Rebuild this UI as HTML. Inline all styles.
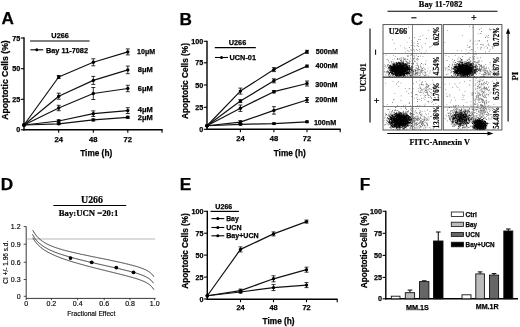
<!DOCTYPE html>
<html><head><meta charset="utf-8"><style>
html,body{margin:0;padding:0;background:#fff;}
body{width:520px;height:327px;overflow:hidden;}
svg{display:block;filter:blur(0.35px);}
.sb{stroke:#000;stroke-width:0.25px;paint-order:stroke;}
.ss{stroke:#000;stroke-width:0.2px;paint-order:stroke;}
.sr{stroke:#000;stroke-width:0.15px;paint-order:stroke;}
</style></head><body>
<svg width="520" height="327" viewBox="0 0 520 327">
<rect width="520" height="327" fill="#fff"/>
<text class="sb" x="1.5" y="24.2" font-family="Liberation Sans, sans-serif" font-size="17.2" font-weight="bold" text-anchor="start" fill="#000">A</text>
<line x1="24" y1="37.3" x2="24" y2="130.5" stroke="#000" stroke-width="1.4"/>
<line x1="23.3" y1="129.8" x2="162.7" y2="129.8" stroke="#000" stroke-width="1.4"/>
<line x1="20.8" y1="38" x2="24" y2="38" stroke="#000" stroke-width="1.1"/>
<text class="sb" x="20.3" y="40.5" font-family="Liberation Sans, sans-serif" font-size="7.2" font-weight="bold" text-anchor="end" fill="#000">75</text>
<line x1="20.8" y1="68.7" x2="24" y2="68.7" stroke="#000" stroke-width="1.1"/>
<text class="sb" x="20.3" y="71.2" font-family="Liberation Sans, sans-serif" font-size="7.2" font-weight="bold" text-anchor="end" fill="#000">50</text>
<line x1="20.8" y1="99.3" x2="24" y2="99.3" stroke="#000" stroke-width="1.1"/>
<text class="sb" x="20.3" y="101.8" font-family="Liberation Sans, sans-serif" font-size="7.2" font-weight="bold" text-anchor="end" fill="#000">25</text>
<line x1="20.8" y1="129.8" x2="24" y2="129.8" stroke="#000" stroke-width="1.1"/>
<text class="sb" x="20.3" y="132.3" font-family="Liberation Sans, sans-serif" font-size="7.2" font-weight="bold" text-anchor="end" fill="#000">0</text>
<line x1="58.7" y1="129.8" x2="58.7" y2="132.8" stroke="#000" stroke-width="1.1"/>
<text class="sb" x="58.7" y="141.6" font-family="Liberation Sans, sans-serif" font-size="7.6" font-weight="bold" text-anchor="middle" fill="#000">24</text>
<line x1="93.3" y1="129.8" x2="93.3" y2="132.8" stroke="#000" stroke-width="1.1"/>
<text class="sb" x="93.3" y="141.6" font-family="Liberation Sans, sans-serif" font-size="7.6" font-weight="bold" text-anchor="middle" fill="#000">48</text>
<line x1="127.8" y1="129.8" x2="127.8" y2="132.8" stroke="#000" stroke-width="1.1"/>
<text class="sb" x="127.8" y="141.6" font-family="Liberation Sans, sans-serif" font-size="7.6" font-weight="bold" text-anchor="middle" fill="#000">72</text>
<line x1="162" y1="129.8" x2="162" y2="132.8" stroke="#000" stroke-width="1.1"/>
<text class="sb" x="96.2" y="156" font-family="Liberation Sans, sans-serif" font-size="8.3" font-weight="bold" text-anchor="middle" fill="#000" textLength="32" lengthAdjust="spacingAndGlyphs">Time (h)</text>
<text class="sb" x="8.2" y="80.0" font-family="Liberation Sans, sans-serif" font-size="8.6" font-weight="bold" text-anchor="middle" fill="#000" transform="rotate(-90 8.2 80.0)" textLength="79.5" lengthAdjust="spacingAndGlyphs">Apoptotic Cells (%)</text>
<text class="sb" x="60.1" y="38.1" font-family="Liberation Sans, sans-serif" font-size="7.4" font-weight="bold" text-anchor="middle" fill="#000" textLength="17.5" lengthAdjust="spacingAndGlyphs">U266</text>
<line x1="30.1" y1="41" x2="89.6" y2="41" stroke="#000" stroke-width="1.2"/>
<line x1="30.4" y1="49.8" x2="43.2" y2="49.8" stroke="#000" stroke-width="1.1"/>
<circle cx="36.8" cy="49.8" r="1.5" fill="#000"/>
<text class="sb" x="46.0" y="52.9" font-family="Liberation Sans, sans-serif" font-size="7.7" font-weight="bold" text-anchor="start" fill="#000" textLength="42" lengthAdjust="spacingAndGlyphs">Bay 11-7082</text>
<polyline points="24,125 58.7,77 93.3,62.3 127.8,51.9" fill="none" stroke="#111" stroke-width="1.2" stroke-linejoin="round"/>
<circle cx="24" cy="125" r="1.7" fill="#000"/>
<line x1="58.7" y1="75.5" x2="58.7" y2="78.5" stroke="#000" stroke-width="0.8"/>
<line x1="56.7" y1="75.5" x2="60.7" y2="75.5" stroke="#000" stroke-width="0.8"/>
<line x1="56.7" y1="78.5" x2="60.7" y2="78.5" stroke="#000" stroke-width="0.8"/>
<circle cx="58.7" cy="77" r="1.7" fill="#000"/>
<line x1="93.3" y1="58.8" x2="93.3" y2="65.8" stroke="#000" stroke-width="0.8"/>
<line x1="91.3" y1="58.8" x2="95.3" y2="58.8" stroke="#000" stroke-width="0.8"/>
<line x1="91.3" y1="65.8" x2="95.3" y2="65.8" stroke="#000" stroke-width="0.8"/>
<circle cx="93.3" cy="62.3" r="1.7" fill="#000"/>
<line x1="127.8" y1="48.9" x2="127.8" y2="54.9" stroke="#000" stroke-width="0.8"/>
<line x1="125.8" y1="48.9" x2="129.8" y2="48.9" stroke="#000" stroke-width="0.8"/>
<line x1="125.8" y1="54.9" x2="129.8" y2="54.9" stroke="#000" stroke-width="0.8"/>
<circle cx="127.8" cy="51.9" r="1.7" fill="#000"/>
<polyline points="24,125 58.7,96.2 93.3,80.4 127.8,69.9" fill="none" stroke="#111" stroke-width="1.2" stroke-linejoin="round"/>
<circle cx="24" cy="125" r="1.7" fill="#000"/>
<line x1="58.7" y1="93.2" x2="58.7" y2="99.2" stroke="#000" stroke-width="0.8"/>
<line x1="56.7" y1="93.2" x2="60.7" y2="93.2" stroke="#000" stroke-width="0.8"/>
<line x1="56.7" y1="99.2" x2="60.7" y2="99.2" stroke="#000" stroke-width="0.8"/>
<circle cx="58.7" cy="96.2" r="1.7" fill="#000"/>
<line x1="93.3" y1="76.4" x2="93.3" y2="84.4" stroke="#000" stroke-width="0.8"/>
<line x1="91.3" y1="76.4" x2="95.3" y2="76.4" stroke="#000" stroke-width="0.8"/>
<line x1="91.3" y1="84.4" x2="95.3" y2="84.4" stroke="#000" stroke-width="0.8"/>
<circle cx="93.3" cy="80.4" r="1.7" fill="#000"/>
<line x1="127.8" y1="66.10000000000001" x2="127.8" y2="73.7" stroke="#000" stroke-width="0.8"/>
<line x1="125.8" y1="66.10000000000001" x2="129.8" y2="66.10000000000001" stroke="#000" stroke-width="0.8"/>
<line x1="125.8" y1="73.7" x2="129.8" y2="73.7" stroke="#000" stroke-width="0.8"/>
<circle cx="127.8" cy="69.9" r="1.7" fill="#000"/>
<polyline points="24,125 58.7,108 93.3,93.5 127.8,88.5" fill="none" stroke="#111" stroke-width="1.2" stroke-linejoin="round"/>
<circle cx="24" cy="125" r="1.7" fill="#000"/>
<line x1="58.7" y1="105.3" x2="58.7" y2="110.7" stroke="#000" stroke-width="0.8"/>
<line x1="56.7" y1="105.3" x2="60.7" y2="105.3" stroke="#000" stroke-width="0.8"/>
<line x1="56.7" y1="110.7" x2="60.7" y2="110.7" stroke="#000" stroke-width="0.8"/>
<circle cx="58.7" cy="108" r="1.7" fill="#000"/>
<line x1="93.3" y1="87.5" x2="93.3" y2="99.5" stroke="#000" stroke-width="0.8"/>
<line x1="91.3" y1="87.5" x2="95.3" y2="87.5" stroke="#000" stroke-width="0.8"/>
<line x1="91.3" y1="99.5" x2="95.3" y2="99.5" stroke="#000" stroke-width="0.8"/>
<circle cx="93.3" cy="93.5" r="1.7" fill="#000"/>
<line x1="127.8" y1="85.3" x2="127.8" y2="91.7" stroke="#000" stroke-width="0.8"/>
<line x1="125.8" y1="85.3" x2="129.8" y2="85.3" stroke="#000" stroke-width="0.8"/>
<line x1="125.8" y1="91.7" x2="129.8" y2="91.7" stroke="#000" stroke-width="0.8"/>
<circle cx="127.8" cy="88.5" r="1.7" fill="#000"/>
<polyline points="24,125 58.7,121 93.3,113.7 127.8,110.6" fill="none" stroke="#111" stroke-width="1.2" stroke-linejoin="round"/>
<circle cx="24" cy="125" r="1.7" fill="#000"/>
<line x1="58.7" y1="119.8" x2="58.7" y2="122.2" stroke="#000" stroke-width="0.8"/>
<line x1="56.7" y1="119.8" x2="60.7" y2="119.8" stroke="#000" stroke-width="0.8"/>
<line x1="56.7" y1="122.2" x2="60.7" y2="122.2" stroke="#000" stroke-width="0.8"/>
<circle cx="58.7" cy="121" r="1.7" fill="#000"/>
<line x1="93.3" y1="110.9" x2="93.3" y2="116.5" stroke="#000" stroke-width="0.8"/>
<line x1="91.3" y1="110.9" x2="95.3" y2="110.9" stroke="#000" stroke-width="0.8"/>
<line x1="91.3" y1="116.5" x2="95.3" y2="116.5" stroke="#000" stroke-width="0.8"/>
<circle cx="93.3" cy="113.7" r="1.7" fill="#000"/>
<line x1="127.8" y1="107.69999999999999" x2="127.8" y2="113.5" stroke="#000" stroke-width="0.8"/>
<line x1="125.8" y1="107.69999999999999" x2="129.8" y2="107.69999999999999" stroke="#000" stroke-width="0.8"/>
<line x1="125.8" y1="113.5" x2="129.8" y2="113.5" stroke="#000" stroke-width="0.8"/>
<circle cx="127.8" cy="110.6" r="1.7" fill="#000"/>
<polyline points="24,125 58.7,123.8 93.3,119.9 127.8,117.3" fill="none" stroke="#111" stroke-width="1.2" stroke-linejoin="round"/>
<circle cx="24" cy="125" r="1.7" fill="#000"/>
<line x1="58.7" y1="123.0" x2="58.7" y2="124.6" stroke="#000" stroke-width="0.8"/>
<line x1="56.7" y1="123.0" x2="60.7" y2="123.0" stroke="#000" stroke-width="0.8"/>
<line x1="56.7" y1="124.6" x2="60.7" y2="124.6" stroke="#000" stroke-width="0.8"/>
<circle cx="58.7" cy="123.8" r="1.7" fill="#000"/>
<line x1="93.3" y1="118.9" x2="93.3" y2="120.9" stroke="#000" stroke-width="0.8"/>
<line x1="91.3" y1="118.9" x2="95.3" y2="118.9" stroke="#000" stroke-width="0.8"/>
<line x1="91.3" y1="120.9" x2="95.3" y2="120.9" stroke="#000" stroke-width="0.8"/>
<circle cx="93.3" cy="119.9" r="1.7" fill="#000"/>
<line x1="127.8" y1="116.3" x2="127.8" y2="118.3" stroke="#000" stroke-width="0.8"/>
<line x1="125.8" y1="116.3" x2="129.8" y2="116.3" stroke="#000" stroke-width="0.8"/>
<line x1="125.8" y1="118.3" x2="129.8" y2="118.3" stroke="#000" stroke-width="0.8"/>
<circle cx="127.8" cy="117.3" r="1.7" fill="#000"/>
<text class="sb" x="137.1" y="53.6" font-family="Liberation Sans, sans-serif" font-size="7.4" font-weight="bold" text-anchor="start" fill="#000" textLength="18" lengthAdjust="spacingAndGlyphs">10&#956;M</text>
<text class="sb" x="137.8" y="71.5" font-family="Liberation Sans, sans-serif" font-size="7.4" font-weight="bold" text-anchor="start" fill="#000" textLength="15" lengthAdjust="spacingAndGlyphs">8&#956;M</text>
<text class="sb" x="137.8" y="90.8" font-family="Liberation Sans, sans-serif" font-size="7.4" font-weight="bold" text-anchor="start" fill="#000" textLength="15" lengthAdjust="spacingAndGlyphs">6&#956;M</text>
<text class="sb" x="137.8" y="112.0" font-family="Liberation Sans, sans-serif" font-size="7.4" font-weight="bold" text-anchor="start" fill="#000" textLength="15" lengthAdjust="spacingAndGlyphs">4&#956;M</text>
<text class="sb" x="137.8" y="120.39999999999999" font-family="Liberation Sans, sans-serif" font-size="7.4" font-weight="bold" text-anchor="start" fill="#000" textLength="15" lengthAdjust="spacingAndGlyphs">2&#956;M</text>
<text class="sb" x="179.5" y="24.7" font-family="Liberation Sans, sans-serif" font-size="17.2" font-weight="bold" text-anchor="start" fill="#000">B</text>
<line x1="207" y1="40.8" x2="207" y2="130.0" stroke="#000" stroke-width="1.4"/>
<line x1="206.3" y1="129.3" x2="340.7" y2="129.3" stroke="#000" stroke-width="1.4"/>
<line x1="203.8" y1="41.3" x2="207" y2="41.3" stroke="#000" stroke-width="1.1"/>
<text class="sb" x="203.3" y="43.8" font-family="Liberation Sans, sans-serif" font-size="7.2" font-weight="bold" text-anchor="end" fill="#000">100</text>
<line x1="203.8" y1="62.8" x2="207" y2="62.8" stroke="#000" stroke-width="1.1"/>
<text class="sb" x="203.3" y="65.3" font-family="Liberation Sans, sans-serif" font-size="7.2" font-weight="bold" text-anchor="end" fill="#000">75</text>
<line x1="203.8" y1="85" x2="207" y2="85" stroke="#000" stroke-width="1.1"/>
<text class="sb" x="203.3" y="87.5" font-family="Liberation Sans, sans-serif" font-size="7.2" font-weight="bold" text-anchor="end" fill="#000">50</text>
<line x1="203.8" y1="107.3" x2="207" y2="107.3" stroke="#000" stroke-width="1.1"/>
<text class="sb" x="203.3" y="109.8" font-family="Liberation Sans, sans-serif" font-size="7.2" font-weight="bold" text-anchor="end" fill="#000">25</text>
<line x1="203.8" y1="129.3" x2="207" y2="129.3" stroke="#000" stroke-width="1.1"/>
<text class="sb" x="203.3" y="131.8" font-family="Liberation Sans, sans-serif" font-size="7.2" font-weight="bold" text-anchor="end" fill="#000">0</text>
<line x1="240.4" y1="129.3" x2="240.4" y2="132.3" stroke="#000" stroke-width="1.1"/>
<text class="sb" x="240.4" y="140.8" font-family="Liberation Sans, sans-serif" font-size="7.6" font-weight="bold" text-anchor="middle" fill="#000">24</text>
<line x1="273.9" y1="129.3" x2="273.9" y2="132.3" stroke="#000" stroke-width="1.1"/>
<text class="sb" x="273.9" y="140.8" font-family="Liberation Sans, sans-serif" font-size="7.6" font-weight="bold" text-anchor="middle" fill="#000">48</text>
<line x1="307" y1="129.3" x2="307" y2="132.3" stroke="#000" stroke-width="1.1"/>
<text class="sb" x="307" y="140.8" font-family="Liberation Sans, sans-serif" font-size="7.6" font-weight="bold" text-anchor="middle" fill="#000">72</text>
<line x1="340.2" y1="129.3" x2="340.2" y2="132.3" stroke="#000" stroke-width="1.1"/>
<text class="sb" x="289.7" y="156" font-family="Liberation Sans, sans-serif" font-size="8.3" font-weight="bold" text-anchor="middle" fill="#000" textLength="32" lengthAdjust="spacingAndGlyphs">Time (h)</text>
<text class="sb" x="188.0" y="81.0" font-family="Liberation Sans, sans-serif" font-size="8.4" font-weight="bold" text-anchor="middle" fill="#000" transform="rotate(-90 188.0 81.0)" textLength="75.8" lengthAdjust="spacingAndGlyphs">Apoptotic Cells (%)</text>
<text class="sb" x="237.5" y="45.0" font-family="Liberation Sans, sans-serif" font-size="7.4" font-weight="bold" text-anchor="middle" fill="#000" textLength="17.5" lengthAdjust="spacingAndGlyphs">U266</text>
<line x1="214.8" y1="47.6" x2="255.8" y2="47.6" stroke="#000" stroke-width="1.2"/>
<line x1="215" y1="57.5" x2="228" y2="57.5" stroke="#000" stroke-width="1.1"/>
<circle cx="221.5" cy="57.5" r="1.5" fill="#000"/>
<text class="sb" x="229.5" y="60.3" font-family="Liberation Sans, sans-serif" font-size="7.7" font-weight="bold" text-anchor="start" fill="#000" textLength="26.5" lengthAdjust="spacingAndGlyphs">UCN-01</text>
<polyline points="207,125.75 240.4,91.1 273.9,69.6 307,51.8" fill="none" stroke="#111" stroke-width="1.2" stroke-linejoin="round"/>
<circle cx="207" cy="125.75" r="1.7" fill="#000"/>
<line x1="240.4" y1="88.1" x2="240.4" y2="94.1" stroke="#000" stroke-width="0.8"/>
<line x1="238.4" y1="88.1" x2="242.4" y2="88.1" stroke="#000" stroke-width="0.8"/>
<line x1="238.4" y1="94.1" x2="242.4" y2="94.1" stroke="#000" stroke-width="0.8"/>
<circle cx="240.4" cy="91.1" r="1.7" fill="#000"/>
<line x1="273.9" y1="67.6" x2="273.9" y2="71.6" stroke="#000" stroke-width="0.8"/>
<line x1="271.9" y1="67.6" x2="275.9" y2="67.6" stroke="#000" stroke-width="0.8"/>
<line x1="271.9" y1="71.6" x2="275.9" y2="71.6" stroke="#000" stroke-width="0.8"/>
<circle cx="273.9" cy="69.6" r="1.7" fill="#000"/>
<line x1="307" y1="50.3" x2="307" y2="53.3" stroke="#000" stroke-width="0.8"/>
<line x1="305" y1="50.3" x2="309" y2="50.3" stroke="#000" stroke-width="0.8"/>
<line x1="305" y1="53.3" x2="309" y2="53.3" stroke="#000" stroke-width="0.8"/>
<circle cx="307" cy="51.8" r="1.7" fill="#000"/>
<polyline points="207,125.75 240.4,101.1 273.9,80.8 307,66.1" fill="none" stroke="#111" stroke-width="1.2" stroke-linejoin="round"/>
<circle cx="207" cy="125.75" r="1.7" fill="#000"/>
<line x1="240.4" y1="99.6" x2="240.4" y2="102.6" stroke="#000" stroke-width="0.8"/>
<line x1="238.4" y1="99.6" x2="242.4" y2="99.6" stroke="#000" stroke-width="0.8"/>
<line x1="238.4" y1="102.6" x2="242.4" y2="102.6" stroke="#000" stroke-width="0.8"/>
<circle cx="240.4" cy="101.1" r="1.7" fill="#000"/>
<line x1="273.9" y1="78.8" x2="273.9" y2="82.8" stroke="#000" stroke-width="0.8"/>
<line x1="271.9" y1="78.8" x2="275.9" y2="78.8" stroke="#000" stroke-width="0.8"/>
<line x1="271.9" y1="82.8" x2="275.9" y2="82.8" stroke="#000" stroke-width="0.8"/>
<circle cx="273.9" cy="80.8" r="1.7" fill="#000"/>
<line x1="307" y1="65.1" x2="307" y2="67.1" stroke="#000" stroke-width="0.8"/>
<line x1="305" y1="65.1" x2="309" y2="65.1" stroke="#000" stroke-width="0.8"/>
<line x1="305" y1="67.1" x2="309" y2="67.1" stroke="#000" stroke-width="0.8"/>
<circle cx="307" cy="66.1" r="1.7" fill="#000"/>
<polyline points="207,125.75 240.4,108.2 273.9,91.7 307,83.5" fill="none" stroke="#111" stroke-width="1.2" stroke-linejoin="round"/>
<circle cx="207" cy="125.75" r="1.7" fill="#000"/>
<line x1="240.4" y1="105.0" x2="240.4" y2="111.4" stroke="#000" stroke-width="0.8"/>
<line x1="238.4" y1="105.0" x2="242.4" y2="105.0" stroke="#000" stroke-width="0.8"/>
<line x1="238.4" y1="111.4" x2="242.4" y2="111.4" stroke="#000" stroke-width="0.8"/>
<circle cx="240.4" cy="108.2" r="1.7" fill="#000"/>
<line x1="273.9" y1="90.5" x2="273.9" y2="92.9" stroke="#000" stroke-width="0.8"/>
<line x1="271.9" y1="90.5" x2="275.9" y2="90.5" stroke="#000" stroke-width="0.8"/>
<line x1="271.9" y1="92.9" x2="275.9" y2="92.9" stroke="#000" stroke-width="0.8"/>
<circle cx="273.9" cy="91.7" r="1.7" fill="#000"/>
<line x1="307" y1="81.0" x2="307" y2="86.0" stroke="#000" stroke-width="0.8"/>
<line x1="305" y1="81.0" x2="309" y2="81.0" stroke="#000" stroke-width="0.8"/>
<line x1="305" y1="86.0" x2="309" y2="86.0" stroke="#000" stroke-width="0.8"/>
<circle cx="307" cy="83.5" r="1.7" fill="#000"/>
<polyline points="207,125.75 240.4,122.1 273.9,110.4 307,100" fill="none" stroke="#111" stroke-width="1.2" stroke-linejoin="round"/>
<circle cx="207" cy="125.75" r="1.7" fill="#000"/>
<line x1="240.4" y1="120.6" x2="240.4" y2="123.6" stroke="#000" stroke-width="0.8"/>
<line x1="238.4" y1="120.6" x2="242.4" y2="120.6" stroke="#000" stroke-width="0.8"/>
<line x1="238.4" y1="123.6" x2="242.4" y2="123.6" stroke="#000" stroke-width="0.8"/>
<circle cx="240.4" cy="122.1" r="1.7" fill="#000"/>
<line x1="273.9" y1="106.7" x2="273.9" y2="114.10000000000001" stroke="#000" stroke-width="0.8"/>
<line x1="271.9" y1="106.7" x2="275.9" y2="106.7" stroke="#000" stroke-width="0.8"/>
<line x1="271.9" y1="114.10000000000001" x2="275.9" y2="114.10000000000001" stroke="#000" stroke-width="0.8"/>
<circle cx="273.9" cy="110.4" r="1.7" fill="#000"/>
<line x1="307" y1="97.5" x2="307" y2="102.5" stroke="#000" stroke-width="0.8"/>
<line x1="305" y1="97.5" x2="309" y2="97.5" stroke="#000" stroke-width="0.8"/>
<line x1="305" y1="102.5" x2="309" y2="102.5" stroke="#000" stroke-width="0.8"/>
<circle cx="307" cy="100" r="1.7" fill="#000"/>
<polyline points="207,125.75 240.4,124.3 273.9,123.6 307,121.8" fill="none" stroke="#111" stroke-width="1.2" stroke-linejoin="round"/>
<circle cx="207" cy="125.75" r="1.7" fill="#000"/>
<line x1="240.4" y1="123.5" x2="240.4" y2="125.1" stroke="#000" stroke-width="0.8"/>
<line x1="238.4" y1="123.5" x2="242.4" y2="123.5" stroke="#000" stroke-width="0.8"/>
<line x1="238.4" y1="125.1" x2="242.4" y2="125.1" stroke="#000" stroke-width="0.8"/>
<circle cx="240.4" cy="124.3" r="1.7" fill="#000"/>
<line x1="273.9" y1="122.8" x2="273.9" y2="124.39999999999999" stroke="#000" stroke-width="0.8"/>
<line x1="271.9" y1="122.8" x2="275.9" y2="122.8" stroke="#000" stroke-width="0.8"/>
<line x1="271.9" y1="124.39999999999999" x2="275.9" y2="124.39999999999999" stroke="#000" stroke-width="0.8"/>
<circle cx="273.9" cy="123.6" r="1.7" fill="#000"/>
<line x1="307" y1="121.0" x2="307" y2="122.6" stroke="#000" stroke-width="0.8"/>
<line x1="305" y1="121.0" x2="309" y2="121.0" stroke="#000" stroke-width="0.8"/>
<line x1="305" y1="122.6" x2="309" y2="122.6" stroke="#000" stroke-width="0.8"/>
<circle cx="307" cy="121.8" r="1.7" fill="#000"/>
<text class="sb" x="315.8" y="54.2" font-family="Liberation Sans, sans-serif" font-size="7.4" font-weight="bold" text-anchor="start" fill="#000" textLength="22.3" lengthAdjust="spacingAndGlyphs">500nM</text>
<text class="sb" x="315.5" y="67.89999999999999" font-family="Liberation Sans, sans-serif" font-size="7.4" font-weight="bold" text-anchor="start" fill="#000" textLength="22.3" lengthAdjust="spacingAndGlyphs">400nM</text>
<text class="sb" x="315.3" y="87.19999999999999" font-family="Liberation Sans, sans-serif" font-size="7.4" font-weight="bold" text-anchor="start" fill="#000" textLength="22.3" lengthAdjust="spacingAndGlyphs">300nM</text>
<text class="sb" x="315.3" y="101.8" font-family="Liberation Sans, sans-serif" font-size="7.4" font-weight="bold" text-anchor="start" fill="#000" textLength="22.3" lengthAdjust="spacingAndGlyphs">200nM</text>
<text class="sb" x="313.9" y="124.5" font-family="Liberation Sans, sans-serif" font-size="7.4" font-weight="bold" text-anchor="start" fill="#000" textLength="22.3" lengthAdjust="spacingAndGlyphs">100nM</text>
<text class="sb" x="0.8" y="190.2" font-family="Liberation Sans, sans-serif" font-size="17.2" font-weight="bold" text-anchor="start" fill="#000">D</text>
<text class="ss" x="92" y="202.8" font-family="Liberation Serif, serif" font-size="9.8" font-weight="bold" text-anchor="middle" fill="#000" textLength="22" lengthAdjust="spacingAndGlyphs">U266</text>
<line x1="53.4" y1="205.5" x2="126.2" y2="205.5" stroke="#000" stroke-width="1.1"/>
<text class="ss" x="88.5" y="216.3" font-family="Liberation Serif, serif" font-size="8.5" font-weight="bold" text-anchor="middle" fill="#000" textLength="59.5" lengthAdjust="spacingAndGlyphs">Bay:UCN =20:1</text>
<line x1="26.2" y1="226.5" x2="26.2" y2="300" stroke="#222" stroke-width="0.9"/>
<line x1="26.2" y1="298.4" x2="155.5" y2="298.4" stroke="#222" stroke-width="0.9"/>
<line x1="23.7" y1="226.5" x2="26.2" y2="226.5" stroke="#222" stroke-width="0.8"/>
<text class="sr" x="20.6" y="229.0" font-family="Liberation Sans, sans-serif" font-size="7" text-anchor="end" fill="#000">1.2</text>
<line x1="23.7" y1="244.2" x2="26.2" y2="244.2" stroke="#222" stroke-width="0.8"/>
<text class="sr" x="20.6" y="246.7" font-family="Liberation Sans, sans-serif" font-size="7" text-anchor="end" fill="#000">0.9</text>
<line x1="23.7" y1="262.3" x2="26.2" y2="262.3" stroke="#222" stroke-width="0.8"/>
<text class="sr" x="20.6" y="264.8" font-family="Liberation Sans, sans-serif" font-size="7" text-anchor="end" fill="#000">0.6</text>
<line x1="23.7" y1="279.5" x2="26.2" y2="279.5" stroke="#222" stroke-width="0.8"/>
<text class="sr" x="20.6" y="282.0" font-family="Liberation Sans, sans-serif" font-size="7" text-anchor="end" fill="#000">0.3</text>
<line x1="23.7" y1="296.3" x2="26.2" y2="296.3" stroke="#222" stroke-width="0.8"/>
<text class="sr" x="20.6" y="298.8" font-family="Liberation Sans, sans-serif" font-size="7" text-anchor="end" fill="#000">0</text>
<text class="sr" x="26.1" y="305.6" font-family="Liberation Sans, sans-serif" font-size="7" text-anchor="middle" fill="#000">0</text>
<line x1="51.4" y1="298.4" x2="51.4" y2="300.2" stroke="#222" stroke-width="0.8"/>
<text class="sr" x="51.4" y="305.6" font-family="Liberation Sans, sans-serif" font-size="7" text-anchor="middle" fill="#000">0.2</text>
<line x1="77.7" y1="298.4" x2="77.7" y2="300.2" stroke="#222" stroke-width="0.8"/>
<text class="sr" x="77.7" y="305.6" font-family="Liberation Sans, sans-serif" font-size="7" text-anchor="middle" fill="#000">0.4</text>
<line x1="104.2" y1="298.4" x2="104.2" y2="300.2" stroke="#222" stroke-width="0.8"/>
<text class="sr" x="104.2" y="305.6" font-family="Liberation Sans, sans-serif" font-size="7" text-anchor="middle" fill="#000">0.6</text>
<line x1="130" y1="298.4" x2="130" y2="300.2" stroke="#222" stroke-width="0.8"/>
<text class="sr" x="130" y="305.6" font-family="Liberation Sans, sans-serif" font-size="7" text-anchor="middle" fill="#000">0.8</text>
<line x1="154.7" y1="298.4" x2="154.7" y2="300.2" stroke="#222" stroke-width="0.8"/>
<text class="sr" x="154.7" y="305.6" font-family="Liberation Sans, sans-serif" font-size="7" text-anchor="middle" fill="#000">1.0</text>
<text class="sr" x="91.3" y="316.2" font-family="Liberation Sans, sans-serif" font-size="7" text-anchor="middle" fill="#000" textLength="48" lengthAdjust="spacingAndGlyphs">Fractional Effect</text>
<text class="sr" x="8.2" y="262.2" font-family="Liberation Sans, sans-serif" font-size="6.9" text-anchor="middle" fill="#000" transform="rotate(-90 8.2 262.2)" textLength="43" lengthAdjust="spacingAndGlyphs">CI +/- 1.96 s.d.</text>
<line x1="26.2" y1="239" x2="155" y2="239" stroke="#999" stroke-width="0.7"/>
<path d="M32.8,230.3 L33.3,231.2 L33.8,232.1 L34.3,232.9 L34.8,233.6 L35.3,234.3 L35.8,235.0 L36.3,235.6 L36.8,236.2 L37.3,236.8 L37.8,237.3 L38.3,237.8 L38.8,238.3 L39.3,238.8 L39.8,239.2 L40.3,239.6 L40.8,240.0 L41.3,240.4 L41.8,240.8 L42.3,241.2 L42.8,241.5 L43.3,241.8 L43.8,242.2 L44.3,242.5 L44.8,242.8 L45.3,243.0 L45.8,243.3 L46.3,243.6 L46.8,243.9 L47.3,244.1 L47.8,244.4 L48.3,244.6 L48.8,244.9 L49.3,245.1 L49.8,245.3 L50.3,245.5 L50.8,245.7 L51.3,245.9 L51.8,246.2 L52.3,246.4 L52.8,246.5 L53.3,246.7 L53.8,246.9 L54.3,247.1 L54.8,247.3 L55.3,247.5 L55.8,247.6 L56.3,247.8 L56.8,248.0 L57.3,248.1 L57.8,248.3 L58.3,248.5 L58.8,248.6 L59.3,248.8 L59.8,248.9 L60.3,249.1 L60.8,249.2 L61.3,249.4 L61.8,249.5 L62.3,249.7 L62.8,249.8 L63.3,250.0 L63.8,250.1 L64.3,250.2 L64.8,250.4 L65.3,250.5 L65.8,250.6 L66.3,250.8 L66.8,250.9 L67.3,251.0 L67.8,251.1 L68.3,251.3 L68.8,251.4 L69.3,251.5 L69.8,251.6 L70.3,251.8 L70.8,251.9 L71.3,252.0 L71.8,252.1 L72.3,252.2 L72.8,252.4 L73.3,252.5 L73.8,252.6 L74.3,252.7 L74.8,252.8 L75.3,252.9 L75.8,253.1 L76.3,253.2 L76.8,253.3 L77.3,253.4 L77.8,253.5 L78.3,253.6 L78.8,253.7 L79.3,253.8 L79.8,253.9 L80.3,254.1 L80.8,254.2 L81.3,254.3 L81.8,254.4 L82.3,254.5 L82.8,254.6 L83.3,254.7 L83.8,254.8 L84.3,254.9 L84.8,255.0 L85.3,255.1 L85.8,255.2 L86.3,255.3 L86.8,255.4 L87.3,255.5 L87.8,255.6 L88.3,255.7 L88.8,255.8 L89.3,255.9 L89.8,256.1 L90.3,256.2 L90.8,256.3 L91.3,256.4 L91.8,256.5 L92.3,256.6 L92.8,256.7 L93.3,256.8 L93.8,256.9 L94.3,257.0 L94.8,257.1 L95.3,257.2 L95.8,257.3 L96.3,257.4 L96.8,257.5 L97.3,257.6 L97.8,257.7 L98.3,257.8 L98.8,257.9 L99.3,258.0 L99.8,258.1 L100.3,258.2 L100.8,258.3 L101.3,258.4 L101.8,258.5 L102.3,258.6 L102.8,258.7 L103.3,258.8 L103.8,258.9 L104.3,259.0 L104.8,259.1 L105.3,259.2 L105.8,259.3 L106.3,259.4 L106.8,259.5 L107.3,259.6 L107.8,259.7 L108.3,259.8 L108.8,259.9 L109.3,260.0 L109.8,260.1 L110.3,260.3 L110.8,260.4 L111.3,260.5 L111.8,260.6 L112.3,260.7 L112.8,260.8 L113.3,260.9 L113.8,261.0 L114.3,261.1 L114.8,261.2 L115.3,261.3 L115.8,261.4 L116.3,261.5 L116.8,261.6 L117.3,261.7 L117.8,261.9 L118.3,262.0 L118.8,262.1 L119.3,262.2 L119.8,262.3 L120.3,262.4 L120.8,262.5 L121.3,262.6 L121.8,262.7 L122.3,262.9 L122.8,263.0 L123.3,263.1 L123.8,263.2 L124.3,263.3 L124.8,263.4 L125.3,263.6 L125.8,263.7 L126.3,263.8 L126.8,263.9 L127.3,264.0 L127.8,264.2 L128.3,264.3 L128.8,264.4 L129.3,264.5 L129.8,264.7 L130.3,264.8 L130.8,264.9 L131.3,265.0 L131.8,265.2 L132.3,265.3 L132.8,265.4 L133.3,265.6 L133.8,265.7 L134.3,265.9 L134.8,266.0 L135.3,266.1 L135.8,266.3 L136.3,266.4 L136.8,266.6 L137.3,266.7 L137.8,266.9 L138.3,267.0 L138.8,267.2 L139.3,267.4 L139.8,267.5 L140.3,267.7 L140.8,267.9 L141.3,268.1 L141.8,268.3 L142.3,268.4 L142.8,268.6 L143.3,268.8 L143.8,269.0 L144.3,269.3 L144.8,269.5 L145.3,269.7 L145.8,269.9 L146.3,270.2 L146.8,270.5 L147.3,270.7 L147.8,271.0 L148.3,271.3 L148.8,271.6 L149.3,272.0 L149.8,272.3 L150.3,272.7 L150.8,273.2 L151.3,273.6 L151.8,274.1 L152.3,274.7 L152.8,275.3 L153.3,275.9 L153.8,276.7" fill="none" stroke="#222" stroke-width="0.9"/>
<path d="M32.5,234.4 L33.0,235.3 L33.5,236.2 L34.0,237.0 L34.5,237.7 L35.0,238.5 L35.5,239.1 L36.0,239.7 L36.5,240.3 L37.0,240.9 L37.5,241.5 L38.0,242.0 L38.5,242.5 L39.0,242.9 L39.5,243.4 L40.0,243.8 L40.5,244.2 L41.0,244.6 L41.5,245.0 L42.0,245.4 L42.5,245.7 L43.0,246.1 L43.5,246.4 L44.0,246.7 L44.5,247.1 L45.0,247.4 L45.5,247.7 L46.0,248.0 L46.5,248.2 L47.0,248.5 L47.5,248.8 L48.0,249.0 L48.5,249.3 L49.0,249.5 L49.5,249.8 L50.0,250.0 L50.5,250.3 L51.0,250.5 L51.5,250.7 L52.0,250.9 L52.5,251.1 L53.0,251.3 L53.5,251.6 L54.0,251.8 L54.5,252.0 L55.0,252.2 L55.5,252.4 L56.0,252.5 L56.5,252.7 L57.0,252.9 L57.5,253.1 L58.0,253.3 L58.5,253.5 L59.0,253.6 L59.5,253.8 L60.0,254.0 L60.5,254.1 L61.0,254.3 L61.5,254.5 L62.0,254.6 L62.5,254.8 L63.0,255.0 L63.5,255.1 L64.0,255.3 L64.5,255.4 L65.0,255.6 L65.5,255.7 L66.0,255.9 L66.5,256.0 L67.0,256.2 L67.5,256.3 L68.0,256.5 L68.5,256.6 L69.0,256.8 L69.5,256.9 L70.0,257.0 L70.5,257.2 L71.0,257.3 L71.5,257.5 L72.0,257.6 L72.5,257.7 L73.0,257.9 L73.5,258.0 L74.0,258.1 L74.5,258.3 L75.0,258.4 L75.5,258.5 L76.0,258.7 L76.5,258.8 L77.0,258.9 L77.5,259.1 L78.0,259.2 L78.5,259.3 L79.0,259.4 L79.5,259.6 L80.0,259.7 L80.5,259.8 L81.0,259.9 L81.5,260.1 L82.0,260.2 L82.5,260.3 L83.0,260.4 L83.5,260.6 L84.0,260.7 L84.5,260.8 L85.0,260.9 L85.5,261.0 L86.0,261.2 L86.5,261.3 L87.0,261.4 L87.5,261.5 L88.0,261.6 L88.5,261.8 L89.0,261.9 L89.5,262.0 L90.0,262.1 L90.5,262.2 L91.0,262.3 L91.5,262.5 L92.0,262.6 L92.5,262.7 L93.0,262.8 L93.5,262.9 L94.0,263.0 L94.5,263.1 L95.0,263.3 L95.5,263.4 L96.0,263.5 L96.5,263.6 L97.0,263.7 L97.5,263.8 L98.0,263.9 L98.5,264.1 L99.0,264.2 L99.5,264.3 L100.0,264.4 L100.5,264.5 L101.0,264.6 L101.5,264.7 L102.0,264.9 L102.5,265.0 L103.0,265.1 L103.5,265.2 L104.0,265.3 L104.5,265.4 L105.0,265.5 L105.5,265.6 L106.0,265.8 L106.5,265.9 L107.0,266.0 L107.5,266.1 L108.0,266.2 L108.5,266.3 L109.0,266.4 L109.5,266.5 L110.0,266.7 L110.5,266.8 L111.0,266.9 L111.5,267.0 L112.0,267.1 L112.5,267.2 L113.0,267.3 L113.5,267.4 L114.0,267.6 L114.5,267.7 L115.0,267.8 L115.5,267.9 L116.0,268.0 L116.5,268.1 L117.0,268.2 L117.5,268.4 L118.0,268.5 L118.5,268.6 L119.0,268.7 L119.5,268.8 L120.0,268.9 L120.5,269.1 L121.0,269.2 L121.5,269.3 L122.0,269.4 L122.5,269.5 L123.0,269.7 L123.5,269.8 L124.0,269.9 L124.5,270.0 L125.0,270.1 L125.5,270.3 L126.0,270.4 L126.5,270.5 L127.0,270.6 L127.5,270.8 L128.0,270.9 L128.5,271.0 L129.0,271.1 L129.5,271.3 L130.0,271.4 L130.5,271.5 L131.0,271.7 L131.5,271.8 L132.0,271.9 L132.5,272.1 L133.0,272.2 L133.5,272.4 L134.0,272.5 L134.5,272.6 L135.0,272.8 L135.5,272.9 L136.0,273.1 L136.5,273.2 L137.0,273.4 L137.5,273.5 L138.0,273.7 L138.5,273.9 L139.0,274.0 L139.5,274.2 L140.0,274.4 L140.5,274.5 L141.0,274.7 L141.5,274.9 L142.0,275.1 L142.5,275.3 L143.0,275.5 L143.5,275.7 L144.0,275.9 L144.5,276.1 L145.0,276.4 L145.5,276.6 L146.0,276.8 L146.5,277.1 L147.0,277.4 L147.5,277.7 L148.0,278.0 L148.5,278.3 L149.0,278.6 L149.5,279.0 L150.0,279.4 L150.5,279.8 L151.0,280.2 L151.5,280.7 L152.0,281.3 L152.5,281.9 L153.0,282.5 L153.5,283.2" fill="none" stroke="#222" stroke-width="0.9"/>
<path d="M32.8,237.7 L33.3,238.6 L33.8,239.4 L34.3,240.2 L34.8,240.9 L35.3,241.6 L35.8,242.3 L36.3,242.9 L36.8,243.5 L37.3,244.0 L37.8,244.6 L38.3,245.1 L38.8,245.6 L39.3,246.1 L39.8,246.5 L40.3,246.9 L40.8,247.4 L41.3,247.8 L41.8,248.2 L42.3,248.6 L42.8,248.9 L43.3,249.3 L43.8,249.6 L44.3,250.0 L44.8,250.3 L45.3,250.6 L45.8,250.9 L46.3,251.2 L46.8,251.5 L47.3,251.8 L47.8,252.1 L48.3,252.4 L48.8,252.6 L49.3,252.9 L49.8,253.2 L50.3,253.4 L50.8,253.7 L51.3,253.9 L51.8,254.1 L52.3,254.4 L52.8,254.6 L53.3,254.8 L53.8,255.1 L54.3,255.3 L54.8,255.5 L55.3,255.7 L55.8,255.9 L56.3,256.1 L56.8,256.3 L57.3,256.5 L57.8,256.7 L58.3,256.9 L58.8,257.1 L59.3,257.3 L59.8,257.5 L60.3,257.7 L60.8,257.9 L61.3,258.1 L61.8,258.3 L62.3,258.4 L62.8,258.6 L63.3,258.8 L63.8,259.0 L64.3,259.2 L64.8,259.3 L65.3,259.5 L65.8,259.7 L66.3,259.8 L66.8,260.0 L67.3,260.2 L67.8,260.3 L68.3,260.5 L68.8,260.7 L69.3,260.8 L69.8,261.0 L70.3,261.1 L70.8,261.3 L71.3,261.4 L71.8,261.6 L72.3,261.7 L72.8,261.9 L73.3,262.1 L73.8,262.2 L74.3,262.4 L74.8,262.5 L75.3,262.6 L75.8,262.8 L76.3,262.9 L76.8,263.1 L77.3,263.2 L77.8,263.4 L78.3,263.5 L78.8,263.7 L79.3,263.8 L79.8,263.9 L80.3,264.1 L80.8,264.2 L81.3,264.4 L81.8,264.5 L82.3,264.6 L82.8,264.8 L83.3,264.9 L83.8,265.1 L84.3,265.2 L84.8,265.3 L85.3,265.5 L85.8,265.6 L86.3,265.7 L86.8,265.9 L87.3,266.0 L87.8,266.1 L88.3,266.3 L88.8,266.4 L89.3,266.5 L89.8,266.7 L90.3,266.8 L90.8,266.9 L91.3,267.0 L91.8,267.2 L92.3,267.3 L92.8,267.4 L93.3,267.6 L93.8,267.7 L94.3,267.8 L94.8,267.9 L95.3,268.1 L95.8,268.2 L96.3,268.3 L96.8,268.5 L97.3,268.6 L97.8,268.7 L98.3,268.8 L98.8,269.0 L99.3,269.1 L99.8,269.2 L100.3,269.3 L100.8,269.5 L101.3,269.6 L101.8,269.7 L102.3,269.8 L102.8,270.0 L103.3,270.1 L103.8,270.2 L104.3,270.3 L104.8,270.4 L105.3,270.6 L105.8,270.7 L106.3,270.8 L106.8,270.9 L107.3,271.1 L107.8,271.2 L108.3,271.3 L108.8,271.4 L109.3,271.6 L109.8,271.7 L110.3,271.8 L110.8,271.9 L111.3,272.0 L111.8,272.2 L112.3,272.3 L112.8,272.4 L113.3,272.5 L113.8,272.7 L114.3,272.8 L114.8,272.9 L115.3,273.0 L115.8,273.1 L116.3,273.3 L116.8,273.4 L117.3,273.5 L117.8,273.6 L118.3,273.8 L118.8,273.9 L119.3,274.0 L119.8,274.1 L120.3,274.3 L120.8,274.4 L121.3,274.5 L121.8,274.6 L122.3,274.8 L122.8,274.9 L123.3,275.0 L123.8,275.2 L124.3,275.3 L124.8,275.4 L125.3,275.5 L125.8,275.7 L126.3,275.8 L126.8,275.9 L127.3,276.1 L127.8,276.2 L128.3,276.3 L128.8,276.5 L129.3,276.6 L129.8,276.7 L130.3,276.9 L130.8,277.0 L131.3,277.2 L131.8,277.3 L132.3,277.4 L132.8,277.6 L133.3,277.7 L133.8,277.9 L134.3,278.0 L134.8,278.2 L135.3,278.3 L135.8,278.5 L136.3,278.6 L136.8,278.8 L137.3,279.0 L137.8,279.1 L138.3,279.3 L138.8,279.5 L139.3,279.6 L139.8,279.8 L140.3,280.0 L140.8,280.2 L141.3,280.4 L141.8,280.6 L142.3,280.8 L142.8,281.0 L143.3,281.2 L143.8,281.4 L144.3,281.6 L144.8,281.9 L145.3,282.1 L145.8,282.4 L146.3,282.6 L146.8,282.9 L147.3,283.2 L147.8,283.5 L148.3,283.8 L148.8,284.2 L149.3,284.5 L149.8,284.9 L150.3,285.3 L150.8,285.8 L151.3,286.3 L151.8,286.8 L152.3,287.4 L152.8,288.1 L153.3,288.8 L153.8,289.6" fill="none" stroke="#222" stroke-width="0.9"/>
<circle cx="70.5" cy="258.1" r="1.9" fill="#000"/>
<circle cx="91.7" cy="262.3" r="1.9" fill="#000"/>
<circle cx="116.3" cy="267.6" r="1.9" fill="#000"/>
<circle cx="133.5" cy="272.3" r="1.9" fill="#000"/>
<text class="sb" x="179.7" y="189.6" font-family="Liberation Sans, sans-serif" font-size="17.4" font-weight="bold" text-anchor="start" fill="#000">E</text>
<line x1="207.3" y1="210.8" x2="207.3" y2="299.9" stroke="#000" stroke-width="1.4"/>
<line x1="206.60000000000002" y1="299.2" x2="337.7" y2="299.2" stroke="#000" stroke-width="1.4"/>
<line x1="204.10000000000002" y1="211.3" x2="207.3" y2="211.3" stroke="#000" stroke-width="1.1"/>
<text class="sb" x="203.6" y="213.8" font-family="Liberation Sans, sans-serif" font-size="7.2" font-weight="bold" text-anchor="end" fill="#000">100</text>
<line x1="204.10000000000002" y1="233.2" x2="207.3" y2="233.2" stroke="#000" stroke-width="1.1"/>
<text class="sb" x="203.6" y="235.7" font-family="Liberation Sans, sans-serif" font-size="7.2" font-weight="bold" text-anchor="end" fill="#000">75</text>
<line x1="204.10000000000002" y1="255.1" x2="207.3" y2="255.1" stroke="#000" stroke-width="1.1"/>
<text class="sb" x="203.6" y="257.6" font-family="Liberation Sans, sans-serif" font-size="7.2" font-weight="bold" text-anchor="end" fill="#000">50</text>
<line x1="204.10000000000002" y1="277.1" x2="207.3" y2="277.1" stroke="#000" stroke-width="1.1"/>
<text class="sb" x="203.6" y="279.6" font-family="Liberation Sans, sans-serif" font-size="7.2" font-weight="bold" text-anchor="end" fill="#000">25</text>
<line x1="204.10000000000002" y1="299" x2="207.3" y2="299" stroke="#000" stroke-width="1.1"/>
<text class="sb" x="203.6" y="301.5" font-family="Liberation Sans, sans-serif" font-size="7.2" font-weight="bold" text-anchor="end" fill="#000">0</text>
<line x1="240.5" y1="299.2" x2="240.5" y2="302.2" stroke="#000" stroke-width="1.1"/>
<text class="sb" x="240.5" y="310.4" font-family="Liberation Sans, sans-serif" font-size="7.4" font-weight="bold" text-anchor="middle" fill="#000">24</text>
<line x1="273.5" y1="299.2" x2="273.5" y2="302.2" stroke="#000" stroke-width="1.1"/>
<text class="sb" x="273.5" y="310.4" font-family="Liberation Sans, sans-serif" font-size="7.4" font-weight="bold" text-anchor="middle" fill="#000">48</text>
<line x1="306.5" y1="299.2" x2="306.5" y2="302.2" stroke="#000" stroke-width="1.1"/>
<text class="sb" x="306.5" y="310.4" font-family="Liberation Sans, sans-serif" font-size="7.4" font-weight="bold" text-anchor="middle" fill="#000">72</text>
<line x1="337.2" y1="299.2" x2="337.2" y2="302.2" stroke="#000" stroke-width="1.1"/>
<text class="sb" x="278.6" y="324.0" font-family="Liberation Sans, sans-serif" font-size="8.3" font-weight="bold" text-anchor="middle" fill="#000" textLength="32" lengthAdjust="spacingAndGlyphs">Time (h)</text>
<text class="sb" x="188.0" y="250.9" font-family="Liberation Sans, sans-serif" font-size="8.4" font-weight="bold" text-anchor="middle" fill="#000" transform="rotate(-90 188.0 250.9)" textLength="75.5" lengthAdjust="spacingAndGlyphs">Apoptotic Cells (%)</text>
<text class="sb" x="223.8" y="209.3" font-family="Liberation Sans, sans-serif" font-size="7.4" font-weight="bold" text-anchor="middle" fill="#000" textLength="17" lengthAdjust="spacingAndGlyphs">U266</text>
<line x1="210.5" y1="211.4" x2="238.9" y2="211.4" stroke="#000" stroke-width="1.2"/>
<line x1="211.4" y1="218.6" x2="224.3" y2="218.6" stroke="#000" stroke-width="1.1"/>
<circle cx="217.8" cy="218.6" r="1.5" fill="#000"/>
<text class="sb" x="226.2" y="221.2" font-family="Liberation Sans, sans-serif" font-size="7.6" font-weight="bold" text-anchor="start" fill="#000" textLength="12.5" lengthAdjust="spacingAndGlyphs">Bay</text>
<line x1="211.4" y1="227.5" x2="224.3" y2="227.5" stroke="#000" stroke-width="1.1"/>
<circle cx="217.8" cy="227.5" r="1.5" fill="#000"/>
<text class="sb" x="226.2" y="230.1" font-family="Liberation Sans, sans-serif" font-size="7.6" font-weight="bold" text-anchor="start" fill="#000" textLength="15.3" lengthAdjust="spacingAndGlyphs">UCN</text>
<line x1="211.4" y1="235.8" x2="224.3" y2="235.8" stroke="#000" stroke-width="1.1"/>
<circle cx="217.8" cy="235.8" r="1.5" fill="#000"/>
<text class="sb" x="226.2" y="238.4" font-family="Liberation Sans, sans-serif" font-size="7.6" font-weight="bold" text-anchor="start" fill="#000" textLength="32.5" lengthAdjust="spacingAndGlyphs">Bay+UCN</text>
<polyline points="207.3,295.75 240.5,249.4 273.5,233.9 306.5,221.6" fill="none" stroke="#111" stroke-width="1.2" stroke-linejoin="round"/>
<circle cx="207.3" cy="295.75" r="1.7" fill="#000"/>
<line x1="240.5" y1="246.9" x2="240.5" y2="251.9" stroke="#000" stroke-width="0.8"/>
<line x1="238.5" y1="246.9" x2="242.5" y2="246.9" stroke="#000" stroke-width="0.8"/>
<line x1="238.5" y1="251.9" x2="242.5" y2="251.9" stroke="#000" stroke-width="0.8"/>
<circle cx="240.5" cy="249.4" r="1.7" fill="#000"/>
<line x1="273.5" y1="231.9" x2="273.5" y2="235.9" stroke="#000" stroke-width="0.8"/>
<line x1="271.5" y1="231.9" x2="275.5" y2="231.9" stroke="#000" stroke-width="0.8"/>
<line x1="271.5" y1="235.9" x2="275.5" y2="235.9" stroke="#000" stroke-width="0.8"/>
<circle cx="273.5" cy="233.9" r="1.7" fill="#000"/>
<line x1="306.5" y1="220.1" x2="306.5" y2="223.1" stroke="#000" stroke-width="0.8"/>
<line x1="304.5" y1="220.1" x2="308.5" y2="220.1" stroke="#000" stroke-width="0.8"/>
<line x1="304.5" y1="223.1" x2="308.5" y2="223.1" stroke="#000" stroke-width="0.8"/>
<circle cx="306.5" cy="221.6" r="1.7" fill="#000"/>
<polyline points="207.3,295.75 240.5,290.6 273.5,278.8 306.5,269.7" fill="none" stroke="#111" stroke-width="1.2" stroke-linejoin="round"/>
<circle cx="207.3" cy="295.75" r="1.7" fill="#000"/>
<line x1="240.5" y1="289.1" x2="240.5" y2="292.1" stroke="#000" stroke-width="0.8"/>
<line x1="238.5" y1="289.1" x2="242.5" y2="289.1" stroke="#000" stroke-width="0.8"/>
<line x1="238.5" y1="292.1" x2="242.5" y2="292.1" stroke="#000" stroke-width="0.8"/>
<circle cx="240.5" cy="290.6" r="1.7" fill="#000"/>
<line x1="273.5" y1="275.8" x2="273.5" y2="281.8" stroke="#000" stroke-width="0.8"/>
<line x1="271.5" y1="275.8" x2="275.5" y2="275.8" stroke="#000" stroke-width="0.8"/>
<line x1="271.5" y1="281.8" x2="275.5" y2="281.8" stroke="#000" stroke-width="0.8"/>
<circle cx="273.5" cy="278.8" r="1.7" fill="#000"/>
<line x1="306.5" y1="267.2" x2="306.5" y2="272.2" stroke="#000" stroke-width="0.8"/>
<line x1="304.5" y1="267.2" x2="308.5" y2="267.2" stroke="#000" stroke-width="0.8"/>
<line x1="304.5" y1="272.2" x2="308.5" y2="272.2" stroke="#000" stroke-width="0.8"/>
<circle cx="306.5" cy="269.7" r="1.7" fill="#000"/>
<polyline points="207.3,295.75 240.5,292 273.5,287.6 306.5,285.1" fill="none" stroke="#111" stroke-width="1.2" stroke-linejoin="round"/>
<circle cx="207.3" cy="295.75" r="1.7" fill="#000"/>
<line x1="240.5" y1="291" x2="240.5" y2="293" stroke="#000" stroke-width="0.8"/>
<line x1="238.5" y1="291" x2="242.5" y2="291" stroke="#000" stroke-width="0.8"/>
<line x1="238.5" y1="293" x2="242.5" y2="293" stroke="#000" stroke-width="0.8"/>
<circle cx="240.5" cy="292" r="1.7" fill="#000"/>
<line x1="273.5" y1="284.6" x2="273.5" y2="290.6" stroke="#000" stroke-width="0.8"/>
<line x1="271.5" y1="284.6" x2="275.5" y2="284.6" stroke="#000" stroke-width="0.8"/>
<line x1="271.5" y1="290.6" x2="275.5" y2="290.6" stroke="#000" stroke-width="0.8"/>
<circle cx="273.5" cy="287.6" r="1.7" fill="#000"/>
<line x1="306.5" y1="282.6" x2="306.5" y2="287.6" stroke="#000" stroke-width="0.8"/>
<line x1="304.5" y1="282.6" x2="308.5" y2="282.6" stroke="#000" stroke-width="0.8"/>
<line x1="304.5" y1="287.6" x2="308.5" y2="287.6" stroke="#000" stroke-width="0.8"/>
<circle cx="306.5" cy="285.1" r="1.7" fill="#000"/>
<text class="sb" x="359.7" y="190.2" font-family="Liberation Sans, sans-serif" font-size="17.2" font-weight="bold" text-anchor="start" fill="#000">F</text>
<line x1="385.8" y1="210.8" x2="385.8" y2="299.5" stroke="#000" stroke-width="1.4"/>
<line x1="385.1" y1="298.8" x2="518" y2="298.8" stroke="#000" stroke-width="1.4"/>
<line x1="382.6" y1="211.3" x2="385.8" y2="211.3" stroke="#000" stroke-width="1.1"/>
<text class="sb" x="382" y="213.8" font-family="Liberation Sans, sans-serif" font-size="7.2" font-weight="bold" text-anchor="end" fill="#000">100</text>
<line x1="382.6" y1="233.3" x2="385.8" y2="233.3" stroke="#000" stroke-width="1.1"/>
<text class="sb" x="382" y="235.8" font-family="Liberation Sans, sans-serif" font-size="7.2" font-weight="bold" text-anchor="end" fill="#000">75</text>
<line x1="382.6" y1="255.4" x2="385.8" y2="255.4" stroke="#000" stroke-width="1.1"/>
<text class="sb" x="382" y="257.9" font-family="Liberation Sans, sans-serif" font-size="7.2" font-weight="bold" text-anchor="end" fill="#000">50</text>
<line x1="382.6" y1="277.4" x2="385.8" y2="277.4" stroke="#000" stroke-width="1.1"/>
<text class="sb" x="382" y="279.9" font-family="Liberation Sans, sans-serif" font-size="7.2" font-weight="bold" text-anchor="end" fill="#000">25</text>
<line x1="382.6" y1="298.8" x2="385.8" y2="298.8" stroke="#000" stroke-width="1.1"/>
<text class="sb" x="382" y="301.3" font-family="Liberation Sans, sans-serif" font-size="7.2" font-weight="bold" text-anchor="end" fill="#000">0</text>
<text class="sb" x="367.2" y="250.6" font-family="Liberation Sans, sans-serif" font-size="8.4" font-weight="bold" text-anchor="middle" fill="#000" transform="rotate(-90 367.2 250.6)" textLength="75.2" lengthAdjust="spacingAndGlyphs">Apoptotic Cells (%)</text>
<rect x="391.3" y="296.2" width="8.699999999999989" height="2.6000000000000227" fill="#fff" stroke="#111" stroke-width="0.9"/>
<line x1="409.95000000000005" y1="290.09999999999997" x2="409.95000000000005" y2="292.7" stroke="#000" stroke-width="1"/>
<line x1="407.65000000000003" y1="290.09999999999997" x2="412.25000000000006" y2="290.09999999999997" stroke="#000" stroke-width="1"/>
<rect x="405.3" y="292.7" width="9.300000000000011" height="6.100000000000023" fill="#bbb" stroke="#111" stroke-width="0.9"/>
<line x1="424.2" y1="280.8" x2="424.2" y2="281.6" stroke="#000" stroke-width="1"/>
<line x1="421.9" y1="280.8" x2="426.5" y2="280.8" stroke="#000" stroke-width="1"/>
<rect x="419.5" y="281.6" width="9.399999999999977" height="17.19999999999999" fill="#666" stroke="#111" stroke-width="0.9"/>
<line x1="438.25" y1="232" x2="438.25" y2="241" stroke="#000" stroke-width="1"/>
<line x1="435.95" y1="232" x2="440.55" y2="232" stroke="#000" stroke-width="1"/>
<rect x="433.5" y="241" width="9.5" height="57.80000000000001" fill="#000" stroke="#111" stroke-width="0.9"/>
<rect x="462" y="294.8" width="9" height="4.0" fill="#fff" stroke="#111" stroke-width="0.9"/>
<line x1="480.1" y1="271.9" x2="480.1" y2="273.9" stroke="#000" stroke-width="1"/>
<line x1="477.8" y1="271.9" x2="482.40000000000003" y2="271.9" stroke="#000" stroke-width="1"/>
<rect x="475.8" y="273.9" width="8.599999999999966" height="24.900000000000034" fill="#bbb" stroke="#111" stroke-width="0.9"/>
<line x1="494.05" y1="273.6" x2="494.05" y2="275.1" stroke="#000" stroke-width="1"/>
<line x1="491.75" y1="273.6" x2="496.35" y2="273.6" stroke="#000" stroke-width="1"/>
<rect x="489.5" y="275.1" width="9.100000000000023" height="23.69999999999999" fill="#666" stroke="#111" stroke-width="0.9"/>
<line x1="508.29999999999995" y1="229" x2="508.29999999999995" y2="231" stroke="#000" stroke-width="1"/>
<line x1="505.99999999999994" y1="229" x2="510.59999999999997" y2="229" stroke="#000" stroke-width="1"/>
<rect x="503.8" y="231" width="8.999999999999943" height="67.80000000000001" fill="#000" stroke="#111" stroke-width="0.9"/>
<text class="sb" x="417.4" y="309.5" font-family="Liberation Sans, sans-serif" font-size="7.6" font-weight="bold" text-anchor="middle" fill="#000" textLength="23" lengthAdjust="spacingAndGlyphs">MM.1S</text>
<text class="sb" x="487.2" y="309" font-family="Liberation Sans, sans-serif" font-size="7.6" font-weight="bold" text-anchor="middle" fill="#000" textLength="23" lengthAdjust="spacingAndGlyphs">MM.1R</text>
<rect x="451.3" y="212" width="12.3" height="4.5" fill="#fff" stroke="#111" stroke-width="0.8"/>
<text class="sb" x="465.6" y="216.85" font-family="Liberation Sans, sans-serif" font-size="7.3" font-weight="bold" text-anchor="start" fill="#000" textLength="11.3" lengthAdjust="spacingAndGlyphs">Ctrl</text>
<rect x="451.3" y="222.2" width="12.3" height="4.300000000000011" fill="#bbb" stroke="#111" stroke-width="0.8"/>
<text class="sb" x="465.6" y="226.95" font-family="Liberation Sans, sans-serif" font-size="7.3" font-weight="bold" text-anchor="start" fill="#000" textLength="11.5" lengthAdjust="spacingAndGlyphs">Bay</text>
<rect x="451.3" y="232.4" width="12.3" height="4.099999999999994" fill="#666" stroke="#111" stroke-width="0.8"/>
<text class="sb" x="465.6" y="237.04999999999998" font-family="Liberation Sans, sans-serif" font-size="7.3" font-weight="bold" text-anchor="start" fill="#000" textLength="14" lengthAdjust="spacingAndGlyphs">UCN</text>
<rect x="451.3" y="242.2" width="12.3" height="4.600000000000023" fill="#000" stroke="#111" stroke-width="0.8"/>
<text class="sb" x="465.6" y="247.1" font-family="Liberation Sans, sans-serif" font-size="7.3" font-weight="bold" text-anchor="start" fill="#000" textLength="29" lengthAdjust="spacingAndGlyphs">Bay+UCN</text>
<text class="sb" x="350.7" y="25" font-family="Liberation Sans, sans-serif" font-size="17.2" font-weight="bold" text-anchor="start" fill="#000">C</text>
<text class="ss" x="440.6" y="7.2" font-family="Liberation Serif, serif" font-size="8.8" font-weight="bold" text-anchor="middle" fill="#000" textLength="43.5" lengthAdjust="spacingAndGlyphs">Bay 11-7082</text>
<line x1="387.5" y1="11.3" x2="497.5" y2="11.3" stroke="#000" stroke-width="1.1"/>
<line x1="411.3" y1="17.8" x2="416.5" y2="17.8" stroke="#000" stroke-width="1.1"/>
<text class="ss" x="473.8" y="20.8" font-family="Liberation Serif, serif" font-size="10" font-weight="bold" text-anchor="middle" fill="#000">+</text>
<line x1="370" y1="28.4" x2="370" y2="122.6" stroke="#000" stroke-width="1.1"/>
<line x1="375.6" y1="49.6" x2="375.6" y2="54.8" stroke="#000" stroke-width="1.0"/>
<text class="ss" x="380.5" y="100.6" font-family="Liberation Serif, serif" font-size="10" font-weight="bold" text-anchor="middle" fill="#000" transform="rotate(-90 380.5 100.6)">+</text>
<text class="ss" x="366" y="77.3" font-family="Liberation Serif, serif" font-size="8.8" font-weight="bold" text-anchor="middle" fill="#000" transform="rotate(-90 366 77.3)" textLength="28.5" lengthAdjust="spacingAndGlyphs">UCN-01</text>
<line x1="387.2" y1="133.5" x2="489" y2="133.5" stroke="#000" stroke-width="1.1"/>
<polygon points="493.4,133.5 487.5,131.4 487.5,135.6" fill="#000"/>
<text class="ss" x="439.8" y="144.5" font-family="Liberation Serif, serif" font-size="8.8" font-weight="bold" text-anchor="middle" fill="#000" textLength="60.5" lengthAdjust="spacingAndGlyphs">FITC-Annexin V</text>
<line x1="508.1" y1="32" x2="508.1" y2="121.5" stroke="#000" stroke-width="1.1"/>
<polygon points="508.1,28 506,33.8 510.2,33.8" fill="#000"/>
<text class="ss" x="518.1" y="76.2" font-family="Liberation Serif, serif" font-size="8.8" font-weight="bold" text-anchor="middle" fill="#000" transform="rotate(-90 518.1 76.2)">PI</text>
<path d="M416.1 72.8h.8v.8h-.8zM405.8 74.1h.8v.8h-.8zM409.7 61.0h.8v.8h-.8zM406.5 64.5h.8v.8h-.8zM423.3 74.5h.8v.8h-.8zM393.3 71.3h.8v.8h-.8zM390.7 66.9h.8v.8h-.8zM403.1 62.2h.8v.8h-.8zM406.2 73.6h.8v.8h-.8zM414.8 73.8h.8v.8h-.8zM404.6 72.6h.8v.8h-.8zM394.4 66.1h.8v.8h-.8zM412.9 63.3h.8v.8h-.8zM396.5 72.9h.8v.8h-.8zM400.2 62.8h.8v.8h-.8zM396.0 65.2h.8v.8h-.8zM390.7 65.8h.8v.8h-.8zM407.4 65.9h.8v.8h-.8zM402.8 65.3h.8v.8h-.8zM399.4 71.9h.8v.8h-.8zM404.4 67.6h.8v.8h-.8zM398.8 73.7h.8v.8h-.8zM397.9 61.7h.8v.8h-.8zM407.1 71.8h.8v.8h-.8zM400.1 65.9h.8v.8h-.8zM412.4 74.7h.8v.8h-.8zM404.5 68.5h.8v.8h-.8zM395.8 72.6h.8v.8h-.8zM383.7 65.9h.8v.8h-.8zM406.4 69.3h.8v.8h-.8zM391.1 72.5h.8v.8h-.8zM407.1 72.3h.8v.8h-.8zM398.2 67.8h.8v.8h-.8zM399.5 70.0h.8v.8h-.8zM402.1 68.1h.8v.8h-.8zM407.3 74.1h.8v.8h-.8zM402.4 74.7h.8v.8h-.8zM393.8 66.6h.8v.8h-.8zM405.1 73.5h.8v.8h-.8zM403.0 61.0h.8v.8h-.8zM398.2 62.9h.8v.8h-.8zM408.9 66.6h.8v.8h-.8zM403.4 63.2h.8v.8h-.8zM405.1 60.6h.8v.8h-.8zM398.7 73.2h.8v.8h-.8zM401.4 63.9h.8v.8h-.8zM394.8 73.3h.8v.8h-.8zM406.9 70.2h.8v.8h-.8zM407.4 68.2h.8v.8h-.8zM401.3 68.0h.8v.8h-.8zM397.4 73.9h.8v.8h-.8zM407.9 67.4h.8v.8h-.8zM403.9 62.9h.8v.8h-.8zM402.1 68.7h.8v.8h-.8zM396.1 61.7h.8v.8h-.8zM393.5 69.4h.8v.8h-.8zM399.7 73.1h.8v.8h-.8zM390.8 71.7h.8v.8h-.8zM394.4 70.7h.8v.8h-.8zM403.0 75.5h.8v.8h-.8zM406.0 67.3h.8v.8h-.8zM402.7 61.6h.8v.8h-.8zM401.5 71.1h.8v.8h-.8zM403.5 66.2h.8v.8h-.8zM403.7 69.9h.8v.8h-.8zM404.3 64.2h.8v.8h-.8zM407.9 68.5h.8v.8h-.8zM391.4 67.9h.8v.8h-.8zM410.9 76.0h.8v.8h-.8zM398.7 64.9h.8v.8h-.8zM398.3 71.8h.8v.8h-.8zM412.6 69.4h.8v.8h-.8zM399.1 75.5h.8v.8h-.8zM404.9 64.9h.8v.8h-.8zM399.2 73.0h.8v.8h-.8zM398.4 68.7h.8v.8h-.8zM395.3 71.2h.8v.8h-.8zM413.3 74.3h.8v.8h-.8zM397.7 63.3h.8v.8h-.8zM413.3 71.9h.8v.8h-.8zM388.2 75.3h.8v.8h-.8zM397.2 65.7h.8v.8h-.8zM401.1 62.1h.8v.8h-.8zM391.8 75.3h.8v.8h-.8zM398.7 70.8h.8v.8h-.8zM412.3 70.3h.8v.8h-.8zM400.3 71.3h.8v.8h-.8zM415.0 70.9h.8v.8h-.8zM413.3 63.0h.8v.8h-.8zM389.2 62.0h.8v.8h-.8zM407.2 66.2h.8v.8h-.8zM388.2 75.7h.8v.8h-.8zM400.0 70.6h.8v.8h-.8zM411.5 69.9h.8v.8h-.8zM409.5 68.8h.8v.8h-.8zM398.2 62.1h.8v.8h-.8zM407.2 62.5h.8v.8h-.8zM416.5 59.5h.8v.8h-.8zM408.5 63.5h.8v.8h-.8zM392.6 72.0h.8v.8h-.8zM402.2 72.1h.8v.8h-.8zM391.9 67.9h.8v.8h-.8zM398.3 69.8h.8v.8h-.8zM408.6 68.0h.8v.8h-.8zM393.2 69.1h.8v.8h-.8zM387.1 65.6h.8v.8h-.8zM411.7 66.0h.8v.8h-.8zM408.5 66.7h.8v.8h-.8zM393.4 69.2h.8v.8h-.8zM405.4 68.0h.8v.8h-.8zM401.2 70.3h.8v.8h-.8zM394.6 72.4h.8v.8h-.8zM395.1 69.5h.8v.8h-.8zM397.0 71.7h.8v.8h-.8zM405.6 73.6h.8v.8h-.8zM401.8 71.6h.8v.8h-.8zM417.0 64.2h.8v.8h-.8zM393.4 72.5h.8v.8h-.8zM402.4 69.0h.8v.8h-.8zM409.2 71.0h.8v.8h-.8zM401.3 67.8h.8v.8h-.8zM395.3 66.6h.8v.8h-.8zM401.4 59.6h.8v.8h-.8zM412.0 62.9h.8v.8h-.8zM411.6 72.2h.8v.8h-.8zM394.3 67.0h.8v.8h-.8zM403.9 73.7h.8v.8h-.8zM393.3 70.8h.8v.8h-.8zM406.9 67.5h.8v.8h-.8zM403.9 66.4h.8v.8h-.8zM397.6 63.7h.8v.8h-.8zM393.4 71.9h.8v.8h-.8zM405.0 71.0h.8v.8h-.8zM396.3 70.1h.8v.8h-.8zM408.3 62.4h.8v.8h-.8zM392.0 63.1h.8v.8h-.8zM401.6 69.1h.8v.8h-.8zM416.5 73.3h.8v.8h-.8zM397.2 72.7h.8v.8h-.8zM391.2 61.0h.8v.8h-.8zM392.2 70.9h.8v.8h-.8zM397.1 71.3h.8v.8h-.8zM416.3 62.7h.8v.8h-.8zM396.7 69.5h.8v.8h-.8zM407.5 64.6h.8v.8h-.8zM400.8 63.5h.8v.8h-.8zM413.3 72.3h.8v.8h-.8zM416.7 75.5h.8v.8h-.8zM404.8 72.3h.8v.8h-.8zM407.0 68.6h.8v.8h-.8zM398.8 66.8h.8v.8h-.8zM403.3 69.6h.8v.8h-.8zM411.2 69.0h.8v.8h-.8zM403.2 76.4h.8v.8h-.8zM396.6 63.4h.8v.8h-.8zM421.3 63.0h.8v.8h-.8zM395.8 76.3h.8v.8h-.8zM399.1 65.6h.8v.8h-.8zM401.5 67.2h.8v.8h-.8zM392.4 59.3h.8v.8h-.8zM393.4 62.5h.8v.8h-.8zM396.3 64.3h.8v.8h-.8zM407.4 71.5h.8v.8h-.8zM417.3 59.8h.8v.8h-.8zM402.4 67.9h.8v.8h-.8zM397.4 67.9h.8v.8h-.8zM409.1 71.0h.8v.8h-.8zM399.5 65.6h.8v.8h-.8zM396.8 73.5h.8v.8h-.8zM396.8 67.8h.8v.8h-.8zM401.7 69.2h.8v.8h-.8zM406.6 75.9h.8v.8h-.8zM391.0 60.9h.8v.8h-.8zM402.0 66.9h.8v.8h-.8zM393.3 76.5h.8v.8h-.8zM390.8 61.0h.8v.8h-.8zM416.9 70.3h.8v.8h-.8zM389.1 73.6h.8v.8h-.8zM394.1 66.3h.8v.8h-.8zM399.1 68.3h.8v.8h-.8zM416.9 64.7h.8v.8h-.8zM393.7 62.9h.8v.8h-.8zM400.2 63.4h.8v.8h-.8zM401.5 75.4h.8v.8h-.8zM418.0 67.5h.8v.8h-.8zM402.5 65.8h.8v.8h-.8zM398.4 72.1h.8v.8h-.8zM384.2 64.4h.8v.8h-.8zM392.8 64.1h.8v.8h-.8zM396.3 69.8h.8v.8h-.8zM411.3 64.7h.8v.8h-.8zM398.6 65.3h.8v.8h-.8zM402.9 68.7h.8v.8h-.8zM406.7 68.9h.8v.8h-.8zM412.1 67.8h.8v.8h-.8zM401.7 70.6h.8v.8h-.8zM402.4 68.6h.8v.8h-.8zM406.1 71.8h.8v.8h-.8zM404.4 71.4h.8v.8h-.8zM397.9 66.7h.8v.8h-.8zM410.6 74.7h.8v.8h-.8zM398.7 75.1h.8v.8h-.8zM398.1 75.7h.8v.8h-.8zM407.7 68.7h.8v.8h-.8zM405.7 65.5h.8v.8h-.8zM397.2 66.0h.8v.8h-.8zM408.0 71.6h.8v.8h-.8zM398.8 68.8h.8v.8h-.8zM392.2 67.6h.8v.8h-.8zM391.9 74.8h.8v.8h-.8zM407.6 65.3h.8v.8h-.8zM396.1 76.3h.8v.8h-.8zM401.5 62.8h.8v.8h-.8zM395.1 65.6h.8v.8h-.8zM399.2 62.3h.8v.8h-.8zM405.5 65.4h.8v.8h-.8zM416.6 72.4h.8v.8h-.8zM387.9 64.1h.8v.8h-.8zM400.7 60.3h.8v.8h-.8zM390.1 75.9h.8v.8h-.8zM394.6 65.2h.8v.8h-.8zM402.9 70.4h.8v.8h-.8zM401.9 72.7h.8v.8h-.8zM395.2 74.3h.8v.8h-.8zM411.6 67.0h.8v.8h-.8zM400.4 67.9h.8v.8h-.8zM397.5 62.9h.8v.8h-.8zM402.4 64.1h.8v.8h-.8zM394.7 64.0h.8v.8h-.8zM402.8 63.5h.8v.8h-.8zM408.8 59.9h.8v.8h-.8zM391.1 67.5h.8v.8h-.8zM398.2 62.9h.8v.8h-.8zM420.5 66.4h.8v.8h-.8zM388.0 68.6h.8v.8h-.8zM415.5 74.9h.8v.8h-.8zM399.6 67.8h.8v.8h-.8zM417.4 69.1h.8v.8h-.8zM403.3 62.0h.8v.8h-.8zM395.8 70.5h.8v.8h-.8zM399.3 67.4h.8v.8h-.8zM402.0 70.4h.8v.8h-.8zM411.9 61.5h.8v.8h-.8zM409.1 66.2h.8v.8h-.8zM399.8 70.1h.8v.8h-.8zM400.8 72.9h.8v.8h-.8zM395.1 71.3h.8v.8h-.8zM398.7 59.1h.8v.8h-.8zM389.6 74.6h.8v.8h-.8zM399.2 72.1h.8v.8h-.8zM402.1 66.5h.8v.8h-.8zM424.7 75.4h.8v.8h-.8zM392.4 69.4h.8v.8h-.8zM403.5 58.5h.8v.8h-.8zM390.4 74.8h.8v.8h-.8zM413.3 75.8h.8v.8h-.8zM393.8 70.9h.8v.8h-.8zM404.2 68.7h.8v.8h-.8zM397.8 70.0h.8v.8h-.8zM385.7 54.8h.8v.8h-.8zM397.5 76.3h.8v.8h-.8zM390.8 65.1h.8v.8h-.8zM402.7 63.1h.8v.8h-.8zM403.4 66.0h.8v.8h-.8zM396.7 63.1h.8v.8h-.8zM403.0 71.8h.8v.8h-.8zM412.5 66.3h.8v.8h-.8zM391.0 68.6h.8v.8h-.8zM408.0 63.0h.8v.8h-.8zM409.6 61.7h.8v.8h-.8zM397.8 61.6h.8v.8h-.8zM399.8 65.7h.8v.8h-.8zM404.3 63.8h.8v.8h-.8zM417.3 72.2h.8v.8h-.8zM402.4 73.5h.8v.8h-.8zM409.6 71.8h.8v.8h-.8zM385.7 66.4h.8v.8h-.8zM418.0 65.6h.8v.8h-.8zM396.8 64.3h.8v.8h-.8zM406.7 67.2h.8v.8h-.8zM396.6 74.2h.8v.8h-.8zM393.6 73.1h.8v.8h-.8zM405.7 70.9h.8v.8h-.8zM409.9 69.2h.8v.8h-.8zM400.8 71.6h.8v.8h-.8zM399.8 65.4h.8v.8h-.8zM406.5 63.5h.8v.8h-.8zM409.2 74.4h.8v.8h-.8zM408.3 68.4h.8v.8h-.8zM390.9 66.5h.8v.8h-.8zM425.0 64.1h.8v.8h-.8zM408.7 70.3h.8v.8h-.8zM404.1 63.8h.8v.8h-.8zM390.0 68.1h.8v.8h-.8zM403.4 68.6h.8v.8h-.8zM407.8 65.6h.8v.8h-.8zM390.8 70.6h.8v.8h-.8zM401.2 58.4h.8v.8h-.8zM411.4 71.9h.8v.8h-.8zM411.7 68.6h.8v.8h-.8zM404.9 63.5h.8v.8h-.8zM389.6 75.4h.8v.8h-.8zM394.4 58.5h.8v.8h-.8zM393.9 67.4h.8v.8h-.8zM397.6 63.3h.8v.8h-.8zM405.5 68.5h.8v.8h-.8zM412.8 66.7h.8v.8h-.8zM414.9 70.1h.8v.8h-.8zM401.1 67.0h.8v.8h-.8zM406.2 68.3h.8v.8h-.8zM387.6 68.2h.8v.8h-.8zM393.2 68.8h.8v.8h-.8zM389.1 69.4h.8v.8h-.8zM417.8 65.6h.8v.8h-.8zM416.3 67.9h.8v.8h-.8zM393.1 69.1h.8v.8h-.8zM417.2 62.7h.8v.8h-.8zM396.3 76.5h.8v.8h-.8zM399.3 69.8h.8v.8h-.8zM385.7 66.6h.8v.8h-.8zM409.3 61.3h.8v.8h-.8zM409.7 71.4h.8v.8h-.8zM408.2 70.9h.8v.8h-.8zM412.7 62.7h.8v.8h-.8zM411.9 68.2h.8v.8h-.8zM395.9 68.1h.8v.8h-.8zM392.1 76.5h.8v.8h-.8zM403.6 69.8h.8v.8h-.8zM387.8 64.8h.8v.8h-.8zM398.9 63.8h.8v.8h-.8zM399.7 65.3h.8v.8h-.8zM397.7 72.0h.8v.8h-.8zM401.4 69.9h.8v.8h-.8zM403.4 74.3h.8v.8h-.8zM395.0 65.8h.8v.8h-.8zM395.2 65.7h.8v.8h-.8zM401.5 67.8h.8v.8h-.8zM403.5 58.3h.8v.8h-.8zM390.4 65.2h.8v.8h-.8zM405.7 68.2h.8v.8h-.8zM409.4 71.7h.8v.8h-.8zM399.2 62.6h.8v.8h-.8zM392.0 69.0h.8v.8h-.8zM384.2 70.9h.8v.8h-.8zM412.3 71.4h.8v.8h-.8zM414.7 73.6h.8v.8h-.8zM395.9 74.7h.8v.8h-.8zM391.0 69.5h.8v.8h-.8zM394.5 68.5h.8v.8h-.8zM408.3 66.9h.8v.8h-.8zM404.4 71.2h.8v.8h-.8zM397.5 58.3h.8v.8h-.8zM401.7 65.2h.8v.8h-.8zM408.5 71.3h.8v.8h-.8zM392.4 71.2h.8v.8h-.8zM399.9 65.1h.8v.8h-.8zM400.8 72.8h.8v.8h-.8zM405.9 72.9h.8v.8h-.8zM395.5 66.3h.8v.8h-.8zM410.0 74.4h.8v.8h-.8zM415.4 73.4h.8v.8h-.8zM396.4 66.2h.8v.8h-.8zM417.4 69.0h.8v.8h-.8zM415.1 69.6h.8v.8h-.8zM388.3 66.9h.8v.8h-.8zM405.2 75.9h.8v.8h-.8zM400.6 74.9h.8v.8h-.8zM412.2 67.1h.8v.8h-.8zM404.4 71.5h.8v.8h-.8zM387.6 73.4h.8v.8h-.8zM403.5 63.9h.8v.8h-.8zM394.2 66.2h.8v.8h-.8zM393.6 68.7h.8v.8h-.8zM408.7 66.9h.8v.8h-.8zM396.2 74.6h.8v.8h-.8zM401.8 70.8h.8v.8h-.8zM386.0 71.5h.8v.8h-.8zM396.4 71.4h.8v.8h-.8zM398.1 74.8h.8v.8h-.8zM399.7 74.4h.8v.8h-.8zM398.6 68.4h.8v.8h-.8zM404.5 76.3h.8v.8h-.8zM409.8 71.0h.8v.8h-.8zM390.1 71.8h.8v.8h-.8zM405.3 68.6h.8v.8h-.8zM385.4 74.6h.8v.8h-.8zM384.1 68.4h.8v.8h-.8zM416.1 73.0h.8v.8h-.8zM400.8 71.9h.8v.8h-.8zM412.8 70.4h.8v.8h-.8zM433.0 70.8h.8v.8h-.8zM418.3 68.4h.8v.8h-.8zM419.7 74.8h.8v.8h-.8zM417.2 73.2h.8v.8h-.8zM420.3 73.6h.8v.8h-.8zM418.1 72.6h.8v.8h-.8zM423.3 66.9h.8v.8h-.8zM432.7 68.8h.8v.8h-.8zM420.6 71.6h.8v.8h-.8zM415.3 74.7h.8v.8h-.8zM420.4 71.0h.8v.8h-.8zM415.7 65.1h.8v.8h-.8zM420.8 69.9h.8v.8h-.8zM415.3 67.7h.8v.8h-.8zM419.5 69.0h.8v.8h-.8zM418.5 70.5h.8v.8h-.8zM425.2 71.8h.8v.8h-.8zM415.4 74.1h.8v.8h-.8zM412.9 73.1h.8v.8h-.8zM411.7 73.1h.8v.8h-.8zM412.0 64.7h.8v.8h-.8zM429.8 70.6h.8v.8h-.8zM427.8 74.8h.8v.8h-.8zM421.9 70.1h.8v.8h-.8zM429.6 72.6h.8v.8h-.8zM413.7 75.3h.8v.8h-.8zM425.0 63.4h.8v.8h-.8zM407.5 70.2h.8v.8h-.8zM427.7 67.8h.8v.8h-.8zM407.7 74.6h.8v.8h-.8zM413.9 73.7h.8v.8h-.8zM421.8 71.4h.8v.8h-.8zM425.0 69.3h.8v.8h-.8zM418.1 67.1h.8v.8h-.8zM417.9 66.8h.8v.8h-.8zM422.2 73.4h.8v.8h-.8zM416.7 69.5h.8v.8h-.8zM421.0 70.6h.8v.8h-.8zM407.8 68.2h.8v.8h-.8zM418.6 69.1h.8v.8h-.8zM426.4 74.4h.8v.8h-.8zM416.7 71.9h.8v.8h-.8zM425.3 74.7h.8v.8h-.8zM423.9 71.5h.8v.8h-.8zM423.3 70.0h.8v.8h-.8zM419.8 70.4h.8v.8h-.8zM419.6 72.1h.8v.8h-.8zM418.1 66.5h.8v.8h-.8zM420.2 64.6h.8v.8h-.8zM418.5 69.4h.8v.8h-.8zM417.5 71.2h.8v.8h-.8zM420.7 67.8h.8v.8h-.8zM406.7 72.7h.8v.8h-.8zM427.2 70.7h.8v.8h-.8zM409.8 75.6h.8v.8h-.8zM421.3 69.0h.8v.8h-.8zM405.0 73.4h.8v.8h-.8zM432.2 70.2h.8v.8h-.8zM415.4 71.2h.8v.8h-.8zM422.2 69.5h.8v.8h-.8zM414.2 68.9h.8v.8h-.8zM422.3 68.3h.8v.8h-.8zM410.6 75.7h.8v.8h-.8zM415.8 58.6h.8v.8h-.8zM421.3 72.3h.8v.8h-.8zM415.9 67.3h.8v.8h-.8zM424.3 68.6h.8v.8h-.8zM425.5 72.2h.8v.8h-.8zM423.3 64.5h.8v.8h-.8zM425.0 73.8h.8v.8h-.8zM424.1 75.1h.8v.8h-.8zM418.2 68.7h.8v.8h-.8zM416.4 70.1h.8v.8h-.8zM423.6 71.9h.8v.8h-.8zM424.7 72.8h.8v.8h-.8zM413.1 63.8h.8v.8h-.8zM418.5 75.0h.8v.8h-.8zM417.1 68.2h.8v.8h-.8zM416.9 74.1h.8v.8h-.8zM421.9 68.1h.8v.8h-.8zM419.4 69.0h.8v.8h-.8zM417.2 73.7h.8v.8h-.8zM419.5 73.0h.8v.8h-.8zM410.3 74.9h.8v.8h-.8zM408.9 61.8h.8v.8h-.8zM416.9 73.7h.8v.8h-.8zM419.4 75.1h.8v.8h-.8zM421.0 63.1h.8v.8h-.8zM410.2 58.5h.8v.8h-.8zM404.6 57.8h.8v.8h-.8zM414.1 61.2h.8v.8h-.8zM399.9 45.4h.8v.8h-.8zM407.7 56.1h.8v.8h-.8zM418.1 58.7h.8v.8h-.8zM412.5 62.2h.8v.8h-.8zM406.6 59.0h.8v.8h-.8zM420.3 65.9h.8v.8h-.8zM422.6 55.9h.8v.8h-.8zM420.2 55.7h.8v.8h-.8zM411.6 53.7h.8v.8h-.8zM404.9 51.4h.8v.8h-.8zM408.6 51.1h.8v.8h-.8zM407.1 55.6h.8v.8h-.8zM416.8 49.9h.8v.8h-.8zM412.4 60.4h.8v.8h-.8zM417.2 58.1h.8v.8h-.8zM414.0 60.4h.8v.8h-.8zM415.1 61.0h.8v.8h-.8zM420.7 66.9h.8v.8h-.8zM413.0 58.3h.8v.8h-.8zM418.1 56.1h.8v.8h-.8zM411.9 54.5h.8v.8h-.8zM413.9 58.1h.8v.8h-.8zM414.0 57.4h.8v.8h-.8zM406.9 59.1h.8v.8h-.8zM407.8 54.9h.8v.8h-.8zM413.7 55.4h.8v.8h-.8zM393.0 55.3h.8v.8h-.8zM395.0 56.0h.8v.8h-.8zM425.7 60.5h.8v.8h-.8zM393.6 66.6h.8v.8h-.8zM410.4 55.1h.8v.8h-.8zM412.5 55.6h.8v.8h-.8zM400.7 56.9h.8v.8h-.8zM413.2 59.2h.8v.8h-.8zM414.4 55.8h.8v.8h-.8zM412.5 53.5h.8v.8h-.8zM417.4 56.3h.8v.8h-.8zM411.3 49.8h.8v.8h-.8zM426.0 38.1h.8v.8h-.8zM407.4 58.8h.8v.8h-.8zM420.9 52.6h.8v.8h-.8zM410.8 45.1h.8v.8h-.8zM410.5 49.6h.8v.8h-.8zM411.6 42.3h.8v.8h-.8zM407.3 50.2h.8v.8h-.8zM412.8 48.7h.8v.8h-.8zM404.0 47.4h.8v.8h-.8zM414.3 51.0h.8v.8h-.8zM416.6 45.5h.8v.8h-.8zM418.1 45.9h.8v.8h-.8zM416.0 54.7h.8v.8h-.8zM418.3 43.4h.8v.8h-.8zM413.7 49.6h.8v.8h-.8zM421.8 47.4h.8v.8h-.8zM413.7 42.7h.8v.8h-.8zM405.6 48.4h.8v.8h-.8zM411.5 39.9h.8v.8h-.8zM417.2 45.2h.8v.8h-.8zM420.9 45.8h.8v.8h-.8zM410.8 53.9h.8v.8h-.8zM412.3 51.8h.8v.8h-.8zM418.0 38.9h.8v.8h-.8zM406.6 41.8h.8v.8h-.8zM417.3 43.3h.8v.8h-.8zM424.6 52.4h.8v.8h-.8zM419.0 49.0h.8v.8h-.8zM419.0 50.7h.8v.8h-.8zM414.3 45.7h.8v.8h-.8zM408.9 47.1h.8v.8h-.8zM408.8 37.6h.8v.8h-.8zM413.2 45.4h.8v.8h-.8zM419.7 39.1h.8v.8h-.8zM416.1 49.3h.8v.8h-.8zM419.8 36.3h.8v.8h-.8zM417.1 41.0h.8v.8h-.8zM428.3 29.9h.8v.8h-.8zM422.5 34.7h.8v.8h-.8zM414.2 37.3h.8v.8h-.8zM425.1 43.0h.8v.8h-.8zM431.9 45.3h.8v.8h-.8zM430.7 45.9h.8v.8h-.8zM426.0 50.4h.8v.8h-.8zM429.4 46.6h.8v.8h-.8zM393.2 33.6h.8v.8h-.8zM408.2 26.7h.8v.8h-.8zM394.9 48.6h.8v.8h-.8zM392.2 39.4h.8v.8h-.8zM393.7 43.3h.8v.8h-.8zM460.9 76.0h.8v.8h-.8zM472.7 65.6h.8v.8h-.8zM481.3 68.1h.8v.8h-.8zM459.6 75.5h.8v.8h-.8zM453.8 75.8h.8v.8h-.8zM459.0 62.7h.8v.8h-.8zM458.6 66.4h.8v.8h-.8zM453.1 61.5h.8v.8h-.8zM470.1 75.8h.8v.8h-.8zM462.0 63.0h.8v.8h-.8zM460.0 71.8h.8v.8h-.8zM469.1 70.5h.8v.8h-.8zM459.7 60.4h.8v.8h-.8zM472.8 69.9h.8v.8h-.8zM481.3 60.7h.8v.8h-.8zM461.4 63.7h.8v.8h-.8zM450.4 70.1h.8v.8h-.8zM476.4 67.5h.8v.8h-.8zM459.8 60.4h.8v.8h-.8zM470.2 63.8h.8v.8h-.8zM487.0 72.2h.8v.8h-.8zM454.3 71.6h.8v.8h-.8zM463.2 66.9h.8v.8h-.8zM475.5 69.8h.8v.8h-.8zM475.8 65.7h.8v.8h-.8zM469.7 64.7h.8v.8h-.8zM451.7 65.5h.8v.8h-.8zM463.6 73.1h.8v.8h-.8zM471.5 66.9h.8v.8h-.8zM471.1 72.7h.8v.8h-.8zM460.5 75.2h.8v.8h-.8zM455.8 72.5h.8v.8h-.8zM470.3 76.2h.8v.8h-.8zM472.0 66.5h.8v.8h-.8zM445.6 68.3h.8v.8h-.8zM470.2 69.4h.8v.8h-.8zM463.4 73.4h.8v.8h-.8zM464.9 68.9h.8v.8h-.8zM465.4 69.6h.8v.8h-.8zM460.4 71.3h.8v.8h-.8zM456.1 71.8h.8v.8h-.8zM479.8 68.8h.8v.8h-.8zM463.6 67.4h.8v.8h-.8zM445.1 69.4h.8v.8h-.8zM483.6 65.3h.8v.8h-.8zM453.0 66.5h.8v.8h-.8zM458.3 61.4h.8v.8h-.8zM461.0 69.2h.8v.8h-.8zM467.3 66.9h.8v.8h-.8zM462.0 73.4h.8v.8h-.8zM481.3 65.7h.8v.8h-.8zM456.0 63.2h.8v.8h-.8zM461.3 74.7h.8v.8h-.8zM469.0 66.2h.8v.8h-.8zM458.5 72.4h.8v.8h-.8zM467.5 67.3h.8v.8h-.8zM456.5 70.3h.8v.8h-.8zM481.6 69.5h.8v.8h-.8zM460.9 70.3h.8v.8h-.8zM464.2 71.1h.8v.8h-.8zM446.6 60.1h.8v.8h-.8zM463.2 69.0h.8v.8h-.8zM475.0 61.5h.8v.8h-.8zM453.9 71.0h.8v.8h-.8zM471.3 68.3h.8v.8h-.8zM459.8 70.9h.8v.8h-.8zM468.8 70.1h.8v.8h-.8zM465.3 69.0h.8v.8h-.8zM461.0 67.1h.8v.8h-.8zM446.5 67.4h.8v.8h-.8zM467.4 65.4h.8v.8h-.8zM477.2 71.1h.8v.8h-.8zM475.5 68.8h.8v.8h-.8zM474.9 72.5h.8v.8h-.8zM456.0 69.7h.8v.8h-.8zM464.5 64.1h.8v.8h-.8zM461.3 71.9h.8v.8h-.8zM470.4 70.3h.8v.8h-.8zM466.5 73.5h.8v.8h-.8zM482.8 69.9h.8v.8h-.8zM474.1 56.4h.8v.8h-.8zM467.0 67.7h.8v.8h-.8zM461.7 59.4h.8v.8h-.8zM477.6 63.3h.8v.8h-.8zM476.0 65.3h.8v.8h-.8zM461.2 72.7h.8v.8h-.8zM459.8 63.0h.8v.8h-.8zM465.2 66.8h.8v.8h-.8zM457.4 75.4h.8v.8h-.8zM461.5 64.2h.8v.8h-.8zM460.5 68.4h.8v.8h-.8zM461.5 60.6h.8v.8h-.8zM465.7 72.6h.8v.8h-.8zM453.8 72.8h.8v.8h-.8zM485.9 70.2h.8v.8h-.8zM481.4 67.6h.8v.8h-.8zM460.2 65.0h.8v.8h-.8zM466.8 67.8h.8v.8h-.8zM475.2 72.9h.8v.8h-.8zM466.0 72.0h.8v.8h-.8zM478.6 72.7h.8v.8h-.8zM472.5 63.6h.8v.8h-.8zM479.4 70.5h.8v.8h-.8zM465.0 64.1h.8v.8h-.8zM469.7 72.3h.8v.8h-.8zM465.3 71.3h.8v.8h-.8zM479.7 66.1h.8v.8h-.8zM458.4 68.8h.8v.8h-.8zM474.2 72.6h.8v.8h-.8zM457.7 74.9h.8v.8h-.8zM471.6 72.6h.8v.8h-.8zM454.7 67.3h.8v.8h-.8zM463.2 72.3h.8v.8h-.8zM469.9 61.5h.8v.8h-.8zM456.1 66.5h.8v.8h-.8zM474.7 71.3h.8v.8h-.8zM468.2 68.9h.8v.8h-.8zM467.5 62.4h.8v.8h-.8zM455.6 75.1h.8v.8h-.8zM473.8 69.2h.8v.8h-.8zM481.3 66.8h.8v.8h-.8zM451.9 68.2h.8v.8h-.8zM473.6 66.5h.8v.8h-.8zM479.4 73.4h.8v.8h-.8zM448.9 66.8h.8v.8h-.8zM462.5 65.4h.8v.8h-.8zM477.1 69.4h.8v.8h-.8zM458.4 69.8h.8v.8h-.8zM463.1 64.1h.8v.8h-.8zM467.2 66.9h.8v.8h-.8zM474.1 69.1h.8v.8h-.8zM452.0 59.0h.8v.8h-.8zM482.9 67.2h.8v.8h-.8zM466.4 66.0h.8v.8h-.8zM469.0 67.2h.8v.8h-.8zM462.8 70.9h.8v.8h-.8zM452.8 61.7h.8v.8h-.8zM460.2 71.9h.8v.8h-.8zM476.7 57.4h.8v.8h-.8zM467.9 58.8h.8v.8h-.8zM474.4 61.9h.8v.8h-.8zM478.3 64.1h.8v.8h-.8zM471.5 68.6h.8v.8h-.8zM462.7 71.5h.8v.8h-.8zM482.7 66.3h.8v.8h-.8zM459.9 67.6h.8v.8h-.8zM468.2 69.4h.8v.8h-.8zM468.5 71.9h.8v.8h-.8zM470.5 65.2h.8v.8h-.8zM454.5 68.9h.8v.8h-.8zM479.1 67.4h.8v.8h-.8zM464.7 73.8h.8v.8h-.8zM463.0 71.5h.8v.8h-.8zM466.7 62.3h.8v.8h-.8zM458.8 74.0h.8v.8h-.8zM474.3 73.0h.8v.8h-.8zM473.7 58.5h.8v.8h-.8zM459.8 67.7h.8v.8h-.8zM465.4 53.6h.8v.8h-.8zM462.3 72.2h.8v.8h-.8zM469.5 72.4h.8v.8h-.8zM467.1 62.4h.8v.8h-.8zM468.1 71.6h.8v.8h-.8zM471.7 74.5h.8v.8h-.8zM470.5 70.8h.8v.8h-.8zM454.4 73.9h.8v.8h-.8zM472.8 65.4h.8v.8h-.8zM468.0 65.5h.8v.8h-.8zM466.3 73.2h.8v.8h-.8zM455.5 64.2h.8v.8h-.8zM465.4 65.1h.8v.8h-.8zM470.3 70.4h.8v.8h-.8zM472.8 73.6h.8v.8h-.8zM480.8 64.6h.8v.8h-.8zM467.3 62.4h.8v.8h-.8zM448.5 56.2h.8v.8h-.8zM461.4 67.0h.8v.8h-.8zM471.3 72.8h.8v.8h-.8zM458.5 70.0h.8v.8h-.8zM483.8 66.3h.8v.8h-.8zM461.6 67.6h.8v.8h-.8zM471.1 64.9h.8v.8h-.8zM459.8 69.5h.8v.8h-.8zM459.1 68.2h.8v.8h-.8zM470.1 68.1h.8v.8h-.8zM459.7 72.1h.8v.8h-.8zM470.6 63.5h.8v.8h-.8zM464.4 65.3h.8v.8h-.8zM466.1 62.3h.8v.8h-.8zM479.0 61.5h.8v.8h-.8zM457.4 72.6h.8v.8h-.8zM460.2 58.1h.8v.8h-.8zM471.7 73.3h.8v.8h-.8zM468.2 66.1h.8v.8h-.8zM477.5 68.1h.8v.8h-.8zM464.7 67.5h.8v.8h-.8zM456.5 70.2h.8v.8h-.8zM458.2 66.6h.8v.8h-.8zM474.3 58.8h.8v.8h-.8zM465.6 69.6h.8v.8h-.8zM463.8 71.9h.8v.8h-.8zM473.7 70.8h.8v.8h-.8zM473.1 70.4h.8v.8h-.8zM471.6 63.3h.8v.8h-.8zM470.7 65.6h.8v.8h-.8zM463.5 66.4h.8v.8h-.8zM462.1 68.3h.8v.8h-.8zM463.5 63.2h.8v.8h-.8zM454.8 65.8h.8v.8h-.8zM462.4 68.3h.8v.8h-.8zM450.0 72.5h.8v.8h-.8zM459.7 63.2h.8v.8h-.8zM475.6 64.2h.8v.8h-.8zM465.9 75.6h.8v.8h-.8zM468.9 65.5h.8v.8h-.8zM466.4 71.8h.8v.8h-.8zM472.8 67.5h.8v.8h-.8zM466.3 66.8h.8v.8h-.8zM479.4 70.2h.8v.8h-.8zM469.2 73.6h.8v.8h-.8zM461.4 65.7h.8v.8h-.8zM463.0 67.1h.8v.8h-.8zM468.2 69.5h.8v.8h-.8zM459.5 61.9h.8v.8h-.8zM457.8 69.2h.8v.8h-.8zM473.2 67.7h.8v.8h-.8zM477.6 57.8h.8v.8h-.8zM469.2 58.4h.8v.8h-.8zM455.2 71.7h.8v.8h-.8zM470.0 67.1h.8v.8h-.8zM453.5 66.3h.8v.8h-.8zM468.7 62.4h.8v.8h-.8zM481.3 66.6h.8v.8h-.8zM485.0 68.2h.8v.8h-.8zM462.7 67.1h.8v.8h-.8zM457.8 63.8h.8v.8h-.8zM459.7 57.7h.8v.8h-.8zM455.9 69.7h.8v.8h-.8zM454.1 63.9h.8v.8h-.8zM465.3 66.7h.8v.8h-.8zM466.7 65.8h.8v.8h-.8zM464.8 70.7h.8v.8h-.8zM466.0 67.5h.8v.8h-.8zM473.0 66.9h.8v.8h-.8zM470.2 75.0h.8v.8h-.8zM479.0 66.4h.8v.8h-.8zM459.6 71.1h.8v.8h-.8zM462.2 65.5h.8v.8h-.8zM464.4 75.5h.8v.8h-.8zM475.1 72.8h.8v.8h-.8zM468.4 58.8h.8v.8h-.8zM456.3 72.6h.8v.8h-.8zM455.3 71.2h.8v.8h-.8zM459.2 71.6h.8v.8h-.8zM468.1 64.8h.8v.8h-.8zM475.7 66.9h.8v.8h-.8zM467.0 72.7h.8v.8h-.8zM472.1 75.5h.8v.8h-.8zM464.1 70.0h.8v.8h-.8zM453.3 73.6h.8v.8h-.8zM465.3 68.8h.8v.8h-.8zM457.4 71.8h.8v.8h-.8zM464.4 65.2h.8v.8h-.8zM465.6 74.0h.8v.8h-.8zM454.9 55.2h.8v.8h-.8zM461.4 68.5h.8v.8h-.8zM463.0 69.0h.8v.8h-.8zM453.2 67.5h.8v.8h-.8zM469.1 72.4h.8v.8h-.8zM463.0 67.3h.8v.8h-.8zM460.9 72.5h.8v.8h-.8zM468.7 61.7h.8v.8h-.8zM474.6 68.9h.8v.8h-.8zM457.2 66.5h.8v.8h-.8zM462.3 73.2h.8v.8h-.8zM476.0 67.5h.8v.8h-.8zM471.2 65.4h.8v.8h-.8zM452.6 71.1h.8v.8h-.8zM447.7 73.5h.8v.8h-.8zM454.9 75.0h.8v.8h-.8zM469.0 67.5h.8v.8h-.8zM463.3 71.6h.8v.8h-.8zM444.6 67.4h.8v.8h-.8zM458.9 64.2h.8v.8h-.8zM465.8 72.9h.8v.8h-.8zM482.9 68.9h.8v.8h-.8zM478.8 70.1h.8v.8h-.8zM474.7 71.9h.8v.8h-.8zM471.1 63.1h.8v.8h-.8zM470.5 67.0h.8v.8h-.8zM489.7 63.8h.8v.8h-.8zM473.5 68.0h.8v.8h-.8zM458.2 62.7h.8v.8h-.8zM472.3 69.4h.8v.8h-.8zM467.6 72.0h.8v.8h-.8zM462.3 65.9h.8v.8h-.8zM456.8 50.2h.8v.8h-.8zM462.5 68.6h.8v.8h-.8zM458.4 56.7h.8v.8h-.8zM474.9 65.9h.8v.8h-.8zM461.6 73.9h.8v.8h-.8zM462.0 65.7h.8v.8h-.8zM477.3 65.7h.8v.8h-.8zM445.5 55.3h.8v.8h-.8zM467.0 73.7h.8v.8h-.8zM455.3 73.6h.8v.8h-.8zM469.2 68.5h.8v.8h-.8zM470.9 70.5h.8v.8h-.8zM452.3 64.6h.8v.8h-.8zM477.3 66.5h.8v.8h-.8zM456.7 72.9h.8v.8h-.8zM464.3 69.3h.8v.8h-.8zM470.1 73.2h.8v.8h-.8zM456.1 63.5h.8v.8h-.8zM465.9 66.9h.8v.8h-.8zM466.7 71.2h.8v.8h-.8zM451.4 70.9h.8v.8h-.8zM462.6 62.9h.8v.8h-.8zM473.7 70.8h.8v.8h-.8zM463.5 66.0h.8v.8h-.8zM457.7 70.3h.8v.8h-.8zM464.3 73.4h.8v.8h-.8zM447.9 66.4h.8v.8h-.8zM471.2 63.7h.8v.8h-.8zM476.2 65.2h.8v.8h-.8zM461.2 62.5h.8v.8h-.8zM475.5 66.1h.8v.8h-.8zM455.1 74.1h.8v.8h-.8zM458.1 68.7h.8v.8h-.8zM473.1 62.5h.8v.8h-.8zM475.7 70.7h.8v.8h-.8zM458.8 66.2h.8v.8h-.8zM468.9 68.4h.8v.8h-.8zM450.8 71.4h.8v.8h-.8zM457.2 69.9h.8v.8h-.8zM475.4 63.7h.8v.8h-.8zM460.3 60.8h.8v.8h-.8zM471.0 75.0h.8v.8h-.8zM471.1 69.1h.8v.8h-.8zM466.4 59.5h.8v.8h-.8zM471.0 67.2h.8v.8h-.8zM461.9 68.5h.8v.8h-.8zM476.7 71.8h.8v.8h-.8zM467.9 68.6h.8v.8h-.8zM465.5 64.3h.8v.8h-.8zM458.6 69.9h.8v.8h-.8zM464.4 74.1h.8v.8h-.8zM479.5 64.7h.8v.8h-.8zM473.1 70.4h.8v.8h-.8zM458.7 74.6h.8v.8h-.8zM489.7 61.9h.8v.8h-.8zM471.8 69.5h.8v.8h-.8zM479.9 65.4h.8v.8h-.8zM470.1 65.1h.8v.8h-.8zM478.2 70.0h.8v.8h-.8zM472.0 68.6h.8v.8h-.8zM466.3 71.6h.8v.8h-.8zM460.2 75.4h.8v.8h-.8zM457.0 75.5h.8v.8h-.8zM458.5 70.3h.8v.8h-.8zM455.6 70.9h.8v.8h-.8zM471.2 66.7h.8v.8h-.8zM486.2 68.3h.8v.8h-.8zM473.5 72.2h.8v.8h-.8zM473.2 69.7h.8v.8h-.8zM467.3 72.1h.8v.8h-.8zM471.1 70.3h.8v.8h-.8zM478.8 68.1h.8v.8h-.8zM463.7 65.1h.8v.8h-.8zM474.6 65.9h.8v.8h-.8zM474.2 71.7h.8v.8h-.8zM459.3 61.4h.8v.8h-.8zM474.4 56.2h.8v.8h-.8zM480.3 75.9h.8v.8h-.8zM455.1 69.7h.8v.8h-.8zM455.2 66.3h.8v.8h-.8zM451.4 71.9h.8v.8h-.8zM462.1 71.3h.8v.8h-.8zM466.0 72.6h.8v.8h-.8zM458.7 69.3h.8v.8h-.8zM455.7 71.3h.8v.8h-.8zM461.3 72.1h.8v.8h-.8zM460.1 62.0h.8v.8h-.8zM461.8 60.9h.8v.8h-.8zM461.2 70.7h.8v.8h-.8zM462.4 67.4h.8v.8h-.8zM460.9 59.2h.8v.8h-.8zM465.5 66.3h.8v.8h-.8zM464.1 64.2h.8v.8h-.8zM483.8 74.8h.8v.8h-.8zM463.1 69.6h.8v.8h-.8zM455.1 71.3h.8v.8h-.8zM469.5 67.9h.8v.8h-.8zM467.9 66.1h.8v.8h-.8zM468.8 70.2h.8v.8h-.8zM460.6 61.0h.8v.8h-.8zM466.5 65.3h.8v.8h-.8zM459.9 64.2h.8v.8h-.8zM459.0 72.2h.8v.8h-.8zM489.9 70.7h.8v.8h-.8zM487.2 73.8h.8v.8h-.8zM486.0 71.5h.8v.8h-.8zM479.6 70.7h.8v.8h-.8zM485.4 72.4h.8v.8h-.8zM481.6 76.0h.8v.8h-.8zM482.9 67.0h.8v.8h-.8zM493.6 72.0h.8v.8h-.8zM486.1 73.5h.8v.8h-.8zM479.9 71.5h.8v.8h-.8zM483.7 70.6h.8v.8h-.8zM483.3 76.2h.8v.8h-.8zM487.2 71.1h.8v.8h-.8zM486.7 75.7h.8v.8h-.8zM491.9 69.2h.8v.8h-.8zM481.4 74.1h.8v.8h-.8zM484.2 73.7h.8v.8h-.8zM487.8 73.7h.8v.8h-.8zM490.5 71.7h.8v.8h-.8zM480.5 70.5h.8v.8h-.8zM488.8 73.9h.8v.8h-.8zM492.3 74.2h.8v.8h-.8zM491.6 76.4h.8v.8h-.8zM487.9 71.7h.8v.8h-.8zM493.1 68.2h.8v.8h-.8zM490.7 75.9h.8v.8h-.8zM484.3 74.2h.8v.8h-.8zM482.7 74.3h.8v.8h-.8zM485.4 74.5h.8v.8h-.8zM490.1 74.6h.8v.8h-.8zM484.0 70.0h.8v.8h-.8zM480.2 64.9h.8v.8h-.8zM476.7 70.8h.8v.8h-.8zM488.0 73.4h.8v.8h-.8zM489.9 70.7h.8v.8h-.8zM489.5 70.5h.8v.8h-.8zM493.5 66.9h.8v.8h-.8zM478.4 70.2h.8v.8h-.8zM483.8 72.3h.8v.8h-.8zM483.2 73.6h.8v.8h-.8zM483.1 67.7h.8v.8h-.8zM483.3 73.5h.8v.8h-.8zM485.7 70.3h.8v.8h-.8zM484.5 75.9h.8v.8h-.8zM490.5 71.3h.8v.8h-.8zM493.6 73.7h.8v.8h-.8zM482.2 67.0h.8v.8h-.8zM493.5 71.5h.8v.8h-.8zM484.0 66.8h.8v.8h-.8zM499.0 73.8h.8v.8h-.8zM489.4 73.9h.8v.8h-.8zM493.0 70.4h.8v.8h-.8zM488.9 72.6h.8v.8h-.8zM489.3 74.0h.8v.8h-.8zM484.3 72.0h.8v.8h-.8zM491.6 71.9h.8v.8h-.8zM488.4 72.5h.8v.8h-.8zM482.6 75.8h.8v.8h-.8zM488.0 67.6h.8v.8h-.8zM494.5 70.6h.8v.8h-.8zM491.7 69.8h.8v.8h-.8zM485.1 73.8h.8v.8h-.8zM487.0 70.3h.8v.8h-.8zM483.2 74.3h.8v.8h-.8zM483.9 76.3h.8v.8h-.8zM485.2 73.1h.8v.8h-.8zM485.7 73.1h.8v.8h-.8zM484.8 71.5h.8v.8h-.8zM486.6 75.8h.8v.8h-.8zM489.9 72.9h.8v.8h-.8zM483.4 73.9h.8v.8h-.8zM481.7 70.7h.8v.8h-.8zM485.0 70.3h.8v.8h-.8zM485.1 71.4h.8v.8h-.8zM489.8 71.1h.8v.8h-.8zM485.0 72.1h.8v.8h-.8zM488.4 73.7h.8v.8h-.8zM483.5 71.0h.8v.8h-.8zM476.6 69.1h.8v.8h-.8zM489.1 69.4h.8v.8h-.8zM480.7 68.9h.8v.8h-.8zM493.6 68.6h.8v.8h-.8zM498.3 72.0h.8v.8h-.8zM484.2 68.9h.8v.8h-.8zM491.8 66.3h.8v.8h-.8zM481.1 76.0h.8v.8h-.8zM492.2 69.2h.8v.8h-.8zM485.4 73.4h.8v.8h-.8zM485.5 69.4h.8v.8h-.8zM487.5 73.5h.8v.8h-.8zM491.8 66.5h.8v.8h-.8zM488.1 74.6h.8v.8h-.8zM483.1 75.6h.8v.8h-.8zM489.5 72.9h.8v.8h-.8zM485.3 64.0h.8v.8h-.8zM492.7 72.9h.8v.8h-.8zM487.2 36.8h.8v.8h-.8zM490.7 29.1h.8v.8h-.8zM487.9 35.0h.8v.8h-.8zM487.7 44.4h.8v.8h-.8zM493.9 46.1h.8v.8h-.8zM481.1 31.1h.8v.8h-.8zM489.9 49.3h.8v.8h-.8zM485.1 37.1h.8v.8h-.8zM485.8 35.6h.8v.8h-.8zM492.2 46.8h.8v.8h-.8zM479.2 29.0h.8v.8h-.8zM478.7 40.6h.8v.8h-.8zM487.0 47.2h.8v.8h-.8zM486.9 40.1h.8v.8h-.8zM481.0 47.3h.8v.8h-.8zM489.8 29.6h.8v.8h-.8zM493.4 38.5h.8v.8h-.8zM479.8 33.3h.8v.8h-.8zM488.1 43.4h.8v.8h-.8zM492.4 32.5h.8v.8h-.8zM483.8 47.4h.8v.8h-.8zM480.7 44.2h.8v.8h-.8zM493.7 32.2h.8v.8h-.8zM488.7 50.9h.8v.8h-.8zM485.7 45.8h.8v.8h-.8zM480.0 48.7h.8v.8h-.8zM480.8 28.3h.8v.8h-.8zM492.7 46.3h.8v.8h-.8zM493.8 32.0h.8v.8h-.8zM485.0 51.6h.8v.8h-.8zM483.0 44.4h.8v.8h-.8zM488.9 50.8h.8v.8h-.8zM493.6 30.4h.8v.8h-.8zM480.2 44.3h.8v.8h-.8zM488.6 45.1h.8v.8h-.8zM491.9 46.4h.8v.8h-.8zM488.4 37.0h.8v.8h-.8zM481.8 43.7h.8v.8h-.8zM482.7 45.0h.8v.8h-.8zM477.6 40.5h.8v.8h-.8zM480.4 46.7h.8v.8h-.8zM489.0 28.6h.8v.8h-.8zM487.3 47.9h.8v.8h-.8zM494.0 39.4h.8v.8h-.8zM488.2 34.7h.8v.8h-.8zM477.7 33.5h.8v.8h-.8zM492.4 48.0h.8v.8h-.8zM479.2 40.2h.8v.8h-.8zM480.6 32.9h.8v.8h-.8zM486.9 41.5h.8v.8h-.8zM469.2 26.3h.8v.8h-.8zM444.4 42.3h.8v.8h-.8zM462.3 35.3h.8v.8h-.8zM465.7 49.4h.8v.8h-.8zM472.4 27.3h.8v.8h-.8zM446.9 30.0h.8v.8h-.8zM472.0 56.4h.8v.8h-.8zM480.5 48.5h.8v.8h-.8zM472.4 49.4h.8v.8h-.8zM475.2 53.2h.8v.8h-.8zM477.0 43.4h.8v.8h-.8zM475.7 44.4h.8v.8h-.8zM461.3 50.4h.8v.8h-.8zM467.1 45.3h.8v.8h-.8zM467.6 46.9h.8v.8h-.8zM480.1 57.3h.8v.8h-.8zM469.0 47.0h.8v.8h-.8zM469.6 50.2h.8v.8h-.8zM462.2 56.1h.8v.8h-.8zM473.7 53.9h.8v.8h-.8zM473.2 57.5h.8v.8h-.8zM475.1 53.4h.8v.8h-.8zM469.5 46.0h.8v.8h-.8zM470.2 39.7h.8v.8h-.8zM475.7 54.3h.8v.8h-.8zM469.5 40.8h.8v.8h-.8zM474.6 40.8h.8v.8h-.8zM472.5 58.8h.8v.8h-.8zM468.1 52.5h.8v.8h-.8zM469.5 46.8h.8v.8h-.8zM472.6 43.3h.8v.8h-.8zM471.3 49.1h.8v.8h-.8zM477.3 47.5h.8v.8h-.8zM475.3 51.0h.8v.8h-.8zM469.3 52.7h.8v.8h-.8zM477.5 61.3h.8v.8h-.8zM394.7 123.1h.8v.8h-.8zM406.8 126.2h.8v.8h-.8zM393.9 110.2h.8v.8h-.8zM393.0 126.7h.8v.8h-.8zM399.4 112.6h.8v.8h-.8zM390.7 125.7h.8v.8h-.8zM413.2 128.8h.8v.8h-.8zM398.3 112.0h.8v.8h-.8zM400.1 114.4h.8v.8h-.8zM402.7 114.8h.8v.8h-.8zM394.6 124.8h.8v.8h-.8zM397.4 122.4h.8v.8h-.8zM395.0 115.9h.8v.8h-.8zM410.4 112.5h.8v.8h-.8zM393.5 121.0h.8v.8h-.8zM418.9 124.8h.8v.8h-.8zM412.7 109.7h.8v.8h-.8zM409.6 121.4h.8v.8h-.8zM406.3 117.5h.8v.8h-.8zM404.7 114.3h.8v.8h-.8zM410.2 121.7h.8v.8h-.8zM399.6 119.7h.8v.8h-.8zM413.4 121.5h.8v.8h-.8zM403.7 117.6h.8v.8h-.8zM410.3 113.2h.8v.8h-.8zM413.9 121.8h.8v.8h-.8zM391.9 118.6h.8v.8h-.8zM406.4 120.7h.8v.8h-.8zM409.3 124.4h.8v.8h-.8zM397.1 123.1h.8v.8h-.8zM411.6 123.8h.8v.8h-.8zM411.8 110.9h.8v.8h-.8zM386.9 120.9h.8v.8h-.8zM413.9 117.0h.8v.8h-.8zM392.3 111.3h.8v.8h-.8zM413.7 123.6h.8v.8h-.8zM394.0 114.7h.8v.8h-.8zM388.6 121.8h.8v.8h-.8zM410.9 115.7h.8v.8h-.8zM401.2 122.7h.8v.8h-.8zM406.2 123.6h.8v.8h-.8zM400.6 126.6h.8v.8h-.8zM392.0 110.1h.8v.8h-.8zM397.4 126.0h.8v.8h-.8zM412.0 113.0h.8v.8h-.8zM410.1 105.6h.8v.8h-.8zM399.2 115.3h.8v.8h-.8zM402.0 119.8h.8v.8h-.8zM404.2 129.1h.8v.8h-.8zM407.8 111.5h.8v.8h-.8zM424.5 110.8h.8v.8h-.8zM408.2 115.0h.8v.8h-.8zM418.8 113.5h.8v.8h-.8zM398.9 128.6h.8v.8h-.8zM422.9 122.9h.8v.8h-.8zM402.8 118.0h.8v.8h-.8zM392.3 115.2h.8v.8h-.8zM390.2 119.0h.8v.8h-.8zM405.6 117.3h.8v.8h-.8zM390.9 110.9h.8v.8h-.8zM413.7 113.9h.8v.8h-.8zM390.9 123.9h.8v.8h-.8zM412.5 113.4h.8v.8h-.8zM393.6 113.8h.8v.8h-.8zM405.5 121.2h.8v.8h-.8zM412.2 112.5h.8v.8h-.8zM394.1 124.6h.8v.8h-.8zM404.9 118.8h.8v.8h-.8zM408.3 123.1h.8v.8h-.8zM410.8 115.9h.8v.8h-.8zM395.7 116.1h.8v.8h-.8zM401.6 113.9h.8v.8h-.8zM395.4 123.8h.8v.8h-.8zM401.1 117.5h.8v.8h-.8zM403.0 121.1h.8v.8h-.8zM402.8 128.6h.8v.8h-.8zM414.6 120.8h.8v.8h-.8zM394.3 123.1h.8v.8h-.8zM394.6 120.7h.8v.8h-.8zM405.7 127.6h.8v.8h-.8zM403.4 120.6h.8v.8h-.8zM422.1 121.8h.8v.8h-.8zM413.8 126.9h.8v.8h-.8zM415.9 119.8h.8v.8h-.8zM410.1 124.6h.8v.8h-.8zM389.0 122.5h.8v.8h-.8zM406.0 109.1h.8v.8h-.8zM396.3 126.1h.8v.8h-.8zM402.2 127.4h.8v.8h-.8zM407.0 113.7h.8v.8h-.8zM405.7 119.3h.8v.8h-.8zM404.8 113.8h.8v.8h-.8zM405.7 116.2h.8v.8h-.8zM400.8 122.9h.8v.8h-.8zM409.4 122.5h.8v.8h-.8zM397.9 120.0h.8v.8h-.8zM404.0 115.1h.8v.8h-.8zM394.5 125.4h.8v.8h-.8zM413.0 107.9h.8v.8h-.8zM396.0 125.2h.8v.8h-.8zM394.7 116.7h.8v.8h-.8zM399.3 111.0h.8v.8h-.8zM407.7 116.8h.8v.8h-.8zM411.1 110.5h.8v.8h-.8zM397.8 113.7h.8v.8h-.8zM404.9 115.8h.8v.8h-.8zM400.7 117.8h.8v.8h-.8zM391.5 113.5h.8v.8h-.8zM399.3 123.8h.8v.8h-.8zM405.0 114.8h.8v.8h-.8zM405.7 121.6h.8v.8h-.8zM409.6 115.6h.8v.8h-.8zM391.8 126.7h.8v.8h-.8zM417.7 115.7h.8v.8h-.8zM402.5 119.2h.8v.8h-.8zM396.0 124.8h.8v.8h-.8zM392.1 119.7h.8v.8h-.8zM428.1 119.7h.8v.8h-.8zM392.0 115.0h.8v.8h-.8zM396.8 117.6h.8v.8h-.8zM400.3 116.0h.8v.8h-.8zM394.4 123.4h.8v.8h-.8zM404.0 113.8h.8v.8h-.8zM404.3 124.6h.8v.8h-.8zM393.4 119.2h.8v.8h-.8zM394.6 119.8h.8v.8h-.8zM416.4 112.1h.8v.8h-.8zM398.8 129.5h.8v.8h-.8zM408.1 122.1h.8v.8h-.8zM394.4 127.5h.8v.8h-.8zM402.6 111.7h.8v.8h-.8zM403.8 119.5h.8v.8h-.8zM405.1 116.1h.8v.8h-.8zM388.3 118.6h.8v.8h-.8zM401.2 120.1h.8v.8h-.8zM396.8 121.7h.8v.8h-.8zM400.9 119.5h.8v.8h-.8zM398.8 122.8h.8v.8h-.8zM395.1 125.0h.8v.8h-.8zM412.6 121.1h.8v.8h-.8zM402.6 115.1h.8v.8h-.8zM397.2 105.0h.8v.8h-.8zM400.9 116.8h.8v.8h-.8zM402.9 117.0h.8v.8h-.8zM410.6 128.0h.8v.8h-.8zM390.1 123.0h.8v.8h-.8zM402.7 113.6h.8v.8h-.8zM399.3 120.5h.8v.8h-.8zM401.2 123.9h.8v.8h-.8zM407.9 118.8h.8v.8h-.8zM392.5 120.4h.8v.8h-.8zM393.8 121.0h.8v.8h-.8zM402.0 114.6h.8v.8h-.8zM406.6 113.5h.8v.8h-.8zM410.1 118.3h.8v.8h-.8zM413.1 126.3h.8v.8h-.8zM406.2 122.8h.8v.8h-.8zM388.4 114.8h.8v.8h-.8zM414.5 129.0h.8v.8h-.8zM393.6 124.9h.8v.8h-.8zM394.2 118.5h.8v.8h-.8zM402.0 125.8h.8v.8h-.8zM396.0 117.3h.8v.8h-.8zM407.3 120.5h.8v.8h-.8zM403.5 119.7h.8v.8h-.8zM403.9 125.8h.8v.8h-.8zM403.6 118.5h.8v.8h-.8zM410.4 126.7h.8v.8h-.8zM411.0 116.4h.8v.8h-.8zM424.7 117.1h.8v.8h-.8zM414.0 124.1h.8v.8h-.8zM400.7 107.9h.8v.8h-.8zM400.8 120.0h.8v.8h-.8zM424.4 119.1h.8v.8h-.8zM391.0 115.0h.8v.8h-.8zM396.3 111.8h.8v.8h-.8zM390.8 116.7h.8v.8h-.8zM411.9 108.3h.8v.8h-.8zM410.2 120.6h.8v.8h-.8zM413.5 111.4h.8v.8h-.8zM415.1 119.7h.8v.8h-.8zM402.3 116.4h.8v.8h-.8zM416.1 125.4h.8v.8h-.8zM409.3 113.5h.8v.8h-.8zM394.4 124.0h.8v.8h-.8zM392.7 122.1h.8v.8h-.8zM407.6 120.0h.8v.8h-.8zM386.6 123.0h.8v.8h-.8zM415.9 123.6h.8v.8h-.8zM397.3 115.6h.8v.8h-.8zM406.6 128.8h.8v.8h-.8zM383.7 120.2h.8v.8h-.8zM409.3 123.3h.8v.8h-.8zM410.1 122.1h.8v.8h-.8zM414.3 126.8h.8v.8h-.8zM400.3 113.6h.8v.8h-.8zM395.4 118.8h.8v.8h-.8zM397.0 114.2h.8v.8h-.8zM413.0 116.3h.8v.8h-.8zM406.2 122.6h.8v.8h-.8zM409.9 124.4h.8v.8h-.8zM412.7 118.4h.8v.8h-.8zM408.8 120.3h.8v.8h-.8zM403.9 123.5h.8v.8h-.8zM386.5 118.8h.8v.8h-.8zM409.1 123.2h.8v.8h-.8zM394.2 119.7h.8v.8h-.8zM394.2 116.7h.8v.8h-.8zM392.8 112.5h.8v.8h-.8zM414.4 128.2h.8v.8h-.8zM402.4 116.2h.8v.8h-.8zM393.8 119.5h.8v.8h-.8zM407.5 119.6h.8v.8h-.8zM404.4 118.4h.8v.8h-.8zM388.5 119.8h.8v.8h-.8zM399.0 115.1h.8v.8h-.8zM402.8 129.1h.8v.8h-.8zM401.2 115.1h.8v.8h-.8zM406.7 123.6h.8v.8h-.8zM410.4 117.8h.8v.8h-.8zM403.6 128.2h.8v.8h-.8zM389.2 120.9h.8v.8h-.8zM400.9 116.7h.8v.8h-.8zM408.4 122.2h.8v.8h-.8zM408.2 117.7h.8v.8h-.8zM398.0 119.5h.8v.8h-.8zM405.7 115.4h.8v.8h-.8zM405.9 122.9h.8v.8h-.8zM390.4 124.2h.8v.8h-.8zM395.7 128.5h.8v.8h-.8zM384.7 116.7h.8v.8h-.8zM401.8 114.7h.8v.8h-.8zM397.1 122.4h.8v.8h-.8zM398.5 111.9h.8v.8h-.8zM389.4 118.8h.8v.8h-.8zM412.9 116.7h.8v.8h-.8zM407.5 118.4h.8v.8h-.8zM387.7 123.8h.8v.8h-.8zM417.6 117.7h.8v.8h-.8zM404.9 125.0h.8v.8h-.8zM408.8 116.4h.8v.8h-.8zM384.3 124.6h.8v.8h-.8zM401.9 120.1h.8v.8h-.8zM401.7 120.6h.8v.8h-.8zM415.7 123.7h.8v.8h-.8zM410.6 116.9h.8v.8h-.8zM393.1 121.4h.8v.8h-.8zM397.5 121.8h.8v.8h-.8zM419.9 116.4h.8v.8h-.8zM400.9 117.1h.8v.8h-.8zM422.7 116.2h.8v.8h-.8zM401.7 120.2h.8v.8h-.8zM407.3 114.9h.8v.8h-.8zM391.2 115.4h.8v.8h-.8zM390.6 127.7h.8v.8h-.8zM391.7 118.5h.8v.8h-.8zM412.0 118.8h.8v.8h-.8zM400.5 120.4h.8v.8h-.8zM413.4 119.6h.8v.8h-.8zM402.6 117.2h.8v.8h-.8zM403.5 117.2h.8v.8h-.8zM396.1 113.4h.8v.8h-.8zM399.7 119.6h.8v.8h-.8zM407.2 120.6h.8v.8h-.8zM395.5 120.6h.8v.8h-.8zM408.8 118.8h.8v.8h-.8zM402.3 114.2h.8v.8h-.8zM407.9 115.7h.8v.8h-.8zM390.3 116.7h.8v.8h-.8zM405.0 122.2h.8v.8h-.8zM402.4 121.0h.8v.8h-.8zM396.9 105.9h.8v.8h-.8zM389.7 108.8h.8v.8h-.8zM416.1 123.0h.8v.8h-.8zM393.7 122.1h.8v.8h-.8zM403.9 119.0h.8v.8h-.8zM407.1 115.2h.8v.8h-.8zM420.3 120.5h.8v.8h-.8zM406.0 113.6h.8v.8h-.8zM403.7 118.8h.8v.8h-.8zM390.9 112.2h.8v.8h-.8zM407.7 122.7h.8v.8h-.8zM402.8 118.1h.8v.8h-.8zM390.8 121.0h.8v.8h-.8zM401.2 120.4h.8v.8h-.8zM391.9 121.2h.8v.8h-.8zM393.1 129.1h.8v.8h-.8zM402.9 115.5h.8v.8h-.8zM395.9 112.3h.8v.8h-.8zM400.0 119.6h.8v.8h-.8zM403.5 125.6h.8v.8h-.8zM413.6 124.6h.8v.8h-.8zM412.7 129.0h.8v.8h-.8zM393.9 125.9h.8v.8h-.8zM399.8 127.1h.8v.8h-.8zM394.7 114.7h.8v.8h-.8zM388.6 118.1h.8v.8h-.8zM400.7 117.6h.8v.8h-.8zM392.2 120.5h.8v.8h-.8zM394.1 126.8h.8v.8h-.8zM406.2 122.9h.8v.8h-.8zM397.9 129.5h.8v.8h-.8zM406.3 124.4h.8v.8h-.8zM415.5 106.1h.8v.8h-.8zM401.9 116.0h.8v.8h-.8zM400.8 115.2h.8v.8h-.8zM401.2 122.7h.8v.8h-.8zM403.9 118.0h.8v.8h-.8zM389.5 121.2h.8v.8h-.8zM406.5 121.1h.8v.8h-.8zM394.5 119.3h.8v.8h-.8zM405.0 118.8h.8v.8h-.8zM420.7 117.9h.8v.8h-.8zM391.2 120.3h.8v.8h-.8zM405.1 112.3h.8v.8h-.8zM398.6 117.9h.8v.8h-.8zM408.3 124.9h.8v.8h-.8zM398.1 116.9h.8v.8h-.8zM414.2 121.7h.8v.8h-.8zM412.6 122.2h.8v.8h-.8zM407.9 123.7h.8v.8h-.8zM391.5 115.0h.8v.8h-.8zM398.4 111.3h.8v.8h-.8zM399.3 113.6h.8v.8h-.8zM404.1 120.9h.8v.8h-.8zM405.0 113.1h.8v.8h-.8zM402.2 119.0h.8v.8h-.8zM403.8 119.6h.8v.8h-.8zM389.0 115.3h.8v.8h-.8zM404.4 119.8h.8v.8h-.8zM405.2 116.8h.8v.8h-.8zM405.3 107.1h.8v.8h-.8zM389.5 117.1h.8v.8h-.8zM427.8 116.6h.8v.8h-.8zM398.2 126.3h.8v.8h-.8zM402.8 115.9h.8v.8h-.8zM404.2 119.7h.8v.8h-.8zM388.8 122.1h.8v.8h-.8zM390.9 119.9h.8v.8h-.8zM384.0 117.7h.8v.8h-.8zM389.3 111.6h.8v.8h-.8zM408.5 116.0h.8v.8h-.8zM413.0 105.9h.8v.8h-.8zM402.3 128.0h.8v.8h-.8zM403.8 117.0h.8v.8h-.8zM401.3 118.3h.8v.8h-.8zM403.4 122.2h.8v.8h-.8zM398.1 110.8h.8v.8h-.8zM385.3 124.1h.8v.8h-.8zM402.4 123.2h.8v.8h-.8zM400.7 106.3h.8v.8h-.8zM403.6 115.9h.8v.8h-.8zM403.1 110.8h.8v.8h-.8zM413.8 118.0h.8v.8h-.8zM394.0 111.6h.8v.8h-.8zM395.3 110.3h.8v.8h-.8zM398.6 112.7h.8v.8h-.8zM399.4 126.1h.8v.8h-.8zM405.0 118.7h.8v.8h-.8zM409.9 116.8h.8v.8h-.8zM395.3 116.6h.8v.8h-.8zM403.0 121.6h.8v.8h-.8zM405.2 124.3h.8v.8h-.8zM414.7 116.5h.8v.8h-.8zM400.9 124.6h.8v.8h-.8zM403.1 121.0h.8v.8h-.8zM413.1 121.4h.8v.8h-.8zM416.1 123.9h.8v.8h-.8zM390.3 116.9h.8v.8h-.8zM392.2 102.1h.8v.8h-.8zM407.6 124.4h.8v.8h-.8zM407.5 118.9h.8v.8h-.8zM403.0 119.1h.8v.8h-.8zM405.3 104.8h.8v.8h-.8zM406.4 118.1h.8v.8h-.8zM400.3 116.3h.8v.8h-.8zM386.8 119.9h.8v.8h-.8zM409.5 124.7h.8v.8h-.8zM403.6 112.5h.8v.8h-.8zM415.3 116.5h.8v.8h-.8zM404.0 120.8h.8v.8h-.8zM403.8 121.8h.8v.8h-.8zM403.0 119.1h.8v.8h-.8zM410.9 115.3h.8v.8h-.8zM401.8 116.6h.8v.8h-.8zM405.3 110.8h.8v.8h-.8zM391.4 127.6h.8v.8h-.8zM409.8 127.4h.8v.8h-.8zM394.8 118.0h.8v.8h-.8zM387.4 114.9h.8v.8h-.8zM413.0 120.3h.8v.8h-.8zM400.7 117.4h.8v.8h-.8zM405.5 115.7h.8v.8h-.8zM413.9 118.1h.8v.8h-.8zM415.7 116.2h.8v.8h-.8zM394.0 126.5h.8v.8h-.8zM399.5 119.2h.8v.8h-.8zM393.7 123.9h.8v.8h-.8zM408.6 119.6h.8v.8h-.8zM407.9 110.0h.8v.8h-.8zM410.6 108.3h.8v.8h-.8zM407.6 119.0h.8v.8h-.8zM412.2 113.4h.8v.8h-.8zM416.7 123.8h.8v.8h-.8zM394.9 119.6h.8v.8h-.8zM408.5 117.0h.8v.8h-.8zM416.9 120.5h.8v.8h-.8zM423.1 122.8h.8v.8h-.8zM421.0 124.1h.8v.8h-.8zM423.8 120.0h.8v.8h-.8zM407.7 119.5h.8v.8h-.8zM428.2 113.5h.8v.8h-.8zM426.7 118.4h.8v.8h-.8zM414.8 125.4h.8v.8h-.8zM424.7 121.8h.8v.8h-.8zM418.1 117.6h.8v.8h-.8zM416.8 124.4h.8v.8h-.8zM424.5 125.1h.8v.8h-.8zM414.8 123.1h.8v.8h-.8zM422.0 122.2h.8v.8h-.8zM411.6 116.5h.8v.8h-.8zM410.1 122.3h.8v.8h-.8zM422.0 118.9h.8v.8h-.8zM417.8 120.0h.8v.8h-.8zM429.9 116.2h.8v.8h-.8zM419.8 117.2h.8v.8h-.8zM426.0 122.7h.8v.8h-.8zM413.4 119.4h.8v.8h-.8zM422.2 123.6h.8v.8h-.8zM413.9 119.6h.8v.8h-.8zM414.2 117.3h.8v.8h-.8zM426.7 124.7h.8v.8h-.8zM426.6 119.6h.8v.8h-.8zM420.2 122.1h.8v.8h-.8zM426.2 114.5h.8v.8h-.8zM417.5 128.7h.8v.8h-.8zM419.9 114.1h.8v.8h-.8zM420.3 126.2h.8v.8h-.8zM428.8 118.4h.8v.8h-.8zM419.2 127.7h.8v.8h-.8zM414.9 118.1h.8v.8h-.8zM420.3 111.7h.8v.8h-.8zM420.4 122.4h.8v.8h-.8zM411.6 122.9h.8v.8h-.8zM420.9 121.5h.8v.8h-.8zM423.2 121.2h.8v.8h-.8zM424.8 128.5h.8v.8h-.8zM419.1 119.1h.8v.8h-.8zM421.6 125.7h.8v.8h-.8zM420.8 120.1h.8v.8h-.8zM427.2 124.1h.8v.8h-.8zM427.0 122.7h.8v.8h-.8zM417.0 122.2h.8v.8h-.8zM417.1 124.2h.8v.8h-.8zM424.7 126.5h.8v.8h-.8zM432.9 128.1h.8v.8h-.8zM414.6 127.8h.8v.8h-.8zM420.6 115.2h.8v.8h-.8zM421.7 118.9h.8v.8h-.8zM414.8 123.4h.8v.8h-.8zM423.2 122.8h.8v.8h-.8zM417.5 119.1h.8v.8h-.8zM414.2 124.5h.8v.8h-.8zM418.9 121.8h.8v.8h-.8zM419.5 127.1h.8v.8h-.8zM422.2 123.3h.8v.8h-.8zM420.8 122.6h.8v.8h-.8zM425.0 126.9h.8v.8h-.8zM421.2 123.3h.8v.8h-.8zM413.7 116.9h.8v.8h-.8zM410.4 121.6h.8v.8h-.8zM422.9 127.7h.8v.8h-.8zM410.5 121.5h.8v.8h-.8zM415.8 122.8h.8v.8h-.8zM419.1 122.0h.8v.8h-.8zM415.7 127.2h.8v.8h-.8zM410.7 116.4h.8v.8h-.8zM423.1 123.9h.8v.8h-.8zM424.4 119.4h.8v.8h-.8zM416.5 128.5h.8v.8h-.8zM427.0 119.3h.8v.8h-.8zM413.0 125.9h.8v.8h-.8zM417.5 128.7h.8v.8h-.8zM414.7 122.7h.8v.8h-.8zM417.2 101.1h.8v.8h-.8zM415.9 107.9h.8v.8h-.8zM424.8 103.7h.8v.8h-.8zM409.5 88.3h.8v.8h-.8zM425.8 83.6h.8v.8h-.8zM428.3 85.4h.8v.8h-.8zM427.2 92.7h.8v.8h-.8zM421.6 84.1h.8v.8h-.8zM432.0 79.7h.8v.8h-.8zM421.0 100.0h.8v.8h-.8zM428.1 94.4h.8v.8h-.8zM424.9 95.0h.8v.8h-.8zM422.6 91.8h.8v.8h-.8zM430.4 83.8h.8v.8h-.8zM418.0 90.7h.8v.8h-.8zM422.6 84.2h.8v.8h-.8zM426.8 92.5h.8v.8h-.8zM429.5 88.6h.8v.8h-.8zM426.4 87.3h.8v.8h-.8zM425.1 92.2h.8v.8h-.8zM428.7 88.0h.8v.8h-.8zM431.5 94.8h.8v.8h-.8zM423.6 94.8h.8v.8h-.8zM434.7 97.0h.8v.8h-.8zM426.7 89.0h.8v.8h-.8zM416.9 115.9h.8v.8h-.8zM433.9 88.4h.8v.8h-.8zM427.8 101.1h.8v.8h-.8zM433.2 104.2h.8v.8h-.8zM425.1 81.2h.8v.8h-.8zM419.8 87.0h.8v.8h-.8zM421.5 89.5h.8v.8h-.8zM431.4 92.7h.8v.8h-.8zM427.9 97.1h.8v.8h-.8zM423.7 88.3h.8v.8h-.8zM424.4 99.3h.8v.8h-.8zM420.9 83.2h.8v.8h-.8zM415.9 81.6h.8v.8h-.8zM433.3 94.4h.8v.8h-.8zM427.2 93.7h.8v.8h-.8zM430.0 96.2h.8v.8h-.8zM420.2 90.5h.8v.8h-.8zM422.7 97.7h.8v.8h-.8zM419.0 84.5h.8v.8h-.8zM428.2 95.3h.8v.8h-.8zM427.1 87.3h.8v.8h-.8zM419.9 90.8h.8v.8h-.8zM428.2 86.4h.8v.8h-.8zM425.6 90.5h.8v.8h-.8zM426.0 86.2h.8v.8h-.8zM424.8 90.2h.8v.8h-.8zM420.4 88.1h.8v.8h-.8zM431.0 97.9h.8v.8h-.8zM428.6 85.0h.8v.8h-.8zM419.5 85.8h.8v.8h-.8zM426.1 85.9h.8v.8h-.8zM425.2 95.3h.8v.8h-.8zM411.6 91.7h.8v.8h-.8zM433.1 93.0h.8v.8h-.8zM406.3 90.9h.8v.8h-.8zM426.4 83.3h.8v.8h-.8zM425.6 83.4h.8v.8h-.8zM426.3 90.0h.8v.8h-.8zM425.9 91.9h.8v.8h-.8zM417.1 99.1h.8v.8h-.8zM416.3 97.4h.8v.8h-.8zM434.0 96.9h.8v.8h-.8zM419.5 105.0h.8v.8h-.8zM431.1 97.2h.8v.8h-.8zM422.1 81.3h.8v.8h-.8zM411.3 92.5h.8v.8h-.8zM428.7 95.3h.8v.8h-.8zM418.7 99.0h.8v.8h-.8zM424.8 87.3h.8v.8h-.8zM431.9 101.3h.8v.8h-.8zM420.0 92.0h.8v.8h-.8zM429.1 90.9h.8v.8h-.8zM424.3 91.2h.8v.8h-.8zM417.4 95.5h.8v.8h-.8zM433.2 87.9h.8v.8h-.8zM422.8 92.7h.8v.8h-.8zM428.4 101.6h.8v.8h-.8zM420.9 92.2h.8v.8h-.8zM416.4 94.1h.8v.8h-.8zM420.4 95.3h.8v.8h-.8zM427.5 101.0h.8v.8h-.8zM413.1 83.2h.8v.8h-.8zM421.5 82.1h.8v.8h-.8zM428.1 85.1h.8v.8h-.8zM427.8 86.2h.8v.8h-.8zM439.7 87.0h.8v.8h-.8zM430.9 92.8h.8v.8h-.8zM422.7 89.3h.8v.8h-.8zM426.7 84.1h.8v.8h-.8zM425.7 87.8h.8v.8h-.8zM419.0 92.2h.8v.8h-.8zM432.8 82.6h.8v.8h-.8zM436.8 86.5h.8v.8h-.8zM427.3 85.9h.8v.8h-.8zM419.3 79.7h.8v.8h-.8zM425.7 85.4h.8v.8h-.8zM424.2 96.4h.8v.8h-.8zM434.0 84.3h.8v.8h-.8zM428.0 89.5h.8v.8h-.8zM434.5 88.5h.8v.8h-.8zM436.9 91.6h.8v.8h-.8zM430.1 92.1h.8v.8h-.8zM427.3 92.2h.8v.8h-.8zM421.7 89.9h.8v.8h-.8zM420.5 90.5h.8v.8h-.8zM425.9 88.5h.8v.8h-.8zM421.0 98.3h.8v.8h-.8zM422.8 84.8h.8v.8h-.8zM424.8 89.0h.8v.8h-.8zM432.0 87.3h.8v.8h-.8zM427.4 94.5h.8v.8h-.8zM426.9 90.8h.8v.8h-.8zM431.1 88.9h.8v.8h-.8zM417.9 88.3h.8v.8h-.8zM420.5 126.6h.8v.8h-.8zM417.3 126.8h.8v.8h-.8zM408.1 121.2h.8v.8h-.8zM421.4 124.2h.8v.8h-.8zM411.8 127.3h.8v.8h-.8zM414.3 120.2h.8v.8h-.8zM423.7 125.5h.8v.8h-.8zM420.8 115.1h.8v.8h-.8zM409.7 117.4h.8v.8h-.8zM414.4 117.6h.8v.8h-.8zM425.9 120.0h.8v.8h-.8zM420.1 121.5h.8v.8h-.8zM419.8 120.2h.8v.8h-.8zM414.3 121.6h.8v.8h-.8zM415.3 110.6h.8v.8h-.8zM417.8 119.9h.8v.8h-.8zM420.2 129.1h.8v.8h-.8zM423.2 119.7h.8v.8h-.8zM423.9 117.4h.8v.8h-.8zM415.0 122.9h.8v.8h-.8zM426.7 126.7h.8v.8h-.8zM416.4 118.2h.8v.8h-.8zM416.0 106.0h.8v.8h-.8zM405.7 111.8h.8v.8h-.8zM424.2 115.9h.8v.8h-.8zM411.1 120.6h.8v.8h-.8zM426.9 125.1h.8v.8h-.8zM426.1 123.1h.8v.8h-.8zM412.7 113.4h.8v.8h-.8zM419.8 121.5h.8v.8h-.8zM410.9 126.1h.8v.8h-.8zM416.7 118.7h.8v.8h-.8zM413.9 120.6h.8v.8h-.8zM422.0 120.9h.8v.8h-.8zM420.0 117.0h.8v.8h-.8zM411.6 107.0h.8v.8h-.8zM412.8 109.7h.8v.8h-.8zM415.8 119.1h.8v.8h-.8zM421.9 121.9h.8v.8h-.8zM414.1 126.7h.8v.8h-.8zM426.0 119.9h.8v.8h-.8zM417.4 120.2h.8v.8h-.8zM422.4 121.1h.8v.8h-.8zM423.9 124.6h.8v.8h-.8zM415.5 118.5h.8v.8h-.8zM409.1 124.7h.8v.8h-.8zM416.6 113.3h.8v.8h-.8zM417.8 118.2h.8v.8h-.8zM416.5 119.4h.8v.8h-.8zM413.7 118.6h.8v.8h-.8zM414.3 124.8h.8v.8h-.8zM424.8 121.4h.8v.8h-.8zM419.7 110.2h.8v.8h-.8zM417.9 108.0h.8v.8h-.8zM416.6 114.7h.8v.8h-.8zM420.9 126.4h.8v.8h-.8zM418.3 125.9h.8v.8h-.8zM425.5 118.4h.8v.8h-.8zM421.6 114.6h.8v.8h-.8zM419.2 112.6h.8v.8h-.8zM420.8 113.5h.8v.8h-.8zM412.4 118.0h.8v.8h-.8zM404.2 123.3h.8v.8h-.8zM417.3 123.9h.8v.8h-.8zM421.7 111.2h.8v.8h-.8zM416.4 122.2h.8v.8h-.8zM410.8 125.3h.8v.8h-.8zM420.7 120.6h.8v.8h-.8zM423.7 119.3h.8v.8h-.8zM408.7 120.1h.8v.8h-.8zM419.5 125.2h.8v.8h-.8zM419.9 125.7h.8v.8h-.8zM417.1 118.6h.8v.8h-.8zM420.8 114.7h.8v.8h-.8zM418.1 123.0h.8v.8h-.8zM416.2 125.3h.8v.8h-.8zM423.9 120.3h.8v.8h-.8zM423.6 118.6h.8v.8h-.8zM408.9 122.8h.8v.8h-.8zM416.8 117.4h.8v.8h-.8zM418.6 118.6h.8v.8h-.8zM414.3 128.8h.8v.8h-.8zM419.6 125.1h.8v.8h-.8zM414.7 112.4h.8v.8h-.8zM420.8 117.7h.8v.8h-.8zM419.4 111.9h.8v.8h-.8zM410.9 110.2h.8v.8h-.8zM422.7 122.6h.8v.8h-.8zM408.4 116.2h.8v.8h-.8zM424.1 105.3h.8v.8h-.8zM413.3 88.4h.8v.8h-.8zM419.8 118.0h.8v.8h-.8zM433.8 121.6h.8v.8h-.8zM391.3 118.7h.8v.8h-.8zM407.2 124.7h.8v.8h-.8zM431.9 126.3h.8v.8h-.8zM425.9 117.9h.8v.8h-.8zM385.4 82.7h.8v.8h-.8zM435.4 102.9h.8v.8h-.8zM400.8 95.5h.8v.8h-.8zM397.5 82.3h.8v.8h-.8zM389.8 116.3h.8v.8h-.8zM434.8 97.8h.8v.8h-.8zM403.0 105.2h.8v.8h-.8zM394.4 93.0h.8v.8h-.8zM410.4 117.8h.8v.8h-.8zM427.1 84.4h.8v.8h-.8zM396.2 83.6h.8v.8h-.8zM432.9 88.2h.8v.8h-.8zM420.8 84.1h.8v.8h-.8zM426.4 91.6h.8v.8h-.8zM421.8 122.8h.8v.8h-.8zM398.3 81.2h.8v.8h-.8zM415.9 93.9h.8v.8h-.8zM425.1 97.0h.8v.8h-.8zM385.1 115.0h.8v.8h-.8zM430.5 128.5h.8v.8h-.8zM427.2 109.6h.8v.8h-.8zM392.6 81.2h.8v.8h-.8zM408.9 103.1h.8v.8h-.8zM404.8 88.0h.8v.8h-.8zM424.6 122.2h.8v.8h-.8zM389.7 121.9h.8v.8h-.8zM393.7 98.7h.8v.8h-.8zM419.7 111.5h.8v.8h-.8zM425.2 90.0h.8v.8h-.8zM404.7 113.6h.8v.8h-.8zM417.3 105.1h.8v.8h-.8zM437.3 90.1h.8v.8h-.8zM429.4 126.9h.8v.8h-.8zM385.9 122.2h.8v.8h-.8zM429.6 97.0h.8v.8h-.8zM403.1 106.5h.8v.8h-.8zM436.3 86.8h.8v.8h-.8zM429.5 110.9h.8v.8h-.8zM390.1 127.5h.8v.8h-.8zM398.4 86.3h.8v.8h-.8zM431.4 101.9h.8v.8h-.8zM408.0 93.3h.8v.8h-.8zM386.9 103.9h.8v.8h-.8zM400.5 100.3h.8v.8h-.8zM426.8 119.6h.8v.8h-.8zM413.9 97.7h.8v.8h-.8zM400.5 82.7h.8v.8h-.8zM389.9 125.8h.8v.8h-.8zM406.9 120.4h.8v.8h-.8zM408.6 88.4h.8v.8h-.8zM430.8 116.1h.8v.8h-.8zM408.9 101.9h.8v.8h-.8zM438.1 105.3h.8v.8h-.8zM411.4 96.1h.8v.8h-.8zM430.8 89.3h.8v.8h-.8zM393.0 99.4h.8v.8h-.8zM422.2 125.1h.8v.8h-.8zM425.2 113.4h.8v.8h-.8zM425.4 95.3h.8v.8h-.8zM421.3 88.7h.8v.8h-.8zM419.8 87.8h.8v.8h-.8zM415.2 94.5h.8v.8h-.8zM464.5 116.0h.8v.8h-.8zM457.2 116.2h.8v.8h-.8zM453.7 119.9h.8v.8h-.8zM460.2 112.6h.8v.8h-.8zM452.3 110.3h.8v.8h-.8zM455.0 115.6h.8v.8h-.8zM467.8 116.5h.8v.8h-.8zM464.3 123.7h.8v.8h-.8zM464.1 118.3h.8v.8h-.8zM460.6 117.4h.8v.8h-.8zM470.5 115.5h.8v.8h-.8zM465.9 119.7h.8v.8h-.8zM456.6 111.8h.8v.8h-.8zM469.2 115.1h.8v.8h-.8zM455.3 109.5h.8v.8h-.8zM466.6 110.6h.8v.8h-.8zM469.9 115.0h.8v.8h-.8zM464.0 111.7h.8v.8h-.8zM457.0 113.6h.8v.8h-.8zM455.5 120.3h.8v.8h-.8zM463.8 127.6h.8v.8h-.8zM452.4 117.8h.8v.8h-.8zM468.2 116.8h.8v.8h-.8zM473.0 119.3h.8v.8h-.8zM458.0 121.4h.8v.8h-.8zM456.4 124.6h.8v.8h-.8zM463.7 114.9h.8v.8h-.8zM451.3 106.8h.8v.8h-.8zM452.0 117.2h.8v.8h-.8zM467.6 121.0h.8v.8h-.8zM459.8 124.9h.8v.8h-.8zM476.3 116.3h.8v.8h-.8zM452.4 114.7h.8v.8h-.8zM465.1 117.1h.8v.8h-.8zM462.8 115.0h.8v.8h-.8zM464.3 121.0h.8v.8h-.8zM456.5 122.6h.8v.8h-.8zM456.0 118.1h.8v.8h-.8zM459.6 110.8h.8v.8h-.8zM456.2 110.7h.8v.8h-.8zM460.3 122.1h.8v.8h-.8zM465.4 122.6h.8v.8h-.8zM463.6 99.4h.8v.8h-.8zM452.0 121.3h.8v.8h-.8zM465.2 120.9h.8v.8h-.8zM460.6 123.2h.8v.8h-.8zM461.6 119.7h.8v.8h-.8zM462.7 118.0h.8v.8h-.8zM461.6 122.0h.8v.8h-.8zM463.0 107.7h.8v.8h-.8zM463.0 117.3h.8v.8h-.8zM462.2 123.5h.8v.8h-.8zM464.7 113.4h.8v.8h-.8zM447.1 120.4h.8v.8h-.8zM459.0 118.5h.8v.8h-.8zM459.2 121.4h.8v.8h-.8zM472.3 118.0h.8v.8h-.8zM464.5 124.2h.8v.8h-.8zM455.1 122.8h.8v.8h-.8zM464.0 119.2h.8v.8h-.8zM447.6 112.6h.8v.8h-.8zM462.4 115.2h.8v.8h-.8zM466.7 106.0h.8v.8h-.8zM455.1 115.1h.8v.8h-.8zM467.1 117.3h.8v.8h-.8zM462.9 123.1h.8v.8h-.8zM460.0 114.8h.8v.8h-.8zM459.3 109.0h.8v.8h-.8zM459.2 119.5h.8v.8h-.8zM471.2 113.6h.8v.8h-.8zM461.5 123.8h.8v.8h-.8zM454.9 106.7h.8v.8h-.8zM453.1 105.3h.8v.8h-.8zM465.3 115.4h.8v.8h-.8zM459.8 119.5h.8v.8h-.8zM454.8 121.7h.8v.8h-.8zM456.6 109.4h.8v.8h-.8zM461.2 108.0h.8v.8h-.8zM472.2 113.2h.8v.8h-.8zM449.6 112.3h.8v.8h-.8zM456.7 117.3h.8v.8h-.8zM473.1 121.2h.8v.8h-.8zM461.4 122.1h.8v.8h-.8zM470.7 112.1h.8v.8h-.8zM453.5 106.2h.8v.8h-.8zM464.5 108.9h.8v.8h-.8zM460.1 126.3h.8v.8h-.8zM467.0 126.6h.8v.8h-.8zM464.9 116.0h.8v.8h-.8zM458.8 125.6h.8v.8h-.8zM463.5 111.5h.8v.8h-.8zM455.8 123.0h.8v.8h-.8zM464.7 119.3h.8v.8h-.8zM456.0 115.2h.8v.8h-.8zM449.6 113.4h.8v.8h-.8zM448.7 116.9h.8v.8h-.8zM463.8 110.4h.8v.8h-.8zM468.5 115.7h.8v.8h-.8zM453.4 105.7h.8v.8h-.8zM459.6 123.8h.8v.8h-.8zM457.9 123.0h.8v.8h-.8zM460.0 124.1h.8v.8h-.8zM478.8 118.2h.8v.8h-.8zM468.9 108.0h.8v.8h-.8zM464.1 117.8h.8v.8h-.8zM451.2 117.0h.8v.8h-.8zM455.3 122.7h.8v.8h-.8zM468.6 117.3h.8v.8h-.8zM458.8 115.4h.8v.8h-.8zM458.4 124.1h.8v.8h-.8zM445.7 114.5h.8v.8h-.8zM466.1 121.0h.8v.8h-.8zM453.7 121.2h.8v.8h-.8zM467.5 112.0h.8v.8h-.8zM450.3 114.4h.8v.8h-.8zM463.8 117.1h.8v.8h-.8zM458.8 121.5h.8v.8h-.8zM450.6 123.7h.8v.8h-.8zM451.9 114.5h.8v.8h-.8zM458.7 116.2h.8v.8h-.8zM454.2 124.8h.8v.8h-.8zM451.9 119.0h.8v.8h-.8zM470.7 106.0h.8v.8h-.8zM460.5 120.6h.8v.8h-.8zM468.7 126.8h.8v.8h-.8zM462.0 120.3h.8v.8h-.8zM458.3 127.6h.8v.8h-.8zM466.6 118.6h.8v.8h-.8zM450.0 119.1h.8v.8h-.8zM464.4 116.1h.8v.8h-.8zM462.1 124.7h.8v.8h-.8zM464.1 122.2h.8v.8h-.8zM456.4 120.4h.8v.8h-.8zM466.6 115.8h.8v.8h-.8zM459.1 115.5h.8v.8h-.8zM451.2 113.2h.8v.8h-.8zM460.3 112.3h.8v.8h-.8zM464.2 126.6h.8v.8h-.8zM459.5 114.5h.8v.8h-.8zM469.1 111.9h.8v.8h-.8zM460.3 118.3h.8v.8h-.8zM464.4 112.4h.8v.8h-.8zM456.3 105.0h.8v.8h-.8zM458.0 112.2h.8v.8h-.8zM450.7 120.9h.8v.8h-.8zM456.2 122.7h.8v.8h-.8zM459.2 115.4h.8v.8h-.8zM455.2 117.6h.8v.8h-.8zM466.8 119.2h.8v.8h-.8zM465.1 116.2h.8v.8h-.8zM468.0 119.6h.8v.8h-.8zM467.7 117.0h.8v.8h-.8zM467.6 123.2h.8v.8h-.8zM454.4 115.5h.8v.8h-.8zM471.5 117.3h.8v.8h-.8zM471.2 117.2h.8v.8h-.8zM460.8 118.5h.8v.8h-.8zM463.5 127.2h.8v.8h-.8zM459.0 112.5h.8v.8h-.8zM471.6 108.0h.8v.8h-.8zM464.2 113.7h.8v.8h-.8zM469.4 111.8h.8v.8h-.8zM460.6 109.8h.8v.8h-.8zM459.6 129.2h.8v.8h-.8zM454.8 112.8h.8v.8h-.8zM467.9 114.8h.8v.8h-.8zM459.4 114.7h.8v.8h-.8zM455.5 115.6h.8v.8h-.8zM458.7 114.2h.8v.8h-.8zM458.5 120.2h.8v.8h-.8zM458.3 117.0h.8v.8h-.8zM467.3 108.8h.8v.8h-.8zM465.9 118.3h.8v.8h-.8zM455.0 122.8h.8v.8h-.8zM465.7 113.2h.8v.8h-.8zM453.5 109.6h.8v.8h-.8zM463.9 117.7h.8v.8h-.8zM453.5 123.9h.8v.8h-.8zM455.2 121.6h.8v.8h-.8zM444.7 118.5h.8v.8h-.8zM465.1 121.6h.8v.8h-.8zM454.2 124.8h.8v.8h-.8zM456.6 124.3h.8v.8h-.8zM462.6 118.7h.8v.8h-.8zM456.4 114.8h.8v.8h-.8zM474.9 118.5h.8v.8h-.8zM464.1 119.8h.8v.8h-.8zM458.9 120.8h.8v.8h-.8zM462.2 119.8h.8v.8h-.8zM462.0 117.0h.8v.8h-.8zM468.3 121.7h.8v.8h-.8zM460.5 128.4h.8v.8h-.8zM450.5 116.2h.8v.8h-.8zM467.4 117.9h.8v.8h-.8zM454.9 122.6h.8v.8h-.8zM466.5 114.8h.8v.8h-.8zM465.2 121.6h.8v.8h-.8zM453.0 119.4h.8v.8h-.8zM465.3 119.8h.8v.8h-.8zM460.9 122.6h.8v.8h-.8zM465.2 122.4h.8v.8h-.8zM467.1 123.2h.8v.8h-.8zM462.4 114.9h.8v.8h-.8zM457.5 113.6h.8v.8h-.8zM462.8 126.4h.8v.8h-.8zM466.4 125.7h.8v.8h-.8zM454.1 117.0h.8v.8h-.8zM456.4 111.1h.8v.8h-.8zM448.8 114.9h.8v.8h-.8zM464.7 123.0h.8v.8h-.8zM461.8 123.7h.8v.8h-.8zM463.2 105.1h.8v.8h-.8zM465.2 115.8h.8v.8h-.8zM462.1 122.5h.8v.8h-.8zM472.1 112.4h.8v.8h-.8zM465.4 112.2h.8v.8h-.8zM461.6 118.9h.8v.8h-.8zM459.0 113.8h.8v.8h-.8zM460.8 117.6h.8v.8h-.8zM461.1 117.4h.8v.8h-.8zM454.6 111.6h.8v.8h-.8zM461.4 113.3h.8v.8h-.8zM461.4 115.8h.8v.8h-.8zM456.0 120.6h.8v.8h-.8zM465.4 122.2h.8v.8h-.8zM466.5 112.6h.8v.8h-.8zM456.1 122.2h.8v.8h-.8zM464.1 116.0h.8v.8h-.8zM464.6 114.1h.8v.8h-.8zM458.1 117.8h.8v.8h-.8zM467.6 112.4h.8v.8h-.8zM462.8 115.2h.8v.8h-.8zM457.0 120.0h.8v.8h-.8zM451.7 119.6h.8v.8h-.8zM468.2 115.6h.8v.8h-.8zM466.0 121.4h.8v.8h-.8zM460.6 114.8h.8v.8h-.8zM451.1 116.6h.8v.8h-.8zM462.2 117.6h.8v.8h-.8zM464.1 110.5h.8v.8h-.8zM455.2 106.0h.8v.8h-.8zM462.4 111.1h.8v.8h-.8zM474.9 108.6h.8v.8h-.8zM473.3 109.7h.8v.8h-.8zM463.2 122.3h.8v.8h-.8zM465.5 117.9h.8v.8h-.8zM461.7 118.8h.8v.8h-.8zM463.9 121.9h.8v.8h-.8zM470.3 120.5h.8v.8h-.8zM456.1 110.6h.8v.8h-.8zM458.5 126.4h.8v.8h-.8zM452.5 120.4h.8v.8h-.8zM473.4 109.7h.8v.8h-.8zM461.9 113.8h.8v.8h-.8zM458.1 117.1h.8v.8h-.8zM450.9 115.5h.8v.8h-.8zM465.0 116.1h.8v.8h-.8zM462.3 113.1h.8v.8h-.8zM463.7 123.2h.8v.8h-.8zM454.3 115.0h.8v.8h-.8zM471.7 109.2h.8v.8h-.8zM466.5 128.6h.8v.8h-.8zM469.4 108.3h.8v.8h-.8zM458.9 111.7h.8v.8h-.8zM453.7 119.7h.8v.8h-.8zM464.5 110.2h.8v.8h-.8zM448.2 115.8h.8v.8h-.8zM462.2 113.8h.8v.8h-.8zM474.4 115.6h.8v.8h-.8zM459.4 109.8h.8v.8h-.8zM454.8 108.7h.8v.8h-.8zM460.3 120.2h.8v.8h-.8zM468.0 120.3h.8v.8h-.8zM460.3 122.3h.8v.8h-.8zM460.4 119.5h.8v.8h-.8zM472.9 118.0h.8v.8h-.8zM471.3 118.3h.8v.8h-.8zM451.8 122.2h.8v.8h-.8zM468.0 109.6h.8v.8h-.8zM461.4 111.3h.8v.8h-.8zM456.7 116.3h.8v.8h-.8zM463.4 119.1h.8v.8h-.8zM459.9 121.7h.8v.8h-.8zM460.9 113.7h.8v.8h-.8zM459.4 120.5h.8v.8h-.8zM460.4 119.1h.8v.8h-.8zM457.4 122.0h.8v.8h-.8zM466.8 116.5h.8v.8h-.8zM463.9 123.1h.8v.8h-.8zM464.9 111.7h.8v.8h-.8zM455.3 122.4h.8v.8h-.8zM465.9 116.4h.8v.8h-.8zM456.1 118.3h.8v.8h-.8zM459.8 111.1h.8v.8h-.8zM458.9 124.0h.8v.8h-.8zM453.1 121.5h.8v.8h-.8zM463.4 118.2h.8v.8h-.8zM461.7 119.1h.8v.8h-.8zM460.2 115.5h.8v.8h-.8zM465.8 109.8h.8v.8h-.8zM455.9 112.4h.8v.8h-.8zM460.3 111.2h.8v.8h-.8zM454.5 119.0h.8v.8h-.8zM460.0 115.8h.8v.8h-.8zM460.0 118.2h.8v.8h-.8zM463.8 116.8h.8v.8h-.8zM453.5 120.3h.8v.8h-.8zM457.1 119.8h.8v.8h-.8zM456.0 117.8h.8v.8h-.8zM471.0 118.3h.8v.8h-.8zM460.3 122.8h.8v.8h-.8zM457.5 108.6h.8v.8h-.8zM451.2 110.3h.8v.8h-.8zM461.3 122.7h.8v.8h-.8zM463.5 116.1h.8v.8h-.8zM460.5 124.9h.8v.8h-.8zM461.6 119.9h.8v.8h-.8zM474.2 118.0h.8v.8h-.8zM458.6 114.1h.8v.8h-.8zM468.6 115.1h.8v.8h-.8zM462.2 115.2h.8v.8h-.8zM460.3 113.6h.8v.8h-.8zM463.3 117.0h.8v.8h-.8zM460.5 121.5h.8v.8h-.8zM458.9 111.5h.8v.8h-.8zM466.7 113.7h.8v.8h-.8zM458.0 123.9h.8v.8h-.8zM450.3 111.1h.8v.8h-.8zM467.1 114.9h.8v.8h-.8zM456.0 117.8h.8v.8h-.8zM450.0 116.9h.8v.8h-.8zM456.8 116.8h.8v.8h-.8zM450.5 109.9h.8v.8h-.8zM469.9 118.1h.8v.8h-.8zM455.4 112.3h.8v.8h-.8zM456.6 122.9h.8v.8h-.8zM460.2 122.0h.8v.8h-.8zM458.5 110.9h.8v.8h-.8zM457.7 124.2h.8v.8h-.8zM449.0 107.1h.8v.8h-.8zM459.6 123.1h.8v.8h-.8zM455.1 120.1h.8v.8h-.8zM470.6 116.9h.8v.8h-.8zM468.9 115.6h.8v.8h-.8zM468.2 111.5h.8v.8h-.8zM465.5 111.1h.8v.8h-.8zM460.3 120.7h.8v.8h-.8zM449.3 118.8h.8v.8h-.8zM461.1 123.5h.8v.8h-.8zM459.7 122.9h.8v.8h-.8zM461.6 120.1h.8v.8h-.8zM453.0 119.4h.8v.8h-.8zM465.3 117.0h.8v.8h-.8zM467.0 119.8h.8v.8h-.8zM460.7 122.0h.8v.8h-.8zM459.8 115.7h.8v.8h-.8zM447.1 108.7h.8v.8h-.8zM451.5 120.8h.8v.8h-.8zM466.3 121.7h.8v.8h-.8zM461.9 118.8h.8v.8h-.8zM469.1 120.9h.8v.8h-.8zM475.0 120.4h.8v.8h-.8zM455.8 109.0h.8v.8h-.8zM461.2 115.9h.8v.8h-.8zM455.3 115.3h.8v.8h-.8zM460.5 119.4h.8v.8h-.8zM465.6 120.1h.8v.8h-.8zM457.0 111.5h.8v.8h-.8zM461.9 113.9h.8v.8h-.8zM453.0 115.5h.8v.8h-.8zM458.5 117.9h.8v.8h-.8zM465.8 119.6h.8v.8h-.8zM453.8 117.6h.8v.8h-.8zM466.1 116.5h.8v.8h-.8zM467.0 112.7h.8v.8h-.8zM464.0 118.1h.8v.8h-.8zM465.5 126.2h.8v.8h-.8zM467.4 118.2h.8v.8h-.8zM467.5 122.7h.8v.8h-.8zM462.8 111.0h.8v.8h-.8zM466.5 126.6h.8v.8h-.8zM465.6 113.1h.8v.8h-.8zM465.2 113.6h.8v.8h-.8zM459.0 125.0h.8v.8h-.8zM458.2 117.9h.8v.8h-.8zM459.9 120.6h.8v.8h-.8zM465.1 119.3h.8v.8h-.8zM470.8 115.1h.8v.8h-.8zM456.5 111.4h.8v.8h-.8zM466.8 115.9h.8v.8h-.8zM465.5 119.3h.8v.8h-.8zM460.4 119.8h.8v.8h-.8zM460.0 117.6h.8v.8h-.8zM469.2 109.2h.8v.8h-.8zM477.3 120.8h.8v.8h-.8zM455.3 116.7h.8v.8h-.8zM453.1 113.0h.8v.8h-.8zM446.9 109.9h.8v.8h-.8zM461.7 116.8h.8v.8h-.8zM460.2 114.1h.8v.8h-.8zM455.9 113.6h.8v.8h-.8zM465.6 126.2h.8v.8h-.8zM458.7 120.0h.8v.8h-.8zM455.0 114.2h.8v.8h-.8zM458.5 111.7h.8v.8h-.8zM446.2 115.8h.8v.8h-.8zM461.7 119.1h.8v.8h-.8zM457.1 114.6h.8v.8h-.8zM470.6 115.8h.8v.8h-.8zM463.5 121.8h.8v.8h-.8zM453.6 126.0h.8v.8h-.8zM469.7 117.7h.8v.8h-.8zM452.3 115.4h.8v.8h-.8zM464.5 121.5h.8v.8h-.8zM453.7 123.5h.8v.8h-.8zM461.5 117.8h.8v.8h-.8zM452.7 115.4h.8v.8h-.8zM460.5 124.0h.8v.8h-.8zM466.3 119.8h.8v.8h-.8zM460.3 110.3h.8v.8h-.8zM452.6 120.7h.8v.8h-.8zM470.3 115.6h.8v.8h-.8zM463.0 115.5h.8v.8h-.8zM455.4 119.2h.8v.8h-.8zM462.8 117.1h.8v.8h-.8zM467.4 116.1h.8v.8h-.8zM470.4 124.9h.8v.8h-.8zM465.4 122.1h.8v.8h-.8zM460.3 119.6h.8v.8h-.8zM452.5 118.4h.8v.8h-.8zM453.3 108.7h.8v.8h-.8zM463.5 116.7h.8v.8h-.8zM457.3 121.7h.8v.8h-.8zM461.0 119.4h.8v.8h-.8zM452.9 114.1h.8v.8h-.8zM458.9 115.1h.8v.8h-.8zM465.1 114.3h.8v.8h-.8zM461.5 114.1h.8v.8h-.8zM452.5 119.4h.8v.8h-.8zM455.1 104.9h.8v.8h-.8zM456.5 121.4h.8v.8h-.8zM465.5 116.6h.8v.8h-.8zM467.0 123.3h.8v.8h-.8zM460.6 120.2h.8v.8h-.8zM454.4 114.4h.8v.8h-.8zM459.9 120.2h.8v.8h-.8zM459.1 114.7h.8v.8h-.8zM444.6 118.3h.8v.8h-.8zM460.1 111.8h.8v.8h-.8zM478.4 117.0h.8v.8h-.8zM457.7 109.5h.8v.8h-.8zM458.4 117.1h.8v.8h-.8zM465.7 117.4h.8v.8h-.8zM455.1 119.9h.8v.8h-.8zM456.7 113.8h.8v.8h-.8zM458.9 114.9h.8v.8h-.8zM457.9 116.8h.8v.8h-.8zM459.8 125.8h.8v.8h-.8zM471.0 117.2h.8v.8h-.8zM471.5 111.3h.8v.8h-.8zM460.4 123.8h.8v.8h-.8zM449.9 114.6h.8v.8h-.8zM478.3 117.5h.8v.8h-.8zM463.6 122.8h.8v.8h-.8zM455.6 124.0h.8v.8h-.8zM467.5 112.2h.8v.8h-.8zM468.1 114.3h.8v.8h-.8zM462.0 117.4h.8v.8h-.8zM459.0 120.0h.8v.8h-.8zM462.5 117.3h.8v.8h-.8zM460.1 120.6h.8v.8h-.8zM464.4 120.6h.8v.8h-.8zM463.4 122.1h.8v.8h-.8zM463.0 121.4h.8v.8h-.8zM464.0 116.1h.8v.8h-.8zM452.0 121.1h.8v.8h-.8zM457.0 119.4h.8v.8h-.8zM467.3 124.4h.8v.8h-.8zM459.3 123.6h.8v.8h-.8zM447.9 115.0h.8v.8h-.8zM456.8 116.7h.8v.8h-.8zM461.2 120.6h.8v.8h-.8zM474.7 115.6h.8v.8h-.8zM452.7 112.1h.8v.8h-.8zM463.5 115.3h.8v.8h-.8zM473.2 115.6h.8v.8h-.8zM460.8 117.1h.8v.8h-.8zM465.7 123.4h.8v.8h-.8zM456.8 113.5h.8v.8h-.8zM463.4 112.0h.8v.8h-.8zM461.6 117.5h.8v.8h-.8zM457.3 112.5h.8v.8h-.8zM455.9 123.7h.8v.8h-.8zM465.7 116.3h.8v.8h-.8zM481.6 84.0h.8v.8h-.8zM482.3 99.4h.8v.8h-.8zM478.7 81.0h.8v.8h-.8zM481.2 110.7h.8v.8h-.8zM485.9 97.8h.8v.8h-.8zM484.0 81.8h.8v.8h-.8zM481.9 100.2h.8v.8h-.8zM479.1 82.5h.8v.8h-.8zM484.2 86.2h.8v.8h-.8zM488.6 86.0h.8v.8h-.8zM486.4 81.1h.8v.8h-.8zM485.9 101.7h.8v.8h-.8zM480.1 97.8h.8v.8h-.8zM478.0 101.7h.8v.8h-.8zM487.6 90.0h.8v.8h-.8zM479.4 78.7h.8v.8h-.8zM476.6 98.6h.8v.8h-.8zM483.3 88.5h.8v.8h-.8zM481.3 107.0h.8v.8h-.8zM482.4 95.2h.8v.8h-.8zM482.3 98.7h.8v.8h-.8zM479.1 111.7h.8v.8h-.8zM474.7 92.3h.8v.8h-.8zM482.8 91.4h.8v.8h-.8zM480.0 104.5h.8v.8h-.8zM481.3 99.8h.8v.8h-.8zM486.5 88.1h.8v.8h-.8zM474.7 85.0h.8v.8h-.8zM482.0 102.2h.8v.8h-.8zM475.1 87.7h.8v.8h-.8zM482.1 93.4h.8v.8h-.8zM485.2 95.9h.8v.8h-.8zM476.4 96.6h.8v.8h-.8zM483.9 114.0h.8v.8h-.8zM480.1 101.7h.8v.8h-.8zM478.5 98.3h.8v.8h-.8zM481.8 91.1h.8v.8h-.8zM487.2 84.1h.8v.8h-.8zM479.5 81.1h.8v.8h-.8zM477.8 107.6h.8v.8h-.8zM486.8 88.6h.8v.8h-.8zM477.4 80.4h.8v.8h-.8zM484.5 107.7h.8v.8h-.8zM488.4 119.4h.8v.8h-.8zM483.6 93.7h.8v.8h-.8zM473.3 98.7h.8v.8h-.8zM474.5 100.1h.8v.8h-.8zM475.3 89.0h.8v.8h-.8zM479.1 83.7h.8v.8h-.8zM480.2 94.9h.8v.8h-.8zM484.4 101.2h.8v.8h-.8zM483.0 101.5h.8v.8h-.8zM480.8 85.8h.8v.8h-.8zM486.2 100.2h.8v.8h-.8zM486.2 94.0h.8v.8h-.8zM479.3 90.0h.8v.8h-.8zM484.1 103.5h.8v.8h-.8zM479.2 98.9h.8v.8h-.8zM480.6 108.9h.8v.8h-.8zM485.7 83.2h.8v.8h-.8zM482.5 80.2h.8v.8h-.8zM484.9 89.8h.8v.8h-.8zM479.3 87.3h.8v.8h-.8zM484.6 87.3h.8v.8h-.8zM484.4 86.4h.8v.8h-.8zM480.5 79.4h.8v.8h-.8zM482.6 99.0h.8v.8h-.8zM489.6 93.5h.8v.8h-.8zM483.5 91.4h.8v.8h-.8zM477.5 92.7h.8v.8h-.8zM493.1 91.4h.8v.8h-.8zM481.6 105.7h.8v.8h-.8zM475.7 96.0h.8v.8h-.8zM482.2 99.4h.8v.8h-.8zM477.4 105.1h.8v.8h-.8zM477.2 92.6h.8v.8h-.8zM475.5 103.6h.8v.8h-.8zM478.2 97.5h.8v.8h-.8zM488.2 95.5h.8v.8h-.8zM475.2 83.8h.8v.8h-.8zM482.5 93.3h.8v.8h-.8zM483.9 83.8h.8v.8h-.8zM481.5 95.8h.8v.8h-.8zM484.5 105.5h.8v.8h-.8zM481.1 99.1h.8v.8h-.8zM479.1 87.6h.8v.8h-.8zM481.8 80.4h.8v.8h-.8zM483.5 92.1h.8v.8h-.8zM479.3 92.9h.8v.8h-.8zM477.7 99.6h.8v.8h-.8zM479.8 94.0h.8v.8h-.8zM479.1 98.4h.8v.8h-.8zM482.8 83.4h.8v.8h-.8zM478.1 99.7h.8v.8h-.8zM479.0 81.0h.8v.8h-.8zM484.1 88.7h.8v.8h-.8zM481.1 91.8h.8v.8h-.8zM483.6 92.2h.8v.8h-.8zM472.4 92.2h.8v.8h-.8zM478.1 95.5h.8v.8h-.8zM475.8 78.3h.8v.8h-.8zM484.0 102.1h.8v.8h-.8zM482.3 91.4h.8v.8h-.8zM477.8 92.7h.8v.8h-.8zM484.4 95.1h.8v.8h-.8zM482.3 89.7h.8v.8h-.8zM483.9 97.1h.8v.8h-.8zM484.7 88.0h.8v.8h-.8zM479.1 94.8h.8v.8h-.8zM471.6 94.6h.8v.8h-.8zM475.2 98.6h.8v.8h-.8zM478.1 92.8h.8v.8h-.8zM478.3 99.4h.8v.8h-.8zM483.8 82.2h.8v.8h-.8zM481.4 98.2h.8v.8h-.8zM481.6 88.1h.8v.8h-.8zM480.3 97.8h.8v.8h-.8zM480.8 91.4h.8v.8h-.8zM475.3 79.7h.8v.8h-.8zM477.8 97.0h.8v.8h-.8zM484.2 102.6h.8v.8h-.8zM487.1 89.3h.8v.8h-.8zM483.1 96.0h.8v.8h-.8zM483.1 92.2h.8v.8h-.8zM479.1 80.5h.8v.8h-.8zM485.4 97.0h.8v.8h-.8zM475.2 101.3h.8v.8h-.8zM486.4 102.3h.8v.8h-.8zM480.3 98.8h.8v.8h-.8zM472.3 93.2h.8v.8h-.8zM479.0 86.9h.8v.8h-.8zM480.2 104.6h.8v.8h-.8zM480.8 104.8h.8v.8h-.8zM481.2 110.1h.8v.8h-.8zM476.8 88.2h.8v.8h-.8zM486.6 94.4h.8v.8h-.8zM481.5 105.2h.8v.8h-.8zM477.5 96.8h.8v.8h-.8zM483.8 93.5h.8v.8h-.8zM477.6 94.8h.8v.8h-.8zM483.7 86.9h.8v.8h-.8zM485.3 88.2h.8v.8h-.8zM481.4 84.7h.8v.8h-.8zM478.1 85.8h.8v.8h-.8zM480.4 87.3h.8v.8h-.8zM481.0 99.3h.8v.8h-.8zM477.9 85.8h.8v.8h-.8zM484.8 100.4h.8v.8h-.8zM482.1 94.5h.8v.8h-.8zM479.7 97.5h.8v.8h-.8zM484.1 88.3h.8v.8h-.8zM473.2 93.6h.8v.8h-.8zM477.1 86.1h.8v.8h-.8zM488.3 89.9h.8v.8h-.8zM472.3 94.7h.8v.8h-.8zM475.4 99.1h.8v.8h-.8zM472.9 97.7h.8v.8h-.8zM485.6 92.7h.8v.8h-.8zM476.8 86.2h.8v.8h-.8zM484.9 94.7h.8v.8h-.8zM480.5 93.9h.8v.8h-.8zM483.4 82.7h.8v.8h-.8zM488.6 91.8h.8v.8h-.8zM487.9 94.1h.8v.8h-.8zM480.6 83.7h.8v.8h-.8zM479.6 86.2h.8v.8h-.8zM485.9 103.4h.8v.8h-.8zM481.1 83.1h.8v.8h-.8zM486.0 87.7h.8v.8h-.8zM482.8 87.8h.8v.8h-.8zM480.2 89.6h.8v.8h-.8zM478.5 81.1h.8v.8h-.8zM476.9 90.8h.8v.8h-.8zM482.0 99.0h.8v.8h-.8zM478.8 100.3h.8v.8h-.8zM486.0 100.2h.8v.8h-.8zM478.0 93.0h.8v.8h-.8zM481.3 89.8h.8v.8h-.8zM476.9 94.4h.8v.8h-.8zM482.7 110.2h.8v.8h-.8zM483.6 102.2h.8v.8h-.8zM483.2 84.8h.8v.8h-.8zM484.1 90.7h.8v.8h-.8zM485.9 97.2h.8v.8h-.8zM483.6 96.2h.8v.8h-.8zM477.8 84.8h.8v.8h-.8zM482.5 104.9h.8v.8h-.8zM485.9 89.0h.8v.8h-.8zM483.6 106.9h.8v.8h-.8zM481.6 104.6h.8v.8h-.8zM478.3 94.9h.8v.8h-.8zM493.3 86.0h.8v.8h-.8zM476.2 97.4h.8v.8h-.8zM475.5 83.5h.8v.8h-.8zM483.2 100.1h.8v.8h-.8zM483.6 97.1h.8v.8h-.8zM476.2 95.0h.8v.8h-.8zM476.5 90.6h.8v.8h-.8zM488.5 100.9h.8v.8h-.8zM491.8 80.7h.8v.8h-.8zM481.8 83.8h.8v.8h-.8zM479.9 105.3h.8v.8h-.8zM477.6 85.7h.8v.8h-.8zM479.1 94.0h.8v.8h-.8zM485.2 82.9h.8v.8h-.8zM471.6 121.5h.8v.8h-.8zM490.5 91.8h.8v.8h-.8zM486.3 101.4h.8v.8h-.8zM482.8 108.2h.8v.8h-.8zM477.0 103.4h.8v.8h-.8zM488.5 105.0h.8v.8h-.8zM477.1 87.8h.8v.8h-.8zM476.8 120.1h.8v.8h-.8zM485.0 108.1h.8v.8h-.8zM486.6 114.1h.8v.8h-.8zM479.9 115.2h.8v.8h-.8zM485.6 110.6h.8v.8h-.8zM485.7 103.1h.8v.8h-.8zM482.1 101.5h.8v.8h-.8zM488.5 117.9h.8v.8h-.8zM485.6 110.7h.8v.8h-.8zM485.7 108.8h.8v.8h-.8zM481.1 105.5h.8v.8h-.8zM474.1 103.3h.8v.8h-.8zM486.8 114.4h.8v.8h-.8zM483.6 107.7h.8v.8h-.8zM473.7 112.0h.8v.8h-.8zM484.1 112.6h.8v.8h-.8zM480.8 107.0h.8v.8h-.8zM486.8 111.6h.8v.8h-.8zM487.2 112.3h.8v.8h-.8zM479.7 109.9h.8v.8h-.8zM487.8 114.9h.8v.8h-.8zM483.4 110.4h.8v.8h-.8zM480.6 112.1h.8v.8h-.8zM478.9 111.7h.8v.8h-.8zM479.7 108.8h.8v.8h-.8zM483.1 115.3h.8v.8h-.8zM483.2 109.4h.8v.8h-.8zM484.2 112.2h.8v.8h-.8zM476.1 110.8h.8v.8h-.8zM489.9 106.5h.8v.8h-.8zM486.6 109.4h.8v.8h-.8zM483.9 109.6h.8v.8h-.8zM476.3 119.3h.8v.8h-.8zM488.5 117.4h.8v.8h-.8zM492.1 116.8h.8v.8h-.8zM468.9 110.4h.8v.8h-.8zM483.3 119.7h.8v.8h-.8zM484.8 111.2h.8v.8h-.8zM483.1 106.0h.8v.8h-.8zM482.9 121.2h.8v.8h-.8zM477.9 104.5h.8v.8h-.8zM492.2 107.8h.8v.8h-.8zM486.2 108.8h.8v.8h-.8zM480.0 116.7h.8v.8h-.8zM489.5 114.4h.8v.8h-.8zM487.5 105.6h.8v.8h-.8zM480.3 112.8h.8v.8h-.8zM482.7 111.4h.8v.8h-.8zM481.7 100.9h.8v.8h-.8zM492.1 110.1h.8v.8h-.8zM482.0 115.5h.8v.8h-.8zM482.9 118.1h.8v.8h-.8zM485.8 113.9h.8v.8h-.8zM480.6 112.6h.8v.8h-.8zM480.4 110.1h.8v.8h-.8zM481.9 110.3h.8v.8h-.8zM472.4 109.2h.8v.8h-.8zM484.6 104.6h.8v.8h-.8zM483.7 116.6h.8v.8h-.8zM473.6 107.8h.8v.8h-.8zM479.5 108.1h.8v.8h-.8zM486.0 116.3h.8v.8h-.8zM476.1 106.8h.8v.8h-.8zM479.4 114.6h.8v.8h-.8zM478.2 117.3h.8v.8h-.8zM483.0 111.8h.8v.8h-.8zM480.6 104.1h.8v.8h-.8zM482.6 112.7h.8v.8h-.8zM484.4 105.2h.8v.8h-.8zM482.7 113.8h.8v.8h-.8zM487.3 112.0h.8v.8h-.8zM476.8 117.1h.8v.8h-.8zM485.4 106.3h.8v.8h-.8zM488.0 113.7h.8v.8h-.8zM482.3 117.0h.8v.8h-.8zM484.5 106.6h.8v.8h-.8zM476.9 106.9h.8v.8h-.8zM482.4 111.0h.8v.8h-.8zM482.7 111.6h.8v.8h-.8zM490.7 108.4h.8v.8h-.8zM476.5 109.4h.8v.8h-.8zM488.5 108.9h.8v.8h-.8zM482.7 112.2h.8v.8h-.8zM478.4 111.8h.8v.8h-.8zM484.5 111.5h.8v.8h-.8zM482.9 107.7h.8v.8h-.8zM480.6 104.7h.8v.8h-.8zM482.3 108.5h.8v.8h-.8zM474.3 104.1h.8v.8h-.8zM474.9 122.1h.8v.8h-.8zM474.2 116.8h.8v.8h-.8zM480.8 104.6h.8v.8h-.8zM488.3 107.8h.8v.8h-.8zM475.5 109.3h.8v.8h-.8zM474.4 110.1h.8v.8h-.8zM486.1 113.7h.8v.8h-.8zM481.0 106.6h.8v.8h-.8zM476.6 112.9h.8v.8h-.8zM489.9 110.0h.8v.8h-.8zM482.7 115.7h.8v.8h-.8zM476.3 109.0h.8v.8h-.8zM476.5 113.1h.8v.8h-.8zM480.7 110.7h.8v.8h-.8zM478.3 111.1h.8v.8h-.8zM482.1 106.4h.8v.8h-.8zM471.6 119.5h.8v.8h-.8zM473.6 106.1h.8v.8h-.8zM485.1 112.3h.8v.8h-.8zM481.4 115.9h.8v.8h-.8zM481.3 114.5h.8v.8h-.8zM478.9 116.3h.8v.8h-.8zM480.7 109.9h.8v.8h-.8zM483.5 109.4h.8v.8h-.8zM480.6 119.3h.8v.8h-.8zM485.6 108.0h.8v.8h-.8zM481.2 119.6h.8v.8h-.8zM480.9 116.0h.8v.8h-.8zM478.9 114.7h.8v.8h-.8zM478.1 111.3h.8v.8h-.8zM470.7 104.8h.8v.8h-.8zM479.9 112.4h.8v.8h-.8zM473.3 108.9h.8v.8h-.8zM488.6 117.8h.8v.8h-.8zM489.4 108.8h.8v.8h-.8zM482.3 118.9h.8v.8h-.8zM484.8 111.2h.8v.8h-.8zM483.0 110.3h.8v.8h-.8zM482.4 108.1h.8v.8h-.8zM480.7 109.7h.8v.8h-.8zM482.8 110.7h.8v.8h-.8zM474.7 111.9h.8v.8h-.8zM473.9 112.5h.8v.8h-.8zM488.2 112.9h.8v.8h-.8zM490.2 114.2h.8v.8h-.8zM478.5 114.5h.8v.8h-.8zM477.2 106.8h.8v.8h-.8zM482.4 112.0h.8v.8h-.8zM484.3 108.9h.8v.8h-.8zM473.4 119.5h.8v.8h-.8zM482.2 105.3h.8v.8h-.8zM487.0 114.8h.8v.8h-.8zM477.2 109.3h.8v.8h-.8zM482.1 108.4h.8v.8h-.8zM477.0 106.4h.8v.8h-.8zM479.9 113.8h.8v.8h-.8zM480.2 117.5h.8v.8h-.8zM479.2 102.0h.8v.8h-.8zM482.7 108.0h.8v.8h-.8zM480.9 113.2h.8v.8h-.8zM482.6 108.6h.8v.8h-.8zM469.3 84.6h.8v.8h-.8zM453.9 97.5h.8v.8h-.8zM466.4 101.9h.8v.8h-.8zM462.0 99.0h.8v.8h-.8zM449.4 94.0h.8v.8h-.8zM463.7 95.3h.8v.8h-.8zM450.8 99.6h.8v.8h-.8zM456.3 85.8h.8v.8h-.8zM447.4 95.8h.8v.8h-.8zM464.6 91.0h.8v.8h-.8zM455.0 99.7h.8v.8h-.8zM448.9 83.4h.8v.8h-.8zM459.2 89.4h.8v.8h-.8zM469.6 80.1h.8v.8h-.8zM462.3 94.6h.8v.8h-.8zM470.4 101.5h.8v.8h-.8zM452.3 87.3h.8v.8h-.8zM444.7 83.8h.8v.8h-.8zM449.6 95.6h.8v.8h-.8zM450.3 101.8h.8v.8h-.8zM454.6 83.6h.8v.8h-.8zM459.4 82.4h.8v.8h-.8zM470.7 92.8h.8v.8h-.8zM457.4 87.2h.8v.8h-.8zM462.8 96.8h.8v.8h-.8zM464.3 80.9h.8v.8h-.8zM446.0 93.4h.8v.8h-.8zM446.5 104.4h.8v.8h-.8zM445.3 89.2h.8v.8h-.8zM446.6 96.3h.8v.8h-.8zM475.2 101.8h.8v.8h-.8zM485.9 82.0h.8v.8h-.8zM481.1 88.8h.8v.8h-.8zM477.2 82.3h.8v.8h-.8zM480.6 111.2h.8v.8h-.8zM480.3 79.6h.8v.8h-.8zM479.5 111.4h.8v.8h-.8zM486.7 88.4h.8v.8h-.8zM482.8 95.9h.8v.8h-.8zM491.4 116.6h.8v.8h-.8zM488.0 82.5h.8v.8h-.8zM478.9 84.0h.8v.8h-.8zM480.5 108.1h.8v.8h-.8zM493.7 122.8h.8v.8h-.8zM483.9 103.7h.8v.8h-.8zM482.9 79.0h.8v.8h-.8zM478.8 84.2h.8v.8h-.8zM478.1 121.6h.8v.8h-.8zM478.5 87.6h.8v.8h-.8zM480.6 125.0h.8v.8h-.8zM482.2 114.0h.8v.8h-.8zM478.3 109.7h.8v.8h-.8zM483.8 120.7h.8v.8h-.8zM495.9 79.6h.8v.8h-.8zM493.5 104.0h.8v.8h-.8zM494.3 91.5h.8v.8h-.8zM477.7 96.5h.8v.8h-.8zM478.5 92.2h.8v.8h-.8zM489.1 110.9h.8v.8h-.8zM486.0 86.9h.8v.8h-.8zM475.0 93.3h.8v.8h-.8zM488.1 114.7h.8v.8h-.8zM476.3 115.7h.8v.8h-.8zM479.4 118.6h.8v.8h-.8zM475.0 104.3h.8v.8h-.8zM488.1 87.2h.8v.8h-.8zM482.1 113.1h.8v.8h-.8zM484.5 88.1h.8v.8h-.8zM484.2 110.5h.8v.8h-.8zM483.9 87.1h.8v.8h-.8zM495.5 110.6h.8v.8h-.8zM489.1 89.6h.8v.8h-.8zM477.9 96.1h.8v.8h-.8zM492.8 112.0h.8v.8h-.8zM488.3 102.2h.8v.8h-.8zM496.9 85.8h.8v.8h-.8zM491.9 122.5h.8v.8h-.8zM482.6 122.9h.8v.8h-.8zM479.6 81.2h.8v.8h-.8zM491.3 114.1h.8v.8h-.8z" fill="#777"/>
<path d="M405.4 65.3h.8v.8h-.8zM404.1 71.1h.8v.8h-.8zM405.4 67.5h.8v.8h-.8zM387.0 70.5h.8v.8h-.8zM395.5 62.5h.8v.8h-.8zM392.4 69.9h.8v.8h-.8zM403.8 70.2h.8v.8h-.8zM404.4 73.2h.8v.8h-.8zM397.5 68.7h.8v.8h-.8zM398.0 67.6h.8v.8h-.8zM398.9 69.6h.8v.8h-.8zM396.4 69.3h.8v.8h-.8zM405.7 67.6h.8v.8h-.8zM403.4 65.2h.8v.8h-.8zM394.2 75.8h.8v.8h-.8zM398.8 73.8h.8v.8h-.8zM386.7 59.2h.8v.8h-.8zM399.4 67.8h.8v.8h-.8zM384.6 71.7h.8v.8h-.8zM403.8 66.0h.8v.8h-.8zM403.6 71.3h.8v.8h-.8zM400.2 66.5h.8v.8h-.8zM404.0 67.0h.8v.8h-.8zM396.3 63.3h.8v.8h-.8zM400.4 73.8h.8v.8h-.8zM396.4 66.7h.8v.8h-.8zM391.0 67.9h.8v.8h-.8zM405.1 68.1h.8v.8h-.8zM403.6 73.2h.8v.8h-.8zM393.8 66.4h.8v.8h-.8zM403.7 67.6h.8v.8h-.8zM392.7 68.8h.8v.8h-.8zM402.3 73.2h.8v.8h-.8zM394.0 70.1h.8v.8h-.8zM402.8 57.4h.8v.8h-.8zM404.5 68.5h.8v.8h-.8zM389.0 76.0h.8v.8h-.8zM402.4 69.9h.8v.8h-.8zM415.1 73.0h.8v.8h-.8zM393.1 68.9h.8v.8h-.8zM411.0 73.8h.8v.8h-.8zM409.9 68.7h.8v.8h-.8zM407.2 66.3h.8v.8h-.8zM398.5 71.3h.8v.8h-.8zM398.8 71.2h.8v.8h-.8zM398.6 69.9h.8v.8h-.8zM413.4 71.2h.8v.8h-.8zM406.9 63.0h.8v.8h-.8zM395.8 72.5h.8v.8h-.8zM389.0 67.1h.8v.8h-.8zM397.4 73.5h.8v.8h-.8zM388.1 66.7h.8v.8h-.8zM399.7 69.3h.8v.8h-.8zM388.9 73.7h.8v.8h-.8zM404.1 74.0h.8v.8h-.8zM403.5 71.4h.8v.8h-.8zM397.9 67.7h.8v.8h-.8zM391.7 70.5h.8v.8h-.8zM391.7 73.3h.8v.8h-.8zM403.0 66.3h.8v.8h-.8zM400.7 62.3h.8v.8h-.8zM392.8 66.0h.8v.8h-.8zM390.3 66.3h.8v.8h-.8zM398.1 66.0h.8v.8h-.8zM394.0 63.9h.8v.8h-.8zM386.6 71.0h.8v.8h-.8zM396.8 73.7h.8v.8h-.8zM392.0 66.7h.8v.8h-.8zM403.9 74.4h.8v.8h-.8zM406.0 72.3h.8v.8h-.8zM390.4 70.9h.8v.8h-.8zM411.7 60.0h.8v.8h-.8zM392.4 69.8h.8v.8h-.8zM412.5 71.0h.8v.8h-.8zM400.7 72.2h.8v.8h-.8zM398.4 71.7h.8v.8h-.8zM398.7 72.2h.8v.8h-.8zM394.0 68.2h.8v.8h-.8zM400.6 59.7h.8v.8h-.8zM405.7 67.4h.8v.8h-.8zM395.7 63.1h.8v.8h-.8zM399.0 65.0h.8v.8h-.8zM403.9 75.3h.8v.8h-.8zM396.6 65.9h.8v.8h-.8zM398.8 67.7h.8v.8h-.8zM402.9 60.6h.8v.8h-.8zM403.1 68.6h.8v.8h-.8zM395.9 62.5h.8v.8h-.8zM405.6 73.3h.8v.8h-.8zM401.7 71.6h.8v.8h-.8zM405.2 69.6h.8v.8h-.8zM405.1 64.7h.8v.8h-.8zM405.0 58.8h.8v.8h-.8zM407.3 75.3h.8v.8h-.8zM407.5 65.5h.8v.8h-.8zM398.0 71.1h.8v.8h-.8zM394.2 70.4h.8v.8h-.8zM399.4 75.0h.8v.8h-.8zM396.7 66.7h.8v.8h-.8zM403.6 73.2h.8v.8h-.8zM397.7 63.3h.8v.8h-.8zM391.2 62.4h.8v.8h-.8zM400.3 64.7h.8v.8h-.8zM399.7 63.1h.8v.8h-.8zM397.9 71.0h.8v.8h-.8zM392.6 73.4h.8v.8h-.8zM400.0 65.6h.8v.8h-.8zM397.5 68.6h.8v.8h-.8zM394.2 66.5h.8v.8h-.8zM401.4 61.1h.8v.8h-.8zM415.9 72.4h.8v.8h-.8zM404.6 68.7h.8v.8h-.8zM399.1 71.2h.8v.8h-.8zM409.2 65.4h.8v.8h-.8zM411.5 67.5h.8v.8h-.8zM392.9 74.3h.8v.8h-.8zM396.4 71.8h.8v.8h-.8zM391.0 71.8h.8v.8h-.8zM396.6 73.7h.8v.8h-.8zM389.5 66.1h.8v.8h-.8zM393.3 69.8h.8v.8h-.8zM393.2 67.5h.8v.8h-.8zM399.6 67.1h.8v.8h-.8zM400.8 70.0h.8v.8h-.8zM389.2 73.0h.8v.8h-.8zM392.5 65.7h.8v.8h-.8zM411.1 66.1h.8v.8h-.8zM398.8 71.7h.8v.8h-.8zM395.4 68.3h.8v.8h-.8zM397.8 68.1h.8v.8h-.8zM392.0 73.1h.8v.8h-.8zM399.9 71.3h.8v.8h-.8zM400.0 66.4h.8v.8h-.8zM407.3 65.8h.8v.8h-.8zM406.1 65.8h.8v.8h-.8zM395.0 69.2h.8v.8h-.8zM415.0 72.5h.8v.8h-.8zM400.5 70.6h.8v.8h-.8zM407.4 67.0h.8v.8h-.8zM387.3 64.6h.8v.8h-.8zM399.4 65.9h.8v.8h-.8zM398.0 74.7h.8v.8h-.8zM398.0 66.4h.8v.8h-.8zM400.0 73.8h.8v.8h-.8zM410.9 71.6h.8v.8h-.8zM398.0 67.1h.8v.8h-.8zM392.4 66.4h.8v.8h-.8zM405.8 71.2h.8v.8h-.8zM401.9 64.7h.8v.8h-.8zM399.3 66.1h.8v.8h-.8zM409.7 68.9h.8v.8h-.8zM399.1 68.8h.8v.8h-.8zM399.7 69.2h.8v.8h-.8zM396.2 69.9h.8v.8h-.8zM400.2 72.4h.8v.8h-.8zM403.3 71.6h.8v.8h-.8zM396.5 68.9h.8v.8h-.8zM385.3 65.4h.8v.8h-.8zM397.1 59.2h.8v.8h-.8zM407.4 72.7h.8v.8h-.8zM389.6 69.2h.8v.8h-.8zM400.6 66.9h.8v.8h-.8zM409.6 73.3h.8v.8h-.8zM402.9 65.1h.8v.8h-.8zM401.4 69.1h.8v.8h-.8zM403.2 63.1h.8v.8h-.8zM393.1 73.3h.8v.8h-.8zM400.3 68.6h.8v.8h-.8zM399.5 57.9h.8v.8h-.8zM409.2 62.9h.8v.8h-.8zM391.7 71.0h.8v.8h-.8zM408.7 73.7h.8v.8h-.8zM396.4 65.6h.8v.8h-.8zM403.9 69.8h.8v.8h-.8zM388.1 74.2h.8v.8h-.8zM387.2 70.4h.8v.8h-.8zM401.9 71.8h.8v.8h-.8zM400.5 72.3h.8v.8h-.8zM401.7 65.3h.8v.8h-.8zM395.8 74.5h.8v.8h-.8zM387.4 71.7h.8v.8h-.8zM395.9 61.9h.8v.8h-.8zM394.2 70.8h.8v.8h-.8zM407.9 67.2h.8v.8h-.8zM397.5 69.1h.8v.8h-.8zM405.6 64.7h.8v.8h-.8zM396.6 70.3h.8v.8h-.8zM390.0 70.1h.8v.8h-.8zM399.4 72.1h.8v.8h-.8zM392.4 68.7h.8v.8h-.8zM402.3 69.1h.8v.8h-.8zM392.8 73.5h.8v.8h-.8zM399.1 69.5h.8v.8h-.8zM400.2 71.6h.8v.8h-.8zM400.4 66.1h.8v.8h-.8zM405.3 68.6h.8v.8h-.8zM400.5 69.7h.8v.8h-.8zM392.2 69.3h.8v.8h-.8zM401.9 63.2h.8v.8h-.8zM397.9 68.6h.8v.8h-.8zM404.4 67.7h.8v.8h-.8zM400.4 71.5h.8v.8h-.8zM391.9 65.9h.8v.8h-.8zM398.0 71.8h.8v.8h-.8zM408.7 69.4h.8v.8h-.8zM399.2 67.0h.8v.8h-.8zM400.6 75.7h.8v.8h-.8zM399.1 66.9h.8v.8h-.8zM410.3 68.5h.8v.8h-.8zM398.8 65.6h.8v.8h-.8zM406.9 68.1h.8v.8h-.8zM387.9 60.4h.8v.8h-.8zM402.1 66.9h.8v.8h-.8zM403.0 71.0h.8v.8h-.8zM409.9 74.7h.8v.8h-.8zM392.9 67.8h.8v.8h-.8zM394.8 72.4h.8v.8h-.8zM390.4 71.5h.8v.8h-.8zM388.7 73.1h.8v.8h-.8zM407.4 62.4h.8v.8h-.8zM400.0 66.5h.8v.8h-.8zM389.0 72.6h.8v.8h-.8zM394.7 73.1h.8v.8h-.8zM402.9 76.2h.8v.8h-.8zM396.9 72.3h.8v.8h-.8zM401.2 67.4h.8v.8h-.8zM406.8 69.2h.8v.8h-.8zM397.0 69.7h.8v.8h-.8zM391.3 73.3h.8v.8h-.8zM410.9 63.0h.8v.8h-.8zM400.7 67.5h.8v.8h-.8zM395.3 72.3h.8v.8h-.8zM411.1 70.2h.8v.8h-.8zM398.0 75.9h.8v.8h-.8zM397.7 66.2h.8v.8h-.8zM396.1 72.7h.8v.8h-.8zM400.3 69.6h.8v.8h-.8zM395.9 70.4h.8v.8h-.8zM399.7 76.0h.8v.8h-.8zM399.7 64.9h.8v.8h-.8zM410.9 70.1h.8v.8h-.8zM399.8 70.8h.8v.8h-.8zM400.2 60.3h.8v.8h-.8zM399.7 74.0h.8v.8h-.8zM406.0 65.9h.8v.8h-.8zM397.8 70.9h.8v.8h-.8zM413.5 70.5h.8v.8h-.8zM401.6 66.7h.8v.8h-.8zM397.4 66.9h.8v.8h-.8zM399.9 65.1h.8v.8h-.8zM397.3 64.3h.8v.8h-.8zM407.3 71.6h.8v.8h-.8zM398.9 68.0h.8v.8h-.8zM405.0 69.7h.8v.8h-.8zM396.9 58.2h.8v.8h-.8zM387.8 71.6h.8v.8h-.8zM398.7 65.9h.8v.8h-.8zM388.2 71.6h.8v.8h-.8zM392.3 69.5h.8v.8h-.8zM399.4 66.8h.8v.8h-.8zM392.4 70.2h.8v.8h-.8zM390.9 66.5h.8v.8h-.8zM399.0 73.5h.8v.8h-.8zM397.1 69.5h.8v.8h-.8zM403.8 59.1h.8v.8h-.8zM393.8 67.5h.8v.8h-.8zM395.1 72.2h.8v.8h-.8zM396.5 71.3h.8v.8h-.8zM405.9 67.8h.8v.8h-.8zM402.2 74.7h.8v.8h-.8zM406.1 69.1h.8v.8h-.8zM388.8 66.2h.8v.8h-.8zM399.3 70.2h.8v.8h-.8zM401.0 68.9h.8v.8h-.8zM393.2 71.3h.8v.8h-.8zM406.1 68.7h.8v.8h-.8zM400.3 72.3h.8v.8h-.8zM397.4 70.6h.8v.8h-.8zM406.3 66.2h.8v.8h-.8zM399.5 65.8h.8v.8h-.8zM392.8 61.4h.8v.8h-.8zM397.8 75.2h.8v.8h-.8zM406.8 67.4h.8v.8h-.8zM405.9 67.3h.8v.8h-.8zM386.4 72.5h.8v.8h-.8zM398.3 68.2h.8v.8h-.8zM404.7 73.0h.8v.8h-.8zM398.8 70.2h.8v.8h-.8zM402.3 65.7h.8v.8h-.8zM405.1 66.8h.8v.8h-.8zM402.8 72.8h.8v.8h-.8zM406.5 61.3h.8v.8h-.8zM395.4 67.8h.8v.8h-.8zM395.0 68.5h.8v.8h-.8zM399.5 69.4h.8v.8h-.8zM415.0 70.1h.8v.8h-.8zM400.5 66.0h.8v.8h-.8zM398.6 68.2h.8v.8h-.8zM404.2 64.1h.8v.8h-.8zM398.7 64.8h.8v.8h-.8zM389.0 71.9h.8v.8h-.8zM398.9 70.5h.8v.8h-.8zM410.9 74.9h.8v.8h-.8zM399.6 70.4h.8v.8h-.8zM396.9 68.2h.8v.8h-.8zM390.0 72.1h.8v.8h-.8zM400.7 73.2h.8v.8h-.8zM411.9 65.7h.8v.8h-.8zM401.2 68.2h.8v.8h-.8zM408.2 68.1h.8v.8h-.8zM402.6 69.3h.8v.8h-.8zM391.2 69.9h.8v.8h-.8zM389.7 65.2h.8v.8h-.8zM408.1 73.0h.8v.8h-.8zM393.0 64.6h.8v.8h-.8zM409.7 75.5h.8v.8h-.8zM398.9 71.7h.8v.8h-.8zM390.0 72.3h.8v.8h-.8zM396.8 73.1h.8v.8h-.8zM396.1 67.2h.8v.8h-.8zM404.9 71.8h.8v.8h-.8zM397.7 63.1h.8v.8h-.8zM402.2 74.7h.8v.8h-.8zM405.2 63.7h.8v.8h-.8zM400.8 70.1h.8v.8h-.8zM410.2 68.4h.8v.8h-.8zM398.4 75.5h.8v.8h-.8zM392.0 66.3h.8v.8h-.8zM393.9 73.6h.8v.8h-.8zM395.3 71.7h.8v.8h-.8zM395.2 74.8h.8v.8h-.8zM403.4 66.4h.8v.8h-.8zM404.4 70.4h.8v.8h-.8zM400.2 65.2h.8v.8h-.8zM412.5 69.5h.8v.8h-.8zM397.8 69.6h.8v.8h-.8zM399.9 64.2h.8v.8h-.8zM407.1 62.8h.8v.8h-.8zM406.0 61.6h.8v.8h-.8zM391.2 73.8h.8v.8h-.8zM390.6 69.2h.8v.8h-.8zM401.9 74.5h.8v.8h-.8zM475.5 73.2h.8v.8h-.8zM469.6 61.4h.8v.8h-.8zM461.6 66.8h.8v.8h-.8zM464.5 76.3h.8v.8h-.8zM466.8 71.6h.8v.8h-.8zM469.7 61.7h.8v.8h-.8zM465.2 71.8h.8v.8h-.8zM469.6 68.5h.8v.8h-.8zM457.3 60.9h.8v.8h-.8zM468.4 70.2h.8v.8h-.8zM460.9 68.1h.8v.8h-.8zM472.6 68.7h.8v.8h-.8zM473.9 66.2h.8v.8h-.8zM464.4 71.9h.8v.8h-.8zM457.9 68.3h.8v.8h-.8zM469.7 67.8h.8v.8h-.8zM462.9 72.3h.8v.8h-.8zM465.4 62.8h.8v.8h-.8zM461.5 67.6h.8v.8h-.8zM459.1 65.4h.8v.8h-.8zM467.0 65.5h.8v.8h-.8zM460.3 76.0h.8v.8h-.8zM479.6 69.5h.8v.8h-.8zM466.5 62.1h.8v.8h-.8zM460.0 70.1h.8v.8h-.8zM461.7 74.0h.8v.8h-.8zM474.0 76.4h.8v.8h-.8zM469.5 66.3h.8v.8h-.8zM469.8 61.7h.8v.8h-.8zM476.7 62.1h.8v.8h-.8zM477.3 69.2h.8v.8h-.8zM473.8 61.1h.8v.8h-.8zM463.5 66.6h.8v.8h-.8zM459.0 65.2h.8v.8h-.8zM465.3 71.4h.8v.8h-.8zM468.6 63.5h.8v.8h-.8zM468.7 72.5h.8v.8h-.8zM462.1 66.4h.8v.8h-.8zM457.3 66.9h.8v.8h-.8zM460.8 68.4h.8v.8h-.8zM472.8 69.7h.8v.8h-.8zM458.9 69.5h.8v.8h-.8zM473.4 66.3h.8v.8h-.8zM468.6 62.6h.8v.8h-.8zM461.1 62.2h.8v.8h-.8zM459.7 72.7h.8v.8h-.8zM459.5 71.1h.8v.8h-.8zM464.1 67.9h.8v.8h-.8zM478.2 70.2h.8v.8h-.8zM469.3 73.7h.8v.8h-.8zM459.2 71.7h.8v.8h-.8zM465.6 74.7h.8v.8h-.8zM469.6 69.7h.8v.8h-.8zM468.7 63.0h.8v.8h-.8zM460.3 67.8h.8v.8h-.8zM468.4 69.1h.8v.8h-.8zM481.2 65.6h.8v.8h-.8zM458.8 73.5h.8v.8h-.8zM453.8 72.0h.8v.8h-.8zM453.4 72.6h.8v.8h-.8zM476.2 70.4h.8v.8h-.8zM451.6 76.3h.8v.8h-.8zM465.9 71.0h.8v.8h-.8zM459.0 66.3h.8v.8h-.8zM466.6 71.1h.8v.8h-.8zM456.0 73.2h.8v.8h-.8zM456.0 66.6h.8v.8h-.8zM468.3 74.0h.8v.8h-.8zM465.5 69.0h.8v.8h-.8zM468.0 69.6h.8v.8h-.8zM475.6 62.4h.8v.8h-.8zM459.6 68.1h.8v.8h-.8zM456.6 73.5h.8v.8h-.8zM459.3 66.1h.8v.8h-.8zM460.2 65.1h.8v.8h-.8zM468.9 68.2h.8v.8h-.8zM465.1 67.6h.8v.8h-.8zM475.5 65.3h.8v.8h-.8zM468.6 67.9h.8v.8h-.8zM463.6 65.7h.8v.8h-.8zM455.5 70.9h.8v.8h-.8zM451.2 75.2h.8v.8h-.8zM470.3 71.0h.8v.8h-.8zM474.0 76.1h.8v.8h-.8zM457.6 65.5h.8v.8h-.8zM459.4 69.6h.8v.8h-.8zM471.6 69.2h.8v.8h-.8zM460.2 72.1h.8v.8h-.8zM462.5 66.5h.8v.8h-.8zM465.9 71.0h.8v.8h-.8zM469.6 57.0h.8v.8h-.8zM467.1 71.8h.8v.8h-.8zM467.7 72.6h.8v.8h-.8zM451.3 66.9h.8v.8h-.8zM467.0 72.0h.8v.8h-.8zM467.8 67.8h.8v.8h-.8zM479.1 64.0h.8v.8h-.8zM466.2 66.5h.8v.8h-.8zM454.1 67.1h.8v.8h-.8zM460.0 68.9h.8v.8h-.8zM457.6 64.2h.8v.8h-.8zM462.9 66.8h.8v.8h-.8zM470.1 70.5h.8v.8h-.8zM463.2 64.5h.8v.8h-.8zM470.2 68.7h.8v.8h-.8zM466.0 67.9h.8v.8h-.8zM465.4 70.4h.8v.8h-.8zM460.8 59.6h.8v.8h-.8zM461.7 71.6h.8v.8h-.8zM468.5 70.8h.8v.8h-.8zM463.0 70.8h.8v.8h-.8zM459.1 67.0h.8v.8h-.8zM474.3 71.6h.8v.8h-.8zM459.1 70.8h.8v.8h-.8zM468.8 66.5h.8v.8h-.8zM466.3 66.9h.8v.8h-.8zM467.8 68.4h.8v.8h-.8zM478.6 60.2h.8v.8h-.8zM460.1 73.3h.8v.8h-.8zM457.2 63.0h.8v.8h-.8zM463.0 75.1h.8v.8h-.8zM463.9 69.3h.8v.8h-.8zM458.9 61.0h.8v.8h-.8zM458.7 70.3h.8v.8h-.8zM448.2 66.0h.8v.8h-.8zM457.2 63.5h.8v.8h-.8zM465.2 68.2h.8v.8h-.8zM454.1 60.0h.8v.8h-.8zM462.1 66.9h.8v.8h-.8zM449.1 64.4h.8v.8h-.8zM460.6 70.7h.8v.8h-.8zM475.0 67.1h.8v.8h-.8zM460.9 72.2h.8v.8h-.8zM467.8 69.7h.8v.8h-.8zM470.5 63.0h.8v.8h-.8zM457.5 58.8h.8v.8h-.8zM464.7 68.3h.8v.8h-.8zM454.2 69.7h.8v.8h-.8zM459.7 68.4h.8v.8h-.8zM472.0 68.0h.8v.8h-.8zM460.0 73.0h.8v.8h-.8zM462.9 72.4h.8v.8h-.8zM464.4 68.3h.8v.8h-.8zM467.6 71.0h.8v.8h-.8zM462.2 73.1h.8v.8h-.8zM475.8 74.2h.8v.8h-.8zM467.4 69.9h.8v.8h-.8zM464.0 65.3h.8v.8h-.8zM464.9 74.2h.8v.8h-.8zM469.7 69.2h.8v.8h-.8zM447.6 69.8h.8v.8h-.8zM455.9 72.3h.8v.8h-.8zM463.4 67.9h.8v.8h-.8zM455.7 64.6h.8v.8h-.8zM472.5 66.4h.8v.8h-.8zM455.9 68.0h.8v.8h-.8zM472.9 63.2h.8v.8h-.8zM478.3 61.7h.8v.8h-.8zM453.5 74.7h.8v.8h-.8zM454.9 62.1h.8v.8h-.8zM461.2 63.6h.8v.8h-.8zM464.8 64.5h.8v.8h-.8zM461.3 59.8h.8v.8h-.8zM469.0 73.9h.8v.8h-.8zM457.7 65.3h.8v.8h-.8zM467.0 65.4h.8v.8h-.8zM470.1 70.3h.8v.8h-.8zM475.0 66.1h.8v.8h-.8zM473.3 67.6h.8v.8h-.8zM470.7 67.3h.8v.8h-.8zM455.0 66.4h.8v.8h-.8zM462.5 70.8h.8v.8h-.8zM469.8 73.1h.8v.8h-.8zM463.6 72.9h.8v.8h-.8zM473.6 64.2h.8v.8h-.8zM472.7 71.0h.8v.8h-.8zM460.1 68.9h.8v.8h-.8zM466.0 71.2h.8v.8h-.8zM467.1 60.2h.8v.8h-.8zM453.4 72.5h.8v.8h-.8zM463.9 70.3h.8v.8h-.8zM468.6 65.7h.8v.8h-.8zM460.9 72.2h.8v.8h-.8zM468.9 68.7h.8v.8h-.8zM471.7 71.8h.8v.8h-.8zM465.3 68.3h.8v.8h-.8zM448.7 69.0h.8v.8h-.8zM461.0 69.2h.8v.8h-.8zM459.7 75.2h.8v.8h-.8zM458.4 71.7h.8v.8h-.8zM454.9 66.9h.8v.8h-.8zM463.6 74.1h.8v.8h-.8zM473.5 69.5h.8v.8h-.8zM459.9 69.2h.8v.8h-.8zM469.5 74.1h.8v.8h-.8zM459.9 61.5h.8v.8h-.8zM461.4 58.9h.8v.8h-.8zM464.5 69.3h.8v.8h-.8zM459.2 68.6h.8v.8h-.8zM458.7 66.1h.8v.8h-.8zM485.9 66.7h.8v.8h-.8zM464.5 65.4h.8v.8h-.8zM462.8 71.6h.8v.8h-.8zM468.7 73.1h.8v.8h-.8zM462.1 65.0h.8v.8h-.8zM459.1 69.2h.8v.8h-.8zM456.0 76.1h.8v.8h-.8zM464.0 69.6h.8v.8h-.8zM458.4 65.8h.8v.8h-.8zM472.1 71.0h.8v.8h-.8zM466.4 66.0h.8v.8h-.8zM460.0 73.9h.8v.8h-.8zM454.0 63.7h.8v.8h-.8zM464.1 73.2h.8v.8h-.8zM456.9 74.1h.8v.8h-.8zM462.2 68.5h.8v.8h-.8zM468.8 67.3h.8v.8h-.8zM480.2 70.4h.8v.8h-.8zM464.7 70.3h.8v.8h-.8zM471.7 73.3h.8v.8h-.8zM463.0 64.6h.8v.8h-.8zM459.9 69.7h.8v.8h-.8zM467.3 68.0h.8v.8h-.8zM475.5 73.2h.8v.8h-.8zM472.4 64.3h.8v.8h-.8zM479.2 68.8h.8v.8h-.8zM463.1 70.8h.8v.8h-.8zM463.3 68.2h.8v.8h-.8zM462.6 69.4h.8v.8h-.8zM465.5 68.0h.8v.8h-.8zM470.4 60.6h.8v.8h-.8zM470.3 72.2h.8v.8h-.8zM469.4 70.4h.8v.8h-.8zM470.9 71.1h.8v.8h-.8zM469.4 72.8h.8v.8h-.8zM467.1 64.1h.8v.8h-.8zM476.8 68.2h.8v.8h-.8zM469.8 67.2h.8v.8h-.8zM463.7 61.3h.8v.8h-.8zM478.4 68.9h.8v.8h-.8zM452.4 76.4h.8v.8h-.8zM452.3 68.5h.8v.8h-.8zM473.1 70.9h.8v.8h-.8zM460.6 60.0h.8v.8h-.8zM463.9 65.4h.8v.8h-.8zM456.2 70.3h.8v.8h-.8zM468.9 71.6h.8v.8h-.8zM469.7 69.0h.8v.8h-.8zM464.7 67.7h.8v.8h-.8zM465.3 70.7h.8v.8h-.8zM461.5 70.4h.8v.8h-.8zM480.5 69.3h.8v.8h-.8zM462.1 71.1h.8v.8h-.8zM467.3 70.8h.8v.8h-.8zM461.6 73.0h.8v.8h-.8zM472.6 71.9h.8v.8h-.8zM471.7 73.6h.8v.8h-.8zM466.3 74.3h.8v.8h-.8zM463.6 66.5h.8v.8h-.8zM471.7 65.0h.8v.8h-.8zM462.2 72.6h.8v.8h-.8zM446.4 73.9h.8v.8h-.8zM465.4 67.8h.8v.8h-.8zM469.3 64.8h.8v.8h-.8zM466.5 66.9h.8v.8h-.8zM471.0 64.9h.8v.8h-.8zM460.1 68.9h.8v.8h-.8zM459.7 72.5h.8v.8h-.8zM458.0 70.7h.8v.8h-.8zM458.6 61.0h.8v.8h-.8zM460.8 62.2h.8v.8h-.8zM470.5 72.7h.8v.8h-.8zM462.8 70.6h.8v.8h-.8zM472.0 69.0h.8v.8h-.8zM471.9 71.7h.8v.8h-.8zM468.9 72.5h.8v.8h-.8zM471.8 72.4h.8v.8h-.8zM463.7 72.3h.8v.8h-.8zM466.1 72.0h.8v.8h-.8zM465.6 61.1h.8v.8h-.8zM465.6 70.9h.8v.8h-.8zM459.9 67.7h.8v.8h-.8zM472.5 73.7h.8v.8h-.8zM460.4 66.3h.8v.8h-.8zM471.8 66.6h.8v.8h-.8zM458.8 65.8h.8v.8h-.8zM468.9 59.4h.8v.8h-.8zM468.7 73.4h.8v.8h-.8zM460.7 61.9h.8v.8h-.8zM465.8 67.8h.8v.8h-.8zM472.2 74.8h.8v.8h-.8zM457.1 68.4h.8v.8h-.8zM464.0 69.9h.8v.8h-.8zM456.9 71.6h.8v.8h-.8zM467.0 71.8h.8v.8h-.8zM457.1 66.9h.8v.8h-.8zM462.4 67.5h.8v.8h-.8zM466.8 64.8h.8v.8h-.8zM468.7 68.7h.8v.8h-.8zM476.6 71.3h.8v.8h-.8zM469.5 67.6h.8v.8h-.8zM456.7 71.4h.8v.8h-.8zM457.8 65.2h.8v.8h-.8zM484.4 68.2h.8v.8h-.8zM467.8 69.1h.8v.8h-.8zM459.2 68.3h.8v.8h-.8zM468.6 73.4h.8v.8h-.8zM479.4 68.3h.8v.8h-.8zM455.0 73.8h.8v.8h-.8zM463.4 69.1h.8v.8h-.8zM462.5 62.1h.8v.8h-.8zM468.4 74.4h.8v.8h-.8zM465.7 66.1h.8v.8h-.8zM457.1 74.9h.8v.8h-.8zM468.8 68.0h.8v.8h-.8zM459.2 69.1h.8v.8h-.8zM472.1 62.6h.8v.8h-.8zM464.0 73.8h.8v.8h-.8zM460.4 71.4h.8v.8h-.8zM465.7 67.1h.8v.8h-.8zM467.0 75.1h.8v.8h-.8zM457.8 68.9h.8v.8h-.8zM465.6 72.7h.8v.8h-.8zM451.3 68.7h.8v.8h-.8zM472.6 64.3h.8v.8h-.8zM455.7 67.4h.8v.8h-.8zM452.3 63.7h.8v.8h-.8zM468.0 61.6h.8v.8h-.8zM465.8 63.9h.8v.8h-.8zM458.5 70.8h.8v.8h-.8zM475.8 64.8h.8v.8h-.8zM469.8 71.8h.8v.8h-.8zM466.4 69.3h.8v.8h-.8zM453.5 71.3h.8v.8h-.8zM466.0 71.2h.8v.8h-.8zM468.1 62.2h.8v.8h-.8zM476.6 66.6h.8v.8h-.8zM464.5 72.0h.8v.8h-.8zM389.8 122.1h.8v.8h-.8zM401.1 116.4h.8v.8h-.8zM399.0 114.9h.8v.8h-.8zM404.1 127.6h.8v.8h-.8zM405.0 122.0h.8v.8h-.8zM402.8 115.9h.8v.8h-.8zM406.2 119.1h.8v.8h-.8zM410.0 111.9h.8v.8h-.8zM418.8 123.2h.8v.8h-.8zM403.1 118.6h.8v.8h-.8zM407.7 117.1h.8v.8h-.8zM403.7 115.3h.8v.8h-.8zM398.2 123.5h.8v.8h-.8zM409.1 118.7h.8v.8h-.8zM398.8 124.2h.8v.8h-.8zM399.6 115.2h.8v.8h-.8zM404.7 114.9h.8v.8h-.8zM410.7 120.1h.8v.8h-.8zM394.3 126.5h.8v.8h-.8zM393.2 117.7h.8v.8h-.8zM403.6 120.7h.8v.8h-.8zM410.3 116.9h.8v.8h-.8zM411.2 118.1h.8v.8h-.8zM394.8 109.6h.8v.8h-.8zM390.5 122.9h.8v.8h-.8zM398.4 121.4h.8v.8h-.8zM396.3 113.3h.8v.8h-.8zM389.7 127.0h.8v.8h-.8zM403.2 124.0h.8v.8h-.8zM393.7 118.6h.8v.8h-.8zM390.2 113.4h.8v.8h-.8zM397.5 113.6h.8v.8h-.8zM386.9 117.7h.8v.8h-.8zM395.9 120.5h.8v.8h-.8zM407.7 121.9h.8v.8h-.8zM402.1 122.0h.8v.8h-.8zM387.2 116.9h.8v.8h-.8zM392.9 117.9h.8v.8h-.8zM401.1 120.6h.8v.8h-.8zM402.8 121.2h.8v.8h-.8zM403.5 116.9h.8v.8h-.8zM399.4 117.7h.8v.8h-.8zM399.8 116.1h.8v.8h-.8zM398.3 113.8h.8v.8h-.8zM402.4 119.8h.8v.8h-.8zM402.8 118.6h.8v.8h-.8zM408.0 118.7h.8v.8h-.8zM392.6 117.6h.8v.8h-.8zM407.5 118.1h.8v.8h-.8zM398.6 116.9h.8v.8h-.8zM394.4 117.1h.8v.8h-.8zM400.9 114.4h.8v.8h-.8zM403.2 122.3h.8v.8h-.8zM395.3 116.5h.8v.8h-.8zM401.6 122.4h.8v.8h-.8zM396.6 116.3h.8v.8h-.8zM403.4 118.9h.8v.8h-.8zM412.3 115.4h.8v.8h-.8zM390.9 114.6h.8v.8h-.8zM404.8 119.9h.8v.8h-.8zM405.1 118.7h.8v.8h-.8zM404.0 115.0h.8v.8h-.8zM400.0 120.8h.8v.8h-.8zM401.0 124.6h.8v.8h-.8zM413.0 114.4h.8v.8h-.8zM405.5 116.3h.8v.8h-.8zM403.5 113.6h.8v.8h-.8zM412.3 113.9h.8v.8h-.8zM398.1 121.4h.8v.8h-.8zM397.6 122.3h.8v.8h-.8zM397.7 114.8h.8v.8h-.8zM402.5 119.4h.8v.8h-.8zM394.8 123.6h.8v.8h-.8zM398.1 120.7h.8v.8h-.8zM398.1 116.8h.8v.8h-.8zM401.7 121.3h.8v.8h-.8zM398.7 120.3h.8v.8h-.8zM398.4 120.0h.8v.8h-.8zM405.6 123.0h.8v.8h-.8zM405.4 124.3h.8v.8h-.8zM408.9 118.4h.8v.8h-.8zM402.6 124.3h.8v.8h-.8zM388.6 122.4h.8v.8h-.8zM403.9 122.2h.8v.8h-.8zM399.5 113.2h.8v.8h-.8zM406.2 119.2h.8v.8h-.8zM395.8 119.0h.8v.8h-.8zM407.0 124.3h.8v.8h-.8zM392.1 119.3h.8v.8h-.8zM406.4 122.0h.8v.8h-.8zM411.5 121.7h.8v.8h-.8zM404.7 119.7h.8v.8h-.8zM410.8 121.4h.8v.8h-.8zM402.1 115.6h.8v.8h-.8zM407.3 117.0h.8v.8h-.8zM401.0 120.2h.8v.8h-.8zM408.5 121.2h.8v.8h-.8zM397.3 117.2h.8v.8h-.8zM394.0 121.5h.8v.8h-.8zM409.4 119.0h.8v.8h-.8zM403.1 114.9h.8v.8h-.8zM406.0 119.5h.8v.8h-.8zM405.7 113.5h.8v.8h-.8zM393.1 120.0h.8v.8h-.8zM400.8 126.7h.8v.8h-.8zM404.6 114.3h.8v.8h-.8zM398.8 122.1h.8v.8h-.8zM403.1 122.1h.8v.8h-.8zM400.3 119.6h.8v.8h-.8zM395.4 107.1h.8v.8h-.8zM391.0 118.7h.8v.8h-.8zM399.5 121.6h.8v.8h-.8zM404.8 122.6h.8v.8h-.8zM398.9 112.7h.8v.8h-.8zM389.8 115.9h.8v.8h-.8zM391.2 117.5h.8v.8h-.8zM398.8 121.7h.8v.8h-.8zM396.9 128.7h.8v.8h-.8zM396.8 124.2h.8v.8h-.8zM393.3 119.5h.8v.8h-.8zM392.6 123.4h.8v.8h-.8zM395.2 122.3h.8v.8h-.8zM400.7 114.7h.8v.8h-.8zM399.2 122.8h.8v.8h-.8zM405.0 122.2h.8v.8h-.8zM399.5 128.1h.8v.8h-.8zM389.8 114.6h.8v.8h-.8zM395.3 125.1h.8v.8h-.8zM402.8 117.4h.8v.8h-.8zM400.1 126.7h.8v.8h-.8zM409.2 119.4h.8v.8h-.8zM393.5 120.1h.8v.8h-.8zM391.2 117.9h.8v.8h-.8zM400.7 116.0h.8v.8h-.8zM394.4 118.6h.8v.8h-.8zM399.5 129.1h.8v.8h-.8zM396.7 126.5h.8v.8h-.8zM405.4 115.3h.8v.8h-.8zM392.1 120.4h.8v.8h-.8zM405.9 124.0h.8v.8h-.8zM394.1 117.6h.8v.8h-.8zM402.6 115.9h.8v.8h-.8zM396.1 116.4h.8v.8h-.8zM396.7 110.1h.8v.8h-.8zM398.9 124.4h.8v.8h-.8zM410.4 122.9h.8v.8h-.8zM408.9 122.7h.8v.8h-.8zM387.6 121.3h.8v.8h-.8zM396.8 120.2h.8v.8h-.8zM400.7 114.1h.8v.8h-.8zM402.0 121.4h.8v.8h-.8zM403.9 117.4h.8v.8h-.8zM389.2 121.7h.8v.8h-.8zM411.3 121.7h.8v.8h-.8zM404.0 117.5h.8v.8h-.8zM403.6 124.9h.8v.8h-.8zM400.0 125.1h.8v.8h-.8zM399.5 121.2h.8v.8h-.8zM402.7 128.3h.8v.8h-.8zM402.5 118.8h.8v.8h-.8zM405.3 126.5h.8v.8h-.8zM396.0 119.1h.8v.8h-.8zM405.0 126.8h.8v.8h-.8zM406.6 118.1h.8v.8h-.8zM400.6 118.5h.8v.8h-.8zM405.7 117.0h.8v.8h-.8zM393.4 118.6h.8v.8h-.8zM410.1 113.7h.8v.8h-.8zM404.9 123.1h.8v.8h-.8zM392.3 118.6h.8v.8h-.8zM390.5 117.2h.8v.8h-.8zM398.5 122.7h.8v.8h-.8zM402.2 117.4h.8v.8h-.8zM408.1 118.7h.8v.8h-.8zM403.0 111.6h.8v.8h-.8zM409.2 119.1h.8v.8h-.8zM398.3 114.6h.8v.8h-.8zM398.6 121.6h.8v.8h-.8zM402.9 120.9h.8v.8h-.8zM405.1 117.6h.8v.8h-.8zM398.7 122.8h.8v.8h-.8zM405.0 118.4h.8v.8h-.8zM390.2 116.9h.8v.8h-.8zM407.4 119.2h.8v.8h-.8zM411.2 122.9h.8v.8h-.8zM403.2 119.4h.8v.8h-.8zM399.0 121.2h.8v.8h-.8zM396.2 117.1h.8v.8h-.8zM390.8 119.2h.8v.8h-.8zM397.0 116.5h.8v.8h-.8zM398.4 120.6h.8v.8h-.8zM385.2 113.5h.8v.8h-.8zM403.7 115.5h.8v.8h-.8zM399.9 118.3h.8v.8h-.8zM402.9 124.5h.8v.8h-.8zM403.8 117.9h.8v.8h-.8zM396.0 126.3h.8v.8h-.8zM399.7 118.8h.8v.8h-.8zM410.7 114.0h.8v.8h-.8zM398.6 122.2h.8v.8h-.8zM403.1 123.2h.8v.8h-.8zM400.8 120.6h.8v.8h-.8zM399.0 123.5h.8v.8h-.8zM394.5 115.0h.8v.8h-.8zM403.1 121.2h.8v.8h-.8zM406.1 124.1h.8v.8h-.8zM396.9 119.6h.8v.8h-.8zM403.5 126.5h.8v.8h-.8zM397.7 124.4h.8v.8h-.8zM408.5 117.7h.8v.8h-.8zM395.3 125.6h.8v.8h-.8zM407.0 122.3h.8v.8h-.8zM398.4 121.7h.8v.8h-.8zM392.2 115.8h.8v.8h-.8zM398.7 115.1h.8v.8h-.8zM407.8 124.5h.8v.8h-.8zM412.4 121.8h.8v.8h-.8zM399.8 113.6h.8v.8h-.8zM407.5 119.3h.8v.8h-.8zM399.7 116.5h.8v.8h-.8zM396.4 113.0h.8v.8h-.8zM407.2 121.0h.8v.8h-.8zM391.2 121.6h.8v.8h-.8zM408.2 116.4h.8v.8h-.8zM404.9 118.0h.8v.8h-.8zM405.5 117.8h.8v.8h-.8zM396.3 119.4h.8v.8h-.8zM401.0 112.6h.8v.8h-.8zM395.9 118.2h.8v.8h-.8zM398.6 118.7h.8v.8h-.8zM404.9 118.1h.8v.8h-.8zM401.2 119.0h.8v.8h-.8zM402.3 116.5h.8v.8h-.8zM397.0 129.4h.8v.8h-.8zM400.1 120.3h.8v.8h-.8zM404.8 117.5h.8v.8h-.8zM395.9 121.1h.8v.8h-.8zM388.3 115.8h.8v.8h-.8zM388.5 118.0h.8v.8h-.8zM405.7 112.7h.8v.8h-.8zM411.2 123.1h.8v.8h-.8zM397.8 123.1h.8v.8h-.8zM397.6 126.5h.8v.8h-.8zM395.2 113.1h.8v.8h-.8zM405.5 126.9h.8v.8h-.8zM396.5 116.4h.8v.8h-.8zM406.7 111.6h.8v.8h-.8zM400.9 113.5h.8v.8h-.8zM400.2 113.2h.8v.8h-.8zM399.9 123.3h.8v.8h-.8zM407.4 123.1h.8v.8h-.8zM410.4 116.5h.8v.8h-.8zM411.1 125.1h.8v.8h-.8zM397.0 124.7h.8v.8h-.8zM405.2 125.2h.8v.8h-.8zM405.5 112.8h.8v.8h-.8zM400.2 120.9h.8v.8h-.8zM403.7 118.1h.8v.8h-.8zM395.1 122.3h.8v.8h-.8zM406.4 121.0h.8v.8h-.8zM400.1 117.5h.8v.8h-.8zM387.7 118.0h.8v.8h-.8zM403.6 119.0h.8v.8h-.8zM392.2 126.1h.8v.8h-.8zM407.8 116.7h.8v.8h-.8zM402.4 123.9h.8v.8h-.8zM395.0 121.2h.8v.8h-.8zM398.6 121.1h.8v.8h-.8zM411.2 113.1h.8v.8h-.8zM406.4 120.3h.8v.8h-.8zM406.8 125.1h.8v.8h-.8zM400.3 115.5h.8v.8h-.8zM409.0 120.3h.8v.8h-.8zM400.5 120.5h.8v.8h-.8zM398.2 124.0h.8v.8h-.8zM388.1 118.8h.8v.8h-.8zM401.8 122.3h.8v.8h-.8zM388.5 113.7h.8v.8h-.8zM394.3 121.8h.8v.8h-.8zM402.4 122.6h.8v.8h-.8zM394.3 117.4h.8v.8h-.8zM406.3 117.3h.8v.8h-.8zM401.5 122.3h.8v.8h-.8zM396.4 111.9h.8v.8h-.8zM405.7 125.2h.8v.8h-.8zM386.5 120.2h.8v.8h-.8zM402.8 125.2h.8v.8h-.8zM405.4 121.5h.8v.8h-.8zM399.0 120.2h.8v.8h-.8zM389.1 122.8h.8v.8h-.8zM399.7 117.4h.8v.8h-.8zM398.2 122.7h.8v.8h-.8zM398.9 120.1h.8v.8h-.8zM410.5 109.3h.8v.8h-.8zM406.8 124.7h.8v.8h-.8zM393.7 112.2h.8v.8h-.8zM408.4 120.4h.8v.8h-.8zM405.5 120.4h.8v.8h-.8zM398.7 114.1h.8v.8h-.8zM387.9 121.3h.8v.8h-.8zM409.6 127.8h.8v.8h-.8zM404.7 116.9h.8v.8h-.8zM410.4 121.8h.8v.8h-.8zM401.1 125.0h.8v.8h-.8zM389.6 127.3h.8v.8h-.8zM411.1 119.1h.8v.8h-.8zM394.2 125.8h.8v.8h-.8zM405.3 107.9h.8v.8h-.8zM386.2 114.1h.8v.8h-.8zM398.4 125.1h.8v.8h-.8zM395.8 124.9h.8v.8h-.8zM403.7 124.5h.8v.8h-.8zM390.0 116.2h.8v.8h-.8zM402.2 117.2h.8v.8h-.8zM394.3 123.9h.8v.8h-.8zM407.6 111.3h.8v.8h-.8zM408.8 117.6h.8v.8h-.8zM407.0 116.8h.8v.8h-.8zM392.8 114.6h.8v.8h-.8zM398.2 112.6h.8v.8h-.8zM396.5 121.0h.8v.8h-.8zM398.5 121.1h.8v.8h-.8zM391.5 118.4h.8v.8h-.8zM402.3 112.6h.8v.8h-.8zM387.7 118.0h.8v.8h-.8zM398.4 116.9h.8v.8h-.8zM391.8 122.8h.8v.8h-.8zM410.6 125.9h.8v.8h-.8zM410.5 114.2h.8v.8h-.8zM404.0 116.2h.8v.8h-.8zM387.8 124.5h.8v.8h-.8zM399.7 118.4h.8v.8h-.8zM403.5 117.4h.8v.8h-.8zM394.2 116.9h.8v.8h-.8zM396.8 126.2h.8v.8h-.8zM403.3 121.3h.8v.8h-.8zM387.7 109.1h.8v.8h-.8zM399.2 120.9h.8v.8h-.8zM407.4 116.3h.8v.8h-.8zM392.6 116.2h.8v.8h-.8zM389.0 121.2h.8v.8h-.8zM402.5 114.2h.8v.8h-.8zM406.3 120.9h.8v.8h-.8zM413.0 117.9h.8v.8h-.8zM390.6 116.4h.8v.8h-.8zM452.2 119.2h.8v.8h-.8zM461.3 112.7h.8v.8h-.8zM452.7 122.1h.8v.8h-.8zM453.6 118.2h.8v.8h-.8zM452.4 126.0h.8v.8h-.8zM460.3 113.4h.8v.8h-.8zM458.2 113.4h.8v.8h-.8zM464.1 113.8h.8v.8h-.8zM456.5 119.0h.8v.8h-.8zM458.6 115.8h.8v.8h-.8zM458.5 116.0h.8v.8h-.8zM459.7 114.3h.8v.8h-.8zM472.2 117.1h.8v.8h-.8zM461.2 111.6h.8v.8h-.8zM459.0 121.6h.8v.8h-.8zM452.5 111.6h.8v.8h-.8zM466.8 119.0h.8v.8h-.8zM463.1 116.3h.8v.8h-.8zM459.8 115.9h.8v.8h-.8zM458.8 123.4h.8v.8h-.8zM460.6 121.2h.8v.8h-.8zM464.1 115.3h.8v.8h-.8zM457.8 128.1h.8v.8h-.8zM456.6 118.2h.8v.8h-.8zM451.7 121.7h.8v.8h-.8zM458.0 116.3h.8v.8h-.8zM458.4 117.8h.8v.8h-.8zM467.8 118.4h.8v.8h-.8zM457.7 116.3h.8v.8h-.8zM451.6 118.3h.8v.8h-.8zM470.4 126.0h.8v.8h-.8zM458.4 123.8h.8v.8h-.8zM471.7 113.8h.8v.8h-.8zM469.7 113.0h.8v.8h-.8zM469.5 118.5h.8v.8h-.8zM460.8 114.5h.8v.8h-.8zM462.8 126.7h.8v.8h-.8zM462.4 112.5h.8v.8h-.8zM451.4 123.7h.8v.8h-.8zM466.7 110.2h.8v.8h-.8zM461.2 109.2h.8v.8h-.8zM469.2 110.9h.8v.8h-.8zM453.7 125.8h.8v.8h-.8zM475.1 119.3h.8v.8h-.8zM458.4 116.0h.8v.8h-.8zM457.6 121.5h.8v.8h-.8zM456.7 119.1h.8v.8h-.8zM459.1 119.2h.8v.8h-.8zM461.5 109.4h.8v.8h-.8zM454.9 116.4h.8v.8h-.8zM460.8 112.6h.8v.8h-.8zM460.4 115.5h.8v.8h-.8zM464.6 112.4h.8v.8h-.8zM463.4 109.7h.8v.8h-.8zM453.2 119.3h.8v.8h-.8zM449.3 118.3h.8v.8h-.8zM454.8 114.8h.8v.8h-.8zM463.5 119.6h.8v.8h-.8zM464.9 120.9h.8v.8h-.8zM468.9 119.5h.8v.8h-.8zM458.7 110.5h.8v.8h-.8zM467.0 116.2h.8v.8h-.8zM460.2 113.4h.8v.8h-.8zM454.1 114.1h.8v.8h-.8zM448.9 107.1h.8v.8h-.8zM464.0 112.2h.8v.8h-.8zM471.8 126.0h.8v.8h-.8zM458.5 121.6h.8v.8h-.8zM467.4 122.1h.8v.8h-.8zM457.9 105.0h.8v.8h-.8zM458.7 115.2h.8v.8h-.8zM465.2 110.3h.8v.8h-.8zM464.6 115.9h.8v.8h-.8zM454.6 121.4h.8v.8h-.8zM462.1 127.3h.8v.8h-.8zM458.3 114.7h.8v.8h-.8zM464.7 108.7h.8v.8h-.8zM452.7 124.8h.8v.8h-.8zM454.2 116.8h.8v.8h-.8zM458.4 116.8h.8v.8h-.8zM463.1 115.7h.8v.8h-.8zM465.0 114.9h.8v.8h-.8zM465.8 119.7h.8v.8h-.8zM458.1 113.9h.8v.8h-.8zM466.2 122.0h.8v.8h-.8zM454.9 125.0h.8v.8h-.8zM454.9 111.3h.8v.8h-.8zM456.2 111.1h.8v.8h-.8zM456.6 116.8h.8v.8h-.8zM460.7 120.1h.8v.8h-.8zM455.6 113.7h.8v.8h-.8zM460.0 123.5h.8v.8h-.8zM468.3 127.0h.8v.8h-.8zM449.9 119.9h.8v.8h-.8zM466.2 121.5h.8v.8h-.8zM449.1 116.5h.8v.8h-.8zM467.5 122.9h.8v.8h-.8zM456.6 114.3h.8v.8h-.8zM465.3 118.8h.8v.8h-.8zM462.2 127.8h.8v.8h-.8zM458.1 119.2h.8v.8h-.8zM459.2 126.8h.8v.8h-.8zM458.9 114.2h.8v.8h-.8zM461.1 109.6h.8v.8h-.8zM463.5 121.1h.8v.8h-.8zM476.6 115.2h.8v.8h-.8zM468.4 118.2h.8v.8h-.8zM462.6 114.5h.8v.8h-.8zM468.4 111.0h.8v.8h-.8zM466.3 121.9h.8v.8h-.8zM462.4 119.1h.8v.8h-.8zM466.2 116.8h.8v.8h-.8zM468.2 118.0h.8v.8h-.8zM462.8 119.8h.8v.8h-.8zM464.2 117.1h.8v.8h-.8zM465.5 116.1h.8v.8h-.8zM460.8 117.9h.8v.8h-.8zM459.0 119.2h.8v.8h-.8zM468.1 118.5h.8v.8h-.8zM453.0 121.7h.8v.8h-.8zM463.4 109.8h.8v.8h-.8zM467.1 110.8h.8v.8h-.8zM464.6 124.0h.8v.8h-.8zM451.4 115.8h.8v.8h-.8zM463.5 115.5h.8v.8h-.8zM459.7 117.6h.8v.8h-.8zM448.3 113.2h.8v.8h-.8zM470.6 115.4h.8v.8h-.8zM454.7 118.4h.8v.8h-.8zM463.8 117.2h.8v.8h-.8zM462.8 123.2h.8v.8h-.8zM460.9 115.8h.8v.8h-.8zM465.5 121.4h.8v.8h-.8zM460.2 124.8h.8v.8h-.8zM455.7 120.1h.8v.8h-.8zM462.9 125.4h.8v.8h-.8zM454.6 114.6h.8v.8h-.8zM449.8 113.0h.8v.8h-.8zM459.7 116.8h.8v.8h-.8zM458.9 120.1h.8v.8h-.8zM458.7 112.5h.8v.8h-.8zM467.2 112.6h.8v.8h-.8zM450.2 118.4h.8v.8h-.8zM452.8 118.1h.8v.8h-.8zM457.0 116.4h.8v.8h-.8zM466.4 120.9h.8v.8h-.8zM459.0 116.2h.8v.8h-.8zM454.3 124.1h.8v.8h-.8zM459.7 118.2h.8v.8h-.8zM468.5 122.7h.8v.8h-.8zM457.1 119.5h.8v.8h-.8zM449.0 118.8h.8v.8h-.8zM463.2 119.6h.8v.8h-.8zM459.2 115.7h.8v.8h-.8zM457.4 112.6h.8v.8h-.8zM465.6 117.7h.8v.8h-.8zM458.2 120.5h.8v.8h-.8zM457.6 115.0h.8v.8h-.8zM458.7 115.9h.8v.8h-.8zM466.5 111.2h.8v.8h-.8zM464.8 127.3h.8v.8h-.8zM462.7 119.0h.8v.8h-.8zM458.8 117.1h.8v.8h-.8zM457.6 118.5h.8v.8h-.8zM454.0 117.7h.8v.8h-.8zM465.8 113.9h.8v.8h-.8zM459.9 120.2h.8v.8h-.8zM464.8 123.0h.8v.8h-.8zM462.9 117.3h.8v.8h-.8zM453.9 114.5h.8v.8h-.8zM454.9 117.0h.8v.8h-.8zM456.5 120.8h.8v.8h-.8zM451.8 121.1h.8v.8h-.8zM463.6 119.0h.8v.8h-.8zM458.5 123.6h.8v.8h-.8zM467.9 110.3h.8v.8h-.8zM452.2 122.2h.8v.8h-.8zM459.9 117.3h.8v.8h-.8zM456.5 123.1h.8v.8h-.8zM454.4 107.4h.8v.8h-.8zM474.2 123.3h.8v.8h-.8zM455.0 120.5h.8v.8h-.8zM468.2 115.7h.8v.8h-.8zM460.7 123.0h.8v.8h-.8zM466.1 114.9h.8v.8h-.8zM453.8 110.5h.8v.8h-.8zM458.3 123.3h.8v.8h-.8zM466.2 115.6h.8v.8h-.8zM461.9 120.4h.8v.8h-.8zM465.9 119.6h.8v.8h-.8zM472.8 119.2h.8v.8h-.8zM456.0 114.9h.8v.8h-.8zM467.2 118.5h.8v.8h-.8zM456.5 118.1h.8v.8h-.8zM463.7 111.7h.8v.8h-.8zM459.9 118.2h.8v.8h-.8zM460.0 117.0h.8v.8h-.8zM453.1 120.9h.8v.8h-.8zM467.2 122.1h.8v.8h-.8zM459.2 117.0h.8v.8h-.8zM462.9 117.6h.8v.8h-.8zM466.0 124.0h.8v.8h-.8zM452.8 115.0h.8v.8h-.8zM466.3 123.4h.8v.8h-.8zM465.9 114.9h.8v.8h-.8zM471.3 117.9h.8v.8h-.8zM463.5 116.4h.8v.8h-.8zM456.0 115.0h.8v.8h-.8zM455.4 113.1h.8v.8h-.8zM475.1 117.7h.8v.8h-.8zM458.0 119.7h.8v.8h-.8zM461.3 120.7h.8v.8h-.8zM461.2 115.7h.8v.8h-.8zM460.5 110.3h.8v.8h-.8zM460.9 121.3h.8v.8h-.8zM462.9 118.0h.8v.8h-.8zM454.7 120.0h.8v.8h-.8zM467.3 117.0h.8v.8h-.8zM466.0 114.6h.8v.8h-.8zM459.7 125.2h.8v.8h-.8zM456.7 117.5h.8v.8h-.8zM460.3 118.3h.8v.8h-.8zM458.3 125.8h.8v.8h-.8zM463.2 123.6h.8v.8h-.8zM455.3 115.5h.8v.8h-.8zM459.5 117.1h.8v.8h-.8zM464.9 117.9h.8v.8h-.8zM460.4 122.7h.8v.8h-.8zM461.0 112.1h.8v.8h-.8zM462.6 115.4h.8v.8h-.8zM454.5 115.8h.8v.8h-.8zM464.2 119.7h.8v.8h-.8zM455.2 119.9h.8v.8h-.8zM462.0 119.7h.8v.8h-.8zM472.7 121.5h.8v.8h-.8zM456.3 108.2h.8v.8h-.8zM466.0 121.5h.8v.8h-.8zM472.5 114.5h.8v.8h-.8zM456.1 118.1h.8v.8h-.8zM451.2 116.3h.8v.8h-.8zM461.9 121.0h.8v.8h-.8zM457.5 119.7h.8v.8h-.8zM454.7 117.6h.8v.8h-.8zM468.7 118.7h.8v.8h-.8zM455.8 114.4h.8v.8h-.8zM457.0 118.4h.8v.8h-.8zM459.1 123.9h.8v.8h-.8zM468.0 119.3h.8v.8h-.8zM465.1 111.2h.8v.8h-.8zM480.8 127.1h.8v.8h-.8zM479.6 126.9h.8v.8h-.8zM472.1 120.9h.8v.8h-.8zM482.1 123.4h.8v.8h-.8zM482.4 125.8h.8v.8h-.8zM476.8 126.1h.8v.8h-.8zM473.9 122.8h.8v.8h-.8zM484.2 122.4h.8v.8h-.8zM486.6 122.3h.8v.8h-.8zM473.8 122.1h.8v.8h-.8zM479.9 120.1h.8v.8h-.8zM483.7 128.8h.8v.8h-.8zM479.3 127.9h.8v.8h-.8zM479.3 128.3h.8v.8h-.8zM478.4 118.6h.8v.8h-.8zM478.3 127.7h.8v.8h-.8zM478.4 120.4h.8v.8h-.8zM484.5 123.3h.8v.8h-.8zM483.3 122.8h.8v.8h-.8zM483.4 129.0h.8v.8h-.8zM477.3 120.6h.8v.8h-.8zM482.9 126.6h.8v.8h-.8zM476.8 122.7h.8v.8h-.8zM478.0 123.8h.8v.8h-.8zM481.2 122.5h.8v.8h-.8zM482.1 119.7h.8v.8h-.8zM483.4 118.1h.8v.8h-.8zM478.6 120.4h.8v.8h-.8zM476.7 120.8h.8v.8h-.8zM482.1 125.4h.8v.8h-.8zM475.7 118.6h.8v.8h-.8zM485.0 127.5h.8v.8h-.8zM473.9 124.3h.8v.8h-.8zM478.8 122.5h.8v.8h-.8zM481.6 126.1h.8v.8h-.8zM484.6 117.6h.8v.8h-.8zM471.1 121.7h.8v.8h-.8zM476.5 128.9h.8v.8h-.8zM481.5 124.5h.8v.8h-.8zM483.8 122.4h.8v.8h-.8zM481.2 124.1h.8v.8h-.8zM483.6 126.6h.8v.8h-.8zM478.1 123.9h.8v.8h-.8zM475.7 124.3h.8v.8h-.8zM479.7 120.9h.8v.8h-.8zM477.5 128.4h.8v.8h-.8zM482.0 128.8h.8v.8h-.8zM485.9 119.1h.8v.8h-.8zM478.8 124.2h.8v.8h-.8zM492.5 128.9h.8v.8h-.8zM481.2 117.0h.8v.8h-.8zM483.2 124.8h.8v.8h-.8zM479.9 126.6h.8v.8h-.8zM478.1 118.1h.8v.8h-.8zM472.3 126.4h.8v.8h-.8zM484.9 117.8h.8v.8h-.8zM476.9 124.6h.8v.8h-.8zM479.8 123.4h.8v.8h-.8zM474.3 125.5h.8v.8h-.8zM476.8 117.4h.8v.8h-.8zM476.4 120.8h.8v.8h-.8zM474.6 125.8h.8v.8h-.8zM484.9 125.9h.8v.8h-.8zM473.4 126.9h.8v.8h-.8zM474.0 123.2h.8v.8h-.8zM478.0 126.4h.8v.8h-.8zM479.0 119.9h.8v.8h-.8zM476.3 123.2h.8v.8h-.8zM484.7 122.9h.8v.8h-.8zM480.3 121.4h.8v.8h-.8zM475.8 124.8h.8v.8h-.8zM484.5 122.7h.8v.8h-.8zM484.7 123.9h.8v.8h-.8zM476.0 128.7h.8v.8h-.8zM480.4 122.2h.8v.8h-.8zM482.0 126.6h.8v.8h-.8zM472.2 120.8h.8v.8h-.8zM474.5 126.8h.8v.8h-.8zM478.0 122.3h.8v.8h-.8zM483.8 126.3h.8v.8h-.8zM479.1 128.9h.8v.8h-.8zM476.3 126.6h.8v.8h-.8zM485.0 121.1h.8v.8h-.8zM476.6 124.4h.8v.8h-.8zM470.7 119.4h.8v.8h-.8zM479.6 121.5h.8v.8h-.8zM472.3 122.9h.8v.8h-.8zM477.8 127.4h.8v.8h-.8zM476.2 122.1h.8v.8h-.8zM483.0 128.4h.8v.8h-.8zM475.7 120.9h.8v.8h-.8zM477.9 125.7h.8v.8h-.8zM479.2 118.2h.8v.8h-.8zM490.6 118.8h.8v.8h-.8zM475.8 122.1h.8v.8h-.8zM473.9 119.6h.8v.8h-.8zM477.5 120.9h.8v.8h-.8zM478.1 122.1h.8v.8h-.8zM474.9 124.8h.8v.8h-.8zM476.2 122.9h.8v.8h-.8zM482.8 123.2h.8v.8h-.8zM474.3 128.5h.8v.8h-.8zM479.8 120.8h.8v.8h-.8zM481.2 122.2h.8v.8h-.8zM481.7 127.2h.8v.8h-.8zM481.2 128.5h.8v.8h-.8zM478.0 121.7h.8v.8h-.8zM473.2 119.9h.8v.8h-.8zM479.7 125.2h.8v.8h-.8zM479.8 123.6h.8v.8h-.8zM483.6 123.6h.8v.8h-.8zM484.6 124.6h.8v.8h-.8zM488.5 123.1h.8v.8h-.8zM474.4 128.3h.8v.8h-.8zM485.0 124.5h.8v.8h-.8zM475.9 127.2h.8v.8h-.8zM479.3 120.9h.8v.8h-.8zM483.7 122.8h.8v.8h-.8zM480.9 123.1h.8v.8h-.8zM484.2 125.2h.8v.8h-.8zM478.8 121.3h.8v.8h-.8zM479.3 128.4h.8v.8h-.8zM483.9 124.8h.8v.8h-.8zM477.5 122.0h.8v.8h-.8zM479.0 123.0h.8v.8h-.8zM480.6 127.9h.8v.8h-.8zM480.8 120.8h.8v.8h-.8zM481.1 116.8h.8v.8h-.8zM479.3 121.7h.8v.8h-.8zM467.3 122.9h.8v.8h-.8zM478.4 120.4h.8v.8h-.8zM472.7 122.0h.8v.8h-.8zM475.7 121.6h.8v.8h-.8zM478.0 124.7h.8v.8h-.8zM477.9 120.5h.8v.8h-.8zM485.0 128.4h.8v.8h-.8zM475.9 127.5h.8v.8h-.8zM476.4 124.2h.8v.8h-.8zM476.6 124.5h.8v.8h-.8z" fill="#333"/>
<path d="M399.8 73.1h.8v.8h-.8zM394.6 72.3h.8v.8h-.8zM398.0 68.4h.8v.8h-.8zM408.8 69.7h.8v.8h-.8zM399.1 71.5h.8v.8h-.8zM404.9 69.1h.8v.8h-.8zM402.2 66.2h.8v.8h-.8zM397.5 67.8h.8v.8h-.8zM392.6 64.5h.8v.8h-.8zM391.2 68.5h.8v.8h-.8zM398.4 68.2h.8v.8h-.8zM399.6 65.1h.8v.8h-.8zM398.9 69.9h.8v.8h-.8zM403.1 66.6h.8v.8h-.8zM397.3 63.0h.8v.8h-.8zM396.8 62.4h.8v.8h-.8zM392.2 72.6h.8v.8h-.8zM388.3 71.7h.8v.8h-.8zM400.9 68.2h.8v.8h-.8zM401.6 70.8h.8v.8h-.8zM404.5 68.5h.8v.8h-.8zM396.3 67.3h.8v.8h-.8zM394.4 69.1h.8v.8h-.8zM395.4 72.5h.8v.8h-.8zM390.0 65.8h.8v.8h-.8zM394.5 62.7h.8v.8h-.8zM397.9 67.6h.8v.8h-.8zM404.7 66.9h.8v.8h-.8zM398.5 67.1h.8v.8h-.8zM402.5 65.7h.8v.8h-.8zM398.9 70.3h.8v.8h-.8zM406.9 72.1h.8v.8h-.8zM396.9 70.1h.8v.8h-.8zM397.0 74.3h.8v.8h-.8zM400.3 68.5h.8v.8h-.8zM398.2 68.6h.8v.8h-.8zM398.4 66.5h.8v.8h-.8zM398.6 70.4h.8v.8h-.8zM398.3 68.7h.8v.8h-.8zM401.0 72.2h.8v.8h-.8zM397.1 68.0h.8v.8h-.8zM409.0 70.8h.8v.8h-.8zM403.2 67.4h.8v.8h-.8zM393.4 70.1h.8v.8h-.8zM395.1 65.9h.8v.8h-.8zM392.8 67.6h.8v.8h-.8zM404.8 67.9h.8v.8h-.8zM392.1 71.3h.8v.8h-.8zM399.6 71.8h.8v.8h-.8zM405.3 68.7h.8v.8h-.8zM398.6 69.1h.8v.8h-.8zM393.6 71.3h.8v.8h-.8zM406.2 69.7h.8v.8h-.8zM398.1 68.4h.8v.8h-.8zM395.4 66.7h.8v.8h-.8zM397.3 66.6h.8v.8h-.8zM397.1 64.3h.8v.8h-.8zM401.1 69.4h.8v.8h-.8zM399.3 72.6h.8v.8h-.8zM395.6 67.7h.8v.8h-.8zM396.5 71.2h.8v.8h-.8zM394.7 72.3h.8v.8h-.8zM397.8 72.1h.8v.8h-.8zM399.5 68.5h.8v.8h-.8zM391.9 67.1h.8v.8h-.8zM398.0 71.2h.8v.8h-.8zM400.5 67.0h.8v.8h-.8zM401.3 72.3h.8v.8h-.8zM398.6 67.8h.8v.8h-.8zM397.3 71.7h.8v.8h-.8zM402.0 66.3h.8v.8h-.8zM401.2 67.7h.8v.8h-.8zM395.5 73.0h.8v.8h-.8zM403.4 67.0h.8v.8h-.8zM399.7 70.8h.8v.8h-.8zM396.1 68.8h.8v.8h-.8zM402.6 63.7h.8v.8h-.8zM400.9 71.5h.8v.8h-.8zM401.8 65.0h.8v.8h-.8zM400.9 66.5h.8v.8h-.8zM402.1 71.1h.8v.8h-.8zM400.4 66.8h.8v.8h-.8zM396.3 71.8h.8v.8h-.8zM394.8 70.7h.8v.8h-.8zM401.9 68.3h.8v.8h-.8zM411.3 69.4h.8v.8h-.8zM402.5 68.2h.8v.8h-.8zM399.0 63.3h.8v.8h-.8zM396.2 66.0h.8v.8h-.8zM398.2 71.9h.8v.8h-.8zM399.6 70.4h.8v.8h-.8zM395.8 67.9h.8v.8h-.8zM399.9 68.3h.8v.8h-.8zM405.6 66.5h.8v.8h-.8zM408.8 66.2h.8v.8h-.8zM404.6 66.8h.8v.8h-.8zM407.5 69.6h.8v.8h-.8zM401.3 71.5h.8v.8h-.8zM396.1 66.0h.8v.8h-.8zM389.2 73.0h.8v.8h-.8zM395.8 67.4h.8v.8h-.8zM399.1 75.4h.8v.8h-.8zM390.7 70.0h.8v.8h-.8zM397.3 70.8h.8v.8h-.8zM390.3 68.0h.8v.8h-.8zM403.5 74.0h.8v.8h-.8zM407.3 66.5h.8v.8h-.8zM399.6 68.9h.8v.8h-.8zM392.4 64.7h.8v.8h-.8zM403.1 70.0h.8v.8h-.8zM398.6 73.0h.8v.8h-.8zM394.3 70.8h.8v.8h-.8zM399.3 69.0h.8v.8h-.8zM401.8 69.7h.8v.8h-.8zM400.6 70.0h.8v.8h-.8zM409.0 68.2h.8v.8h-.8zM404.4 71.1h.8v.8h-.8zM397.6 71.7h.8v.8h-.8zM395.0 72.8h.8v.8h-.8zM395.3 67.7h.8v.8h-.8zM400.9 71.8h.8v.8h-.8zM403.8 72.0h.8v.8h-.8zM398.3 66.2h.8v.8h-.8zM402.0 70.1h.8v.8h-.8zM394.5 72.2h.8v.8h-.8zM400.3 66.2h.8v.8h-.8zM401.5 65.1h.8v.8h-.8zM394.9 70.4h.8v.8h-.8zM391.5 69.3h.8v.8h-.8zM392.5 71.5h.8v.8h-.8zM395.7 69.8h.8v.8h-.8zM391.8 68.1h.8v.8h-.8zM404.0 70.6h.8v.8h-.8zM390.1 72.1h.8v.8h-.8zM403.8 68.0h.8v.8h-.8zM406.4 65.9h.8v.8h-.8zM398.9 72.7h.8v.8h-.8zM405.9 73.2h.8v.8h-.8zM393.8 63.7h.8v.8h-.8zM401.3 64.8h.8v.8h-.8zM398.6 65.2h.8v.8h-.8zM404.6 71.7h.8v.8h-.8zM402.1 69.3h.8v.8h-.8zM399.5 68.3h.8v.8h-.8zM401.2 70.0h.8v.8h-.8zM401.6 67.9h.8v.8h-.8zM408.8 70.1h.8v.8h-.8zM406.3 73.3h.8v.8h-.8zM394.9 64.0h.8v.8h-.8zM405.6 68.0h.8v.8h-.8zM399.7 68.4h.8v.8h-.8zM400.0 65.5h.8v.8h-.8zM398.8 67.8h.8v.8h-.8zM399.2 62.0h.8v.8h-.8zM403.4 70.2h.8v.8h-.8zM390.7 66.9h.8v.8h-.8zM399.5 71.1h.8v.8h-.8zM399.3 73.5h.8v.8h-.8zM399.4 66.1h.8v.8h-.8zM395.9 71.5h.8v.8h-.8zM396.2 71.8h.8v.8h-.8zM404.4 71.0h.8v.8h-.8zM404.4 68.7h.8v.8h-.8zM399.3 67.4h.8v.8h-.8zM396.2 64.3h.8v.8h-.8zM396.5 65.9h.8v.8h-.8zM392.2 69.7h.8v.8h-.8zM401.6 68.1h.8v.8h-.8zM406.1 72.1h.8v.8h-.8zM404.5 67.3h.8v.8h-.8zM391.8 70.9h.8v.8h-.8zM400.8 71.5h.8v.8h-.8zM401.4 73.1h.8v.8h-.8zM397.9 71.3h.8v.8h-.8zM397.1 73.8h.8v.8h-.8zM390.9 72.4h.8v.8h-.8zM395.9 68.0h.8v.8h-.8zM399.5 69.9h.8v.8h-.8zM394.4 69.6h.8v.8h-.8zM401.5 71.8h.8v.8h-.8zM395.5 74.0h.8v.8h-.8zM392.6 69.7h.8v.8h-.8zM390.0 70.4h.8v.8h-.8zM402.1 65.6h.8v.8h-.8zM391.4 69.8h.8v.8h-.8zM402.4 66.7h.8v.8h-.8zM395.8 69.7h.8v.8h-.8zM400.1 74.1h.8v.8h-.8zM401.6 67.4h.8v.8h-.8zM400.7 71.4h.8v.8h-.8zM402.3 73.7h.8v.8h-.8zM406.1 64.0h.8v.8h-.8zM399.0 75.4h.8v.8h-.8zM397.3 72.2h.8v.8h-.8zM399.0 67.9h.8v.8h-.8zM407.2 72.4h.8v.8h-.8zM398.1 72.0h.8v.8h-.8zM392.7 67.0h.8v.8h-.8zM403.8 69.3h.8v.8h-.8zM394.0 70.6h.8v.8h-.8zM400.9 73.2h.8v.8h-.8zM404.1 68.3h.8v.8h-.8zM396.9 68.8h.8v.8h-.8zM398.2 73.7h.8v.8h-.8zM407.2 73.4h.8v.8h-.8zM401.2 68.4h.8v.8h-.8zM403.8 68.1h.8v.8h-.8zM400.5 64.0h.8v.8h-.8zM397.2 73.7h.8v.8h-.8zM394.2 64.6h.8v.8h-.8zM398.5 74.4h.8v.8h-.8zM406.6 68.1h.8v.8h-.8zM396.9 68.9h.8v.8h-.8zM394.6 69.3h.8v.8h-.8zM397.8 64.6h.8v.8h-.8zM396.4 68.4h.8v.8h-.8zM395.0 65.7h.8v.8h-.8zM403.8 75.1h.8v.8h-.8zM397.9 67.9h.8v.8h-.8zM401.8 68.5h.8v.8h-.8zM395.4 73.5h.8v.8h-.8zM394.1 66.9h.8v.8h-.8zM396.0 66.5h.8v.8h-.8zM398.1 71.0h.8v.8h-.8zM406.5 71.3h.8v.8h-.8zM399.5 65.3h.8v.8h-.8zM399.0 66.3h.8v.8h-.8zM398.8 72.2h.8v.8h-.8zM400.3 68.5h.8v.8h-.8zM395.5 69.1h.8v.8h-.8zM399.9 66.3h.8v.8h-.8zM396.8 71.9h.8v.8h-.8zM391.0 67.8h.8v.8h-.8zM393.5 74.0h.8v.8h-.8zM402.3 70.8h.8v.8h-.8zM401.3 70.1h.8v.8h-.8zM400.8 64.3h.8v.8h-.8zM400.6 71.0h.8v.8h-.8zM392.2 71.8h.8v.8h-.8zM402.6 64.5h.8v.8h-.8zM396.9 68.2h.8v.8h-.8zM396.7 70.4h.8v.8h-.8zM392.9 68.5h.8v.8h-.8zM400.4 71.4h.8v.8h-.8zM399.5 68.4h.8v.8h-.8zM402.8 63.0h.8v.8h-.8zM404.0 68.2h.8v.8h-.8zM393.0 67.9h.8v.8h-.8zM397.7 66.8h.8v.8h-.8zM403.0 66.5h.8v.8h-.8zM392.8 66.2h.8v.8h-.8zM407.9 69.3h.8v.8h-.8zM396.2 66.1h.8v.8h-.8zM393.8 68.7h.8v.8h-.8zM401.4 72.8h.8v.8h-.8zM405.0 70.0h.8v.8h-.8zM396.0 66.5h.8v.8h-.8zM401.4 68.1h.8v.8h-.8zM401.1 65.0h.8v.8h-.8zM403.8 70.1h.8v.8h-.8zM399.5 70.4h.8v.8h-.8zM388.1 67.5h.8v.8h-.8zM394.8 74.8h.8v.8h-.8zM398.4 67.6h.8v.8h-.8zM403.6 65.9h.8v.8h-.8zM406.4 67.0h.8v.8h-.8zM399.0 66.4h.8v.8h-.8zM403.3 62.5h.8v.8h-.8zM402.8 66.7h.8v.8h-.8zM399.5 65.6h.8v.8h-.8zM400.4 69.8h.8v.8h-.8zM402.3 70.2h.8v.8h-.8zM402.4 72.3h.8v.8h-.8zM397.4 65.5h.8v.8h-.8zM392.9 71.3h.8v.8h-.8zM397.4 72.5h.8v.8h-.8zM399.5 66.1h.8v.8h-.8zM403.8 75.2h.8v.8h-.8zM398.4 66.3h.8v.8h-.8zM395.1 72.0h.8v.8h-.8zM396.4 67.9h.8v.8h-.8zM402.7 69.2h.8v.8h-.8zM399.9 67.5h.8v.8h-.8zM396.1 69.7h.8v.8h-.8zM400.1 71.0h.8v.8h-.8zM396.8 70.3h.8v.8h-.8zM401.7 69.5h.8v.8h-.8zM402.2 72.3h.8v.8h-.8zM400.3 69.4h.8v.8h-.8zM394.5 70.2h.8v.8h-.8zM398.8 68.2h.8v.8h-.8zM395.2 71.0h.8v.8h-.8zM399.7 70.6h.8v.8h-.8zM396.3 69.5h.8v.8h-.8zM396.0 67.2h.8v.8h-.8zM400.5 69.9h.8v.8h-.8zM398.7 66.7h.8v.8h-.8zM400.6 65.8h.8v.8h-.8zM403.2 68.1h.8v.8h-.8zM399.3 71.6h.8v.8h-.8zM402.1 65.2h.8v.8h-.8zM398.1 70.3h.8v.8h-.8zM398.9 69.1h.8v.8h-.8zM401.4 69.5h.8v.8h-.8zM400.0 69.9h.8v.8h-.8zM406.2 70.7h.8v.8h-.8zM402.0 68.0h.8v.8h-.8zM404.9 68.6h.8v.8h-.8zM403.0 62.7h.8v.8h-.8zM400.5 68.9h.8v.8h-.8zM397.0 73.2h.8v.8h-.8zM401.3 68.8h.8v.8h-.8zM396.7 75.0h.8v.8h-.8zM403.0 71.2h.8v.8h-.8zM395.5 73.2h.8v.8h-.8zM402.1 68.4h.8v.8h-.8zM398.8 64.2h.8v.8h-.8zM402.6 65.8h.8v.8h-.8zM403.5 67.8h.8v.8h-.8zM396.2 70.3h.8v.8h-.8zM400.4 65.7h.8v.8h-.8zM398.9 71.1h.8v.8h-.8zM398.0 65.0h.8v.8h-.8zM398.1 66.2h.8v.8h-.8zM396.4 69.3h.8v.8h-.8zM399.0 68.6h.8v.8h-.8zM391.1 70.3h.8v.8h-.8zM398.3 67.9h.8v.8h-.8zM400.1 75.2h.8v.8h-.8zM392.9 64.2h.8v.8h-.8zM403.1 66.8h.8v.8h-.8zM405.8 66.2h.8v.8h-.8zM396.9 71.8h.8v.8h-.8zM403.8 70.6h.8v.8h-.8zM401.6 68.8h.8v.8h-.8zM397.1 68.6h.8v.8h-.8zM405.6 71.4h.8v.8h-.8zM399.4 70.2h.8v.8h-.8zM403.4 72.9h.8v.8h-.8zM398.6 69.0h.8v.8h-.8zM400.5 73.1h.8v.8h-.8zM391.7 71.8h.8v.8h-.8zM392.3 65.9h.8v.8h-.8zM396.2 68.8h.8v.8h-.8zM400.2 70.3h.8v.8h-.8zM400.4 67.9h.8v.8h-.8zM402.6 75.4h.8v.8h-.8zM404.1 71.0h.8v.8h-.8zM400.9 74.9h.8v.8h-.8zM393.9 66.3h.8v.8h-.8zM400.0 62.9h.8v.8h-.8zM395.4 72.7h.8v.8h-.8zM397.0 69.7h.8v.8h-.8zM402.7 65.6h.8v.8h-.8zM400.6 67.3h.8v.8h-.8zM393.9 68.4h.8v.8h-.8zM399.0 68.0h.8v.8h-.8zM396.0 72.1h.8v.8h-.8zM405.0 70.9h.8v.8h-.8zM398.8 66.0h.8v.8h-.8zM395.2 65.8h.8v.8h-.8zM400.3 72.0h.8v.8h-.8zM403.8 69.1h.8v.8h-.8zM397.4 69.7h.8v.8h-.8zM399.9 71.0h.8v.8h-.8zM406.6 67.1h.8v.8h-.8zM390.5 64.6h.8v.8h-.8zM394.2 68.5h.8v.8h-.8zM409.5 67.1h.8v.8h-.8zM404.8 68.1h.8v.8h-.8zM400.1 66.1h.8v.8h-.8zM410.5 69.1h.8v.8h-.8zM396.3 76.2h.8v.8h-.8zM400.2 70.5h.8v.8h-.8zM398.6 66.7h.8v.8h-.8zM392.2 68.7h.8v.8h-.8zM407.3 70.5h.8v.8h-.8zM398.4 72.5h.8v.8h-.8zM394.7 73.4h.8v.8h-.8zM399.2 66.6h.8v.8h-.8zM402.7 70.8h.8v.8h-.8zM397.6 69.9h.8v.8h-.8zM404.1 73.5h.8v.8h-.8zM409.4 68.4h.8v.8h-.8zM397.2 70.5h.8v.8h-.8zM397.2 72.4h.8v.8h-.8zM393.1 68.6h.8v.8h-.8zM393.1 73.9h.8v.8h-.8zM398.1 72.6h.8v.8h-.8zM406.2 65.5h.8v.8h-.8zM398.2 71.4h.8v.8h-.8zM399.5 68.8h.8v.8h-.8zM403.5 72.0h.8v.8h-.8zM396.4 68.8h.8v.8h-.8zM402.5 69.9h.8v.8h-.8zM400.0 65.8h.8v.8h-.8zM408.0 68.5h.8v.8h-.8zM400.6 69.1h.8v.8h-.8zM399.6 69.7h.8v.8h-.8zM395.2 70.4h.8v.8h-.8zM405.3 70.4h.8v.8h-.8zM402.9 70.7h.8v.8h-.8zM399.5 74.8h.8v.8h-.8zM395.9 70.4h.8v.8h-.8zM404.4 70.1h.8v.8h-.8zM394.1 65.9h.8v.8h-.8zM407.1 66.3h.8v.8h-.8zM399.3 70.9h.8v.8h-.8zM399.8 63.7h.8v.8h-.8zM389.9 68.9h.8v.8h-.8zM395.5 68.4h.8v.8h-.8zM399.8 69.7h.8v.8h-.8zM392.7 64.0h.8v.8h-.8zM404.0 67.3h.8v.8h-.8zM393.5 63.1h.8v.8h-.8zM402.0 65.3h.8v.8h-.8zM394.1 71.1h.8v.8h-.8zM400.8 70.9h.8v.8h-.8zM394.4 68.3h.8v.8h-.8zM396.0 71.9h.8v.8h-.8zM401.1 66.0h.8v.8h-.8zM402.1 68.7h.8v.8h-.8zM396.9 72.7h.8v.8h-.8zM391.0 72.4h.8v.8h-.8zM404.7 62.9h.8v.8h-.8zM398.4 68.7h.8v.8h-.8zM393.7 67.4h.8v.8h-.8zM395.3 69.4h.8v.8h-.8zM396.5 62.6h.8v.8h-.8zM405.2 72.0h.8v.8h-.8zM395.1 71.9h.8v.8h-.8zM397.3 67.6h.8v.8h-.8zM402.1 68.3h.8v.8h-.8zM392.3 73.1h.8v.8h-.8zM397.7 71.5h.8v.8h-.8zM410.7 66.9h.8v.8h-.8zM397.2 72.0h.8v.8h-.8zM398.8 70.8h.8v.8h-.8zM402.5 70.3h.8v.8h-.8zM399.9 70.4h.8v.8h-.8zM391.2 68.4h.8v.8h-.8zM403.0 65.5h.8v.8h-.8zM399.5 68.9h.8v.8h-.8zM402.9 70.2h.8v.8h-.8zM395.4 69.5h.8v.8h-.8zM397.8 68.9h.8v.8h-.8zM406.0 74.5h.8v.8h-.8zM396.0 65.2h.8v.8h-.8zM400.3 70.0h.8v.8h-.8zM399.5 67.3h.8v.8h-.8zM402.7 74.6h.8v.8h-.8zM400.4 68.5h.8v.8h-.8zM405.3 68.3h.8v.8h-.8zM397.5 70.2h.8v.8h-.8zM398.8 70.8h.8v.8h-.8zM400.9 70.5h.8v.8h-.8zM392.6 74.7h.8v.8h-.8zM402.2 70.1h.8v.8h-.8zM403.0 68.9h.8v.8h-.8zM391.5 69.7h.8v.8h-.8zM398.9 69.8h.8v.8h-.8zM394.6 73.5h.8v.8h-.8zM400.6 65.3h.8v.8h-.8zM393.2 70.1h.8v.8h-.8zM393.5 70.6h.8v.8h-.8zM401.0 67.4h.8v.8h-.8zM389.7 65.2h.8v.8h-.8zM401.1 67.6h.8v.8h-.8zM408.6 67.8h.8v.8h-.8zM401.2 71.3h.8v.8h-.8zM399.8 70.2h.8v.8h-.8zM404.4 68.8h.8v.8h-.8zM401.0 68.1h.8v.8h-.8zM409.4 69.7h.8v.8h-.8zM396.9 65.7h.8v.8h-.8zM399.5 67.8h.8v.8h-.8zM394.1 68.4h.8v.8h-.8zM403.4 72.5h.8v.8h-.8zM396.7 72.5h.8v.8h-.8zM396.2 71.1h.8v.8h-.8zM395.0 72.5h.8v.8h-.8zM410.9 68.3h.8v.8h-.8zM405.5 64.7h.8v.8h-.8zM399.0 70.8h.8v.8h-.8zM391.2 69.2h.8v.8h-.8zM395.4 73.0h.8v.8h-.8zM393.8 70.2h.8v.8h-.8zM389.3 68.0h.8v.8h-.8zM405.4 68.9h.8v.8h-.8zM392.8 70.7h.8v.8h-.8zM404.1 70.6h.8v.8h-.8zM404.3 64.8h.8v.8h-.8zM408.4 71.4h.8v.8h-.8zM397.0 70.8h.8v.8h-.8zM389.4 67.3h.8v.8h-.8zM390.2 71.8h.8v.8h-.8zM398.2 66.3h.8v.8h-.8zM397.4 72.7h.8v.8h-.8zM395.4 71.0h.8v.8h-.8zM393.4 64.0h.8v.8h-.8zM396.9 68.3h.8v.8h-.8zM400.2 72.1h.8v.8h-.8zM397.2 68.1h.8v.8h-.8zM403.1 70.5h.8v.8h-.8zM399.0 69.9h.8v.8h-.8zM388.4 67.5h.8v.8h-.8zM391.3 68.1h.8v.8h-.8zM403.8 64.0h.8v.8h-.8zM403.9 67.5h.8v.8h-.8zM398.3 67.8h.8v.8h-.8zM402.9 67.1h.8v.8h-.8zM388.9 70.2h.8v.8h-.8zM398.6 71.2h.8v.8h-.8zM402.3 65.4h.8v.8h-.8zM400.3 69.6h.8v.8h-.8zM398.9 69.5h.8v.8h-.8zM400.9 67.5h.8v.8h-.8zM398.5 72.2h.8v.8h-.8zM394.0 69.0h.8v.8h-.8zM394.2 65.9h.8v.8h-.8zM397.2 69.7h.8v.8h-.8zM406.9 68.6h.8v.8h-.8zM404.0 70.9h.8v.8h-.8zM399.9 69.4h.8v.8h-.8zM394.1 69.6h.8v.8h-.8zM406.7 65.6h.8v.8h-.8zM396.7 72.0h.8v.8h-.8zM390.3 66.0h.8v.8h-.8zM400.8 72.2h.8v.8h-.8zM405.4 71.5h.8v.8h-.8zM410.8 70.4h.8v.8h-.8zM392.8 68.6h.8v.8h-.8zM402.4 70.4h.8v.8h-.8zM389.6 70.4h.8v.8h-.8zM395.3 68.6h.8v.8h-.8zM406.6 68.7h.8v.8h-.8zM396.0 68.8h.8v.8h-.8zM396.1 75.5h.8v.8h-.8zM403.4 72.0h.8v.8h-.8zM395.9 67.2h.8v.8h-.8zM400.6 62.4h.8v.8h-.8zM404.4 65.2h.8v.8h-.8zM399.8 70.2h.8v.8h-.8zM395.4 70.3h.8v.8h-.8zM402.8 75.1h.8v.8h-.8zM401.3 74.8h.8v.8h-.8zM401.6 68.6h.8v.8h-.8zM403.6 67.6h.8v.8h-.8zM400.1 71.1h.8v.8h-.8zM405.0 70.1h.8v.8h-.8zM392.0 73.2h.8v.8h-.8zM400.2 68.3h.8v.8h-.8zM395.3 71.0h.8v.8h-.8zM401.0 71.3h.8v.8h-.8zM398.7 74.0h.8v.8h-.8zM398.0 70.5h.8v.8h-.8zM400.3 72.5h.8v.8h-.8zM395.9 68.3h.8v.8h-.8zM398.2 67.1h.8v.8h-.8zM396.0 65.5h.8v.8h-.8zM403.0 73.8h.8v.8h-.8zM394.4 71.6h.8v.8h-.8zM393.6 66.7h.8v.8h-.8zM397.7 69.6h.8v.8h-.8zM401.6 63.2h.8v.8h-.8zM392.7 69.5h.8v.8h-.8zM398.1 75.8h.8v.8h-.8zM397.9 67.2h.8v.8h-.8zM396.2 69.4h.8v.8h-.8zM398.4 66.4h.8v.8h-.8zM398.6 65.1h.8v.8h-.8zM404.1 71.6h.8v.8h-.8zM402.7 66.4h.8v.8h-.8zM389.6 67.7h.8v.8h-.8zM393.8 70.4h.8v.8h-.8zM391.2 66.3h.8v.8h-.8zM399.9 70.5h.8v.8h-.8zM399.7 65.3h.8v.8h-.8zM395.9 75.4h.8v.8h-.8zM404.0 66.6h.8v.8h-.8zM408.8 68.8h.8v.8h-.8zM399.2 66.6h.8v.8h-.8zM406.8 69.5h.8v.8h-.8zM398.9 66.3h.8v.8h-.8zM392.9 69.7h.8v.8h-.8zM399.3 74.0h.8v.8h-.8zM394.7 68.0h.8v.8h-.8zM404.2 71.7h.8v.8h-.8zM395.9 73.7h.8v.8h-.8zM401.6 71.9h.8v.8h-.8zM401.0 72.2h.8v.8h-.8zM397.2 68.5h.8v.8h-.8zM404.7 70.4h.8v.8h-.8zM401.1 72.7h.8v.8h-.8zM400.4 70.4h.8v.8h-.8zM388.3 67.6h.8v.8h-.8zM403.4 66.5h.8v.8h-.8zM397.8 69.9h.8v.8h-.8zM398.6 71.9h.8v.8h-.8zM401.6 68.6h.8v.8h-.8zM404.7 68.1h.8v.8h-.8zM395.7 70.2h.8v.8h-.8zM402.4 68.7h.8v.8h-.8zM393.9 67.6h.8v.8h-.8zM400.4 71.3h.8v.8h-.8zM408.1 68.7h.8v.8h-.8zM398.2 62.5h.8v.8h-.8zM405.6 72.0h.8v.8h-.8zM399.3 67.0h.8v.8h-.8zM395.4 73.9h.8v.8h-.8zM403.1 73.2h.8v.8h-.8zM398.6 72.9h.8v.8h-.8zM392.3 73.7h.8v.8h-.8zM399.1 65.5h.8v.8h-.8zM397.3 66.2h.8v.8h-.8zM400.6 66.9h.8v.8h-.8zM392.9 68.1h.8v.8h-.8zM398.1 69.8h.8v.8h-.8zM402.7 73.1h.8v.8h-.8zM401.3 74.3h.8v.8h-.8zM403.9 65.1h.8v.8h-.8zM398.3 69.9h.8v.8h-.8zM391.5 67.4h.8v.8h-.8zM402.3 68.2h.8v.8h-.8zM398.9 65.6h.8v.8h-.8zM399.1 67.4h.8v.8h-.8zM392.2 67.9h.8v.8h-.8zM396.9 68.1h.8v.8h-.8zM403.9 72.5h.8v.8h-.8zM401.3 68.1h.8v.8h-.8zM401.4 69.3h.8v.8h-.8zM400.4 66.2h.8v.8h-.8zM396.3 67.6h.8v.8h-.8zM399.2 69.0h.8v.8h-.8zM397.8 73.9h.8v.8h-.8zM399.9 69.9h.8v.8h-.8zM394.9 68.9h.8v.8h-.8zM401.6 68.9h.8v.8h-.8zM400.9 66.3h.8v.8h-.8zM401.2 66.0h.8v.8h-.8zM397.1 66.8h.8v.8h-.8zM400.2 72.6h.8v.8h-.8zM400.7 66.5h.8v.8h-.8zM400.0 72.4h.8v.8h-.8zM402.9 70.7h.8v.8h-.8zM393.7 67.5h.8v.8h-.8zM395.9 67.7h.8v.8h-.8zM400.4 69.3h.8v.8h-.8zM397.5 70.9h.8v.8h-.8zM395.7 68.2h.8v.8h-.8zM399.8 65.0h.8v.8h-.8zM395.0 64.9h.8v.8h-.8zM394.1 68.8h.8v.8h-.8zM398.7 70.2h.8v.8h-.8zM400.9 65.7h.8v.8h-.8zM408.6 73.4h.8v.8h-.8zM393.2 67.1h.8v.8h-.8zM396.9 69.8h.8v.8h-.8zM402.3 69.2h.8v.8h-.8zM403.5 71.7h.8v.8h-.8zM395.6 69.5h.8v.8h-.8zM403.9 67.7h.8v.8h-.8zM404.9 69.5h.8v.8h-.8zM407.1 69.3h.8v.8h-.8zM406.7 64.3h.8v.8h-.8zM406.5 70.6h.8v.8h-.8zM397.4 72.5h.8v.8h-.8zM398.0 71.7h.8v.8h-.8zM404.0 72.4h.8v.8h-.8zM400.0 70.4h.8v.8h-.8zM399.1 65.4h.8v.8h-.8zM400.0 65.5h.8v.8h-.8zM397.9 68.3h.8v.8h-.8zM396.5 65.9h.8v.8h-.8zM399.8 69.1h.8v.8h-.8zM406.1 71.1h.8v.8h-.8zM404.0 67.7h.8v.8h-.8zM397.7 65.3h.8v.8h-.8zM395.0 71.4h.8v.8h-.8zM398.3 68.8h.8v.8h-.8zM396.5 74.0h.8v.8h-.8zM399.0 72.7h.8v.8h-.8zM399.1 72.1h.8v.8h-.8zM394.5 65.1h.8v.8h-.8zM404.8 68.3h.8v.8h-.8zM400.6 71.9h.8v.8h-.8zM402.8 70.0h.8v.8h-.8zM393.4 67.0h.8v.8h-.8zM399.5 71.2h.8v.8h-.8zM401.9 70.3h.8v.8h-.8zM395.5 69.2h.8v.8h-.8zM404.1 66.5h.8v.8h-.8zM396.4 72.0h.8v.8h-.8zM407.2 70.5h.8v.8h-.8zM399.3 66.3h.8v.8h-.8zM398.7 66.8h.8v.8h-.8zM400.0 71.4h.8v.8h-.8zM401.5 73.2h.8v.8h-.8zM394.2 65.3h.8v.8h-.8zM406.1 72.4h.8v.8h-.8zM394.5 69.6h.8v.8h-.8zM394.0 69.1h.8v.8h-.8zM400.8 72.2h.8v.8h-.8zM394.5 65.3h.8v.8h-.8zM402.1 68.2h.8v.8h-.8zM406.3 65.7h.8v.8h-.8zM404.9 73.3h.8v.8h-.8zM401.4 68.3h.8v.8h-.8zM396.7 75.1h.8v.8h-.8zM403.7 67.4h.8v.8h-.8zM401.4 70.9h.8v.8h-.8zM401.8 66.4h.8v.8h-.8zM397.1 72.3h.8v.8h-.8zM402.7 68.2h.8v.8h-.8zM397.3 72.0h.8v.8h-.8zM403.3 68.8h.8v.8h-.8zM408.3 72.5h.8v.8h-.8zM399.4 71.4h.8v.8h-.8zM402.6 68.3h.8v.8h-.8zM403.0 67.6h.8v.8h-.8zM398.2 71.2h.8v.8h-.8zM393.1 68.2h.8v.8h-.8zM394.5 71.4h.8v.8h-.8zM396.5 74.8h.8v.8h-.8zM407.0 67.1h.8v.8h-.8zM400.1 68.1h.8v.8h-.8zM399.3 71.3h.8v.8h-.8zM408.5 65.3h.8v.8h-.8zM397.0 68.7h.8v.8h-.8zM397.8 69.7h.8v.8h-.8zM402.5 67.8h.8v.8h-.8zM402.8 75.9h.8v.8h-.8zM396.5 73.4h.8v.8h-.8zM407.7 73.3h.8v.8h-.8zM395.6 70.9h.8v.8h-.8zM395.5 65.8h.8v.8h-.8zM399.3 70.8h.8v.8h-.8zM398.3 68.9h.8v.8h-.8zM402.5 67.1h.8v.8h-.8zM401.5 71.6h.8v.8h-.8zM402.6 71.0h.8v.8h-.8zM394.4 68.4h.8v.8h-.8zM397.2 71.4h.8v.8h-.8zM390.6 69.7h.8v.8h-.8zM391.4 71.2h.8v.8h-.8zM396.8 69.4h.8v.8h-.8zM404.0 74.5h.8v.8h-.8zM394.4 69.6h.8v.8h-.8zM389.7 68.6h.8v.8h-.8zM395.9 71.3h.8v.8h-.8zM398.8 69.5h.8v.8h-.8zM393.8 68.2h.8v.8h-.8zM393.8 69.3h.8v.8h-.8zM391.5 70.0h.8v.8h-.8zM406.8 73.3h.8v.8h-.8zM403.3 74.1h.8v.8h-.8zM399.2 70.4h.8v.8h-.8zM390.1 67.7h.8v.8h-.8zM405.1 64.0h.8v.8h-.8zM400.9 69.1h.8v.8h-.8zM397.6 70.2h.8v.8h-.8zM399.5 65.8h.8v.8h-.8zM399.0 63.7h.8v.8h-.8zM406.8 69.2h.8v.8h-.8zM403.8 66.4h.8v.8h-.8zM408.5 72.4h.8v.8h-.8zM401.1 69.9h.8v.8h-.8zM401.3 67.0h.8v.8h-.8zM398.7 68.6h.8v.8h-.8zM401.2 74.0h.8v.8h-.8zM405.1 70.1h.8v.8h-.8zM402.5 68.4h.8v.8h-.8zM397.0 64.3h.8v.8h-.8zM393.1 65.6h.8v.8h-.8zM399.0 68.7h.8v.8h-.8zM401.5 72.8h.8v.8h-.8zM402.7 68.8h.8v.8h-.8zM397.1 68.4h.8v.8h-.8zM402.4 66.4h.8v.8h-.8zM391.9 68.6h.8v.8h-.8zM404.6 73.0h.8v.8h-.8zM402.4 63.4h.8v.8h-.8zM398.6 71.4h.8v.8h-.8zM404.8 74.9h.8v.8h-.8zM394.7 70.4h.8v.8h-.8zM391.6 68.6h.8v.8h-.8zM397.4 71.8h.8v.8h-.8zM400.2 63.9h.8v.8h-.8zM398.7 70.4h.8v.8h-.8zM406.6 67.0h.8v.8h-.8zM395.1 67.4h.8v.8h-.8zM404.4 68.4h.8v.8h-.8zM399.8 70.6h.8v.8h-.8zM395.3 72.6h.8v.8h-.8zM396.0 66.4h.8v.8h-.8zM395.7 65.6h.8v.8h-.8zM395.0 66.8h.8v.8h-.8zM393.5 68.7h.8v.8h-.8zM400.9 67.4h.8v.8h-.8zM400.2 66.7h.8v.8h-.8zM400.4 68.2h.8v.8h-.8zM393.9 69.5h.8v.8h-.8zM398.5 67.2h.8v.8h-.8zM399.1 70.9h.8v.8h-.8zM393.2 67.7h.8v.8h-.8zM402.4 69.2h.8v.8h-.8zM393.1 70.3h.8v.8h-.8zM397.5 73.6h.8v.8h-.8zM402.2 64.9h.8v.8h-.8zM404.7 69.2h.8v.8h-.8zM397.8 69.3h.8v.8h-.8zM400.4 66.6h.8v.8h-.8zM397.4 73.4h.8v.8h-.8zM394.3 67.4h.8v.8h-.8zM403.1 66.3h.8v.8h-.8zM398.3 70.1h.8v.8h-.8zM394.8 68.2h.8v.8h-.8zM394.8 68.5h.8v.8h-.8zM400.7 69.2h.8v.8h-.8zM400.5 70.4h.8v.8h-.8zM403.2 65.9h.8v.8h-.8zM399.9 74.1h.8v.8h-.8zM398.1 68.4h.8v.8h-.8zM399.3 67.0h.8v.8h-.8zM402.1 69.2h.8v.8h-.8zM398.5 71.5h.8v.8h-.8zM405.3 64.8h.8v.8h-.8zM396.8 68.4h.8v.8h-.8zM392.3 71.3h.8v.8h-.8zM409.8 71.7h.8v.8h-.8zM405.6 63.2h.8v.8h-.8zM397.1 65.1h.8v.8h-.8zM403.2 68.8h.8v.8h-.8zM398.4 70.7h.8v.8h-.8zM403.1 74.2h.8v.8h-.8zM406.1 72.1h.8v.8h-.8zM391.2 73.1h.8v.8h-.8zM399.8 64.5h.8v.8h-.8zM400.1 68.4h.8v.8h-.8zM398.8 72.2h.8v.8h-.8zM392.6 71.2h.8v.8h-.8zM405.3 65.7h.8v.8h-.8zM406.3 67.1h.8v.8h-.8zM395.6 72.1h.8v.8h-.8zM399.2 63.5h.8v.8h-.8zM396.1 71.3h.8v.8h-.8zM396.6 67.7h.8v.8h-.8zM399.3 69.2h.8v.8h-.8zM395.9 66.3h.8v.8h-.8zM401.5 73.0h.8v.8h-.8zM404.3 66.5h.8v.8h-.8zM406.5 64.6h.8v.8h-.8zM404.1 74.2h.8v.8h-.8zM399.6 66.1h.8v.8h-.8zM401.3 73.5h.8v.8h-.8zM401.4 74.3h.8v.8h-.8zM391.0 66.6h.8v.8h-.8zM396.7 71.3h.8v.8h-.8zM405.4 66.6h.8v.8h-.8zM394.7 72.0h.8v.8h-.8zM392.7 71.0h.8v.8h-.8zM395.2 68.9h.8v.8h-.8zM409.6 68.4h.8v.8h-.8zM399.5 66.7h.8v.8h-.8zM402.1 73.9h.8v.8h-.8zM402.5 65.1h.8v.8h-.8zM401.1 74.0h.8v.8h-.8zM394.5 68.8h.8v.8h-.8zM394.7 67.4h.8v.8h-.8zM394.3 65.0h.8v.8h-.8zM401.7 69.0h.8v.8h-.8zM395.7 65.8h.8v.8h-.8zM400.1 68.6h.8v.8h-.8zM401.2 65.0h.8v.8h-.8zM395.6 67.8h.8v.8h-.8zM397.4 68.1h.8v.8h-.8zM395.5 68.8h.8v.8h-.8zM407.5 66.9h.8v.8h-.8zM391.0 70.1h.8v.8h-.8zM394.7 71.7h.8v.8h-.8zM404.5 74.4h.8v.8h-.8zM400.0 64.0h.8v.8h-.8zM407.3 72.1h.8v.8h-.8zM405.7 69.5h.8v.8h-.8zM397.6 69.3h.8v.8h-.8zM390.1 72.3h.8v.8h-.8zM396.2 67.3h.8v.8h-.8zM401.1 66.5h.8v.8h-.8zM403.3 67.3h.8v.8h-.8zM402.7 70.2h.8v.8h-.8zM399.6 67.7h.8v.8h-.8zM389.8 67.5h.8v.8h-.8zM395.4 67.7h.8v.8h-.8zM399.8 63.4h.8v.8h-.8zM393.1 67.1h.8v.8h-.8zM397.1 72.0h.8v.8h-.8zM402.6 69.2h.8v.8h-.8zM400.7 74.6h.8v.8h-.8zM400.2 71.0h.8v.8h-.8zM399.6 67.3h.8v.8h-.8zM404.8 68.7h.8v.8h-.8zM406.7 65.8h.8v.8h-.8zM401.6 74.4h.8v.8h-.8zM396.3 70.3h.8v.8h-.8zM406.8 70.6h.8v.8h-.8zM395.4 68.2h.8v.8h-.8zM400.9 67.4h.8v.8h-.8zM397.3 69.7h.8v.8h-.8zM393.2 74.4h.8v.8h-.8zM396.4 69.2h.8v.8h-.8zM399.9 73.6h.8v.8h-.8zM397.5 75.6h.8v.8h-.8zM408.7 71.5h.8v.8h-.8zM392.6 65.2h.8v.8h-.8zM398.1 70.1h.8v.8h-.8zM402.6 73.0h.8v.8h-.8zM401.7 69.4h.8v.8h-.8zM401.4 63.0h.8v.8h-.8zM405.2 64.6h.8v.8h-.8zM389.7 67.1h.8v.8h-.8zM397.2 65.5h.8v.8h-.8zM398.3 69.5h.8v.8h-.8zM402.5 70.5h.8v.8h-.8zM396.8 69.6h.8v.8h-.8zM405.7 68.5h.8v.8h-.8zM398.7 62.7h.8v.8h-.8zM400.9 75.6h.8v.8h-.8zM403.1 68.6h.8v.8h-.8zM405.6 73.1h.8v.8h-.8zM406.2 65.7h.8v.8h-.8zM393.6 71.5h.8v.8h-.8zM402.1 70.7h.8v.8h-.8zM392.1 71.7h.8v.8h-.8zM409.0 73.0h.8v.8h-.8zM400.1 74.9h.8v.8h-.8zM391.7 70.1h.8v.8h-.8zM396.8 74.9h.8v.8h-.8zM407.3 73.3h.8v.8h-.8zM397.8 68.6h.8v.8h-.8zM403.4 68.2h.8v.8h-.8zM402.8 70.2h.8v.8h-.8zM403.3 69.6h.8v.8h-.8zM392.6 64.7h.8v.8h-.8zM402.8 64.8h.8v.8h-.8zM396.5 70.8h.8v.8h-.8zM402.8 72.4h.8v.8h-.8zM401.6 74.1h.8v.8h-.8zM396.5 72.9h.8v.8h-.8zM392.6 67.9h.8v.8h-.8zM401.5 71.2h.8v.8h-.8zM398.0 67.2h.8v.8h-.8zM391.1 68.3h.8v.8h-.8zM397.9 67.3h.8v.8h-.8zM392.7 68.7h.8v.8h-.8zM392.1 70.2h.8v.8h-.8zM406.8 66.2h.8v.8h-.8zM400.4 67.6h.8v.8h-.8zM397.3 65.0h.8v.8h-.8zM399.6 69.1h.8v.8h-.8zM393.9 72.7h.8v.8h-.8zM395.1 67.5h.8v.8h-.8zM393.3 70.7h.8v.8h-.8zM405.4 68.8h.8v.8h-.8zM400.4 66.6h.8v.8h-.8zM397.7 65.1h.8v.8h-.8zM398.9 62.8h.8v.8h-.8zM396.3 67.7h.8v.8h-.8zM397.1 69.5h.8v.8h-.8zM400.4 75.1h.8v.8h-.8zM396.9 63.2h.8v.8h-.8zM400.6 70.5h.8v.8h-.8zM395.1 71.7h.8v.8h-.8zM398.3 66.7h.8v.8h-.8zM398.8 65.1h.8v.8h-.8zM397.2 74.5h.8v.8h-.8zM405.3 71.1h.8v.8h-.8zM399.9 70.0h.8v.8h-.8zM393.3 69.7h.8v.8h-.8zM395.6 67.2h.8v.8h-.8zM407.2 66.9h.8v.8h-.8zM399.6 69.4h.8v.8h-.8zM404.3 68.4h.8v.8h-.8zM401.8 70.4h.8v.8h-.8zM398.3 67.4h.8v.8h-.8zM394.1 72.5h.8v.8h-.8zM394.9 72.8h.8v.8h-.8zM407.7 67.4h.8v.8h-.8zM394.4 66.1h.8v.8h-.8zM396.7 73.3h.8v.8h-.8zM395.4 65.9h.8v.8h-.8zM391.0 69.5h.8v.8h-.8zM401.5 73.9h.8v.8h-.8zM400.6 69.1h.8v.8h-.8zM407.3 72.0h.8v.8h-.8zM397.6 68.6h.8v.8h-.8zM398.9 68.9h.8v.8h-.8zM401.8 67.1h.8v.8h-.8zM408.8 66.2h.8v.8h-.8zM402.6 71.6h.8v.8h-.8zM404.1 73.5h.8v.8h-.8zM400.9 69.9h.8v.8h-.8zM406.7 73.3h.8v.8h-.8zM399.4 71.9h.8v.8h-.8zM393.3 70.5h.8v.8h-.8zM396.2 72.2h.8v.8h-.8zM401.7 67.4h.8v.8h-.8zM403.7 74.4h.8v.8h-.8zM395.1 75.2h.8v.8h-.8zM401.4 66.5h.8v.8h-.8zM398.1 70.4h.8v.8h-.8zM403.1 66.8h.8v.8h-.8zM397.6 70.8h.8v.8h-.8zM400.8 75.4h.8v.8h-.8zM403.6 72.1h.8v.8h-.8zM395.0 66.5h.8v.8h-.8zM394.3 69.2h.8v.8h-.8zM402.6 74.6h.8v.8h-.8zM404.4 66.8h.8v.8h-.8zM399.2 76.0h.8v.8h-.8zM400.2 71.0h.8v.8h-.8zM392.7 65.0h.8v.8h-.8zM397.1 68.5h.8v.8h-.8zM402.2 69.0h.8v.8h-.8zM401.5 64.2h.8v.8h-.8zM408.0 72.0h.8v.8h-.8zM398.7 69.5h.8v.8h-.8zM402.1 62.3h.8v.8h-.8zM404.6 70.2h.8v.8h-.8zM403.0 67.6h.8v.8h-.8zM396.5 74.3h.8v.8h-.8zM405.4 64.4h.8v.8h-.8zM398.4 67.2h.8v.8h-.8zM396.8 65.4h.8v.8h-.8zM392.9 69.6h.8v.8h-.8zM398.2 71.1h.8v.8h-.8zM403.4 67.6h.8v.8h-.8zM391.8 68.9h.8v.8h-.8zM397.8 70.7h.8v.8h-.8zM394.6 74.3h.8v.8h-.8zM397.7 76.0h.8v.8h-.8zM395.7 75.4h.8v.8h-.8zM401.6 72.2h.8v.8h-.8zM401.3 70.5h.8v.8h-.8zM394.6 68.8h.8v.8h-.8zM395.9 68.7h.8v.8h-.8zM397.7 71.7h.8v.8h-.8zM400.9 68.4h.8v.8h-.8zM390.8 72.3h.8v.8h-.8zM395.8 68.2h.8v.8h-.8zM401.7 69.2h.8v.8h-.8zM399.9 69.6h.8v.8h-.8zM390.1 71.5h.8v.8h-.8zM398.5 71.7h.8v.8h-.8zM399.9 68.0h.8v.8h-.8zM406.6 69.7h.8v.8h-.8zM404.5 71.2h.8v.8h-.8zM403.5 72.5h.8v.8h-.8zM402.6 66.5h.8v.8h-.8zM398.3 73.5h.8v.8h-.8zM398.8 68.2h.8v.8h-.8zM399.6 72.2h.8v.8h-.8zM395.3 69.1h.8v.8h-.8zM397.2 67.2h.8v.8h-.8zM403.1 67.6h.8v.8h-.8zM399.7 70.4h.8v.8h-.8zM401.7 70.7h.8v.8h-.8zM403.1 67.0h.8v.8h-.8zM407.6 68.1h.8v.8h-.8zM399.6 72.0h.8v.8h-.8zM395.4 69.1h.8v.8h-.8zM397.3 71.0h.8v.8h-.8zM399.8 74.3h.8v.8h-.8zM395.0 67.2h.8v.8h-.8zM392.5 70.0h.8v.8h-.8zM398.9 68.6h.8v.8h-.8zM402.4 66.3h.8v.8h-.8zM399.5 66.3h.8v.8h-.8zM404.6 69.7h.8v.8h-.8zM394.8 70.3h.8v.8h-.8zM404.7 71.5h.8v.8h-.8zM399.0 74.4h.8v.8h-.8zM395.2 68.7h.8v.8h-.8zM401.8 66.2h.8v.8h-.8zM402.8 70.5h.8v.8h-.8zM404.3 70.3h.8v.8h-.8zM409.3 65.2h.8v.8h-.8zM397.6 67.7h.8v.8h-.8zM399.5 71.3h.8v.8h-.8zM394.3 72.4h.8v.8h-.8zM405.0 69.7h.8v.8h-.8zM392.7 71.3h.8v.8h-.8zM401.6 66.4h.8v.8h-.8zM396.1 67.7h.8v.8h-.8zM392.5 70.4h.8v.8h-.8zM405.0 70.4h.8v.8h-.8zM396.1 69.2h.8v.8h-.8zM399.4 75.0h.8v.8h-.8zM397.4 70.8h.8v.8h-.8zM398.0 72.9h.8v.8h-.8zM395.6 70.9h.8v.8h-.8zM397.8 71.1h.8v.8h-.8zM392.5 69.1h.8v.8h-.8zM405.0 71.4h.8v.8h-.8zM401.8 68.6h.8v.8h-.8zM397.8 66.5h.8v.8h-.8zM407.1 73.3h.8v.8h-.8zM406.7 66.2h.8v.8h-.8zM392.2 67.6h.8v.8h-.8zM393.6 64.2h.8v.8h-.8zM401.9 67.1h.8v.8h-.8zM400.9 73.0h.8v.8h-.8zM395.4 67.7h.8v.8h-.8zM405.5 64.6h.8v.8h-.8zM396.9 65.7h.8v.8h-.8zM398.2 67.3h.8v.8h-.8zM400.2 67.7h.8v.8h-.8zM405.1 66.7h.8v.8h-.8zM398.7 71.2h.8v.8h-.8zM394.8 67.2h.8v.8h-.8zM398.6 67.9h.8v.8h-.8zM403.0 66.9h.8v.8h-.8zM391.7 71.1h.8v.8h-.8zM395.0 67.1h.8v.8h-.8zM397.8 72.5h.8v.8h-.8zM403.1 69.7h.8v.8h-.8zM400.5 67.8h.8v.8h-.8zM407.6 72.3h.8v.8h-.8zM395.0 71.9h.8v.8h-.8zM392.5 66.6h.8v.8h-.8zM395.7 74.0h.8v.8h-.8zM409.0 69.2h.8v.8h-.8zM396.7 73.2h.8v.8h-.8zM396.5 74.1h.8v.8h-.8zM394.5 72.2h.8v.8h-.8zM395.2 74.5h.8v.8h-.8zM399.9 67.2h.8v.8h-.8zM399.8 61.8h.8v.8h-.8zM399.6 71.2h.8v.8h-.8zM405.2 73.1h.8v.8h-.8zM402.8 68.2h.8v.8h-.8zM400.1 66.6h.8v.8h-.8zM400.7 65.6h.8v.8h-.8zM396.8 69.5h.8v.8h-.8zM394.8 65.3h.8v.8h-.8zM398.9 70.1h.8v.8h-.8zM402.6 70.5h.8v.8h-.8zM407.6 69.1h.8v.8h-.8zM405.9 66.1h.8v.8h-.8zM402.6 71.5h.8v.8h-.8zM408.6 67.3h.8v.8h-.8zM408.5 68.9h.8v.8h-.8zM397.2 64.1h.8v.8h-.8zM403.9 67.5h.8v.8h-.8zM403.5 69.8h.8v.8h-.8zM403.3 69.4h.8v.8h-.8zM395.9 67.9h.8v.8h-.8zM399.3 70.6h.8v.8h-.8zM395.5 72.1h.8v.8h-.8zM389.2 65.2h.8v.8h-.8zM402.8 70.2h.8v.8h-.8zM409.5 72.5h.8v.8h-.8zM394.4 65.9h.8v.8h-.8zM399.4 69.0h.8v.8h-.8zM403.0 67.6h.8v.8h-.8zM395.8 66.9h.8v.8h-.8zM399.2 66.6h.8v.8h-.8zM398.6 71.5h.8v.8h-.8zM398.4 65.8h.8v.8h-.8zM401.9 71.6h.8v.8h-.8zM394.9 68.0h.8v.8h-.8zM391.3 65.9h.8v.8h-.8zM393.6 64.9h.8v.8h-.8zM396.0 75.1h.8v.8h-.8zM405.0 67.8h.8v.8h-.8zM401.4 69.4h.8v.8h-.8zM399.8 63.0h.8v.8h-.8zM398.3 65.6h.8v.8h-.8zM396.9 68.8h.8v.8h-.8zM401.2 73.3h.8v.8h-.8zM403.6 65.6h.8v.8h-.8zM397.1 71.0h.8v.8h-.8zM398.1 62.1h.8v.8h-.8zM402.9 67.0h.8v.8h-.8zM399.0 63.5h.8v.8h-.8zM393.4 72.9h.8v.8h-.8zM396.8 70.6h.8v.8h-.8zM407.3 69.2h.8v.8h-.8zM399.3 68.3h.8v.8h-.8zM403.4 70.2h.8v.8h-.8zM401.4 74.1h.8v.8h-.8zM401.7 73.0h.8v.8h-.8zM394.9 68.3h.8v.8h-.8zM402.6 66.6h.8v.8h-.8zM391.9 68.9h.8v.8h-.8zM396.7 70.3h.8v.8h-.8zM407.3 67.7h.8v.8h-.8zM393.7 68.2h.8v.8h-.8zM396.2 67.5h.8v.8h-.8zM404.9 70.9h.8v.8h-.8zM401.1 68.4h.8v.8h-.8zM404.1 68.8h.8v.8h-.8zM407.9 69.1h.8v.8h-.8zM398.8 71.3h.8v.8h-.8zM401.5 65.3h.8v.8h-.8zM390.9 67.7h.8v.8h-.8zM403.5 63.9h.8v.8h-.8zM397.1 74.8h.8v.8h-.8zM405.6 68.0h.8v.8h-.8zM402.5 69.3h.8v.8h-.8zM396.2 66.5h.8v.8h-.8zM405.5 67.0h.8v.8h-.8zM398.4 67.5h.8v.8h-.8zM391.5 68.4h.8v.8h-.8zM408.6 65.9h.8v.8h-.8zM398.8 72.8h.8v.8h-.8zM401.5 69.0h.8v.8h-.8zM402.2 70.0h.8v.8h-.8zM398.8 66.5h.8v.8h-.8zM396.8 63.6h.8v.8h-.8zM399.8 68.4h.8v.8h-.8zM395.9 64.1h.8v.8h-.8zM396.4 63.3h.8v.8h-.8zM402.1 65.3h.8v.8h-.8zM465.3 68.2h.8v.8h-.8zM456.2 72.5h.8v.8h-.8zM463.7 72.8h.8v.8h-.8zM469.2 74.7h.8v.8h-.8zM455.2 69.9h.8v.8h-.8zM463.0 67.0h.8v.8h-.8zM465.6 68.3h.8v.8h-.8zM472.3 66.8h.8v.8h-.8zM464.7 73.3h.8v.8h-.8zM461.2 72.0h.8v.8h-.8zM469.7 68.1h.8v.8h-.8zM463.2 68.7h.8v.8h-.8zM469.8 70.4h.8v.8h-.8zM454.2 72.6h.8v.8h-.8zM455.0 66.4h.8v.8h-.8zM454.2 66.0h.8v.8h-.8zM464.0 69.8h.8v.8h-.8zM464.6 64.7h.8v.8h-.8zM465.7 71.2h.8v.8h-.8zM454.0 70.4h.8v.8h-.8zM461.9 66.3h.8v.8h-.8zM460.3 67.9h.8v.8h-.8zM462.0 70.4h.8v.8h-.8zM464.1 68.6h.8v.8h-.8zM462.4 69.0h.8v.8h-.8zM469.8 73.3h.8v.8h-.8zM468.4 66.4h.8v.8h-.8zM472.1 68.1h.8v.8h-.8zM457.9 68.2h.8v.8h-.8zM466.8 69.3h.8v.8h-.8zM464.5 66.2h.8v.8h-.8zM468.3 68.7h.8v.8h-.8zM463.8 71.3h.8v.8h-.8zM470.2 67.6h.8v.8h-.8zM464.4 70.3h.8v.8h-.8zM463.7 68.9h.8v.8h-.8zM466.4 67.8h.8v.8h-.8zM465.3 63.0h.8v.8h-.8zM462.9 73.2h.8v.8h-.8zM462.4 66.0h.8v.8h-.8zM455.7 72.6h.8v.8h-.8zM464.2 73.2h.8v.8h-.8zM471.0 69.4h.8v.8h-.8zM469.4 68.6h.8v.8h-.8zM464.1 66.5h.8v.8h-.8zM460.9 71.4h.8v.8h-.8zM467.7 67.3h.8v.8h-.8zM470.5 70.3h.8v.8h-.8zM458.6 67.1h.8v.8h-.8zM460.4 69.7h.8v.8h-.8zM463.7 66.9h.8v.8h-.8zM464.3 71.1h.8v.8h-.8zM467.7 70.0h.8v.8h-.8zM462.2 66.4h.8v.8h-.8zM461.0 69.8h.8v.8h-.8zM464.1 73.9h.8v.8h-.8zM467.0 68.6h.8v.8h-.8zM454.3 67.4h.8v.8h-.8zM468.2 74.1h.8v.8h-.8zM467.2 70.6h.8v.8h-.8zM464.8 69.3h.8v.8h-.8zM464.7 66.3h.8v.8h-.8zM459.2 73.0h.8v.8h-.8zM464.4 75.3h.8v.8h-.8zM468.6 66.6h.8v.8h-.8zM473.4 66.9h.8v.8h-.8zM468.5 68.4h.8v.8h-.8zM460.9 70.5h.8v.8h-.8zM458.5 70.5h.8v.8h-.8zM467.3 67.1h.8v.8h-.8zM460.7 68.3h.8v.8h-.8zM463.0 69.5h.8v.8h-.8zM457.8 68.1h.8v.8h-.8zM456.1 65.8h.8v.8h-.8zM460.5 68.9h.8v.8h-.8zM469.3 68.2h.8v.8h-.8zM466.5 72.7h.8v.8h-.8zM463.3 66.9h.8v.8h-.8zM464.7 70.5h.8v.8h-.8zM460.0 68.2h.8v.8h-.8zM465.3 67.4h.8v.8h-.8zM462.3 68.1h.8v.8h-.8zM465.3 70.6h.8v.8h-.8zM459.5 65.2h.8v.8h-.8zM455.9 71.5h.8v.8h-.8zM467.7 63.3h.8v.8h-.8zM461.1 66.5h.8v.8h-.8zM456.8 72.0h.8v.8h-.8zM463.5 71.4h.8v.8h-.8zM476.2 69.1h.8v.8h-.8zM459.1 64.4h.8v.8h-.8zM472.6 71.0h.8v.8h-.8zM461.0 67.8h.8v.8h-.8zM463.2 73.8h.8v.8h-.8zM471.6 66.5h.8v.8h-.8zM470.9 70.3h.8v.8h-.8zM462.7 71.1h.8v.8h-.8zM470.7 70.6h.8v.8h-.8zM464.0 72.0h.8v.8h-.8zM453.8 69.2h.8v.8h-.8zM463.4 73.2h.8v.8h-.8zM459.4 65.1h.8v.8h-.8zM466.6 67.4h.8v.8h-.8zM465.8 68.3h.8v.8h-.8zM456.6 70.5h.8v.8h-.8zM468.2 67.5h.8v.8h-.8zM461.1 64.9h.8v.8h-.8zM472.5 70.7h.8v.8h-.8zM465.9 67.7h.8v.8h-.8zM462.2 72.2h.8v.8h-.8zM466.5 72.0h.8v.8h-.8zM465.7 69.9h.8v.8h-.8zM467.1 76.3h.8v.8h-.8zM467.3 68.0h.8v.8h-.8zM459.4 66.1h.8v.8h-.8zM455.3 71.1h.8v.8h-.8zM467.9 70.5h.8v.8h-.8zM472.7 73.7h.8v.8h-.8zM466.1 66.0h.8v.8h-.8zM472.8 72.4h.8v.8h-.8zM466.4 63.1h.8v.8h-.8zM471.4 67.6h.8v.8h-.8zM455.5 69.5h.8v.8h-.8zM470.7 73.7h.8v.8h-.8zM462.6 72.3h.8v.8h-.8zM464.9 68.9h.8v.8h-.8zM459.7 74.0h.8v.8h-.8zM455.7 73.1h.8v.8h-.8zM463.8 67.0h.8v.8h-.8zM459.8 69.3h.8v.8h-.8zM460.3 65.0h.8v.8h-.8zM462.5 69.2h.8v.8h-.8zM466.5 67.7h.8v.8h-.8zM458.3 64.9h.8v.8h-.8zM463.0 69.5h.8v.8h-.8zM462.3 68.8h.8v.8h-.8zM466.1 71.1h.8v.8h-.8zM467.6 72.8h.8v.8h-.8zM464.5 65.9h.8v.8h-.8zM466.4 68.8h.8v.8h-.8zM462.4 71.6h.8v.8h-.8zM457.3 68.1h.8v.8h-.8zM463.6 72.4h.8v.8h-.8zM461.1 71.1h.8v.8h-.8zM472.3 71.0h.8v.8h-.8zM469.7 69.8h.8v.8h-.8zM465.3 72.4h.8v.8h-.8zM462.0 63.9h.8v.8h-.8zM469.3 66.0h.8v.8h-.8zM464.4 69.6h.8v.8h-.8zM470.7 74.4h.8v.8h-.8zM460.9 71.3h.8v.8h-.8zM461.8 71.4h.8v.8h-.8zM465.9 71.6h.8v.8h-.8zM459.1 69.8h.8v.8h-.8zM466.8 69.8h.8v.8h-.8zM470.0 69.8h.8v.8h-.8zM458.3 64.1h.8v.8h-.8zM459.0 71.7h.8v.8h-.8zM465.9 65.5h.8v.8h-.8zM461.7 68.8h.8v.8h-.8zM461.2 64.7h.8v.8h-.8zM462.1 73.5h.8v.8h-.8zM465.1 70.6h.8v.8h-.8zM461.4 72.6h.8v.8h-.8zM461.6 70.7h.8v.8h-.8zM472.1 68.1h.8v.8h-.8zM464.1 70.4h.8v.8h-.8zM462.1 62.4h.8v.8h-.8zM463.1 64.6h.8v.8h-.8zM472.0 68.2h.8v.8h-.8zM468.5 71.6h.8v.8h-.8zM459.3 71.7h.8v.8h-.8zM468.4 72.8h.8v.8h-.8zM463.4 66.8h.8v.8h-.8zM461.2 67.2h.8v.8h-.8zM461.9 66.1h.8v.8h-.8zM469.9 68.3h.8v.8h-.8zM466.3 69.5h.8v.8h-.8zM463.7 67.9h.8v.8h-.8zM465.0 65.6h.8v.8h-.8zM461.6 71.8h.8v.8h-.8zM468.0 66.0h.8v.8h-.8zM459.6 70.9h.8v.8h-.8zM459.7 67.6h.8v.8h-.8zM463.2 66.1h.8v.8h-.8zM464.0 70.7h.8v.8h-.8zM461.5 69.8h.8v.8h-.8zM465.5 71.0h.8v.8h-.8zM457.7 74.5h.8v.8h-.8zM460.5 69.0h.8v.8h-.8zM459.0 69.8h.8v.8h-.8zM473.1 71.0h.8v.8h-.8zM462.0 67.5h.8v.8h-.8zM466.9 69.0h.8v.8h-.8zM465.9 70.7h.8v.8h-.8zM466.0 70.6h.8v.8h-.8zM466.8 68.2h.8v.8h-.8zM461.7 69.3h.8v.8h-.8zM463.7 70.5h.8v.8h-.8zM461.7 71.1h.8v.8h-.8zM466.5 72.4h.8v.8h-.8zM471.2 71.0h.8v.8h-.8zM459.6 71.3h.8v.8h-.8zM462.2 64.7h.8v.8h-.8zM457.6 72.9h.8v.8h-.8zM461.3 68.1h.8v.8h-.8zM465.6 71.1h.8v.8h-.8zM468.3 63.5h.8v.8h-.8zM468.0 72.7h.8v.8h-.8zM466.1 69.7h.8v.8h-.8zM461.8 65.6h.8v.8h-.8zM459.7 70.6h.8v.8h-.8zM459.8 70.1h.8v.8h-.8zM462.0 76.3h.8v.8h-.8zM470.5 71.0h.8v.8h-.8zM466.6 71.8h.8v.8h-.8zM467.2 69.7h.8v.8h-.8zM463.5 68.7h.8v.8h-.8zM458.6 71.4h.8v.8h-.8zM462.4 68.6h.8v.8h-.8zM460.6 70.5h.8v.8h-.8zM467.8 63.3h.8v.8h-.8zM457.2 66.2h.8v.8h-.8zM462.3 62.8h.8v.8h-.8zM468.5 73.3h.8v.8h-.8zM460.8 65.0h.8v.8h-.8zM467.3 67.8h.8v.8h-.8zM469.2 71.9h.8v.8h-.8zM469.4 67.3h.8v.8h-.8zM466.9 65.2h.8v.8h-.8zM469.9 67.2h.8v.8h-.8zM464.3 70.7h.8v.8h-.8zM465.8 64.8h.8v.8h-.8zM466.8 67.6h.8v.8h-.8zM472.8 66.5h.8v.8h-.8zM463.9 68.8h.8v.8h-.8zM464.9 66.2h.8v.8h-.8zM467.4 71.3h.8v.8h-.8zM468.6 68.3h.8v.8h-.8zM454.0 70.7h.8v.8h-.8zM463.3 66.3h.8v.8h-.8zM461.3 72.6h.8v.8h-.8zM456.7 68.0h.8v.8h-.8zM462.5 67.6h.8v.8h-.8zM470.8 65.2h.8v.8h-.8zM461.7 69.2h.8v.8h-.8zM455.0 71.0h.8v.8h-.8zM463.9 71.9h.8v.8h-.8zM461.6 64.4h.8v.8h-.8zM467.0 66.5h.8v.8h-.8zM464.1 67.0h.8v.8h-.8zM471.8 70.7h.8v.8h-.8zM465.4 75.5h.8v.8h-.8zM462.4 71.7h.8v.8h-.8zM465.2 68.6h.8v.8h-.8zM468.9 68.7h.8v.8h-.8zM468.9 69.9h.8v.8h-.8zM467.2 70.9h.8v.8h-.8zM458.1 69.2h.8v.8h-.8zM466.0 70.4h.8v.8h-.8zM464.5 69.2h.8v.8h-.8zM466.6 67.9h.8v.8h-.8zM471.4 69.6h.8v.8h-.8zM463.2 70.5h.8v.8h-.8zM461.4 69.6h.8v.8h-.8zM469.7 70.9h.8v.8h-.8zM464.8 72.0h.8v.8h-.8zM459.4 66.7h.8v.8h-.8zM462.7 72.5h.8v.8h-.8zM463.5 75.2h.8v.8h-.8zM473.1 66.7h.8v.8h-.8zM457.7 71.8h.8v.8h-.8zM462.0 74.5h.8v.8h-.8zM467.4 68.6h.8v.8h-.8zM456.6 66.8h.8v.8h-.8zM469.7 64.6h.8v.8h-.8zM467.5 70.6h.8v.8h-.8zM457.6 73.8h.8v.8h-.8zM464.1 67.0h.8v.8h-.8zM470.2 73.4h.8v.8h-.8zM465.3 68.7h.8v.8h-.8zM463.3 70.5h.8v.8h-.8zM463.7 69.4h.8v.8h-.8zM462.2 70.4h.8v.8h-.8zM471.1 75.0h.8v.8h-.8zM463.8 66.4h.8v.8h-.8zM461.0 71.3h.8v.8h-.8zM463.5 73.2h.8v.8h-.8zM469.0 72.3h.8v.8h-.8zM461.3 69.3h.8v.8h-.8zM468.5 68.5h.8v.8h-.8zM459.0 65.6h.8v.8h-.8zM464.0 65.1h.8v.8h-.8zM459.4 70.0h.8v.8h-.8zM464.4 68.1h.8v.8h-.8zM455.7 66.9h.8v.8h-.8zM459.0 70.2h.8v.8h-.8zM461.3 64.2h.8v.8h-.8zM461.4 72.9h.8v.8h-.8zM467.3 65.3h.8v.8h-.8zM460.5 72.9h.8v.8h-.8zM471.6 70.7h.8v.8h-.8zM454.2 66.9h.8v.8h-.8zM464.6 69.8h.8v.8h-.8zM462.0 72.1h.8v.8h-.8zM462.8 66.8h.8v.8h-.8zM465.8 63.2h.8v.8h-.8zM468.1 70.2h.8v.8h-.8zM472.3 71.9h.8v.8h-.8zM468.3 68.5h.8v.8h-.8zM465.0 66.8h.8v.8h-.8zM453.7 70.9h.8v.8h-.8zM468.5 66.6h.8v.8h-.8zM462.8 68.6h.8v.8h-.8zM457.3 72.6h.8v.8h-.8zM467.7 69.7h.8v.8h-.8zM463.6 69.0h.8v.8h-.8zM468.1 73.9h.8v.8h-.8zM466.8 72.5h.8v.8h-.8zM470.1 67.7h.8v.8h-.8zM463.8 68.1h.8v.8h-.8zM458.4 68.5h.8v.8h-.8zM458.8 69.6h.8v.8h-.8zM470.8 70.9h.8v.8h-.8zM460.0 73.1h.8v.8h-.8zM464.1 76.0h.8v.8h-.8zM455.3 70.6h.8v.8h-.8zM460.5 68.9h.8v.8h-.8zM460.8 70.2h.8v.8h-.8zM459.8 68.6h.8v.8h-.8zM470.4 68.5h.8v.8h-.8zM456.0 66.9h.8v.8h-.8zM461.0 66.8h.8v.8h-.8zM455.5 69.1h.8v.8h-.8zM469.2 70.5h.8v.8h-.8zM470.1 71.2h.8v.8h-.8zM469.8 69.8h.8v.8h-.8zM467.6 71.3h.8v.8h-.8zM468.1 68.8h.8v.8h-.8zM458.2 73.2h.8v.8h-.8zM465.5 71.3h.8v.8h-.8zM458.5 71.3h.8v.8h-.8zM465.5 71.5h.8v.8h-.8zM468.2 70.1h.8v.8h-.8zM459.3 71.8h.8v.8h-.8zM462.8 72.8h.8v.8h-.8zM465.4 66.7h.8v.8h-.8zM462.8 64.1h.8v.8h-.8zM471.8 66.9h.8v.8h-.8zM459.9 65.8h.8v.8h-.8zM456.7 73.7h.8v.8h-.8zM466.3 71.9h.8v.8h-.8zM468.7 71.8h.8v.8h-.8zM470.4 66.6h.8v.8h-.8zM474.8 69.8h.8v.8h-.8zM467.6 69.9h.8v.8h-.8zM463.4 69.3h.8v.8h-.8zM466.5 64.6h.8v.8h-.8zM471.5 68.2h.8v.8h-.8zM461.2 70.2h.8v.8h-.8zM461.6 73.2h.8v.8h-.8zM466.1 67.5h.8v.8h-.8zM457.4 68.5h.8v.8h-.8zM465.4 74.0h.8v.8h-.8zM463.6 72.0h.8v.8h-.8zM468.7 69.9h.8v.8h-.8zM460.0 66.8h.8v.8h-.8zM465.5 72.8h.8v.8h-.8zM458.3 69.9h.8v.8h-.8zM461.7 69.8h.8v.8h-.8zM463.1 66.6h.8v.8h-.8zM466.1 66.6h.8v.8h-.8zM467.0 67.5h.8v.8h-.8zM461.7 74.5h.8v.8h-.8zM464.1 69.1h.8v.8h-.8zM460.4 67.6h.8v.8h-.8zM472.7 71.6h.8v.8h-.8zM460.6 62.3h.8v.8h-.8zM467.7 71.4h.8v.8h-.8zM460.4 67.9h.8v.8h-.8zM467.9 71.3h.8v.8h-.8zM459.2 70.7h.8v.8h-.8zM459.6 70.4h.8v.8h-.8zM456.9 69.2h.8v.8h-.8zM464.6 72.7h.8v.8h-.8zM469.3 64.7h.8v.8h-.8zM467.0 62.3h.8v.8h-.8zM455.0 69.7h.8v.8h-.8zM465.7 66.4h.8v.8h-.8zM465.1 65.6h.8v.8h-.8zM461.8 68.5h.8v.8h-.8zM464.1 66.4h.8v.8h-.8zM459.0 70.8h.8v.8h-.8zM469.5 65.8h.8v.8h-.8zM462.9 72.9h.8v.8h-.8zM461.2 67.2h.8v.8h-.8zM468.1 67.7h.8v.8h-.8zM465.7 72.4h.8v.8h-.8zM474.7 65.7h.8v.8h-.8zM457.2 70.8h.8v.8h-.8zM462.6 68.6h.8v.8h-.8zM473.3 66.0h.8v.8h-.8zM467.5 68.1h.8v.8h-.8zM455.6 67.6h.8v.8h-.8zM470.7 64.5h.8v.8h-.8zM471.7 70.7h.8v.8h-.8zM463.0 70.6h.8v.8h-.8zM462.5 69.2h.8v.8h-.8zM462.7 72.3h.8v.8h-.8zM460.9 70.8h.8v.8h-.8zM458.6 69.5h.8v.8h-.8zM466.6 71.0h.8v.8h-.8zM464.0 69.7h.8v.8h-.8zM453.8 68.2h.8v.8h-.8zM464.7 75.6h.8v.8h-.8zM460.8 71.7h.8v.8h-.8zM465.5 65.9h.8v.8h-.8zM453.3 69.3h.8v.8h-.8zM469.4 70.6h.8v.8h-.8zM462.6 72.6h.8v.8h-.8zM457.2 67.7h.8v.8h-.8zM461.3 76.0h.8v.8h-.8zM472.8 67.6h.8v.8h-.8zM457.5 65.8h.8v.8h-.8zM471.1 70.6h.8v.8h-.8zM460.3 70.1h.8v.8h-.8zM462.5 66.5h.8v.8h-.8zM466.4 68.3h.8v.8h-.8zM464.0 72.7h.8v.8h-.8zM466.1 70.4h.8v.8h-.8zM462.8 67.0h.8v.8h-.8zM469.7 72.8h.8v.8h-.8zM468.8 65.9h.8v.8h-.8zM461.6 67.4h.8v.8h-.8zM471.9 66.3h.8v.8h-.8zM466.7 65.6h.8v.8h-.8zM465.2 72.7h.8v.8h-.8zM459.3 72.1h.8v.8h-.8zM466.6 70.8h.8v.8h-.8zM461.9 68.7h.8v.8h-.8zM467.8 72.5h.8v.8h-.8zM455.7 71.1h.8v.8h-.8zM470.8 68.8h.8v.8h-.8zM461.3 66.6h.8v.8h-.8zM460.7 67.3h.8v.8h-.8zM468.6 66.5h.8v.8h-.8zM464.7 72.4h.8v.8h-.8zM465.2 68.6h.8v.8h-.8zM472.8 69.0h.8v.8h-.8zM460.4 69.1h.8v.8h-.8zM464.5 72.1h.8v.8h-.8zM463.4 64.9h.8v.8h-.8zM459.6 69.2h.8v.8h-.8zM462.1 70.0h.8v.8h-.8zM459.0 72.5h.8v.8h-.8zM469.9 69.6h.8v.8h-.8zM462.8 72.9h.8v.8h-.8zM464.0 73.4h.8v.8h-.8zM474.8 70.9h.8v.8h-.8zM473.4 66.2h.8v.8h-.8zM463.6 67.6h.8v.8h-.8zM459.9 66.3h.8v.8h-.8zM466.1 65.9h.8v.8h-.8zM465.5 66.6h.8v.8h-.8zM467.4 69.5h.8v.8h-.8zM468.9 69.1h.8v.8h-.8zM466.5 70.6h.8v.8h-.8zM473.2 67.6h.8v.8h-.8zM463.0 69.6h.8v.8h-.8zM464.6 69.0h.8v.8h-.8zM464.5 65.9h.8v.8h-.8zM463.9 69.6h.8v.8h-.8zM459.1 63.8h.8v.8h-.8zM454.8 71.2h.8v.8h-.8zM466.3 71.7h.8v.8h-.8zM461.6 70.1h.8v.8h-.8zM470.5 69.0h.8v.8h-.8zM471.6 69.2h.8v.8h-.8zM467.3 71.5h.8v.8h-.8zM466.4 66.6h.8v.8h-.8zM463.4 75.3h.8v.8h-.8zM466.3 69.4h.8v.8h-.8zM471.4 69.0h.8v.8h-.8zM456.1 67.3h.8v.8h-.8zM461.6 75.2h.8v.8h-.8zM462.6 75.3h.8v.8h-.8zM453.8 69.3h.8v.8h-.8zM473.2 67.9h.8v.8h-.8zM467.9 71.9h.8v.8h-.8zM469.1 67.4h.8v.8h-.8zM465.9 72.6h.8v.8h-.8zM465.8 70.1h.8v.8h-.8zM463.9 69.0h.8v.8h-.8zM460.9 70.7h.8v.8h-.8zM465.9 66.4h.8v.8h-.8zM457.9 70.8h.8v.8h-.8zM467.3 72.3h.8v.8h-.8zM466.2 72.1h.8v.8h-.8zM468.8 62.3h.8v.8h-.8zM473.1 67.6h.8v.8h-.8zM469.6 70.0h.8v.8h-.8zM461.3 71.4h.8v.8h-.8zM457.2 70.3h.8v.8h-.8zM471.2 69.3h.8v.8h-.8zM472.3 71.0h.8v.8h-.8zM471.3 67.3h.8v.8h-.8zM468.1 67.9h.8v.8h-.8zM460.1 66.9h.8v.8h-.8zM459.3 68.8h.8v.8h-.8zM469.0 69.5h.8v.8h-.8zM474.8 70.4h.8v.8h-.8zM464.9 68.2h.8v.8h-.8zM458.0 64.3h.8v.8h-.8zM459.5 65.9h.8v.8h-.8zM459.6 69.5h.8v.8h-.8zM463.4 70.3h.8v.8h-.8zM463.3 71.2h.8v.8h-.8zM460.2 70.5h.8v.8h-.8zM465.2 72.3h.8v.8h-.8zM466.6 66.5h.8v.8h-.8zM470.6 70.4h.8v.8h-.8zM459.6 73.8h.8v.8h-.8zM462.3 71.6h.8v.8h-.8zM457.5 68.9h.8v.8h-.8zM465.8 70.0h.8v.8h-.8zM464.8 66.9h.8v.8h-.8zM472.9 67.0h.8v.8h-.8zM462.5 68.9h.8v.8h-.8zM464.4 69.8h.8v.8h-.8zM458.9 67.2h.8v.8h-.8zM463.8 66.3h.8v.8h-.8zM472.9 65.6h.8v.8h-.8zM462.3 65.8h.8v.8h-.8zM469.8 67.6h.8v.8h-.8zM475.0 69.3h.8v.8h-.8zM468.5 70.8h.8v.8h-.8zM457.9 73.7h.8v.8h-.8zM459.4 66.9h.8v.8h-.8zM474.9 68.8h.8v.8h-.8zM461.2 66.6h.8v.8h-.8zM465.9 75.5h.8v.8h-.8zM461.4 62.7h.8v.8h-.8zM468.2 70.4h.8v.8h-.8zM472.6 67.4h.8v.8h-.8zM466.5 71.8h.8v.8h-.8zM465.8 73.5h.8v.8h-.8zM462.1 65.3h.8v.8h-.8zM463.0 69.9h.8v.8h-.8zM458.9 75.4h.8v.8h-.8zM463.9 65.0h.8v.8h-.8zM460.2 67.6h.8v.8h-.8zM467.9 69.5h.8v.8h-.8zM464.2 69.7h.8v.8h-.8zM461.9 71.4h.8v.8h-.8zM460.1 70.9h.8v.8h-.8zM465.6 65.5h.8v.8h-.8zM469.7 66.8h.8v.8h-.8zM462.1 72.2h.8v.8h-.8zM463.3 67.6h.8v.8h-.8zM463.5 64.5h.8v.8h-.8zM464.9 68.8h.8v.8h-.8zM459.9 68.1h.8v.8h-.8zM466.6 72.0h.8v.8h-.8zM471.9 70.5h.8v.8h-.8zM468.5 70.9h.8v.8h-.8zM465.1 73.1h.8v.8h-.8zM468.6 69.5h.8v.8h-.8zM463.7 69.5h.8v.8h-.8zM469.8 66.2h.8v.8h-.8zM469.8 69.9h.8v.8h-.8zM468.3 71.5h.8v.8h-.8zM465.0 67.1h.8v.8h-.8zM467.3 66.1h.8v.8h-.8zM468.2 73.6h.8v.8h-.8zM469.6 67.4h.8v.8h-.8zM465.6 74.5h.8v.8h-.8zM463.2 69.4h.8v.8h-.8zM466.8 68.2h.8v.8h-.8zM464.4 67.3h.8v.8h-.8zM458.7 70.3h.8v.8h-.8zM463.6 73.2h.8v.8h-.8zM468.9 69.0h.8v.8h-.8zM455.4 64.4h.8v.8h-.8zM470.7 74.3h.8v.8h-.8zM470.7 67.1h.8v.8h-.8zM468.3 69.9h.8v.8h-.8zM465.3 72.9h.8v.8h-.8zM467.8 76.1h.8v.8h-.8zM466.5 69.0h.8v.8h-.8zM466.7 66.2h.8v.8h-.8zM459.1 68.8h.8v.8h-.8zM460.7 72.0h.8v.8h-.8zM460.8 67.8h.8v.8h-.8zM465.1 72.2h.8v.8h-.8zM467.2 73.2h.8v.8h-.8zM456.7 67.6h.8v.8h-.8zM460.1 65.9h.8v.8h-.8zM465.2 72.4h.8v.8h-.8zM471.6 72.6h.8v.8h-.8zM470.9 66.9h.8v.8h-.8zM460.1 69.1h.8v.8h-.8zM456.2 67.8h.8v.8h-.8zM457.8 69.3h.8v.8h-.8zM467.6 70.2h.8v.8h-.8zM454.8 67.2h.8v.8h-.8zM463.3 72.8h.8v.8h-.8zM463.4 70.5h.8v.8h-.8zM462.6 73.7h.8v.8h-.8zM460.7 71.7h.8v.8h-.8zM457.8 68.5h.8v.8h-.8zM458.8 66.0h.8v.8h-.8zM470.0 66.4h.8v.8h-.8zM454.5 66.5h.8v.8h-.8zM458.7 70.5h.8v.8h-.8zM470.7 71.4h.8v.8h-.8zM454.6 65.6h.8v.8h-.8zM467.9 70.2h.8v.8h-.8zM465.0 63.8h.8v.8h-.8zM462.8 67.2h.8v.8h-.8zM470.1 67.4h.8v.8h-.8zM469.7 64.4h.8v.8h-.8zM461.4 66.0h.8v.8h-.8zM463.1 67.9h.8v.8h-.8zM464.5 62.0h.8v.8h-.8zM459.0 66.3h.8v.8h-.8zM464.2 64.6h.8v.8h-.8zM470.6 73.7h.8v.8h-.8zM465.4 67.0h.8v.8h-.8zM462.3 68.7h.8v.8h-.8zM464.6 72.2h.8v.8h-.8zM455.8 69.4h.8v.8h-.8zM472.4 67.4h.8v.8h-.8zM462.7 71.7h.8v.8h-.8zM469.7 71.4h.8v.8h-.8zM459.8 71.9h.8v.8h-.8zM458.1 71.4h.8v.8h-.8zM464.8 66.0h.8v.8h-.8zM457.0 69.4h.8v.8h-.8zM466.8 73.3h.8v.8h-.8zM467.8 70.9h.8v.8h-.8zM459.0 70.5h.8v.8h-.8zM456.8 73.3h.8v.8h-.8zM463.2 74.8h.8v.8h-.8zM464.0 67.1h.8v.8h-.8zM462.9 74.0h.8v.8h-.8zM458.3 67.4h.8v.8h-.8zM466.4 67.8h.8v.8h-.8zM462.0 73.2h.8v.8h-.8zM464.0 70.8h.8v.8h-.8zM467.8 64.4h.8v.8h-.8zM463.9 70.5h.8v.8h-.8zM465.0 66.7h.8v.8h-.8zM464.8 66.9h.8v.8h-.8zM467.2 69.1h.8v.8h-.8zM462.7 71.1h.8v.8h-.8zM458.3 65.4h.8v.8h-.8zM468.9 72.0h.8v.8h-.8zM469.1 67.9h.8v.8h-.8zM463.1 64.4h.8v.8h-.8zM461.5 75.5h.8v.8h-.8zM466.3 65.9h.8v.8h-.8zM465.1 70.7h.8v.8h-.8zM468.6 66.1h.8v.8h-.8zM459.4 68.8h.8v.8h-.8zM467.7 69.3h.8v.8h-.8zM474.2 71.8h.8v.8h-.8zM469.3 68.0h.8v.8h-.8zM459.7 66.3h.8v.8h-.8zM472.4 74.6h.8v.8h-.8zM461.0 67.3h.8v.8h-.8zM464.8 68.4h.8v.8h-.8zM468.4 63.3h.8v.8h-.8zM467.9 70.5h.8v.8h-.8zM476.4 68.4h.8v.8h-.8zM469.0 70.8h.8v.8h-.8zM465.4 68.4h.8v.8h-.8zM463.1 70.7h.8v.8h-.8zM455.1 69.5h.8v.8h-.8zM469.3 70.5h.8v.8h-.8zM464.5 71.0h.8v.8h-.8zM463.2 76.4h.8v.8h-.8zM467.3 70.8h.8v.8h-.8zM462.4 72.3h.8v.8h-.8zM465.7 65.5h.8v.8h-.8zM466.1 65.8h.8v.8h-.8zM466.6 66.6h.8v.8h-.8zM460.6 67.4h.8v.8h-.8zM461.8 70.2h.8v.8h-.8zM467.4 67.0h.8v.8h-.8zM471.3 67.6h.8v.8h-.8zM472.8 73.3h.8v.8h-.8zM468.3 65.8h.8v.8h-.8zM463.4 75.2h.8v.8h-.8zM462.0 75.8h.8v.8h-.8zM465.9 68.3h.8v.8h-.8zM465.7 67.1h.8v.8h-.8zM455.1 72.4h.8v.8h-.8zM467.3 69.4h.8v.8h-.8zM463.2 66.2h.8v.8h-.8zM461.4 66.6h.8v.8h-.8zM457.1 69.2h.8v.8h-.8zM464.3 67.7h.8v.8h-.8zM466.6 68.9h.8v.8h-.8zM461.2 68.9h.8v.8h-.8zM468.4 69.1h.8v.8h-.8zM468.7 67.4h.8v.8h-.8zM466.3 68.6h.8v.8h-.8zM457.9 68.5h.8v.8h-.8zM460.9 70.5h.8v.8h-.8zM465.5 68.0h.8v.8h-.8zM469.9 63.7h.8v.8h-.8zM467.7 65.2h.8v.8h-.8zM459.7 71.1h.8v.8h-.8zM464.6 71.6h.8v.8h-.8zM462.9 69.0h.8v.8h-.8zM471.9 69.2h.8v.8h-.8zM472.1 68.1h.8v.8h-.8zM466.6 70.0h.8v.8h-.8zM470.7 70.8h.8v.8h-.8zM464.5 65.8h.8v.8h-.8zM475.8 71.5h.8v.8h-.8zM465.1 67.3h.8v.8h-.8zM471.8 63.8h.8v.8h-.8zM462.6 73.0h.8v.8h-.8zM469.1 69.3h.8v.8h-.8zM468.0 76.2h.8v.8h-.8zM464.1 66.9h.8v.8h-.8zM464.4 67.6h.8v.8h-.8zM469.2 70.5h.8v.8h-.8zM469.7 62.9h.8v.8h-.8zM463.2 71.6h.8v.8h-.8zM459.9 70.3h.8v.8h-.8zM462.5 65.9h.8v.8h-.8zM464.7 71.7h.8v.8h-.8zM462.6 68.8h.8v.8h-.8zM466.0 71.0h.8v.8h-.8zM465.0 70.1h.8v.8h-.8zM457.6 68.5h.8v.8h-.8zM461.3 76.3h.8v.8h-.8zM462.6 72.6h.8v.8h-.8zM460.1 65.7h.8v.8h-.8zM465.9 68.8h.8v.8h-.8zM466.1 69.8h.8v.8h-.8zM468.3 71.0h.8v.8h-.8zM456.3 67.7h.8v.8h-.8zM468.7 66.0h.8v.8h-.8zM459.2 68.5h.8v.8h-.8zM465.3 71.3h.8v.8h-.8zM462.9 70.4h.8v.8h-.8zM461.8 67.5h.8v.8h-.8zM468.9 68.6h.8v.8h-.8zM464.7 66.8h.8v.8h-.8zM465.3 72.5h.8v.8h-.8zM465.1 69.8h.8v.8h-.8zM473.0 72.3h.8v.8h-.8zM475.2 72.3h.8v.8h-.8zM469.1 75.4h.8v.8h-.8zM458.3 74.8h.8v.8h-.8zM459.9 70.0h.8v.8h-.8zM469.5 69.4h.8v.8h-.8zM453.4 71.2h.8v.8h-.8zM454.9 68.5h.8v.8h-.8zM457.8 70.6h.8v.8h-.8zM462.5 68.2h.8v.8h-.8zM457.8 66.6h.8v.8h-.8zM461.7 70.2h.8v.8h-.8zM467.2 72.0h.8v.8h-.8zM469.9 68.2h.8v.8h-.8zM464.9 72.8h.8v.8h-.8zM464.1 63.2h.8v.8h-.8zM468.5 71.6h.8v.8h-.8zM468.6 70.1h.8v.8h-.8zM461.4 69.7h.8v.8h-.8zM470.6 73.2h.8v.8h-.8zM466.4 74.3h.8v.8h-.8zM466.4 70.6h.8v.8h-.8zM467.7 74.5h.8v.8h-.8zM467.4 70.3h.8v.8h-.8zM460.4 67.0h.8v.8h-.8zM467.6 67.5h.8v.8h-.8zM472.0 70.6h.8v.8h-.8zM459.4 71.3h.8v.8h-.8zM468.8 75.9h.8v.8h-.8zM465.2 66.9h.8v.8h-.8zM462.8 70.4h.8v.8h-.8zM467.1 68.9h.8v.8h-.8zM461.7 70.4h.8v.8h-.8zM457.7 69.7h.8v.8h-.8zM464.3 73.3h.8v.8h-.8zM462.7 67.2h.8v.8h-.8zM469.4 68.8h.8v.8h-.8zM464.4 69.4h.8v.8h-.8zM464.6 70.6h.8v.8h-.8zM473.8 72.7h.8v.8h-.8zM462.6 67.7h.8v.8h-.8zM460.9 71.2h.8v.8h-.8zM467.4 70.8h.8v.8h-.8zM475.8 70.0h.8v.8h-.8zM458.7 70.3h.8v.8h-.8zM467.7 65.7h.8v.8h-.8zM456.6 70.1h.8v.8h-.8zM460.1 68.7h.8v.8h-.8zM464.7 67.8h.8v.8h-.8zM461.9 68.3h.8v.8h-.8zM461.4 69.1h.8v.8h-.8zM459.9 68.8h.8v.8h-.8zM462.8 66.7h.8v.8h-.8zM469.9 71.8h.8v.8h-.8zM457.7 71.9h.8v.8h-.8zM463.9 68.8h.8v.8h-.8zM463.7 68.9h.8v.8h-.8zM470.0 67.0h.8v.8h-.8zM460.3 67.8h.8v.8h-.8zM468.6 70.0h.8v.8h-.8zM463.6 71.0h.8v.8h-.8zM468.3 68.8h.8v.8h-.8zM460.8 69.1h.8v.8h-.8zM465.8 68.0h.8v.8h-.8zM467.5 68.9h.8v.8h-.8zM464.2 72.5h.8v.8h-.8zM463.7 70.4h.8v.8h-.8zM464.9 68.2h.8v.8h-.8zM464.3 69.7h.8v.8h-.8zM469.1 70.1h.8v.8h-.8zM464.2 69.1h.8v.8h-.8zM460.1 70.1h.8v.8h-.8zM458.0 66.5h.8v.8h-.8zM470.5 70.2h.8v.8h-.8zM472.6 65.5h.8v.8h-.8zM462.5 64.1h.8v.8h-.8zM470.8 67.7h.8v.8h-.8zM468.0 73.4h.8v.8h-.8zM465.0 75.7h.8v.8h-.8zM467.1 75.2h.8v.8h-.8zM460.3 65.5h.8v.8h-.8zM465.8 72.6h.8v.8h-.8zM461.9 64.3h.8v.8h-.8zM469.8 69.0h.8v.8h-.8zM460.1 66.4h.8v.8h-.8zM460.5 70.3h.8v.8h-.8zM463.2 70.3h.8v.8h-.8zM468.1 68.4h.8v.8h-.8zM467.1 66.8h.8v.8h-.8zM463.8 70.0h.8v.8h-.8zM461.1 69.3h.8v.8h-.8zM458.6 73.1h.8v.8h-.8zM466.1 68.8h.8v.8h-.8zM462.2 62.8h.8v.8h-.8zM470.0 64.6h.8v.8h-.8zM465.5 65.6h.8v.8h-.8zM467.7 69.8h.8v.8h-.8zM466.0 66.3h.8v.8h-.8zM456.9 70.0h.8v.8h-.8zM461.3 70.6h.8v.8h-.8zM461.9 76.0h.8v.8h-.8zM456.5 70.6h.8v.8h-.8zM462.6 66.6h.8v.8h-.8zM459.7 71.3h.8v.8h-.8zM457.8 68.7h.8v.8h-.8zM465.8 72.4h.8v.8h-.8zM464.4 66.7h.8v.8h-.8zM456.7 71.4h.8v.8h-.8zM460.7 65.8h.8v.8h-.8zM470.7 71.9h.8v.8h-.8zM464.4 67.7h.8v.8h-.8zM469.1 75.1h.8v.8h-.8zM455.8 70.6h.8v.8h-.8zM474.3 71.8h.8v.8h-.8zM461.5 68.0h.8v.8h-.8zM462.3 65.7h.8v.8h-.8zM468.9 69.7h.8v.8h-.8zM470.3 63.9h.8v.8h-.8zM468.3 70.9h.8v.8h-.8zM465.3 67.5h.8v.8h-.8zM461.6 71.8h.8v.8h-.8zM459.6 69.1h.8v.8h-.8zM464.4 72.6h.8v.8h-.8zM457.6 70.6h.8v.8h-.8zM465.5 69.8h.8v.8h-.8zM465.5 64.9h.8v.8h-.8zM462.6 64.9h.8v.8h-.8zM467.0 69.8h.8v.8h-.8zM469.8 67.4h.8v.8h-.8zM459.5 73.3h.8v.8h-.8zM463.3 67.1h.8v.8h-.8zM464.7 65.5h.8v.8h-.8zM464.0 70.9h.8v.8h-.8zM467.6 72.4h.8v.8h-.8zM454.4 72.1h.8v.8h-.8zM461.0 72.7h.8v.8h-.8zM469.7 65.0h.8v.8h-.8zM458.7 63.9h.8v.8h-.8zM459.0 64.4h.8v.8h-.8zM462.9 67.3h.8v.8h-.8zM458.1 66.0h.8v.8h-.8zM462.6 66.2h.8v.8h-.8zM471.0 69.9h.8v.8h-.8zM468.5 63.3h.8v.8h-.8zM459.9 67.0h.8v.8h-.8zM465.1 71.2h.8v.8h-.8zM465.0 68.5h.8v.8h-.8zM460.7 70.2h.8v.8h-.8zM471.9 71.3h.8v.8h-.8zM464.2 68.2h.8v.8h-.8zM465.8 71.6h.8v.8h-.8zM466.8 71.9h.8v.8h-.8zM459.5 67.9h.8v.8h-.8zM460.9 67.7h.8v.8h-.8zM460.5 68.3h.8v.8h-.8zM459.1 69.3h.8v.8h-.8zM458.4 67.8h.8v.8h-.8zM460.5 67.2h.8v.8h-.8zM461.4 71.7h.8v.8h-.8zM462.9 69.0h.8v.8h-.8zM459.9 65.7h.8v.8h-.8zM466.9 75.7h.8v.8h-.8zM459.8 64.0h.8v.8h-.8zM464.3 73.0h.8v.8h-.8zM460.3 68.6h.8v.8h-.8zM472.6 69.8h.8v.8h-.8zM468.0 72.4h.8v.8h-.8zM462.7 65.6h.8v.8h-.8zM468.8 64.3h.8v.8h-.8zM468.1 69.6h.8v.8h-.8zM463.7 64.4h.8v.8h-.8zM462.9 69.1h.8v.8h-.8zM466.4 71.7h.8v.8h-.8zM456.5 68.7h.8v.8h-.8zM464.5 73.7h.8v.8h-.8zM461.5 66.9h.8v.8h-.8zM466.7 67.4h.8v.8h-.8zM465.0 67.0h.8v.8h-.8zM464.9 65.8h.8v.8h-.8zM460.1 74.4h.8v.8h-.8zM458.3 73.0h.8v.8h-.8zM462.7 69.2h.8v.8h-.8zM463.4 71.3h.8v.8h-.8zM465.1 69.6h.8v.8h-.8zM459.4 67.4h.8v.8h-.8zM462.7 66.5h.8v.8h-.8zM474.2 70.3h.8v.8h-.8zM464.4 63.3h.8v.8h-.8zM461.0 70.2h.8v.8h-.8zM466.4 68.7h.8v.8h-.8zM462.1 68.7h.8v.8h-.8zM460.8 76.1h.8v.8h-.8zM468.9 66.7h.8v.8h-.8zM469.8 71.0h.8v.8h-.8zM472.7 65.8h.8v.8h-.8zM468.1 70.1h.8v.8h-.8zM462.8 69.3h.8v.8h-.8zM459.9 72.0h.8v.8h-.8zM463.8 74.4h.8v.8h-.8zM468.2 68.5h.8v.8h-.8zM456.6 68.7h.8v.8h-.8zM467.6 72.4h.8v.8h-.8zM455.9 66.7h.8v.8h-.8zM455.5 66.1h.8v.8h-.8zM463.9 67.6h.8v.8h-.8zM464.8 65.6h.8v.8h-.8zM459.1 67.9h.8v.8h-.8zM460.0 67.6h.8v.8h-.8zM455.6 72.0h.8v.8h-.8zM465.9 72.0h.8v.8h-.8zM464.2 69.4h.8v.8h-.8zM469.2 71.1h.8v.8h-.8zM470.9 68.9h.8v.8h-.8zM464.5 70.1h.8v.8h-.8zM461.3 74.8h.8v.8h-.8zM462.7 68.3h.8v.8h-.8zM469.1 67.4h.8v.8h-.8zM474.7 70.6h.8v.8h-.8zM462.9 68.3h.8v.8h-.8zM460.2 71.1h.8v.8h-.8zM465.9 73.4h.8v.8h-.8zM469.0 65.6h.8v.8h-.8zM462.3 68.0h.8v.8h-.8zM471.3 63.2h.8v.8h-.8zM462.8 69.0h.8v.8h-.8zM470.8 66.7h.8v.8h-.8zM463.3 67.9h.8v.8h-.8zM466.1 68.4h.8v.8h-.8zM460.0 70.9h.8v.8h-.8zM466.8 71.5h.8v.8h-.8zM464.0 67.5h.8v.8h-.8zM463.0 67.4h.8v.8h-.8zM471.7 74.7h.8v.8h-.8zM464.5 69.5h.8v.8h-.8zM460.1 66.7h.8v.8h-.8zM462.9 73.0h.8v.8h-.8zM465.8 67.2h.8v.8h-.8zM461.3 67.5h.8v.8h-.8zM465.9 68.9h.8v.8h-.8zM467.3 73.9h.8v.8h-.8zM470.7 71.6h.8v.8h-.8zM460.5 72.9h.8v.8h-.8zM459.6 65.5h.8v.8h-.8zM467.3 68.4h.8v.8h-.8zM468.5 70.1h.8v.8h-.8zM469.1 70.1h.8v.8h-.8zM468.0 68.9h.8v.8h-.8zM463.5 69.8h.8v.8h-.8zM463.4 66.0h.8v.8h-.8zM453.0 67.9h.8v.8h-.8zM463.4 73.5h.8v.8h-.8zM464.9 76.4h.8v.8h-.8zM469.3 69.0h.8v.8h-.8zM467.3 68.4h.8v.8h-.8zM469.4 70.0h.8v.8h-.8zM463.2 71.1h.8v.8h-.8zM463.1 71.2h.8v.8h-.8zM460.2 73.3h.8v.8h-.8zM465.4 73.2h.8v.8h-.8zM467.9 66.2h.8v.8h-.8zM467.6 70.5h.8v.8h-.8zM467.4 71.0h.8v.8h-.8zM463.2 64.5h.8v.8h-.8zM463.0 69.5h.8v.8h-.8zM458.5 70.4h.8v.8h-.8zM459.2 68.1h.8v.8h-.8zM466.3 68.8h.8v.8h-.8zM454.1 72.5h.8v.8h-.8zM473.7 73.4h.8v.8h-.8zM459.4 68.0h.8v.8h-.8zM466.8 71.0h.8v.8h-.8zM468.7 70.3h.8v.8h-.8zM460.0 68.4h.8v.8h-.8zM463.8 68.6h.8v.8h-.8zM469.8 69.9h.8v.8h-.8zM462.5 72.2h.8v.8h-.8zM460.3 66.1h.8v.8h-.8zM466.4 69.6h.8v.8h-.8zM472.8 69.9h.8v.8h-.8zM473.4 67.1h.8v.8h-.8zM456.4 70.9h.8v.8h-.8zM462.8 68.6h.8v.8h-.8zM471.9 71.7h.8v.8h-.8zM457.3 68.7h.8v.8h-.8zM461.5 70.9h.8v.8h-.8zM465.7 72.8h.8v.8h-.8zM458.4 70.0h.8v.8h-.8zM456.4 70.0h.8v.8h-.8zM473.6 72.6h.8v.8h-.8zM466.2 72.2h.8v.8h-.8zM464.4 69.6h.8v.8h-.8zM464.7 69.3h.8v.8h-.8zM461.8 69.2h.8v.8h-.8zM460.4 66.1h.8v.8h-.8zM467.2 67.6h.8v.8h-.8zM462.7 73.9h.8v.8h-.8zM466.9 63.5h.8v.8h-.8zM472.9 66.2h.8v.8h-.8zM470.4 69.4h.8v.8h-.8zM459.0 63.2h.8v.8h-.8zM460.4 69.7h.8v.8h-.8zM467.5 70.2h.8v.8h-.8zM468.9 71.3h.8v.8h-.8zM470.6 73.7h.8v.8h-.8zM468.7 72.6h.8v.8h-.8zM463.2 71.7h.8v.8h-.8zM466.4 72.2h.8v.8h-.8zM465.8 65.5h.8v.8h-.8zM461.0 69.4h.8v.8h-.8zM460.6 74.6h.8v.8h-.8zM470.9 71.3h.8v.8h-.8zM466.2 65.5h.8v.8h-.8zM462.6 71.1h.8v.8h-.8zM461.8 65.0h.8v.8h-.8zM466.8 71.6h.8v.8h-.8zM465.1 68.3h.8v.8h-.8zM469.8 66.5h.8v.8h-.8zM467.8 76.1h.8v.8h-.8zM460.7 73.0h.8v.8h-.8zM461.8 69.5h.8v.8h-.8zM462.9 70.7h.8v.8h-.8zM461.9 62.0h.8v.8h-.8zM467.6 70.0h.8v.8h-.8zM458.4 70.7h.8v.8h-.8zM458.0 71.4h.8v.8h-.8zM467.1 69.1h.8v.8h-.8zM467.5 72.2h.8v.8h-.8zM459.3 65.1h.8v.8h-.8zM454.1 69.2h.8v.8h-.8zM475.1 68.7h.8v.8h-.8zM456.6 66.7h.8v.8h-.8zM464.9 68.7h.8v.8h-.8zM473.5 69.1h.8v.8h-.8zM460.2 65.2h.8v.8h-.8zM460.3 72.2h.8v.8h-.8zM461.7 71.1h.8v.8h-.8zM460.2 70.8h.8v.8h-.8zM466.5 66.1h.8v.8h-.8zM469.8 73.3h.8v.8h-.8zM461.6 62.6h.8v.8h-.8zM464.3 69.0h.8v.8h-.8zM473.1 74.4h.8v.8h-.8zM461.8 66.4h.8v.8h-.8zM466.1 68.3h.8v.8h-.8zM466.1 67.3h.8v.8h-.8zM473.9 70.2h.8v.8h-.8zM464.9 68.9h.8v.8h-.8zM469.1 66.4h.8v.8h-.8zM469.3 64.4h.8v.8h-.8zM453.7 68.3h.8v.8h-.8zM466.0 71.1h.8v.8h-.8zM457.0 73.4h.8v.8h-.8zM467.9 70.8h.8v.8h-.8zM468.4 70.9h.8v.8h-.8zM466.5 70.6h.8v.8h-.8zM467.7 67.2h.8v.8h-.8zM459.0 70.3h.8v.8h-.8zM455.8 64.4h.8v.8h-.8zM469.1 72.4h.8v.8h-.8zM466.2 64.2h.8v.8h-.8zM456.9 72.3h.8v.8h-.8zM470.8 66.6h.8v.8h-.8zM464.5 67.2h.8v.8h-.8zM458.4 66.5h.8v.8h-.8zM466.8 73.9h.8v.8h-.8zM470.6 72.8h.8v.8h-.8zM463.8 69.5h.8v.8h-.8zM460.8 74.0h.8v.8h-.8zM460.0 71.6h.8v.8h-.8zM462.8 69.5h.8v.8h-.8zM459.1 69.7h.8v.8h-.8zM464.2 66.9h.8v.8h-.8zM473.7 70.1h.8v.8h-.8zM464.3 68.6h.8v.8h-.8zM467.8 74.4h.8v.8h-.8zM462.6 71.6h.8v.8h-.8zM455.9 65.5h.8v.8h-.8zM463.9 68.6h.8v.8h-.8zM460.2 66.0h.8v.8h-.8zM460.9 64.7h.8v.8h-.8zM474.1 70.6h.8v.8h-.8zM466.7 72.4h.8v.8h-.8zM464.6 69.9h.8v.8h-.8zM467.6 72.2h.8v.8h-.8zM463.6 66.1h.8v.8h-.8zM456.0 72.0h.8v.8h-.8zM458.9 66.2h.8v.8h-.8zM461.3 67.8h.8v.8h-.8zM468.5 68.3h.8v.8h-.8zM467.2 75.7h.8v.8h-.8zM456.6 70.8h.8v.8h-.8zM460.9 69.2h.8v.8h-.8zM461.0 71.1h.8v.8h-.8zM459.8 70.5h.8v.8h-.8zM467.8 69.3h.8v.8h-.8zM462.5 65.8h.8v.8h-.8zM464.8 74.5h.8v.8h-.8zM465.7 75.6h.8v.8h-.8zM470.9 68.8h.8v.8h-.8zM455.2 72.3h.8v.8h-.8zM463.4 68.3h.8v.8h-.8zM455.2 67.5h.8v.8h-.8zM464.7 63.7h.8v.8h-.8zM463.1 75.7h.8v.8h-.8zM464.8 66.3h.8v.8h-.8zM466.0 66.1h.8v.8h-.8zM465.9 73.4h.8v.8h-.8zM467.5 64.3h.8v.8h-.8zM460.7 70.3h.8v.8h-.8zM462.0 71.7h.8v.8h-.8zM460.4 71.6h.8v.8h-.8zM470.0 71.2h.8v.8h-.8zM460.6 67.7h.8v.8h-.8zM466.9 63.8h.8v.8h-.8zM464.0 68.0h.8v.8h-.8zM462.2 74.0h.8v.8h-.8zM465.1 67.3h.8v.8h-.8zM457.7 66.2h.8v.8h-.8zM465.7 67.9h.8v.8h-.8zM465.4 65.2h.8v.8h-.8zM466.0 68.9h.8v.8h-.8zM466.1 67.1h.8v.8h-.8zM459.5 67.7h.8v.8h-.8zM460.0 71.4h.8v.8h-.8zM468.7 70.6h.8v.8h-.8zM472.2 65.3h.8v.8h-.8zM467.6 73.5h.8v.8h-.8zM467.2 68.0h.8v.8h-.8zM461.4 72.7h.8v.8h-.8zM463.2 73.8h.8v.8h-.8zM465.2 66.2h.8v.8h-.8zM466.6 73.7h.8v.8h-.8zM470.4 72.4h.8v.8h-.8zM469.1 70.1h.8v.8h-.8zM464.5 64.7h.8v.8h-.8zM462.1 70.3h.8v.8h-.8zM466.8 65.4h.8v.8h-.8zM466.8 75.1h.8v.8h-.8zM463.6 64.6h.8v.8h-.8zM457.1 71.4h.8v.8h-.8zM467.0 70.8h.8v.8h-.8zM461.9 66.3h.8v.8h-.8zM464.3 69.6h.8v.8h-.8zM467.1 74.2h.8v.8h-.8zM471.1 70.5h.8v.8h-.8zM460.6 71.2h.8v.8h-.8zM457.0 75.0h.8v.8h-.8zM470.1 68.4h.8v.8h-.8zM466.6 65.7h.8v.8h-.8zM461.5 72.9h.8v.8h-.8zM462.5 74.0h.8v.8h-.8zM464.6 75.2h.8v.8h-.8zM467.2 68.5h.8v.8h-.8zM463.8 68.4h.8v.8h-.8zM466.6 69.4h.8v.8h-.8zM454.8 69.8h.8v.8h-.8zM473.8 72.6h.8v.8h-.8zM461.4 70.0h.8v.8h-.8zM459.6 64.5h.8v.8h-.8zM459.1 70.0h.8v.8h-.8zM471.1 63.9h.8v.8h-.8zM469.1 72.4h.8v.8h-.8zM474.6 67.4h.8v.8h-.8zM458.7 63.4h.8v.8h-.8zM464.7 67.0h.8v.8h-.8zM463.1 69.0h.8v.8h-.8zM463.2 65.2h.8v.8h-.8zM463.1 73.1h.8v.8h-.8zM467.4 67.9h.8v.8h-.8zM460.5 70.1h.8v.8h-.8zM466.0 67.4h.8v.8h-.8zM471.7 68.5h.8v.8h-.8zM468.4 69.2h.8v.8h-.8zM462.1 71.0h.8v.8h-.8zM464.5 67.9h.8v.8h-.8zM399.2 120.2h.8v.8h-.8zM407.7 120.5h.8v.8h-.8zM402.1 117.0h.8v.8h-.8zM399.4 117.7h.8v.8h-.8zM391.8 125.5h.8v.8h-.8zM401.0 113.1h.8v.8h-.8zM394.3 120.5h.8v.8h-.8zM403.4 121.2h.8v.8h-.8zM400.1 116.9h.8v.8h-.8zM394.4 120.0h.8v.8h-.8zM401.1 119.9h.8v.8h-.8zM406.5 119.6h.8v.8h-.8zM394.8 118.7h.8v.8h-.8zM395.2 122.4h.8v.8h-.8zM394.2 121.1h.8v.8h-.8zM398.0 114.2h.8v.8h-.8zM403.2 118.9h.8v.8h-.8zM405.0 124.0h.8v.8h-.8zM397.8 118.5h.8v.8h-.8zM389.9 119.1h.8v.8h-.8zM399.6 120.8h.8v.8h-.8zM399.0 116.0h.8v.8h-.8zM405.9 119.4h.8v.8h-.8zM391.4 117.2h.8v.8h-.8zM401.4 122.3h.8v.8h-.8zM396.3 120.0h.8v.8h-.8zM401.3 116.7h.8v.8h-.8zM388.3 121.8h.8v.8h-.8zM394.8 121.7h.8v.8h-.8zM396.5 117.6h.8v.8h-.8zM400.3 118.7h.8v.8h-.8zM396.8 119.5h.8v.8h-.8zM399.4 119.8h.8v.8h-.8zM395.2 124.0h.8v.8h-.8zM396.4 120.1h.8v.8h-.8zM405.8 121.1h.8v.8h-.8zM392.5 126.6h.8v.8h-.8zM391.8 126.4h.8v.8h-.8zM398.6 118.4h.8v.8h-.8zM402.4 119.8h.8v.8h-.8zM392.7 114.9h.8v.8h-.8zM401.5 120.2h.8v.8h-.8zM395.0 123.2h.8v.8h-.8zM400.2 120.2h.8v.8h-.8zM394.6 122.6h.8v.8h-.8zM399.1 118.4h.8v.8h-.8zM403.3 117.3h.8v.8h-.8zM391.0 122.2h.8v.8h-.8zM400.1 124.4h.8v.8h-.8zM406.0 125.9h.8v.8h-.8zM400.9 122.2h.8v.8h-.8zM399.1 117.0h.8v.8h-.8zM402.6 120.1h.8v.8h-.8zM396.8 117.2h.8v.8h-.8zM403.2 123.3h.8v.8h-.8zM396.9 119.4h.8v.8h-.8zM392.4 122.0h.8v.8h-.8zM399.2 118.5h.8v.8h-.8zM401.5 117.4h.8v.8h-.8zM402.3 122.0h.8v.8h-.8zM399.6 118.7h.8v.8h-.8zM399.7 120.7h.8v.8h-.8zM390.6 125.6h.8v.8h-.8zM396.2 119.3h.8v.8h-.8zM394.3 122.5h.8v.8h-.8zM399.7 125.0h.8v.8h-.8zM405.2 118.6h.8v.8h-.8zM391.7 125.9h.8v.8h-.8zM404.7 121.9h.8v.8h-.8zM403.6 118.2h.8v.8h-.8zM394.3 126.1h.8v.8h-.8zM394.7 115.9h.8v.8h-.8zM395.9 121.2h.8v.8h-.8zM389.9 116.9h.8v.8h-.8zM395.7 122.6h.8v.8h-.8zM402.4 118.7h.8v.8h-.8zM402.2 123.4h.8v.8h-.8zM404.6 118.2h.8v.8h-.8zM398.3 123.0h.8v.8h-.8zM388.5 122.1h.8v.8h-.8zM403.0 124.4h.8v.8h-.8zM409.6 119.4h.8v.8h-.8zM398.5 121.5h.8v.8h-.8zM397.2 123.0h.8v.8h-.8zM402.6 119.2h.8v.8h-.8zM402.9 122.3h.8v.8h-.8zM388.7 122.3h.8v.8h-.8zM398.5 123.2h.8v.8h-.8zM399.5 122.6h.8v.8h-.8zM406.7 120.9h.8v.8h-.8zM398.3 123.3h.8v.8h-.8zM398.3 118.5h.8v.8h-.8zM400.7 121.4h.8v.8h-.8zM405.3 117.6h.8v.8h-.8zM398.6 120.6h.8v.8h-.8zM397.4 119.7h.8v.8h-.8zM396.2 122.4h.8v.8h-.8zM404.8 126.6h.8v.8h-.8zM402.4 123.4h.8v.8h-.8zM402.4 122.1h.8v.8h-.8zM404.7 118.8h.8v.8h-.8zM401.9 121.7h.8v.8h-.8zM405.0 122.0h.8v.8h-.8zM398.4 117.9h.8v.8h-.8zM402.6 121.5h.8v.8h-.8zM408.5 119.7h.8v.8h-.8zM397.1 120.2h.8v.8h-.8zM399.5 120.5h.8v.8h-.8zM398.6 121.4h.8v.8h-.8zM393.5 116.7h.8v.8h-.8zM399.2 123.5h.8v.8h-.8zM400.5 123.1h.8v.8h-.8zM401.7 119.7h.8v.8h-.8zM408.5 125.2h.8v.8h-.8zM402.6 114.3h.8v.8h-.8zM405.0 121.8h.8v.8h-.8zM403.6 123.7h.8v.8h-.8zM405.2 119.1h.8v.8h-.8zM404.6 119.5h.8v.8h-.8zM396.3 119.1h.8v.8h-.8zM399.6 120.3h.8v.8h-.8zM403.5 120.9h.8v.8h-.8zM406.0 118.3h.8v.8h-.8zM397.6 119.3h.8v.8h-.8zM402.8 125.4h.8v.8h-.8zM400.0 119.6h.8v.8h-.8zM406.1 119.2h.8v.8h-.8zM393.8 116.7h.8v.8h-.8zM396.3 118.4h.8v.8h-.8zM405.3 116.1h.8v.8h-.8zM403.1 123.0h.8v.8h-.8zM392.8 116.7h.8v.8h-.8zM408.0 115.0h.8v.8h-.8zM398.7 121.7h.8v.8h-.8zM398.0 121.8h.8v.8h-.8zM402.9 119.1h.8v.8h-.8zM395.8 122.4h.8v.8h-.8zM399.1 123.7h.8v.8h-.8zM400.5 121.0h.8v.8h-.8zM400.1 123.5h.8v.8h-.8zM395.6 119.7h.8v.8h-.8zM398.1 119.3h.8v.8h-.8zM408.6 117.5h.8v.8h-.8zM397.9 122.6h.8v.8h-.8zM401.1 121.6h.8v.8h-.8zM394.8 123.4h.8v.8h-.8zM399.2 115.5h.8v.8h-.8zM395.1 114.9h.8v.8h-.8zM400.5 119.4h.8v.8h-.8zM398.5 120.3h.8v.8h-.8zM391.3 122.5h.8v.8h-.8zM401.8 120.4h.8v.8h-.8zM398.9 121.3h.8v.8h-.8zM396.5 122.1h.8v.8h-.8zM399.8 120.9h.8v.8h-.8zM398.0 122.6h.8v.8h-.8zM396.8 120.6h.8v.8h-.8zM408.2 119.2h.8v.8h-.8zM395.5 123.9h.8v.8h-.8zM405.7 125.9h.8v.8h-.8zM405.0 114.8h.8v.8h-.8zM402.3 123.1h.8v.8h-.8zM399.0 124.3h.8v.8h-.8zM391.3 125.5h.8v.8h-.8zM392.0 123.7h.8v.8h-.8zM401.1 116.5h.8v.8h-.8zM405.5 122.1h.8v.8h-.8zM400.9 120.3h.8v.8h-.8zM399.0 125.3h.8v.8h-.8zM399.7 120.1h.8v.8h-.8zM394.2 123.0h.8v.8h-.8zM396.6 122.6h.8v.8h-.8zM407.3 114.8h.8v.8h-.8zM401.4 118.2h.8v.8h-.8zM402.7 118.0h.8v.8h-.8zM400.3 123.5h.8v.8h-.8zM402.4 115.5h.8v.8h-.8zM400.6 116.3h.8v.8h-.8zM390.5 121.7h.8v.8h-.8zM403.0 121.7h.8v.8h-.8zM398.5 113.6h.8v.8h-.8zM395.5 116.6h.8v.8h-.8zM402.5 124.1h.8v.8h-.8zM402.3 119.3h.8v.8h-.8zM395.4 113.0h.8v.8h-.8zM395.8 118.8h.8v.8h-.8zM399.5 120.1h.8v.8h-.8zM405.0 117.0h.8v.8h-.8zM405.4 121.0h.8v.8h-.8zM399.2 124.9h.8v.8h-.8zM401.7 121.2h.8v.8h-.8zM401.6 119.2h.8v.8h-.8zM397.3 122.0h.8v.8h-.8zM395.8 117.2h.8v.8h-.8zM392.5 116.0h.8v.8h-.8zM401.8 124.5h.8v.8h-.8zM401.7 117.5h.8v.8h-.8zM397.0 122.1h.8v.8h-.8zM396.0 124.2h.8v.8h-.8zM409.4 116.4h.8v.8h-.8zM401.2 127.0h.8v.8h-.8zM398.7 117.4h.8v.8h-.8zM396.7 118.5h.8v.8h-.8zM406.3 114.0h.8v.8h-.8zM397.3 116.1h.8v.8h-.8zM396.4 119.0h.8v.8h-.8zM401.0 124.1h.8v.8h-.8zM402.4 125.3h.8v.8h-.8zM396.2 118.2h.8v.8h-.8zM398.8 118.0h.8v.8h-.8zM399.9 118.8h.8v.8h-.8zM404.0 123.0h.8v.8h-.8zM405.4 127.3h.8v.8h-.8zM406.8 120.9h.8v.8h-.8zM406.4 121.1h.8v.8h-.8zM396.1 115.4h.8v.8h-.8zM399.9 116.5h.8v.8h-.8zM394.7 119.7h.8v.8h-.8zM403.6 120.6h.8v.8h-.8zM399.9 120.7h.8v.8h-.8zM397.2 122.5h.8v.8h-.8zM401.9 115.8h.8v.8h-.8zM395.9 119.2h.8v.8h-.8zM401.4 120.2h.8v.8h-.8zM399.5 126.3h.8v.8h-.8zM408.2 122.1h.8v.8h-.8zM398.4 118.0h.8v.8h-.8zM395.4 120.0h.8v.8h-.8zM407.0 119.4h.8v.8h-.8zM390.6 120.7h.8v.8h-.8zM406.9 118.8h.8v.8h-.8zM399.1 118.4h.8v.8h-.8zM395.3 120.8h.8v.8h-.8zM394.8 125.0h.8v.8h-.8zM401.5 114.7h.8v.8h-.8zM398.0 114.9h.8v.8h-.8zM400.6 121.4h.8v.8h-.8zM405.4 119.9h.8v.8h-.8zM397.5 118.7h.8v.8h-.8zM399.5 119.1h.8v.8h-.8zM395.0 120.4h.8v.8h-.8zM390.8 119.8h.8v.8h-.8zM398.2 120.0h.8v.8h-.8zM394.4 124.6h.8v.8h-.8zM399.7 120.5h.8v.8h-.8zM394.5 119.6h.8v.8h-.8zM390.6 116.8h.8v.8h-.8zM400.1 118.8h.8v.8h-.8zM394.5 123.5h.8v.8h-.8zM393.9 125.1h.8v.8h-.8zM393.4 117.7h.8v.8h-.8zM402.2 117.5h.8v.8h-.8zM402.9 119.4h.8v.8h-.8zM396.1 120.7h.8v.8h-.8zM407.1 119.6h.8v.8h-.8zM399.1 115.4h.8v.8h-.8zM396.2 116.9h.8v.8h-.8zM397.1 119.1h.8v.8h-.8zM392.5 117.7h.8v.8h-.8zM389.6 119.0h.8v.8h-.8zM401.1 117.2h.8v.8h-.8zM399.3 125.0h.8v.8h-.8zM404.8 117.9h.8v.8h-.8zM404.2 126.3h.8v.8h-.8zM398.2 119.0h.8v.8h-.8zM405.5 122.3h.8v.8h-.8zM400.1 112.5h.8v.8h-.8zM408.7 118.0h.8v.8h-.8zM404.5 117.4h.8v.8h-.8zM405.4 116.9h.8v.8h-.8zM397.5 120.4h.8v.8h-.8zM400.7 115.9h.8v.8h-.8zM395.0 114.8h.8v.8h-.8zM398.6 125.4h.8v.8h-.8zM396.9 124.4h.8v.8h-.8zM406.6 121.2h.8v.8h-.8zM403.8 116.6h.8v.8h-.8zM394.1 116.6h.8v.8h-.8zM398.9 120.6h.8v.8h-.8zM396.2 124.8h.8v.8h-.8zM395.9 122.1h.8v.8h-.8zM401.0 117.8h.8v.8h-.8zM403.6 122.8h.8v.8h-.8zM396.1 121.5h.8v.8h-.8zM399.4 117.1h.8v.8h-.8zM396.9 122.9h.8v.8h-.8zM393.8 119.0h.8v.8h-.8zM399.2 124.0h.8v.8h-.8zM400.9 114.3h.8v.8h-.8zM397.2 123.7h.8v.8h-.8zM406.3 118.1h.8v.8h-.8zM398.8 123.1h.8v.8h-.8zM399.7 120.4h.8v.8h-.8zM396.3 117.5h.8v.8h-.8zM399.8 121.2h.8v.8h-.8zM403.2 124.0h.8v.8h-.8zM396.6 117.9h.8v.8h-.8zM402.8 116.9h.8v.8h-.8zM400.1 120.5h.8v.8h-.8zM410.2 119.2h.8v.8h-.8zM398.0 120.6h.8v.8h-.8zM395.6 115.1h.8v.8h-.8zM400.0 122.8h.8v.8h-.8zM400.5 117.9h.8v.8h-.8zM400.5 117.6h.8v.8h-.8zM400.2 125.2h.8v.8h-.8zM407.4 121.7h.8v.8h-.8zM401.5 119.6h.8v.8h-.8zM398.9 120.5h.8v.8h-.8zM402.9 115.2h.8v.8h-.8zM408.4 117.2h.8v.8h-.8zM407.2 120.7h.8v.8h-.8zM402.8 116.5h.8v.8h-.8zM400.3 122.6h.8v.8h-.8zM398.0 118.5h.8v.8h-.8zM409.6 122.2h.8v.8h-.8zM393.3 122.8h.8v.8h-.8zM403.7 122.8h.8v.8h-.8zM391.8 125.9h.8v.8h-.8zM405.5 125.8h.8v.8h-.8zM404.4 125.2h.8v.8h-.8zM397.6 121.1h.8v.8h-.8zM400.1 117.5h.8v.8h-.8zM408.2 118.2h.8v.8h-.8zM397.6 114.1h.8v.8h-.8zM398.3 120.1h.8v.8h-.8zM401.2 120.8h.8v.8h-.8zM399.0 126.6h.8v.8h-.8zM397.9 116.8h.8v.8h-.8zM393.3 123.8h.8v.8h-.8zM393.0 125.5h.8v.8h-.8zM397.1 118.7h.8v.8h-.8zM400.3 118.8h.8v.8h-.8zM395.4 116.8h.8v.8h-.8zM403.7 123.0h.8v.8h-.8zM400.6 115.9h.8v.8h-.8zM402.7 122.0h.8v.8h-.8zM395.3 125.6h.8v.8h-.8zM409.5 120.3h.8v.8h-.8zM404.7 115.9h.8v.8h-.8zM400.4 119.7h.8v.8h-.8zM389.3 119.7h.8v.8h-.8zM407.4 115.8h.8v.8h-.8zM396.1 120.0h.8v.8h-.8zM403.6 123.2h.8v.8h-.8zM400.1 117.6h.8v.8h-.8zM396.4 117.6h.8v.8h-.8zM402.6 121.0h.8v.8h-.8zM405.0 118.1h.8v.8h-.8zM397.8 117.8h.8v.8h-.8zM398.0 119.2h.8v.8h-.8zM398.4 121.1h.8v.8h-.8zM408.7 116.1h.8v.8h-.8zM393.3 120.3h.8v.8h-.8zM403.8 116.5h.8v.8h-.8zM405.1 122.8h.8v.8h-.8zM395.0 122.6h.8v.8h-.8zM395.1 118.1h.8v.8h-.8zM399.2 124.5h.8v.8h-.8zM406.2 117.9h.8v.8h-.8zM399.2 114.3h.8v.8h-.8zM398.3 119.5h.8v.8h-.8zM396.8 121.1h.8v.8h-.8zM392.7 116.0h.8v.8h-.8zM400.1 118.9h.8v.8h-.8zM408.9 121.9h.8v.8h-.8zM402.5 118.5h.8v.8h-.8zM399.8 119.9h.8v.8h-.8zM394.9 121.7h.8v.8h-.8zM400.8 116.8h.8v.8h-.8zM393.0 121.7h.8v.8h-.8zM400.8 117.1h.8v.8h-.8zM397.3 118.3h.8v.8h-.8zM399.2 121.4h.8v.8h-.8zM395.9 120.5h.8v.8h-.8zM390.3 118.6h.8v.8h-.8zM400.1 118.5h.8v.8h-.8zM396.5 118.0h.8v.8h-.8zM394.4 119.4h.8v.8h-.8zM398.8 120.8h.8v.8h-.8zM395.6 116.2h.8v.8h-.8zM391.0 122.0h.8v.8h-.8zM400.0 112.4h.8v.8h-.8zM400.6 121.1h.8v.8h-.8zM394.2 124.0h.8v.8h-.8zM397.8 115.0h.8v.8h-.8zM395.1 121.6h.8v.8h-.8zM389.4 118.4h.8v.8h-.8zM399.7 118.3h.8v.8h-.8zM402.9 120.7h.8v.8h-.8zM392.1 122.6h.8v.8h-.8zM390.3 124.2h.8v.8h-.8zM401.5 116.3h.8v.8h-.8zM397.6 122.8h.8v.8h-.8zM390.9 117.8h.8v.8h-.8zM392.1 124.1h.8v.8h-.8zM402.6 125.5h.8v.8h-.8zM397.0 119.1h.8v.8h-.8zM399.9 117.7h.8v.8h-.8zM403.7 120.4h.8v.8h-.8zM402.0 118.1h.8v.8h-.8zM396.8 123.6h.8v.8h-.8zM400.9 117.2h.8v.8h-.8zM402.8 117.7h.8v.8h-.8zM395.1 122.5h.8v.8h-.8zM399.7 117.8h.8v.8h-.8zM397.2 124.8h.8v.8h-.8zM399.6 113.1h.8v.8h-.8zM394.6 123.4h.8v.8h-.8zM400.9 119.9h.8v.8h-.8zM401.0 116.7h.8v.8h-.8zM399.5 120.1h.8v.8h-.8zM402.0 121.6h.8v.8h-.8zM395.6 124.2h.8v.8h-.8zM396.3 117.4h.8v.8h-.8zM397.3 115.6h.8v.8h-.8zM389.4 121.4h.8v.8h-.8zM401.1 116.9h.8v.8h-.8zM391.8 116.6h.8v.8h-.8zM395.1 120.8h.8v.8h-.8zM403.3 120.7h.8v.8h-.8zM399.3 122.9h.8v.8h-.8zM402.1 120.3h.8v.8h-.8zM403.0 119.7h.8v.8h-.8zM399.1 120.3h.8v.8h-.8zM407.1 115.5h.8v.8h-.8zM398.1 120.7h.8v.8h-.8zM405.1 124.5h.8v.8h-.8zM401.0 122.6h.8v.8h-.8zM396.6 113.2h.8v.8h-.8zM405.5 120.2h.8v.8h-.8zM405.1 118.8h.8v.8h-.8zM392.0 120.4h.8v.8h-.8zM398.9 117.1h.8v.8h-.8zM390.0 119.0h.8v.8h-.8zM395.5 119.9h.8v.8h-.8zM402.3 116.0h.8v.8h-.8zM401.2 124.3h.8v.8h-.8zM403.3 123.2h.8v.8h-.8zM398.4 119.4h.8v.8h-.8zM398.1 119.9h.8v.8h-.8zM399.8 119.0h.8v.8h-.8zM399.7 120.6h.8v.8h-.8zM395.1 118.2h.8v.8h-.8zM393.0 126.7h.8v.8h-.8zM407.1 120.8h.8v.8h-.8zM398.8 114.9h.8v.8h-.8zM389.2 120.0h.8v.8h-.8zM404.1 122.6h.8v.8h-.8zM405.6 125.4h.8v.8h-.8zM401.4 118.8h.8v.8h-.8zM397.2 117.4h.8v.8h-.8zM404.0 118.1h.8v.8h-.8zM397.7 118.8h.8v.8h-.8zM400.0 123.2h.8v.8h-.8zM407.1 117.4h.8v.8h-.8zM398.9 117.0h.8v.8h-.8zM398.5 116.6h.8v.8h-.8zM403.1 114.5h.8v.8h-.8zM403.7 117.3h.8v.8h-.8zM396.9 121.4h.8v.8h-.8zM406.6 116.4h.8v.8h-.8zM410.7 119.4h.8v.8h-.8zM407.5 122.6h.8v.8h-.8zM401.1 125.0h.8v.8h-.8zM398.0 115.7h.8v.8h-.8zM401.1 124.2h.8v.8h-.8zM407.3 120.3h.8v.8h-.8zM400.6 120.3h.8v.8h-.8zM407.7 122.2h.8v.8h-.8zM399.1 122.9h.8v.8h-.8zM398.5 116.5h.8v.8h-.8zM399.2 121.1h.8v.8h-.8zM401.6 121.8h.8v.8h-.8zM394.0 122.3h.8v.8h-.8zM401.4 120.3h.8v.8h-.8zM396.2 119.1h.8v.8h-.8zM400.8 120.8h.8v.8h-.8zM398.4 120.5h.8v.8h-.8zM397.3 121.3h.8v.8h-.8zM392.0 115.4h.8v.8h-.8zM396.3 122.1h.8v.8h-.8zM396.6 120.9h.8v.8h-.8zM396.2 124.0h.8v.8h-.8zM397.2 119.9h.8v.8h-.8zM406.2 123.5h.8v.8h-.8zM401.7 117.2h.8v.8h-.8zM403.6 120.6h.8v.8h-.8zM394.6 118.5h.8v.8h-.8zM400.3 121.6h.8v.8h-.8zM391.8 120.7h.8v.8h-.8zM402.3 121.5h.8v.8h-.8zM408.8 118.6h.8v.8h-.8zM398.9 116.4h.8v.8h-.8zM396.3 120.4h.8v.8h-.8zM398.2 118.2h.8v.8h-.8zM398.0 124.2h.8v.8h-.8zM401.1 124.3h.8v.8h-.8zM389.7 123.2h.8v.8h-.8zM399.8 122.3h.8v.8h-.8zM406.0 120.4h.8v.8h-.8zM399.0 120.3h.8v.8h-.8zM393.4 122.7h.8v.8h-.8zM397.6 119.7h.8v.8h-.8zM400.8 115.6h.8v.8h-.8zM399.1 123.4h.8v.8h-.8zM397.5 121.2h.8v.8h-.8zM397.1 124.8h.8v.8h-.8zM408.1 122.6h.8v.8h-.8zM396.1 125.0h.8v.8h-.8zM408.0 121.5h.8v.8h-.8zM390.8 118.8h.8v.8h-.8zM403.1 115.8h.8v.8h-.8zM396.5 120.5h.8v.8h-.8zM399.2 115.6h.8v.8h-.8zM397.0 119.1h.8v.8h-.8zM393.9 124.0h.8v.8h-.8zM407.7 126.0h.8v.8h-.8zM397.3 120.3h.8v.8h-.8zM402.5 125.6h.8v.8h-.8zM391.6 123.4h.8v.8h-.8zM399.1 127.3h.8v.8h-.8zM402.1 121.6h.8v.8h-.8zM405.7 124.3h.8v.8h-.8zM407.2 125.0h.8v.8h-.8zM403.8 118.9h.8v.8h-.8zM390.6 117.6h.8v.8h-.8zM401.6 118.7h.8v.8h-.8zM404.3 116.3h.8v.8h-.8zM395.9 123.1h.8v.8h-.8zM399.4 115.6h.8v.8h-.8zM403.1 128.0h.8v.8h-.8zM402.9 116.4h.8v.8h-.8zM402.2 118.1h.8v.8h-.8zM400.0 116.9h.8v.8h-.8zM402.1 120.1h.8v.8h-.8zM391.7 120.0h.8v.8h-.8zM404.5 122.2h.8v.8h-.8zM397.9 124.5h.8v.8h-.8zM397.7 118.1h.8v.8h-.8zM397.3 123.2h.8v.8h-.8zM393.8 117.3h.8v.8h-.8zM397.7 122.6h.8v.8h-.8zM397.5 124.8h.8v.8h-.8zM394.1 119.4h.8v.8h-.8zM398.0 126.2h.8v.8h-.8zM396.7 119.8h.8v.8h-.8zM399.6 119.9h.8v.8h-.8zM399.3 118.5h.8v.8h-.8zM399.3 120.5h.8v.8h-.8zM397.2 121.4h.8v.8h-.8zM393.3 117.7h.8v.8h-.8zM401.8 122.6h.8v.8h-.8zM401.1 120.3h.8v.8h-.8zM394.6 116.3h.8v.8h-.8zM394.7 118.6h.8v.8h-.8zM398.4 116.3h.8v.8h-.8zM398.5 127.4h.8v.8h-.8zM396.9 125.0h.8v.8h-.8zM394.4 113.5h.8v.8h-.8zM393.2 119.6h.8v.8h-.8zM388.3 122.2h.8v.8h-.8zM398.8 122.4h.8v.8h-.8zM399.8 120.8h.8v.8h-.8zM399.7 125.2h.8v.8h-.8zM398.3 123.4h.8v.8h-.8zM394.6 119.6h.8v.8h-.8zM400.0 120.6h.8v.8h-.8zM391.4 118.4h.8v.8h-.8zM398.6 124.5h.8v.8h-.8zM400.2 124.0h.8v.8h-.8zM396.1 118.1h.8v.8h-.8zM405.9 123.0h.8v.8h-.8zM397.1 127.4h.8v.8h-.8zM407.4 117.7h.8v.8h-.8zM389.0 123.7h.8v.8h-.8zM402.0 121.1h.8v.8h-.8zM402.5 124.1h.8v.8h-.8zM396.6 123.4h.8v.8h-.8zM391.1 114.8h.8v.8h-.8zM403.6 118.4h.8v.8h-.8zM403.1 115.8h.8v.8h-.8zM399.6 118.5h.8v.8h-.8zM396.7 118.4h.8v.8h-.8zM407.1 122.6h.8v.8h-.8zM399.9 121.2h.8v.8h-.8zM405.3 119.7h.8v.8h-.8zM392.3 121.3h.8v.8h-.8zM402.2 120.7h.8v.8h-.8zM401.6 123.8h.8v.8h-.8zM401.9 120.9h.8v.8h-.8zM407.3 120.3h.8v.8h-.8zM399.5 120.5h.8v.8h-.8zM404.5 124.7h.8v.8h-.8zM396.2 118.3h.8v.8h-.8zM407.7 121.2h.8v.8h-.8zM401.1 117.4h.8v.8h-.8zM406.5 116.6h.8v.8h-.8zM405.5 120.7h.8v.8h-.8zM400.7 117.9h.8v.8h-.8zM401.9 116.9h.8v.8h-.8zM402.6 122.6h.8v.8h-.8zM402.7 118.3h.8v.8h-.8zM391.5 116.5h.8v.8h-.8zM392.1 120.8h.8v.8h-.8zM399.3 121.0h.8v.8h-.8zM395.2 119.9h.8v.8h-.8zM392.2 114.4h.8v.8h-.8zM395.9 121.1h.8v.8h-.8zM397.0 118.3h.8v.8h-.8zM393.7 126.3h.8v.8h-.8zM405.8 125.8h.8v.8h-.8zM400.0 125.4h.8v.8h-.8zM398.9 123.7h.8v.8h-.8zM398.4 118.6h.8v.8h-.8zM397.9 120.2h.8v.8h-.8zM398.3 117.8h.8v.8h-.8zM395.0 118.3h.8v.8h-.8zM407.8 120.3h.8v.8h-.8zM405.7 115.9h.8v.8h-.8zM400.0 121.4h.8v.8h-.8zM404.1 120.4h.8v.8h-.8zM391.8 121.1h.8v.8h-.8zM403.0 117.2h.8v.8h-.8zM394.9 124.1h.8v.8h-.8zM395.7 116.7h.8v.8h-.8zM404.8 121.7h.8v.8h-.8zM398.2 119.4h.8v.8h-.8zM403.9 119.9h.8v.8h-.8zM394.3 120.0h.8v.8h-.8zM401.2 116.2h.8v.8h-.8zM400.2 121.0h.8v.8h-.8zM395.3 118.5h.8v.8h-.8zM393.9 113.8h.8v.8h-.8zM396.2 116.9h.8v.8h-.8zM390.7 118.7h.8v.8h-.8zM401.5 117.8h.8v.8h-.8zM400.2 123.0h.8v.8h-.8zM396.1 122.3h.8v.8h-.8zM407.0 114.5h.8v.8h-.8zM396.1 114.0h.8v.8h-.8zM398.9 120.3h.8v.8h-.8zM397.4 119.7h.8v.8h-.8zM403.8 127.8h.8v.8h-.8zM402.8 118.4h.8v.8h-.8zM396.5 121.3h.8v.8h-.8zM403.4 126.2h.8v.8h-.8zM392.6 121.3h.8v.8h-.8zM404.2 120.7h.8v.8h-.8zM397.4 118.0h.8v.8h-.8zM399.5 121.5h.8v.8h-.8zM394.1 119.6h.8v.8h-.8zM395.7 118.8h.8v.8h-.8zM393.1 118.5h.8v.8h-.8zM395.5 115.2h.8v.8h-.8zM393.5 120.6h.8v.8h-.8zM406.5 122.9h.8v.8h-.8zM390.5 121.9h.8v.8h-.8zM398.0 116.1h.8v.8h-.8zM405.6 120.6h.8v.8h-.8zM411.3 119.8h.8v.8h-.8zM397.6 127.0h.8v.8h-.8zM407.7 118.0h.8v.8h-.8zM401.3 118.2h.8v.8h-.8zM398.2 120.8h.8v.8h-.8zM394.9 118.1h.8v.8h-.8zM401.5 125.3h.8v.8h-.8zM409.0 122.0h.8v.8h-.8zM396.5 121.3h.8v.8h-.8zM399.8 122.0h.8v.8h-.8zM397.3 124.6h.8v.8h-.8zM406.1 115.7h.8v.8h-.8zM405.5 120.6h.8v.8h-.8zM404.8 121.6h.8v.8h-.8zM395.3 120.7h.8v.8h-.8zM401.6 118.9h.8v.8h-.8zM398.1 114.4h.8v.8h-.8zM395.6 123.6h.8v.8h-.8zM401.8 125.1h.8v.8h-.8zM404.4 122.0h.8v.8h-.8zM405.3 118.7h.8v.8h-.8zM403.0 123.5h.8v.8h-.8zM400.2 123.8h.8v.8h-.8zM394.1 116.5h.8v.8h-.8zM402.3 118.0h.8v.8h-.8zM391.0 116.8h.8v.8h-.8zM406.2 119.7h.8v.8h-.8zM397.0 119.0h.8v.8h-.8zM408.8 117.2h.8v.8h-.8zM393.7 118.1h.8v.8h-.8zM396.2 128.0h.8v.8h-.8zM396.7 118.6h.8v.8h-.8zM395.3 113.4h.8v.8h-.8zM403.9 120.1h.8v.8h-.8zM398.4 122.5h.8v.8h-.8zM391.7 121.5h.8v.8h-.8zM403.4 121.3h.8v.8h-.8zM396.6 124.6h.8v.8h-.8zM399.6 116.6h.8v.8h-.8zM397.6 119.3h.8v.8h-.8zM391.8 122.6h.8v.8h-.8zM393.7 118.9h.8v.8h-.8zM395.9 127.0h.8v.8h-.8zM396.6 116.6h.8v.8h-.8zM400.1 118.0h.8v.8h-.8zM406.2 123.6h.8v.8h-.8zM405.1 116.0h.8v.8h-.8zM396.7 116.3h.8v.8h-.8zM397.3 121.2h.8v.8h-.8zM402.5 116.0h.8v.8h-.8zM393.5 121.8h.8v.8h-.8zM397.7 116.2h.8v.8h-.8zM398.0 123.4h.8v.8h-.8zM392.9 117.7h.8v.8h-.8zM401.5 115.2h.8v.8h-.8zM403.6 114.4h.8v.8h-.8zM403.3 124.4h.8v.8h-.8zM404.9 121.7h.8v.8h-.8zM404.4 121.9h.8v.8h-.8zM400.0 121.5h.8v.8h-.8zM396.6 118.5h.8v.8h-.8zM401.0 119.4h.8v.8h-.8zM402.7 119.9h.8v.8h-.8zM397.8 118.2h.8v.8h-.8zM396.6 116.9h.8v.8h-.8zM396.1 124.4h.8v.8h-.8zM392.6 116.0h.8v.8h-.8zM398.4 122.1h.8v.8h-.8zM399.0 119.3h.8v.8h-.8zM399.5 124.1h.8v.8h-.8zM397.9 119.6h.8v.8h-.8zM399.8 119.0h.8v.8h-.8zM406.3 118.5h.8v.8h-.8zM394.0 119.5h.8v.8h-.8zM405.5 123.5h.8v.8h-.8zM395.7 122.7h.8v.8h-.8zM391.7 114.7h.8v.8h-.8zM397.9 120.1h.8v.8h-.8zM392.0 118.3h.8v.8h-.8zM397.7 117.9h.8v.8h-.8zM397.9 118.7h.8v.8h-.8zM393.2 122.1h.8v.8h-.8zM397.0 119.8h.8v.8h-.8zM403.1 115.1h.8v.8h-.8zM400.6 119.3h.8v.8h-.8zM403.8 119.7h.8v.8h-.8zM399.0 125.4h.8v.8h-.8zM395.5 116.0h.8v.8h-.8zM390.2 122.7h.8v.8h-.8zM401.1 124.7h.8v.8h-.8zM397.3 116.8h.8v.8h-.8zM408.7 122.1h.8v.8h-.8zM396.4 118.6h.8v.8h-.8zM399.3 120.1h.8v.8h-.8zM402.6 120.3h.8v.8h-.8zM406.1 120.2h.8v.8h-.8zM403.6 117.5h.8v.8h-.8zM396.8 118.5h.8v.8h-.8zM406.3 118.7h.8v.8h-.8zM400.8 118.9h.8v.8h-.8zM397.9 125.3h.8v.8h-.8zM391.8 118.0h.8v.8h-.8zM399.6 113.0h.8v.8h-.8zM406.7 119.1h.8v.8h-.8zM404.4 123.3h.8v.8h-.8zM399.5 119.6h.8v.8h-.8zM405.2 119.7h.8v.8h-.8zM401.5 124.0h.8v.8h-.8zM394.3 124.4h.8v.8h-.8zM409.9 118.8h.8v.8h-.8zM399.3 122.9h.8v.8h-.8zM395.6 125.4h.8v.8h-.8zM400.2 117.8h.8v.8h-.8zM392.2 126.7h.8v.8h-.8zM397.3 118.1h.8v.8h-.8zM400.2 117.1h.8v.8h-.8zM408.6 119.3h.8v.8h-.8zM404.9 114.8h.8v.8h-.8zM400.7 120.9h.8v.8h-.8zM410.1 122.1h.8v.8h-.8zM401.5 123.3h.8v.8h-.8zM400.8 118.5h.8v.8h-.8zM390.5 118.8h.8v.8h-.8zM410.3 117.2h.8v.8h-.8zM399.9 120.3h.8v.8h-.8zM405.5 119.9h.8v.8h-.8zM398.6 120.9h.8v.8h-.8zM392.3 116.8h.8v.8h-.8zM400.7 117.5h.8v.8h-.8zM398.3 122.0h.8v.8h-.8zM401.1 120.0h.8v.8h-.8zM400.1 125.5h.8v.8h-.8zM402.1 120.1h.8v.8h-.8zM406.1 119.2h.8v.8h-.8zM395.1 120.8h.8v.8h-.8zM398.6 126.5h.8v.8h-.8zM393.2 118.6h.8v.8h-.8zM407.2 120.7h.8v.8h-.8zM406.9 115.0h.8v.8h-.8zM399.4 120.0h.8v.8h-.8zM406.6 122.1h.8v.8h-.8zM400.7 118.6h.8v.8h-.8zM410.8 119.5h.8v.8h-.8zM399.5 112.3h.8v.8h-.8zM396.8 118.3h.8v.8h-.8zM403.6 121.3h.8v.8h-.8zM403.0 120.9h.8v.8h-.8zM399.3 121.0h.8v.8h-.8zM401.2 118.9h.8v.8h-.8zM405.7 121.6h.8v.8h-.8zM395.9 124.2h.8v.8h-.8zM402.9 125.2h.8v.8h-.8zM391.0 123.3h.8v.8h-.8zM406.3 125.4h.8v.8h-.8zM403.7 117.7h.8v.8h-.8zM396.4 119.2h.8v.8h-.8zM396.4 123.1h.8v.8h-.8zM403.5 126.4h.8v.8h-.8zM398.0 115.6h.8v.8h-.8zM399.2 119.2h.8v.8h-.8zM401.4 122.9h.8v.8h-.8zM393.3 122.3h.8v.8h-.8zM392.4 121.0h.8v.8h-.8zM398.4 120.5h.8v.8h-.8zM409.6 121.8h.8v.8h-.8zM392.8 122.2h.8v.8h-.8zM399.4 124.8h.8v.8h-.8zM390.9 124.6h.8v.8h-.8zM397.8 120.3h.8v.8h-.8zM396.4 119.0h.8v.8h-.8zM404.3 121.1h.8v.8h-.8zM401.7 117.3h.8v.8h-.8zM400.2 119.3h.8v.8h-.8zM406.4 115.3h.8v.8h-.8zM400.4 112.2h.8v.8h-.8zM396.4 120.4h.8v.8h-.8zM398.7 122.2h.8v.8h-.8zM399.5 126.1h.8v.8h-.8zM394.9 124.8h.8v.8h-.8zM405.7 119.6h.8v.8h-.8zM397.8 122.8h.8v.8h-.8zM406.0 115.1h.8v.8h-.8zM395.6 120.5h.8v.8h-.8zM398.3 121.9h.8v.8h-.8zM395.3 124.8h.8v.8h-.8zM401.9 121.2h.8v.8h-.8zM402.5 120.6h.8v.8h-.8zM402.8 115.9h.8v.8h-.8zM401.2 123.9h.8v.8h-.8zM402.7 118.0h.8v.8h-.8zM398.0 115.0h.8v.8h-.8zM402.9 125.1h.8v.8h-.8zM400.2 121.2h.8v.8h-.8zM402.8 116.4h.8v.8h-.8zM393.6 116.2h.8v.8h-.8zM401.4 119.3h.8v.8h-.8zM403.0 116.0h.8v.8h-.8zM407.2 115.2h.8v.8h-.8zM401.8 124.2h.8v.8h-.8zM396.6 115.6h.8v.8h-.8zM399.3 117.8h.8v.8h-.8zM399.3 114.8h.8v.8h-.8zM406.2 120.0h.8v.8h-.8zM396.2 122.7h.8v.8h-.8zM402.8 120.8h.8v.8h-.8zM397.7 117.5h.8v.8h-.8zM402.6 123.0h.8v.8h-.8zM403.7 113.3h.8v.8h-.8zM391.4 119.1h.8v.8h-.8zM396.7 113.9h.8v.8h-.8zM398.1 121.4h.8v.8h-.8zM402.9 121.4h.8v.8h-.8zM403.3 119.9h.8v.8h-.8zM399.4 120.9h.8v.8h-.8zM402.8 121.5h.8v.8h-.8zM400.3 124.5h.8v.8h-.8zM394.0 119.6h.8v.8h-.8zM399.3 122.1h.8v.8h-.8zM401.0 120.9h.8v.8h-.8zM401.0 122.3h.8v.8h-.8zM399.0 120.7h.8v.8h-.8zM403.1 124.4h.8v.8h-.8zM401.5 114.9h.8v.8h-.8zM395.4 115.0h.8v.8h-.8zM394.5 119.7h.8v.8h-.8zM400.1 114.4h.8v.8h-.8zM396.4 112.8h.8v.8h-.8zM401.0 123.9h.8v.8h-.8zM396.3 114.7h.8v.8h-.8zM407.4 123.8h.8v.8h-.8zM394.7 122.2h.8v.8h-.8zM401.0 115.7h.8v.8h-.8zM401.6 120.5h.8v.8h-.8zM390.0 118.8h.8v.8h-.8zM396.4 127.0h.8v.8h-.8zM399.6 120.8h.8v.8h-.8zM407.2 119.5h.8v.8h-.8zM392.5 116.7h.8v.8h-.8zM398.4 122.0h.8v.8h-.8zM401.0 120.1h.8v.8h-.8zM390.7 120.9h.8v.8h-.8zM404.4 116.5h.8v.8h-.8zM403.6 117.3h.8v.8h-.8zM400.2 119.5h.8v.8h-.8zM403.9 125.0h.8v.8h-.8zM399.2 118.9h.8v.8h-.8zM393.2 117.8h.8v.8h-.8zM400.9 122.5h.8v.8h-.8zM390.2 124.3h.8v.8h-.8zM396.8 122.1h.8v.8h-.8zM399.9 127.4h.8v.8h-.8zM398.8 121.2h.8v.8h-.8zM394.6 123.8h.8v.8h-.8zM399.1 119.6h.8v.8h-.8zM399.4 121.5h.8v.8h-.8zM403.3 117.7h.8v.8h-.8zM401.2 120.5h.8v.8h-.8zM395.1 121.5h.8v.8h-.8zM396.8 118.1h.8v.8h-.8zM411.2 118.5h.8v.8h-.8zM395.3 119.5h.8v.8h-.8zM408.1 116.9h.8v.8h-.8zM401.7 122.0h.8v.8h-.8zM399.0 116.8h.8v.8h-.8zM394.1 120.5h.8v.8h-.8zM392.9 118.8h.8v.8h-.8zM391.6 119.9h.8v.8h-.8zM400.1 119.7h.8v.8h-.8zM402.0 118.2h.8v.8h-.8zM397.0 124.0h.8v.8h-.8zM394.6 119.9h.8v.8h-.8zM401.8 123.3h.8v.8h-.8zM402.4 119.7h.8v.8h-.8zM396.6 122.4h.8v.8h-.8zM407.3 120.1h.8v.8h-.8zM393.3 118.9h.8v.8h-.8zM395.2 114.4h.8v.8h-.8zM403.9 118.6h.8v.8h-.8zM392.3 125.7h.8v.8h-.8zM395.3 120.5h.8v.8h-.8zM396.2 120.3h.8v.8h-.8zM403.7 118.0h.8v.8h-.8zM400.0 114.7h.8v.8h-.8zM404.4 124.2h.8v.8h-.8zM389.1 116.3h.8v.8h-.8zM404.7 120.7h.8v.8h-.8zM394.5 117.9h.8v.8h-.8zM401.0 120.5h.8v.8h-.8zM395.8 124.0h.8v.8h-.8zM396.8 114.9h.8v.8h-.8zM397.8 127.4h.8v.8h-.8zM393.0 119.9h.8v.8h-.8zM400.2 125.4h.8v.8h-.8zM404.5 123.6h.8v.8h-.8zM398.2 121.5h.8v.8h-.8zM398.0 122.0h.8v.8h-.8zM395.7 117.1h.8v.8h-.8zM395.4 124.1h.8v.8h-.8zM400.0 125.4h.8v.8h-.8zM390.4 117.0h.8v.8h-.8zM394.5 126.8h.8v.8h-.8zM395.8 127.5h.8v.8h-.8zM398.1 119.6h.8v.8h-.8zM395.5 126.2h.8v.8h-.8zM400.3 121.6h.8v.8h-.8zM402.2 126.8h.8v.8h-.8zM398.7 116.7h.8v.8h-.8zM399.1 118.1h.8v.8h-.8zM394.8 121.1h.8v.8h-.8zM400.1 121.3h.8v.8h-.8zM396.3 121.4h.8v.8h-.8zM401.6 120.6h.8v.8h-.8zM402.4 116.2h.8v.8h-.8zM397.8 117.9h.8v.8h-.8zM401.3 121.2h.8v.8h-.8zM397.5 117.7h.8v.8h-.8zM392.9 125.3h.8v.8h-.8zM400.1 115.2h.8v.8h-.8zM397.9 115.8h.8v.8h-.8zM396.5 114.4h.8v.8h-.8zM396.5 123.6h.8v.8h-.8zM400.0 115.2h.8v.8h-.8zM406.2 119.0h.8v.8h-.8zM393.7 121.8h.8v.8h-.8zM407.5 125.7h.8v.8h-.8zM401.4 124.6h.8v.8h-.8zM397.4 121.7h.8v.8h-.8zM400.8 124.2h.8v.8h-.8zM397.7 120.8h.8v.8h-.8zM400.9 123.3h.8v.8h-.8zM404.1 122.7h.8v.8h-.8zM403.0 121.1h.8v.8h-.8zM405.1 117.6h.8v.8h-.8zM405.5 119.4h.8v.8h-.8zM392.5 114.6h.8v.8h-.8zM398.1 123.8h.8v.8h-.8zM396.9 126.1h.8v.8h-.8zM397.3 118.9h.8v.8h-.8zM404.3 118.3h.8v.8h-.8zM405.3 124.4h.8v.8h-.8zM389.2 120.4h.8v.8h-.8zM404.8 121.1h.8v.8h-.8zM403.0 122.6h.8v.8h-.8zM401.6 121.8h.8v.8h-.8zM394.8 125.0h.8v.8h-.8zM404.2 119.4h.8v.8h-.8zM400.1 121.1h.8v.8h-.8zM402.9 125.3h.8v.8h-.8zM403.9 123.8h.8v.8h-.8zM396.6 127.4h.8v.8h-.8zM395.3 121.3h.8v.8h-.8zM399.3 121.5h.8v.8h-.8zM395.8 122.6h.8v.8h-.8zM402.7 123.8h.8v.8h-.8zM401.1 125.5h.8v.8h-.8zM394.4 116.1h.8v.8h-.8zM400.4 124.2h.8v.8h-.8zM404.2 124.9h.8v.8h-.8zM399.2 122.9h.8v.8h-.8zM400.3 119.5h.8v.8h-.8zM398.8 113.9h.8v.8h-.8zM399.2 123.9h.8v.8h-.8zM393.5 118.8h.8v.8h-.8zM396.7 121.5h.8v.8h-.8zM396.2 124.7h.8v.8h-.8zM390.7 122.2h.8v.8h-.8zM395.7 120.5h.8v.8h-.8zM400.8 122.9h.8v.8h-.8zM396.3 121.3h.8v.8h-.8zM403.7 122.5h.8v.8h-.8zM400.9 123.1h.8v.8h-.8zM406.1 114.8h.8v.8h-.8zM396.4 119.7h.8v.8h-.8zM404.6 123.4h.8v.8h-.8zM401.5 119.3h.8v.8h-.8zM393.3 120.0h.8v.8h-.8zM402.9 120.2h.8v.8h-.8zM396.7 123.4h.8v.8h-.8zM401.0 117.3h.8v.8h-.8zM396.7 120.3h.8v.8h-.8zM403.3 119.9h.8v.8h-.8zM407.6 121.3h.8v.8h-.8zM401.2 123.1h.8v.8h-.8zM404.0 115.7h.8v.8h-.8zM399.0 116.4h.8v.8h-.8zM399.6 117.6h.8v.8h-.8zM405.9 123.5h.8v.8h-.8zM397.3 121.1h.8v.8h-.8zM389.4 118.3h.8v.8h-.8zM397.2 120.9h.8v.8h-.8zM400.8 119.0h.8v.8h-.8zM398.3 117.9h.8v.8h-.8zM400.8 118.3h.8v.8h-.8zM394.3 120.4h.8v.8h-.8zM399.9 119.7h.8v.8h-.8zM408.8 122.1h.8v.8h-.8zM399.9 120.9h.8v.8h-.8zM398.1 122.8h.8v.8h-.8zM397.3 121.9h.8v.8h-.8zM399.9 117.0h.8v.8h-.8zM394.7 125.4h.8v.8h-.8zM396.3 117.5h.8v.8h-.8zM399.0 119.6h.8v.8h-.8zM403.6 115.5h.8v.8h-.8zM397.3 123.8h.8v.8h-.8zM390.0 118.4h.8v.8h-.8zM398.4 118.1h.8v.8h-.8zM400.3 122.2h.8v.8h-.8zM395.8 120.3h.8v.8h-.8zM402.8 116.2h.8v.8h-.8zM396.4 125.7h.8v.8h-.8zM395.4 126.4h.8v.8h-.8zM400.6 115.2h.8v.8h-.8zM405.1 121.6h.8v.8h-.8zM398.7 125.9h.8v.8h-.8zM396.3 125.8h.8v.8h-.8zM391.5 116.9h.8v.8h-.8zM401.9 117.2h.8v.8h-.8zM395.8 117.0h.8v.8h-.8zM399.6 116.0h.8v.8h-.8zM408.5 122.2h.8v.8h-.8zM403.1 118.6h.8v.8h-.8zM394.6 120.1h.8v.8h-.8zM396.7 125.0h.8v.8h-.8zM403.3 113.5h.8v.8h-.8zM401.6 122.7h.8v.8h-.8zM401.7 117.6h.8v.8h-.8zM401.9 122.2h.8v.8h-.8zM402.7 121.0h.8v.8h-.8zM401.2 118.2h.8v.8h-.8zM393.4 116.5h.8v.8h-.8zM406.6 117.5h.8v.8h-.8zM395.0 114.7h.8v.8h-.8zM402.5 120.5h.8v.8h-.8zM394.3 114.3h.8v.8h-.8zM397.6 119.0h.8v.8h-.8zM398.5 118.7h.8v.8h-.8zM403.2 115.0h.8v.8h-.8zM399.9 121.1h.8v.8h-.8zM402.1 118.1h.8v.8h-.8zM402.2 118.2h.8v.8h-.8zM398.4 116.2h.8v.8h-.8zM408.8 119.6h.8v.8h-.8zM406.2 116.8h.8v.8h-.8zM394.9 124.9h.8v.8h-.8zM397.1 125.0h.8v.8h-.8zM395.9 117.4h.8v.8h-.8zM407.6 116.0h.8v.8h-.8zM400.6 125.7h.8v.8h-.8zM397.0 120.5h.8v.8h-.8zM408.6 118.6h.8v.8h-.8zM394.4 118.5h.8v.8h-.8zM397.4 120.1h.8v.8h-.8zM404.9 119.5h.8v.8h-.8zM408.6 118.3h.8v.8h-.8zM403.6 127.8h.8v.8h-.8zM401.9 119.5h.8v.8h-.8zM402.0 126.3h.8v.8h-.8zM397.5 124.4h.8v.8h-.8zM398.2 120.9h.8v.8h-.8zM409.9 120.4h.8v.8h-.8zM393.1 126.9h.8v.8h-.8zM396.3 124.3h.8v.8h-.8zM395.4 115.5h.8v.8h-.8zM399.5 120.0h.8v.8h-.8zM401.9 121.6h.8v.8h-.8zM400.1 117.8h.8v.8h-.8zM395.6 113.4h.8v.8h-.8zM395.6 116.8h.8v.8h-.8zM397.2 121.6h.8v.8h-.8zM408.6 119.5h.8v.8h-.8zM392.8 119.7h.8v.8h-.8zM402.2 121.0h.8v.8h-.8zM397.7 121.8h.8v.8h-.8zM395.2 120.9h.8v.8h-.8zM395.9 123.8h.8v.8h-.8zM404.1 121.2h.8v.8h-.8zM400.1 118.7h.8v.8h-.8zM399.0 116.4h.8v.8h-.8zM399.4 121.5h.8v.8h-.8zM400.2 120.1h.8v.8h-.8zM396.8 118.9h.8v.8h-.8zM400.6 118.0h.8v.8h-.8zM397.9 126.2h.8v.8h-.8zM398.0 116.0h.8v.8h-.8zM391.0 118.2h.8v.8h-.8zM395.7 123.0h.8v.8h-.8zM394.9 121.9h.8v.8h-.8zM396.9 119.1h.8v.8h-.8zM402.8 124.1h.8v.8h-.8zM394.6 118.9h.8v.8h-.8zM409.4 116.7h.8v.8h-.8zM404.6 121.8h.8v.8h-.8zM393.7 117.1h.8v.8h-.8zM400.9 114.5h.8v.8h-.8zM399.1 120.5h.8v.8h-.8zM401.9 118.6h.8v.8h-.8zM403.9 122.4h.8v.8h-.8zM397.8 121.2h.8v.8h-.8zM403.4 120.2h.8v.8h-.8zM402.7 121.9h.8v.8h-.8zM401.3 124.8h.8v.8h-.8zM405.5 123.2h.8v.8h-.8zM397.0 120.9h.8v.8h-.8zM401.6 119.0h.8v.8h-.8zM395.6 119.6h.8v.8h-.8zM393.3 122.8h.8v.8h-.8zM402.7 117.7h.8v.8h-.8zM393.0 123.9h.8v.8h-.8zM399.0 114.7h.8v.8h-.8zM405.4 119.5h.8v.8h-.8zM403.2 123.6h.8v.8h-.8zM402.6 121.3h.8v.8h-.8zM402.8 120.5h.8v.8h-.8zM406.9 123.4h.8v.8h-.8zM402.3 120.5h.8v.8h-.8zM402.2 120.1h.8v.8h-.8zM403.8 119.6h.8v.8h-.8zM396.9 118.9h.8v.8h-.8zM404.2 120.3h.8v.8h-.8zM399.0 118.7h.8v.8h-.8zM405.7 120.7h.8v.8h-.8zM394.8 119.6h.8v.8h-.8zM405.2 122.5h.8v.8h-.8zM393.9 119.5h.8v.8h-.8zM398.7 124.1h.8v.8h-.8zM398.3 116.1h.8v.8h-.8zM390.8 119.0h.8v.8h-.8zM398.6 117.0h.8v.8h-.8zM399.0 121.8h.8v.8h-.8zM399.4 123.2h.8v.8h-.8zM405.4 122.1h.8v.8h-.8zM401.8 119.5h.8v.8h-.8zM390.7 117.1h.8v.8h-.8zM395.8 117.7h.8v.8h-.8zM402.3 125.7h.8v.8h-.8zM391.3 122.0h.8v.8h-.8zM406.6 123.3h.8v.8h-.8zM400.9 117.8h.8v.8h-.8zM393.5 123.8h.8v.8h-.8zM403.1 121.6h.8v.8h-.8zM399.6 118.8h.8v.8h-.8zM405.2 122.7h.8v.8h-.8zM398.3 118.1h.8v.8h-.8zM398.7 115.6h.8v.8h-.8zM396.7 115.6h.8v.8h-.8zM400.4 124.5h.8v.8h-.8zM392.9 125.1h.8v.8h-.8zM407.9 121.8h.8v.8h-.8zM406.3 120.8h.8v.8h-.8zM409.4 122.8h.8v.8h-.8zM403.7 126.9h.8v.8h-.8zM401.3 119.1h.8v.8h-.8zM403.7 122.4h.8v.8h-.8zM396.2 125.2h.8v.8h-.8zM397.6 115.3h.8v.8h-.8zM396.9 119.6h.8v.8h-.8zM391.8 124.7h.8v.8h-.8zM402.0 118.3h.8v.8h-.8zM391.1 125.1h.8v.8h-.8zM403.5 124.1h.8v.8h-.8zM403.4 118.8h.8v.8h-.8zM401.5 125.3h.8v.8h-.8zM400.4 122.7h.8v.8h-.8zM404.7 119.4h.8v.8h-.8zM399.3 117.6h.8v.8h-.8zM457.4 121.6h.8v.8h-.8zM459.7 119.8h.8v.8h-.8zM464.7 117.2h.8v.8h-.8zM462.4 120.9h.8v.8h-.8zM456.7 111.9h.8v.8h-.8zM464.6 116.6h.8v.8h-.8zM456.0 114.7h.8v.8h-.8zM464.5 121.2h.8v.8h-.8zM459.9 117.9h.8v.8h-.8zM463.3 123.5h.8v.8h-.8zM464.0 112.2h.8v.8h-.8zM467.8 122.9h.8v.8h-.8zM463.2 114.3h.8v.8h-.8zM471.1 119.3h.8v.8h-.8zM452.3 115.7h.8v.8h-.8zM461.6 118.0h.8v.8h-.8zM467.8 117.5h.8v.8h-.8zM466.3 118.3h.8v.8h-.8zM458.8 114.7h.8v.8h-.8zM461.4 115.3h.8v.8h-.8zM457.4 114.3h.8v.8h-.8zM458.8 117.7h.8v.8h-.8zM462.2 117.5h.8v.8h-.8zM461.1 112.9h.8v.8h-.8zM459.5 123.0h.8v.8h-.8zM462.3 122.6h.8v.8h-.8zM463.6 110.9h.8v.8h-.8zM457.4 119.0h.8v.8h-.8zM460.3 113.8h.8v.8h-.8zM457.4 118.8h.8v.8h-.8zM462.1 112.7h.8v.8h-.8zM452.4 123.0h.8v.8h-.8zM460.9 114.5h.8v.8h-.8zM461.8 115.1h.8v.8h-.8zM459.7 118.1h.8v.8h-.8zM466.1 120.2h.8v.8h-.8zM452.5 118.2h.8v.8h-.8zM454.1 115.0h.8v.8h-.8zM459.3 116.7h.8v.8h-.8zM466.3 121.9h.8v.8h-.8zM457.3 123.0h.8v.8h-.8zM463.7 122.3h.8v.8h-.8zM464.8 113.3h.8v.8h-.8zM462.0 112.5h.8v.8h-.8zM457.3 120.1h.8v.8h-.8zM461.9 119.4h.8v.8h-.8zM462.4 119.2h.8v.8h-.8zM465.5 119.7h.8v.8h-.8zM465.8 114.2h.8v.8h-.8zM466.4 119.8h.8v.8h-.8zM458.2 118.9h.8v.8h-.8zM462.1 116.7h.8v.8h-.8zM457.6 115.0h.8v.8h-.8zM454.1 118.0h.8v.8h-.8zM459.6 123.1h.8v.8h-.8zM464.5 117.2h.8v.8h-.8zM455.2 117.0h.8v.8h-.8zM464.9 120.3h.8v.8h-.8zM462.2 125.0h.8v.8h-.8zM463.2 116.0h.8v.8h-.8zM461.0 123.0h.8v.8h-.8zM469.0 117.2h.8v.8h-.8zM466.2 120.1h.8v.8h-.8zM460.3 121.2h.8v.8h-.8zM455.0 115.1h.8v.8h-.8zM459.4 120.2h.8v.8h-.8zM463.5 115.3h.8v.8h-.8zM456.9 115.7h.8v.8h-.8zM456.2 112.0h.8v.8h-.8zM460.0 115.2h.8v.8h-.8zM461.7 122.3h.8v.8h-.8zM462.2 118.7h.8v.8h-.8zM456.8 117.4h.8v.8h-.8zM461.3 124.8h.8v.8h-.8zM460.5 116.0h.8v.8h-.8zM455.6 112.7h.8v.8h-.8zM457.9 116.2h.8v.8h-.8zM468.0 117.9h.8v.8h-.8zM453.3 117.4h.8v.8h-.8zM469.4 121.0h.8v.8h-.8zM457.3 120.0h.8v.8h-.8zM466.0 125.1h.8v.8h-.8zM467.9 119.9h.8v.8h-.8zM462.6 114.1h.8v.8h-.8zM458.8 121.3h.8v.8h-.8zM452.4 119.6h.8v.8h-.8zM465.2 113.7h.8v.8h-.8zM461.8 118.9h.8v.8h-.8zM456.7 122.5h.8v.8h-.8zM461.1 117.6h.8v.8h-.8zM454.2 118.5h.8v.8h-.8zM461.6 119.9h.8v.8h-.8zM458.5 119.0h.8v.8h-.8zM459.8 119.5h.8v.8h-.8zM462.7 119.5h.8v.8h-.8zM463.4 113.9h.8v.8h-.8zM461.5 121.1h.8v.8h-.8zM458.1 125.9h.8v.8h-.8zM458.6 113.6h.8v.8h-.8zM464.7 121.8h.8v.8h-.8zM454.3 114.0h.8v.8h-.8zM467.1 122.2h.8v.8h-.8zM465.0 114.8h.8v.8h-.8zM457.4 119.3h.8v.8h-.8zM465.1 113.8h.8v.8h-.8zM462.3 114.9h.8v.8h-.8zM469.4 121.9h.8v.8h-.8zM465.6 117.4h.8v.8h-.8zM461.7 112.8h.8v.8h-.8zM454.8 112.3h.8v.8h-.8zM460.5 114.9h.8v.8h-.8zM460.4 123.8h.8v.8h-.8zM463.0 119.0h.8v.8h-.8zM468.2 118.6h.8v.8h-.8zM465.0 111.3h.8v.8h-.8zM458.0 116.6h.8v.8h-.8zM463.3 113.5h.8v.8h-.8zM461.2 117.3h.8v.8h-.8zM462.1 114.8h.8v.8h-.8zM458.8 124.6h.8v.8h-.8zM451.8 121.7h.8v.8h-.8zM459.7 119.1h.8v.8h-.8zM455.9 118.6h.8v.8h-.8zM464.3 120.2h.8v.8h-.8zM455.2 116.9h.8v.8h-.8zM468.3 122.8h.8v.8h-.8zM457.1 119.6h.8v.8h-.8zM465.2 123.1h.8v.8h-.8zM461.3 116.6h.8v.8h-.8zM457.7 116.1h.8v.8h-.8zM455.0 116.6h.8v.8h-.8zM465.4 114.1h.8v.8h-.8zM464.7 119.8h.8v.8h-.8zM462.8 114.7h.8v.8h-.8zM470.5 119.4h.8v.8h-.8zM462.0 115.2h.8v.8h-.8zM463.7 115.7h.8v.8h-.8zM455.5 122.0h.8v.8h-.8zM465.8 123.5h.8v.8h-.8zM460.9 118.4h.8v.8h-.8zM457.2 123.1h.8v.8h-.8zM464.8 113.8h.8v.8h-.8zM463.6 118.0h.8v.8h-.8zM466.2 121.6h.8v.8h-.8zM464.1 116.5h.8v.8h-.8zM459.4 116.4h.8v.8h-.8zM463.4 114.1h.8v.8h-.8zM465.5 117.6h.8v.8h-.8zM458.6 117.6h.8v.8h-.8zM460.3 113.6h.8v.8h-.8zM460.4 114.4h.8v.8h-.8zM456.8 114.3h.8v.8h-.8zM459.1 118.4h.8v.8h-.8zM458.7 119.4h.8v.8h-.8zM465.7 118.9h.8v.8h-.8zM460.1 120.4h.8v.8h-.8zM455.8 115.9h.8v.8h-.8zM456.4 122.5h.8v.8h-.8zM456.8 117.4h.8v.8h-.8zM463.2 116.7h.8v.8h-.8zM458.5 116.2h.8v.8h-.8zM464.8 120.5h.8v.8h-.8zM464.5 115.9h.8v.8h-.8zM459.9 111.9h.8v.8h-.8zM460.8 119.2h.8v.8h-.8zM458.9 119.6h.8v.8h-.8zM457.7 119.4h.8v.8h-.8zM460.7 109.8h.8v.8h-.8zM457.3 123.6h.8v.8h-.8zM469.9 118.8h.8v.8h-.8zM453.0 117.1h.8v.8h-.8zM459.4 118.4h.8v.8h-.8zM457.3 114.0h.8v.8h-.8zM461.8 116.6h.8v.8h-.8zM461.1 113.9h.8v.8h-.8zM459.8 112.5h.8v.8h-.8zM465.8 116.3h.8v.8h-.8zM455.8 117.9h.8v.8h-.8zM466.5 115.7h.8v.8h-.8zM459.5 116.6h.8v.8h-.8zM463.5 124.8h.8v.8h-.8zM461.4 118.6h.8v.8h-.8zM459.7 118.5h.8v.8h-.8zM457.0 120.7h.8v.8h-.8zM463.6 118.7h.8v.8h-.8zM462.8 117.0h.8v.8h-.8zM455.4 116.1h.8v.8h-.8zM460.3 124.6h.8v.8h-.8zM458.6 116.0h.8v.8h-.8zM459.7 117.1h.8v.8h-.8zM463.7 117.8h.8v.8h-.8zM452.7 116.8h.8v.8h-.8zM469.2 114.9h.8v.8h-.8zM455.8 116.0h.8v.8h-.8zM465.2 117.0h.8v.8h-.8zM459.2 113.3h.8v.8h-.8zM457.9 118.6h.8v.8h-.8zM462.6 115.2h.8v.8h-.8zM463.6 122.3h.8v.8h-.8zM457.5 123.3h.8v.8h-.8zM454.9 122.5h.8v.8h-.8zM462.9 121.3h.8v.8h-.8zM463.8 121.7h.8v.8h-.8zM456.3 122.0h.8v.8h-.8zM458.6 116.3h.8v.8h-.8zM469.2 120.1h.8v.8h-.8zM459.5 123.4h.8v.8h-.8zM462.7 116.7h.8v.8h-.8zM462.8 115.5h.8v.8h-.8zM464.4 116.2h.8v.8h-.8zM453.8 117.7h.8v.8h-.8zM455.6 116.9h.8v.8h-.8zM461.5 112.5h.8v.8h-.8zM458.7 113.7h.8v.8h-.8zM466.1 119.1h.8v.8h-.8zM459.0 121.0h.8v.8h-.8zM460.5 114.2h.8v.8h-.8zM455.8 117.2h.8v.8h-.8zM461.8 121.9h.8v.8h-.8zM459.1 119.5h.8v.8h-.8zM458.4 115.4h.8v.8h-.8zM453.1 118.4h.8v.8h-.8zM463.3 115.8h.8v.8h-.8zM454.8 121.5h.8v.8h-.8zM457.1 121.3h.8v.8h-.8zM461.5 122.2h.8v.8h-.8zM457.2 120.2h.8v.8h-.8zM462.3 116.3h.8v.8h-.8zM460.6 117.0h.8v.8h-.8zM461.0 118.5h.8v.8h-.8zM458.8 119.0h.8v.8h-.8zM460.3 122.4h.8v.8h-.8zM455.1 117.8h.8v.8h-.8zM456.8 121.0h.8v.8h-.8zM466.4 118.8h.8v.8h-.8zM463.6 115.5h.8v.8h-.8zM452.1 121.4h.8v.8h-.8zM459.0 122.8h.8v.8h-.8zM464.5 113.7h.8v.8h-.8zM455.0 114.4h.8v.8h-.8zM464.8 117.3h.8v.8h-.8zM456.7 114.4h.8v.8h-.8zM453.5 118.8h.8v.8h-.8zM459.9 115.9h.8v.8h-.8zM455.3 113.2h.8v.8h-.8zM460.5 118.2h.8v.8h-.8zM453.0 115.8h.8v.8h-.8zM458.2 115.5h.8v.8h-.8zM461.0 114.3h.8v.8h-.8zM464.3 118.9h.8v.8h-.8zM460.3 113.6h.8v.8h-.8zM460.3 116.7h.8v.8h-.8zM464.5 119.8h.8v.8h-.8zM463.7 120.1h.8v.8h-.8zM455.8 110.8h.8v.8h-.8zM466.3 115.8h.8v.8h-.8zM458.9 120.8h.8v.8h-.8zM463.9 113.8h.8v.8h-.8zM462.0 116.7h.8v.8h-.8zM466.2 115.2h.8v.8h-.8zM463.7 116.7h.8v.8h-.8zM469.0 114.6h.8v.8h-.8zM476.6 124.2h.8v.8h-.8zM480.6 126.1h.8v.8h-.8zM476.6 123.2h.8v.8h-.8zM483.6 127.0h.8v.8h-.8zM482.0 123.5h.8v.8h-.8zM483.0 126.4h.8v.8h-.8zM476.2 126.4h.8v.8h-.8zM479.9 124.9h.8v.8h-.8zM477.1 126.9h.8v.8h-.8zM476.6 124.3h.8v.8h-.8zM479.3 122.0h.8v.8h-.8zM479.2 119.7h.8v.8h-.8zM479.5 122.9h.8v.8h-.8zM479.5 121.1h.8v.8h-.8zM476.0 120.2h.8v.8h-.8zM484.7 123.7h.8v.8h-.8zM481.1 123.6h.8v.8h-.8zM478.9 128.4h.8v.8h-.8zM482.7 123.5h.8v.8h-.8zM482.3 126.4h.8v.8h-.8zM474.0 122.9h.8v.8h-.8zM480.6 128.2h.8v.8h-.8zM475.9 124.8h.8v.8h-.8zM482.5 124.3h.8v.8h-.8zM477.5 123.2h.8v.8h-.8zM482.1 129.2h.8v.8h-.8zM482.1 121.0h.8v.8h-.8zM484.6 123.1h.8v.8h-.8zM475.1 123.7h.8v.8h-.8zM485.7 125.0h.8v.8h-.8zM475.8 123.8h.8v.8h-.8zM483.7 124.6h.8v.8h-.8zM475.4 126.9h.8v.8h-.8zM480.6 119.9h.8v.8h-.8zM483.1 125.7h.8v.8h-.8zM480.4 124.9h.8v.8h-.8zM477.1 123.7h.8v.8h-.8zM480.4 121.4h.8v.8h-.8zM479.0 124.3h.8v.8h-.8zM484.0 125.1h.8v.8h-.8zM475.6 124.1h.8v.8h-.8zM474.4 120.3h.8v.8h-.8zM477.6 127.1h.8v.8h-.8zM481.0 122.8h.8v.8h-.8zM478.8 127.8h.8v.8h-.8zM477.6 124.0h.8v.8h-.8zM480.7 127.3h.8v.8h-.8zM480.4 127.3h.8v.8h-.8zM483.8 121.5h.8v.8h-.8zM484.8 122.1h.8v.8h-.8zM475.6 119.5h.8v.8h-.8zM478.8 126.8h.8v.8h-.8zM481.1 122.2h.8v.8h-.8zM477.7 120.7h.8v.8h-.8zM477.8 125.3h.8v.8h-.8zM481.5 125.3h.8v.8h-.8zM484.0 125.6h.8v.8h-.8zM477.7 126.6h.8v.8h-.8zM474.0 124.8h.8v.8h-.8zM483.2 122.5h.8v.8h-.8zM477.4 128.5h.8v.8h-.8zM478.7 124.5h.8v.8h-.8zM479.3 124.7h.8v.8h-.8zM479.9 125.9h.8v.8h-.8zM484.8 120.9h.8v.8h-.8zM475.4 124.8h.8v.8h-.8zM479.8 119.8h.8v.8h-.8zM482.4 127.2h.8v.8h-.8zM478.8 122.1h.8v.8h-.8zM480.8 129.4h.8v.8h-.8zM474.3 127.3h.8v.8h-.8zM480.5 123.2h.8v.8h-.8zM478.9 129.4h.8v.8h-.8zM476.7 122.2h.8v.8h-.8zM478.6 128.2h.8v.8h-.8zM479.6 122.3h.8v.8h-.8zM480.0 125.3h.8v.8h-.8zM481.3 123.2h.8v.8h-.8zM480.7 124.3h.8v.8h-.8zM478.6 125.0h.8v.8h-.8zM479.1 124.3h.8v.8h-.8zM478.5 124.9h.8v.8h-.8zM481.4 123.5h.8v.8h-.8zM478.5 121.9h.8v.8h-.8zM476.6 122.7h.8v.8h-.8zM479.7 122.6h.8v.8h-.8zM482.0 125.1h.8v.8h-.8zM478.4 125.0h.8v.8h-.8zM480.4 126.6h.8v.8h-.8zM478.9 123.6h.8v.8h-.8zM479.2 126.1h.8v.8h-.8zM479.2 128.4h.8v.8h-.8zM477.7 123.7h.8v.8h-.8zM477.3 128.9h.8v.8h-.8zM480.2 126.7h.8v.8h-.8zM473.5 126.6h.8v.8h-.8zM483.6 127.1h.8v.8h-.8zM481.5 123.4h.8v.8h-.8zM479.6 125.0h.8v.8h-.8zM481.5 126.5h.8v.8h-.8zM479.4 120.6h.8v.8h-.8zM480.7 128.9h.8v.8h-.8zM473.1 125.4h.8v.8h-.8zM477.0 123.6h.8v.8h-.8zM482.6 123.5h.8v.8h-.8zM483.7 120.6h.8v.8h-.8zM483.5 129.3h.8v.8h-.8zM473.6 122.1h.8v.8h-.8zM481.7 124.0h.8v.8h-.8zM481.8 124.6h.8v.8h-.8zM475.8 124.7h.8v.8h-.8zM475.9 124.5h.8v.8h-.8zM484.2 127.7h.8v.8h-.8zM485.3 124.1h.8v.8h-.8zM485.1 128.5h.8v.8h-.8zM478.7 127.2h.8v.8h-.8zM483.4 126.2h.8v.8h-.8zM479.2 119.1h.8v.8h-.8zM478.8 120.9h.8v.8h-.8zM477.4 122.3h.8v.8h-.8zM486.2 123.5h.8v.8h-.8zM478.5 123.6h.8v.8h-.8zM478.6 126.3h.8v.8h-.8zM483.0 122.6h.8v.8h-.8zM476.0 121.3h.8v.8h-.8zM476.7 121.7h.8v.8h-.8zM484.6 123.5h.8v.8h-.8zM478.3 120.0h.8v.8h-.8zM481.0 127.0h.8v.8h-.8zM479.7 125.4h.8v.8h-.8zM475.0 124.6h.8v.8h-.8zM476.7 125.4h.8v.8h-.8zM482.2 128.3h.8v.8h-.8zM476.9 129.2h.8v.8h-.8zM475.0 122.2h.8v.8h-.8zM479.3 122.1h.8v.8h-.8zM484.0 123.8h.8v.8h-.8zM477.1 125.4h.8v.8h-.8zM476.0 123.4h.8v.8h-.8zM483.1 124.9h.8v.8h-.8zM479.9 126.9h.8v.8h-.8zM479.8 126.4h.8v.8h-.8zM478.2 126.7h.8v.8h-.8zM480.2 123.0h.8v.8h-.8zM485.6 122.6h.8v.8h-.8zM478.3 124.2h.8v.8h-.8zM477.5 118.9h.8v.8h-.8zM480.5 121.4h.8v.8h-.8zM476.9 124.0h.8v.8h-.8zM483.3 124.7h.8v.8h-.8zM483.1 129.2h.8v.8h-.8zM479.1 124.8h.8v.8h-.8zM477.4 120.3h.8v.8h-.8zM480.3 126.5h.8v.8h-.8zM475.1 128.6h.8v.8h-.8zM475.8 129.2h.8v.8h-.8zM484.7 124.2h.8v.8h-.8zM478.8 122.8h.8v.8h-.8zM484.9 122.3h.8v.8h-.8zM480.5 121.8h.8v.8h-.8zM480.7 126.6h.8v.8h-.8zM479.3 126.0h.8v.8h-.8zM483.3 126.3h.8v.8h-.8zM480.5 124.2h.8v.8h-.8zM479.8 124.1h.8v.8h-.8zM476.6 122.4h.8v.8h-.8zM482.4 126.0h.8v.8h-.8zM479.4 125.5h.8v.8h-.8zM477.4 123.3h.8v.8h-.8zM477.5 125.9h.8v.8h-.8zM477.9 122.7h.8v.8h-.8zM479.0 121.4h.8v.8h-.8zM479.5 128.8h.8v.8h-.8zM483.6 122.6h.8v.8h-.8zM473.6 124.5h.8v.8h-.8zM484.4 126.4h.8v.8h-.8zM484.4 126.4h.8v.8h-.8zM480.9 126.4h.8v.8h-.8zM473.0 127.6h.8v.8h-.8zM479.6 122.1h.8v.8h-.8zM483.3 124.5h.8v.8h-.8zM477.3 125.5h.8v.8h-.8zM480.6 127.0h.8v.8h-.8zM484.9 127.7h.8v.8h-.8zM481.2 125.4h.8v.8h-.8zM478.4 126.2h.8v.8h-.8zM474.1 128.3h.8v.8h-.8zM480.7 122.2h.8v.8h-.8zM483.0 121.8h.8v.8h-.8zM479.5 123.8h.8v.8h-.8zM477.5 121.9h.8v.8h-.8zM484.6 123.1h.8v.8h-.8zM477.4 126.0h.8v.8h-.8zM477.2 125.0h.8v.8h-.8zM480.1 124.3h.8v.8h-.8zM477.8 123.7h.8v.8h-.8zM481.8 126.5h.8v.8h-.8zM484.5 127.4h.8v.8h-.8zM480.7 127.5h.8v.8h-.8zM479.9 124.4h.8v.8h-.8zM475.1 121.4h.8v.8h-.8zM475.4 124.1h.8v.8h-.8zM476.5 124.6h.8v.8h-.8zM477.5 123.9h.8v.8h-.8zM478.6 123.4h.8v.8h-.8zM479.4 125.5h.8v.8h-.8zM477.1 127.6h.8v.8h-.8zM482.8 119.8h.8v.8h-.8zM478.3 124.0h.8v.8h-.8zM480.8 125.4h.8v.8h-.8zM478.3 127.5h.8v.8h-.8zM478.5 124.6h.8v.8h-.8zM476.7 124.5h.8v.8h-.8zM476.2 126.5h.8v.8h-.8zM482.1 128.4h.8v.8h-.8zM481.5 123.1h.8v.8h-.8zM479.9 124.1h.8v.8h-.8zM480.0 124.0h.8v.8h-.8zM486.4 125.0h.8v.8h-.8zM478.0 121.4h.8v.8h-.8zM479.1 122.6h.8v.8h-.8zM479.3 118.6h.8v.8h-.8zM482.3 125.5h.8v.8h-.8zM473.3 120.7h.8v.8h-.8zM480.7 122.2h.8v.8h-.8zM484.9 126.8h.8v.8h-.8zM480.2 125.1h.8v.8h-.8zM475.1 124.5h.8v.8h-.8zM478.7 122.6h.8v.8h-.8zM475.9 124.6h.8v.8h-.8zM481.1 122.9h.8v.8h-.8zM479.8 122.0h.8v.8h-.8zM475.9 125.3h.8v.8h-.8zM486.6 123.1h.8v.8h-.8zM478.5 127.6h.8v.8h-.8zM477.2 124.3h.8v.8h-.8zM479.1 125.7h.8v.8h-.8zM477.8 124.2h.8v.8h-.8zM476.2 120.5h.8v.8h-.8zM478.2 122.4h.8v.8h-.8zM480.0 126.3h.8v.8h-.8zM482.9 126.9h.8v.8h-.8zM474.6 122.5h.8v.8h-.8zM475.3 120.1h.8v.8h-.8zM477.7 120.3h.8v.8h-.8zM480.4 123.1h.8v.8h-.8zM473.7 126.5h.8v.8h-.8zM476.7 125.7h.8v.8h-.8zM483.5 125.2h.8v.8h-.8zM482.0 122.0h.8v.8h-.8zM482.3 124.8h.8v.8h-.8zM476.0 126.0h.8v.8h-.8zM481.6 124.9h.8v.8h-.8zM478.1 125.4h.8v.8h-.8zM476.4 126.7h.8v.8h-.8zM478.2 124.5h.8v.8h-.8zM484.3 124.5h.8v.8h-.8zM482.7 126.6h.8v.8h-.8zM476.6 123.4h.8v.8h-.8zM484.2 120.8h.8v.8h-.8zM480.3 121.0h.8v.8h-.8zM475.8 126.3h.8v.8h-.8zM480.3 123.7h.8v.8h-.8zM475.0 123.7h.8v.8h-.8zM483.7 126.1h.8v.8h-.8zM481.6 125.9h.8v.8h-.8zM476.4 124.4h.8v.8h-.8zM477.5 127.2h.8v.8h-.8zM480.1 128.2h.8v.8h-.8zM481.0 124.8h.8v.8h-.8zM482.8 125.5h.8v.8h-.8zM481.9 125.0h.8v.8h-.8zM480.4 123.8h.8v.8h-.8zM477.1 125.0h.8v.8h-.8zM479.5 124.3h.8v.8h-.8zM475.6 124.0h.8v.8h-.8zM479.4 128.3h.8v.8h-.8zM478.4 120.3h.8v.8h-.8zM480.6 122.2h.8v.8h-.8zM481.4 126.1h.8v.8h-.8zM482.7 121.5h.8v.8h-.8zM486.4 123.0h.8v.8h-.8zM477.9 126.9h.8v.8h-.8zM479.3 123.3h.8v.8h-.8zM477.2 125.2h.8v.8h-.8zM477.5 126.0h.8v.8h-.8zM478.5 124.0h.8v.8h-.8zM481.8 125.1h.8v.8h-.8zM480.2 125.1h.8v.8h-.8zM482.8 123.5h.8v.8h-.8zM479.9 122.1h.8v.8h-.8zM475.4 121.9h.8v.8h-.8zM481.5 128.2h.8v.8h-.8zM477.8 125.8h.8v.8h-.8zM479.0 123.5h.8v.8h-.8zM475.3 125.9h.8v.8h-.8zM481.8 123.3h.8v.8h-.8zM479.1 120.6h.8v.8h-.8zM481.6 122.8h.8v.8h-.8zM483.0 127.6h.8v.8h-.8zM483.2 123.5h.8v.8h-.8zM476.3 123.5h.8v.8h-.8zM478.8 122.0h.8v.8h-.8zM482.0 124.8h.8v.8h-.8zM474.8 121.2h.8v.8h-.8zM483.2 123.3h.8v.8h-.8zM475.0 125.4h.8v.8h-.8zM478.4 121.1h.8v.8h-.8zM478.5 121.5h.8v.8h-.8zM476.3 124.3h.8v.8h-.8zM480.2 123.0h.8v.8h-.8zM484.2 121.4h.8v.8h-.8zM477.7 121.2h.8v.8h-.8zM478.6 125.9h.8v.8h-.8zM475.8 125.6h.8v.8h-.8zM484.5 123.6h.8v.8h-.8zM482.9 123.3h.8v.8h-.8zM478.0 123.5h.8v.8h-.8zM472.6 126.3h.8v.8h-.8zM477.8 123.9h.8v.8h-.8zM476.7 125.5h.8v.8h-.8zM483.4 124.6h.8v.8h-.8zM483.3 128.0h.8v.8h-.8zM480.6 123.8h.8v.8h-.8zM477.9 125.0h.8v.8h-.8zM479.4 124.8h.8v.8h-.8zM476.8 123.9h.8v.8h-.8zM482.4 128.7h.8v.8h-.8zM482.9 126.6h.8v.8h-.8zM473.8 124.8h.8v.8h-.8zM476.2 125.8h.8v.8h-.8zM479.5 127.6h.8v.8h-.8zM481.6 125.5h.8v.8h-.8zM476.4 122.3h.8v.8h-.8zM477.5 123.8h.8v.8h-.8zM474.7 122.1h.8v.8h-.8zM479.8 122.7h.8v.8h-.8zM480.5 125.4h.8v.8h-.8zM479.2 120.6h.8v.8h-.8zM480.1 122.0h.8v.8h-.8zM481.4 126.2h.8v.8h-.8zM479.7 125.5h.8v.8h-.8zM476.3 124.9h.8v.8h-.8zM475.6 129.3h.8v.8h-.8zM477.5 125.0h.8v.8h-.8zM483.7 126.1h.8v.8h-.8zM479.6 127.6h.8v.8h-.8zM483.2 124.7h.8v.8h-.8zM479.2 125.0h.8v.8h-.8zM477.3 128.1h.8v.8h-.8zM481.6 123.9h.8v.8h-.8zM472.1 123.1h.8v.8h-.8zM475.5 123.1h.8v.8h-.8zM479.9 125.9h.8v.8h-.8zM482.5 127.5h.8v.8h-.8zM473.4 123.7h.8v.8h-.8zM479.4 124.4h.8v.8h-.8zM480.8 127.8h.8v.8h-.8zM485.3 126.3h.8v.8h-.8zM479.1 126.1h.8v.8h-.8zM477.4 125.8h.8v.8h-.8zM478.8 120.3h.8v.8h-.8zM474.5 120.4h.8v.8h-.8zM479.8 125.4h.8v.8h-.8zM476.8 120.1h.8v.8h-.8zM475.3 124.4h.8v.8h-.8zM480.4 121.4h.8v.8h-.8zM480.4 125.4h.8v.8h-.8zM476.8 128.5h.8v.8h-.8zM476.6 124.4h.8v.8h-.8zM480.5 124.0h.8v.8h-.8zM475.1 124.0h.8v.8h-.8zM479.2 125.1h.8v.8h-.8zM473.5 120.8h.8v.8h-.8zM482.4 126.6h.8v.8h-.8zM479.1 124.4h.8v.8h-.8zM478.1 122.1h.8v.8h-.8zM480.7 126.7h.8v.8h-.8zM481.0 126.4h.8v.8h-.8zM474.1 121.2h.8v.8h-.8zM479.7 126.9h.8v.8h-.8zM479.7 123.7h.8v.8h-.8zM484.4 124.9h.8v.8h-.8zM487.1 123.1h.8v.8h-.8zM478.1 125.0h.8v.8h-.8zM477.9 128.4h.8v.8h-.8zM486.7 123.0h.8v.8h-.8zM473.1 121.2h.8v.8h-.8zM476.8 125.7h.8v.8h-.8zM479.4 123.9h.8v.8h-.8zM480.0 120.3h.8v.8h-.8zM485.1 126.0h.8v.8h-.8zM479.8 124.9h.8v.8h-.8zM480.3 122.3h.8v.8h-.8zM474.1 126.7h.8v.8h-.8zM475.0 123.9h.8v.8h-.8zM483.9 120.6h.8v.8h-.8zM477.2 122.2h.8v.8h-.8zM485.0 124.9h.8v.8h-.8zM475.1 125.8h.8v.8h-.8zM480.0 118.3h.8v.8h-.8zM481.9 126.9h.8v.8h-.8zM482.0 129.2h.8v.8h-.8zM478.6 125.0h.8v.8h-.8zM477.6 120.6h.8v.8h-.8zM475.7 122.3h.8v.8h-.8zM479.5 122.8h.8v.8h-.8zM482.1 122.7h.8v.8h-.8zM483.0 123.0h.8v.8h-.8zM476.6 123.4h.8v.8h-.8zM478.4 127.8h.8v.8h-.8zM481.3 125.9h.8v.8h-.8zM479.9 121.9h.8v.8h-.8zM479.1 128.6h.8v.8h-.8zM478.6 123.1h.8v.8h-.8zM485.8 127.8h.8v.8h-.8zM478.5 124.0h.8v.8h-.8zM480.7 126.9h.8v.8h-.8zM481.8 125.0h.8v.8h-.8zM480.1 122.2h.8v.8h-.8zM474.0 122.3h.8v.8h-.8zM479.9 121.0h.8v.8h-.8zM476.9 119.0h.8v.8h-.8zM480.2 123.5h.8v.8h-.8zM479.1 124.5h.8v.8h-.8zM477.5 121.6h.8v.8h-.8zM479.7 127.9h.8v.8h-.8zM483.3 125.8h.8v.8h-.8zM477.5 122.6h.8v.8h-.8zM481.1 126.2h.8v.8h-.8zM480.7 128.0h.8v.8h-.8zM481.7 121.5h.8v.8h-.8zM482.1 124.4h.8v.8h-.8zM477.0 125.6h.8v.8h-.8zM472.3 123.0h.8v.8h-.8zM484.7 127.9h.8v.8h-.8zM481.6 124.5h.8v.8h-.8zM484.0 123.2h.8v.8h-.8zM484.9 123.0h.8v.8h-.8zM475.0 121.2h.8v.8h-.8zM481.0 121.7h.8v.8h-.8zM480.7 125.7h.8v.8h-.8zM477.1 121.9h.8v.8h-.8zM480.7 125.2h.8v.8h-.8zM483.7 125.7h.8v.8h-.8zM474.6 123.1h.8v.8h-.8zM480.2 126.2h.8v.8h-.8zM483.0 124.4h.8v.8h-.8zM480.3 124.9h.8v.8h-.8zM481.9 125.5h.8v.8h-.8zM481.4 128.0h.8v.8h-.8zM481.3 123.9h.8v.8h-.8zM476.1 124.0h.8v.8h-.8zM481.7 125.5h.8v.8h-.8zM478.3 122.3h.8v.8h-.8zM474.5 123.4h.8v.8h-.8zM478.8 128.6h.8v.8h-.8zM483.3 125.4h.8v.8h-.8zM482.4 129.0h.8v.8h-.8zM478.0 124.5h.8v.8h-.8zM482.9 122.6h.8v.8h-.8zM482.5 125.5h.8v.8h-.8zM481.4 128.2h.8v.8h-.8zM479.3 124.1h.8v.8h-.8zM472.8 122.1h.8v.8h-.8zM478.9 127.0h.8v.8h-.8zM481.2 122.7h.8v.8h-.8zM475.4 124.3h.8v.8h-.8zM474.2 125.0h.8v.8h-.8zM476.2 125.5h.8v.8h-.8zM475.5 122.5h.8v.8h-.8zM476.4 126.1h.8v.8h-.8zM480.3 123.9h.8v.8h-.8zM482.6 125.1h.8v.8h-.8zM476.3 126.4h.8v.8h-.8zM478.2 126.2h.8v.8h-.8zM479.2 127.1h.8v.8h-.8zM481.5 124.5h.8v.8h-.8zM478.7 128.2h.8v.8h-.8zM478.8 120.4h.8v.8h-.8zM480.4 122.0h.8v.8h-.8zM481.0 123.9h.8v.8h-.8zM479.1 124.7h.8v.8h-.8zM478.4 121.4h.8v.8h-.8zM480.8 129.2h.8v.8h-.8zM479.3 122.7h.8v.8h-.8zM476.0 126.2h.8v.8h-.8zM484.5 123.3h.8v.8h-.8zM472.6 126.9h.8v.8h-.8zM479.4 124.3h.8v.8h-.8zM479.3 128.0h.8v.8h-.8zM479.0 126.1h.8v.8h-.8zM481.5 126.3h.8v.8h-.8zM484.3 124.5h.8v.8h-.8zM483.5 125.8h.8v.8h-.8zM483.9 124.2h.8v.8h-.8zM484.0 129.1h.8v.8h-.8zM481.2 125.5h.8v.8h-.8zM475.0 121.8h.8v.8h-.8zM481.8 120.8h.8v.8h-.8zM479.9 120.8h.8v.8h-.8zM476.7 120.9h.8v.8h-.8zM482.1 128.2h.8v.8h-.8zM476.0 121.4h.8v.8h-.8zM482.2 118.9h.8v.8h-.8zM479.1 124.0h.8v.8h-.8zM479.6 121.4h.8v.8h-.8zM481.5 120.7h.8v.8h-.8zM485.3 121.8h.8v.8h-.8zM481.3 128.4h.8v.8h-.8zM482.1 126.9h.8v.8h-.8zM482.1 124.1h.8v.8h-.8zM481.4 121.8h.8v.8h-.8zM479.8 129.1h.8v.8h-.8zM477.8 119.4h.8v.8h-.8zM473.0 121.5h.8v.8h-.8zM476.8 124.9h.8v.8h-.8zM481.4 124.8h.8v.8h-.8zM479.0 128.5h.8v.8h-.8zM485.4 126.3h.8v.8h-.8zM476.6 124.8h.8v.8h-.8zM471.9 123.1h.8v.8h-.8zM481.7 120.2h.8v.8h-.8zM480.4 129.2h.8v.8h-.8zM474.5 125.6h.8v.8h-.8zM479.0 126.2h.8v.8h-.8zM482.3 126.1h.8v.8h-.8zM484.1 127.4h.8v.8h-.8zM481.9 124.2h.8v.8h-.8zM478.3 123.9h.8v.8h-.8zM479.5 120.5h.8v.8h-.8zM485.5 126.9h.8v.8h-.8zM479.8 123.2h.8v.8h-.8zM473.6 127.8h.8v.8h-.8zM479.1 125.6h.8v.8h-.8zM477.9 125.3h.8v.8h-.8zM479.0 124.2h.8v.8h-.8zM480.7 127.7h.8v.8h-.8zM477.6 126.9h.8v.8h-.8zM472.6 122.6h.8v.8h-.8zM481.1 125.3h.8v.8h-.8zM481.5 120.8h.8v.8h-.8zM482.5 122.7h.8v.8h-.8zM480.3 128.3h.8v.8h-.8zM481.9 119.8h.8v.8h-.8zM477.0 125.4h.8v.8h-.8zM481.1 119.3h.8v.8h-.8zM479.1 124.5h.8v.8h-.8zM482.5 123.1h.8v.8h-.8zM479.9 121.8h.8v.8h-.8zM482.7 124.5h.8v.8h-.8zM476.6 124.8h.8v.8h-.8zM478.3 123.8h.8v.8h-.8zM476.3 123.9h.8v.8h-.8zM479.7 123.2h.8v.8h-.8zM479.5 124.9h.8v.8h-.8zM478.7 125.7h.8v.8h-.8zM475.2 124.4h.8v.8h-.8zM479.2 123.5h.8v.8h-.8zM477.3 128.1h.8v.8h-.8zM482.7 125.2h.8v.8h-.8zM479.2 124.8h.8v.8h-.8zM481.3 120.7h.8v.8h-.8zM478.1 127.5h.8v.8h-.8zM480.6 120.0h.8v.8h-.8zM486.4 125.7h.8v.8h-.8zM477.9 123.7h.8v.8h-.8zM478.7 128.1h.8v.8h-.8zM481.1 124.7h.8v.8h-.8zM481.8 126.9h.8v.8h-.8zM479.3 124.3h.8v.8h-.8zM486.7 123.9h.8v.8h-.8zM481.0 122.6h.8v.8h-.8zM480.3 127.3h.8v.8h-.8zM478.6 122.4h.8v.8h-.8zM481.0 124.6h.8v.8h-.8zM479.8 125.0h.8v.8h-.8zM475.5 128.0h.8v.8h-.8zM478.8 122.6h.8v.8h-.8zM485.1 126.2h.8v.8h-.8zM475.5 120.8h.8v.8h-.8zM485.1 124.5h.8v.8h-.8zM479.0 122.3h.8v.8h-.8zM476.3 127.1h.8v.8h-.8zM479.9 122.9h.8v.8h-.8zM479.7 121.6h.8v.8h-.8zM479.8 128.6h.8v.8h-.8zM482.8 126.2h.8v.8h-.8zM477.8 125.3h.8v.8h-.8zM482.4 123.4h.8v.8h-.8zM478.5 124.1h.8v.8h-.8zM477.1 123.5h.8v.8h-.8zM479.3 129.3h.8v.8h-.8zM485.3 122.2h.8v.8h-.8zM478.7 128.8h.8v.8h-.8zM477.8 125.8h.8v.8h-.8zM478.8 124.5h.8v.8h-.8zM478.8 127.0h.8v.8h-.8zM480.1 120.7h.8v.8h-.8zM476.9 124.3h.8v.8h-.8zM481.8 128.6h.8v.8h-.8zM483.2 122.5h.8v.8h-.8zM482.9 128.8h.8v.8h-.8zM481.7 124.4h.8v.8h-.8zM478.9 123.8h.8v.8h-.8zM481.2 125.6h.8v.8h-.8zM479.1 125.2h.8v.8h-.8zM477.1 121.0h.8v.8h-.8zM483.7 128.5h.8v.8h-.8zM477.7 125.1h.8v.8h-.8zM474.9 126.1h.8v.8h-.8zM477.0 122.9h.8v.8h-.8zM478.1 124.0h.8v.8h-.8zM483.9 123.9h.8v.8h-.8zM479.5 123.3h.8v.8h-.8zM477.2 126.3h.8v.8h-.8zM474.8 127.3h.8v.8h-.8zM482.7 126.9h.8v.8h-.8zM479.6 129.2h.8v.8h-.8zM483.8 124.6h.8v.8h-.8zM481.9 121.3h.8v.8h-.8zM480.9 124.1h.8v.8h-.8zM478.8 128.0h.8v.8h-.8zM478.3 122.7h.8v.8h-.8zM482.5 126.2h.8v.8h-.8zM474.1 121.2h.8v.8h-.8zM480.9 122.1h.8v.8h-.8zM474.2 125.2h.8v.8h-.8zM473.9 125.1h.8v.8h-.8zM478.4 127.0h.8v.8h-.8zM485.0 125.6h.8v.8h-.8zM478.7 127.8h.8v.8h-.8zM479.1 124.2h.8v.8h-.8zM473.8 126.1h.8v.8h-.8zM476.1 127.8h.8v.8h-.8zM480.8 125.3h.8v.8h-.8zM476.7 128.3h.8v.8h-.8zM478.3 127.4h.8v.8h-.8zM479.3 122.2h.8v.8h-.8zM481.2 126.7h.8v.8h-.8zM479.6 127.1h.8v.8h-.8zM475.1 125.9h.8v.8h-.8zM478.8 123.2h.8v.8h-.8zM481.0 120.7h.8v.8h-.8zM481.6 125.3h.8v.8h-.8zM481.9 122.8h.8v.8h-.8zM485.5 124.5h.8v.8h-.8zM480.4 123.1h.8v.8h-.8zM480.6 124.7h.8v.8h-.8zM480.0 124.6h.8v.8h-.8zM478.8 125.3h.8v.8h-.8zM482.4 123.8h.8v.8h-.8zM475.6 120.8h.8v.8h-.8zM480.7 129.3h.8v.8h-.8zM480.4 126.1h.8v.8h-.8zM480.6 124.9h.8v.8h-.8zM481.1 122.1h.8v.8h-.8zM480.7 122.9h.8v.8h-.8zM477.1 124.4h.8v.8h-.8zM478.0 125.3h.8v.8h-.8zM484.3 125.2h.8v.8h-.8z" fill="#000"/>
<rect x="383" y="24.6" width="58.80000000000001" height="52.4" fill="none" stroke="#444" stroke-width="0.9"/>
<line x1="412.5" y1="24.6" x2="412.5" y2="77" stroke="#555" stroke-width="0.75"/>
<line x1="383" y1="53.5" x2="441.8" y2="53.5" stroke="#555" stroke-width="0.75"/>
<rect x="443.3" y="24.6" width="58.599999999999966" height="52.4" fill="none" stroke="#444" stroke-width="0.9"/>
<line x1="473.2" y1="24.6" x2="473.2" y2="77" stroke="#555" stroke-width="0.75"/>
<line x1="443.3" y1="53.5" x2="501.9" y2="53.5" stroke="#555" stroke-width="0.75"/>
<rect x="383" y="77.4" width="58.80000000000001" height="52.599999999999994" fill="none" stroke="#444" stroke-width="0.9"/>
<line x1="412.5" y1="77.4" x2="412.5" y2="130" stroke="#555" stroke-width="0.75"/>
<line x1="383" y1="106.5" x2="441.8" y2="106.5" stroke="#555" stroke-width="0.75"/>
<rect x="443.3" y="77.4" width="58.599999999999966" height="52.599999999999994" fill="none" stroke="#444" stroke-width="0.9"/>
<line x1="473.2" y1="77.4" x2="473.2" y2="130" stroke="#555" stroke-width="0.75"/>
<line x1="443.3" y1="107" x2="501.9" y2="107" stroke="#555" stroke-width="0.75"/>
<text class="ss" x="398" y="33.8" font-family="Liberation Serif, serif" font-size="8.3" font-weight="bold" text-anchor="middle" fill="#000">U266</text>
<text class="ss" x="438.90000000000003" y="36" font-family="Liberation Serif, serif" font-size="7.9" font-weight="bold" text-anchor="middle" fill="#000" transform="rotate(-90 438.90000000000003 36)" textLength="19.0" lengthAdjust="spacingAndGlyphs">0.62%</text>
<text class="ss" x="438.90000000000003" y="65.8" font-family="Liberation Serif, serif" font-size="7.9" font-weight="bold" text-anchor="middle" fill="#000" transform="rotate(-90 438.90000000000003 65.8)" textLength="19.0" lengthAdjust="spacingAndGlyphs">4.54%</text>
<text class="ss" x="499.1" y="36.5" font-family="Liberation Serif, serif" font-size="7.9" font-weight="bold" text-anchor="middle" fill="#000" transform="rotate(-90 499.1 36.5)" textLength="19.0" lengthAdjust="spacingAndGlyphs">0.72%</text>
<text class="ss" x="499.1" y="66.2" font-family="Liberation Serif, serif" font-size="7.9" font-weight="bold" text-anchor="middle" fill="#000" transform="rotate(-90 499.1 66.2)" textLength="19.0" lengthAdjust="spacingAndGlyphs">8.67%</text>
<text class="ss" x="438.90000000000003" y="92" font-family="Liberation Serif, serif" font-size="7.9" font-weight="bold" text-anchor="middle" fill="#000" transform="rotate(-90 438.90000000000003 92)" textLength="19.0" lengthAdjust="spacingAndGlyphs">1.76%</text>
<text class="ss" x="438.90000000000003" y="117.3" font-family="Liberation Serif, serif" font-size="7.9" font-weight="bold" text-anchor="middle" fill="#000" transform="rotate(-90 438.90000000000003 117.3)" textLength="21.8" lengthAdjust="spacingAndGlyphs">13.86%</text>
<text class="ss" x="499.1" y="90.5" font-family="Liberation Serif, serif" font-size="7.9" font-weight="bold" text-anchor="middle" fill="#000" transform="rotate(-90 499.1 90.5)" textLength="19.0" lengthAdjust="spacingAndGlyphs">6.57%</text>
<text class="ss" x="499.1" y="117.9" font-family="Liberation Serif, serif" font-size="7.9" font-weight="bold" text-anchor="middle" fill="#000" transform="rotate(-90 499.1 117.9)" textLength="21.8" lengthAdjust="spacingAndGlyphs">54.48%</text>
</svg>
</body></html>
